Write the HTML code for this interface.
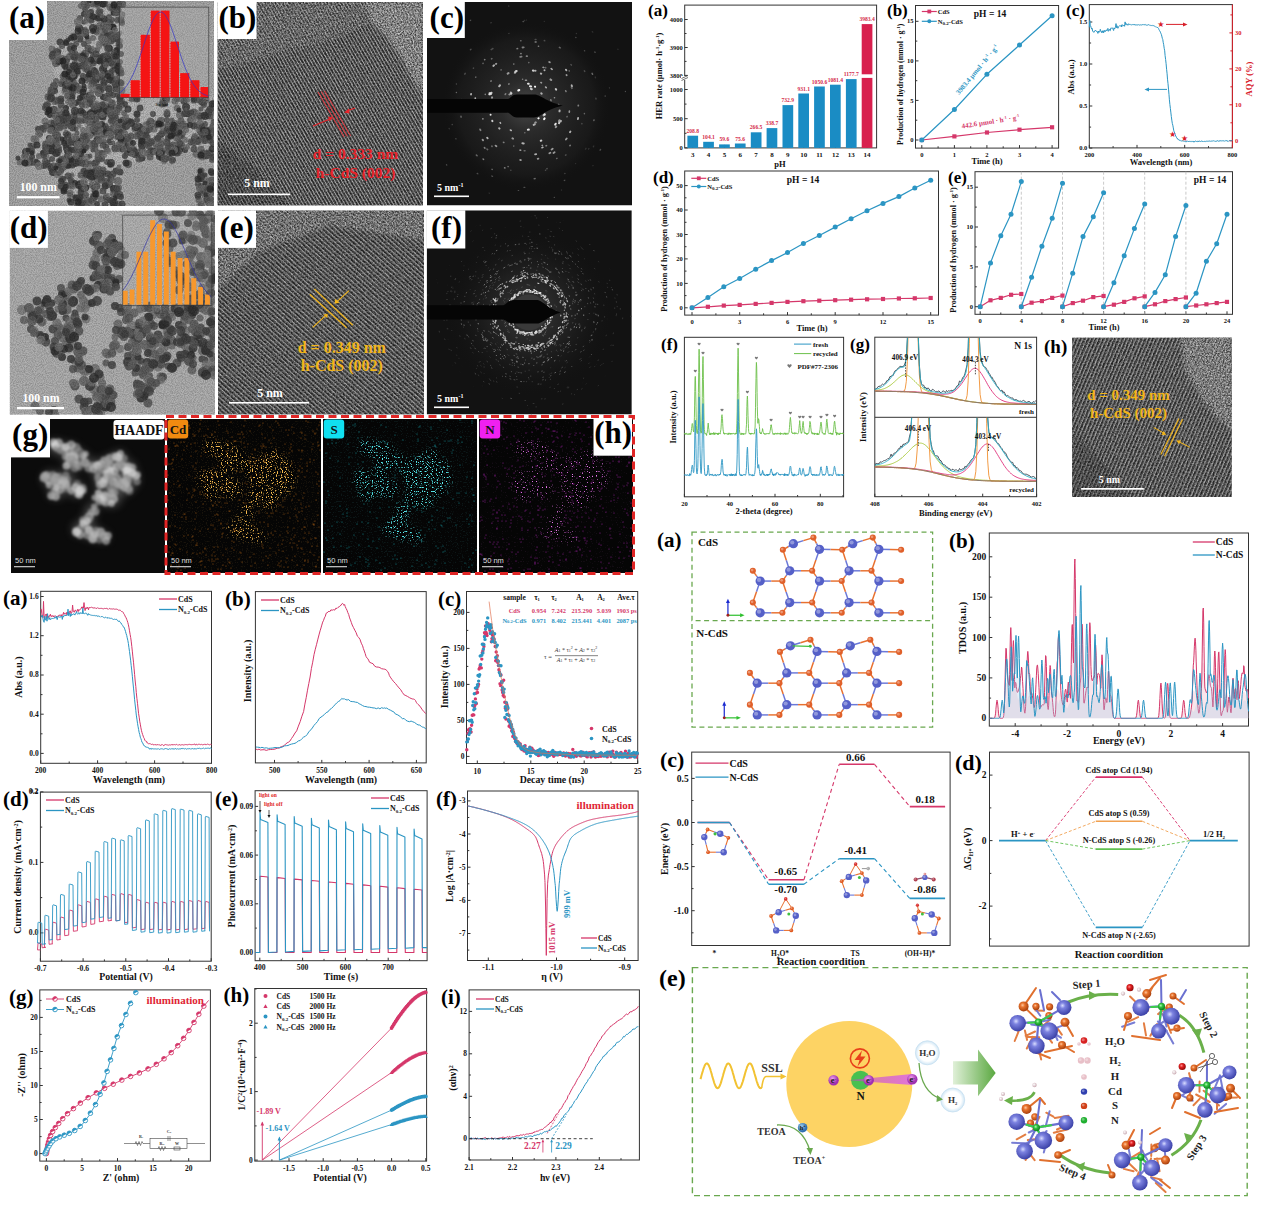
<!DOCTYPE html><html><head><meta charset="utf-8"><title>Figure</title><style>html,body{margin:0;padding:0;background:#fff;}svg{display:block;}</style></head><body>
<svg width="1269" height="1211" viewBox="0 0 1269 1211" font-family="'Liberation Serif', serif">
<rect width="1269" height="1211" fill="#fff"/>
<defs>
<filter id="fnoise" x="0" y="0" width="100%" height="100%"><feTurbulence type="fractalNoise" baseFrequency="0.9" numOctaves="2" seed="3" result="t"/><feColorMatrix type="matrix" values="0 0 0 0 0  0 0 0 0 0  0 0 0 0 0  0 0 0 -2.2 1.5" /></filter>
<filter id="fnoise2" x="0" y="0" width="100%" height="100%"><feTurbulence type="fractalNoise" baseFrequency="0.6" numOctaves="2" seed="7"/><feColorMatrix type="matrix" values="0 0 0 0 1  0 0 0 0 1  0 0 0 0 1  0 0 0 -2.5 1.6" /></filter>
<filter id="fblur04"><feGaussianBlur stdDeviation="0.45"/></filter>
<filter id="fblur1"><feGaussianBlur stdDeviation="1"/></filter>
<filter id="fblur2"><feGaussianBlur stdDeviation="2.2"/></filter>
<filter id="fblur4" x="-50%" y="-50%" width="200%" height="200%"><feGaussianBlur stdDeviation="4"/></filter>
<filter id="fblur6" x="-50%" y="-50%" width="200%" height="200%"><feGaussianBlur stdDeviation="7"/></filter>
<linearGradient id="gS"><stop offset="0" stop-color="#1c1c1c"/><stop offset="0.3" stop-color="#2a2a2a"/><stop offset="0.55" stop-color="#d8d8d8"/><stop offset="0.8" stop-color="#2a2a2a"/><stop offset="1" stop-color="#1c1c1c"/></linearGradient><pattern id="stripeB" width="3.0" height="20" patternUnits="userSpaceOnUse" patternTransform="rotate(-30)"><rect width="3.0" height="20" fill="url(#gS)"/></pattern>
<pattern id="stripeE" width="3.5" height="20" patternUnits="userSpaceOnUse" patternTransform="rotate(-48)"><rect width="3.5" height="20" fill="url(#gS)"/></pattern>
<pattern id="stripeH" width="3.5" height="20" patternUnits="userSpaceOnUse" patternTransform="rotate(23)"><rect width="3.5" height="20" fill="url(#gS)"/></pattern>
<radialGradient id="haloC"><stop offset="0" stop-color="#666" stop-opacity="0.7"/><stop offset="0.3" stop-color="#444" stop-opacity="0.5"/><stop offset="0.8" stop-color="#2a2a2a" stop-opacity="0.3"/><stop offset="1" stop-color="#111" stop-opacity="0"/></radialGradient>
<radialGradient id="haloF"><stop offset="0" stop-color="#555" stop-opacity="0.6"/><stop offset="0.5" stop-color="#333" stop-opacity="0.4"/><stop offset="0.8" stop-color="#1c1c1c" stop-opacity="0.2"/><stop offset="1" stop-color="#111" stop-opacity="0"/></radialGradient>
</defs>
<clipPath id="cpa"><rect x="9" y="1" width="205" height="205"/></clipPath>
<g clip-path="url(#cpa)">
<rect x="9" y="1" width="205" height="205" fill="#a9a9a9" stroke="none" stroke-width="1" />
<g filter="url(#fblur04)">
<path d="M82,1 L122,1 L122,98 L175,98 L214,98 L214,165 L200,158 L185,150 L170,160 L150,160 L125,165 L118,185 L125,206 L68,206 L62,190 L55,175 L40,168 L22,165 L15,158 L25,150 L36,135 L41,120 L48,95 L56,75 L50,60 L53,45 L68,38 L79,20Z" fill="#b8b8b8" filter="url(#fblur2)"/>
<path d="M53 56h0M81 141h0M90 96h0M103 3h0M63 187h0M152 142h0M53 127h0M202 192h0M206 196h0M65 75h0M118 181h0M118 188h0M108 48h0M121 101h0M180 115h0M200 130h0M88 203h0M195 138h0M197 140h0" stroke="rgb(104,104,104)" stroke-width="8.0" stroke-linecap="round" stroke-opacity="0.8"/>
<path d="M69 200h0M60 166h0M92 134h0M84 22h0M118 7h0M104 38h0M81 157h0M65 139h0M100 140h0M177 99h0" stroke="rgb(64,64,64)" stroke-width="5.0" stroke-linecap="round" stroke-opacity="0.8"/>
<path d="M203 102h0M26 152h0M104 26h0M68 151h0M142 145h0M186 107h0M139 127h0M181 135h0M98 60h0M204 131h0M172 134h0M53 172h0M90 103h0M99 59h0M95 131h0M81 57h0" stroke="rgb(48,48,48)" stroke-width="8.0" stroke-linecap="round" stroke-opacity="0.8"/>
<path d="M206 100h0M101 130h0M138 132h0M196 154h0M88 41h0M178 138h0M86 105h0M163 101h0M99 159h0M94 58h0M77 157h0M154 129h0M89 143h0M95 71h0M117 84h0M116 81h0M210 189h0M81 203h0M117 110h0M57 100h0M34 139h0M95 194h0M79 155h0M175 101h0M62 179h0M120 98h0M136 98h0M110 200h0M70 193h0M201 149h0M209 181h0M65 115h0M115 9h0M20 162h0M51 123h0M73 105h0M177 108h0M86 80h0M101 199h0M61 58h0M115 116h0M56 127h0M58 138h0M102 114h0M199 200h0M214 103h0M27 151h0M202 132h0M69 93h0M135 129h0" stroke="rgb(104,104,104)" stroke-width="7.0" stroke-linecap="round" stroke-opacity="0.8"/>
<path d="M102 116h0M102 129h0M105 127h0M201 178h0M54 86h0M82 188h0M69 164h0M109 184h0M114 56h0M109 23h0M79 28h0M118 68h0M75 67h0M192 115h0M85 188h0M83 59h0M146 131h0" stroke="rgb(72,72,72)" stroke-width="8.0" stroke-linecap="round" stroke-opacity="0.8"/>
<path d="M71 182h0M59 124h0M100 13h0M76 138h0M101 57h0M95 163h0M135 152h0M83 76h0M86 35h0M51 127h0M120 62h0M117 50h0M61 114h0M66 147h0M96 169h0M69 160h0M142 146h0M171 146h0M106 181h0M194 139h0M120 194h0M111 133h0M106 42h0M94 108h0M103 97h0M137 120h0M103 35h0M63 179h0M102 159h0M165 104h0M84 44h0M153 114h0M115 85h0M32 151h0M198 184h0M85 9h0M121 126h0M59 151h0M97 162h0M204 115h0M59 161h0M79 199h0M69 57h0M87 6h0M212 183h0M52 159h0M211 129h0M74 71h0M182 124h0M117 52h0" stroke="rgb(72,72,72)" stroke-width="6.0" stroke-linecap="round" stroke-opacity="0.8"/>
<path d="M94 197h0M108 132h0M142 142h0M93 83h0M76 150h0M101 177h0M95 73h0M66 60h0M95 76h0M166 98h0M65 65h0M54 110h0M71 98h0M98 140h0" stroke="rgb(64,64,64)" stroke-width="8.0" stroke-linecap="round" stroke-opacity="0.8"/>
<path d="M79 185h0M186 113h0M115 189h0M114 189h0M75 163h0M136 127h0" stroke="rgb(40,40,40)" stroke-width="8.0" stroke-linecap="round" stroke-opacity="0.8"/>
<path d="M151 121h0M56 140h0M180 150h0M49 138h0M66 108h0M60 61h0M50 115h0M168 131h0M102 124h0M186 126h0M49 110h0M126 146h0M119 4h0M59 126h0M43 153h0M179 148h0M117 50h0M212 173h0" stroke="rgb(40,40,40)" stroke-width="6.0" stroke-linecap="round" stroke-opacity="0.8"/>
<path d="M118 206h0M63 82h0M119 136h0M114 65h0M119 148h0M97 179h0M60 127h0M175 124h0M55 101h0M137 153h0M178 152h0M69 96h0M100 26h0M106 185h0M102 38h0" stroke="rgb(96,96,96)" stroke-width="8.0" stroke-linecap="round" stroke-opacity="0.8"/>
<path d="M177 133h0M175 129h0M120 172h0M57 148h0M115 148h0M213 157h0M80 39h0M102 111h0M167 114h0M69 143h0M104 83h0M177 152h0M201 176h0M100 18h0M60 42h0M66 67h0M105 186h0M100 173h0M47 105h0M173 125h0M167 142h0M105 73h0M108 174h0M94 176h0M123 149h0M169 131h0M81 192h0M99 18h0M204 130h0M116 171h0M97 140h0M84 171h0M124 141h0M103 117h0M92 172h0M151 151h0M120 97h0M80 160h0M76 198h0M160 148h0M169 147h0" stroke="rgb(56,56,56)" stroke-width="7.0" stroke-linecap="round" stroke-opacity="0.8"/>
<path d="M160 145h0M57 153h0M92 124h0M122 105h0M76 113h0M33 146h0M115 113h0M95 31h0M93 90h0M106 36h0M83 158h0M53 142h0M89 128h0M89 175h0M105 4h0M102 77h0M204 191h0M79 163h0M47 143h0M118 204h0M90 114h0M112 30h0M46 156h0M163 127h0M58 51h0M146 125h0M150 121h0M101 31h0M59 111h0M206 181h0M151 153h0M105 24h0M52 49h0M183 124h0M101 113h0M212 188h0M96 104h0M36 140h0M156 144h0M72 160h0M70 56h0M168 134h0M81 56h0M65 91h0M54 146h0M118 188h0M73 36h0M100 89h0M91 86h0M87 157h0M88 132h0M101 131h0M125 122h0M51 138h0M105 29h0M45 121h0M202 157h0M162 141h0M85 59h0M123 128h0" stroke="rgb(112,112,112)" stroke-width="7.0" stroke-linecap="round" stroke-opacity="0.8"/>
<path d="M112 82h0M200 204h0M72 175h0M78 72h0M56 148h0M111 92h0M76 129h0M195 117h0M99 168h0M97 33h0M63 78h0M65 58h0M77 162h0" stroke="rgb(96,96,96)" stroke-width="5.0" stroke-linecap="round" stroke-opacity="0.8"/>
<path d="M117 13h0M207 156h0M71 140h0M78 163h0M194 99h0M214 183h0M102 153h0M139 155h0M162 134h0M121 197h0M158 138h0M76 103h0M58 52h0M38 129h0M202 126h0M85 65h0M29 162h0M185 150h0M113 117h0M61 181h0M91 12h0M113 203h0M112 71h0M115 66h0M172 128h0M211 172h0M106 27h0M91 51h0M70 49h0M122 23h0M41 130h0M87 70h0M121 132h0M73 86h0M61 61h0M211 188h0M127 153h0M71 86h0M105 98h0M97 204h0M70 68h0M74 143h0M103 97h0M120 46h0M131 153h0M106 44h0M55 91h0M125 156h0M81 154h0M107 36h0M94 70h0M89 95h0M111 116h0" stroke="rgb(56,56,56)" stroke-width="6.0" stroke-linecap="round" stroke-opacity="0.8"/>
<path d="M104 135h0M54 109h0M166 158h0M63 120h0M64 111h0M95 166h0M80 183h0M78 153h0M113 194h0M85 30h0M119 126h0M186 111h0M213 109h0M157 150h0M147 153h0M167 112h0M162 120h0M124 113h0M92 117h0M74 82h0M104 142h0M39 156h0M199 140h0M66 125h0M30 160h0M104 142h0M68 77h0M121 70h0M120 41h0M108 106h0M97 141h0M70 195h0M97 50h0M204 141h0M182 145h0M53 57h0M66 125h0M111 165h0M48 104h0M78 73h0M93 61h0M77 90h0M65 61h0M200 156h0M58 153h0M60 120h0M194 140h0M97 135h0M157 147h0M86 67h0M83 100h0M211 113h0M98 6h0M104 104h0M166 143h0M68 78h0M134 149h0M113 201h0" stroke="rgb(96,96,96)" stroke-width="6.0" stroke-linecap="round" stroke-opacity="0.8"/>
<path d="M205 175h0M45 149h0M36 161h0M70 160h0M83 57h0M90 50h0M117 195h0M197 139h0M68 40h0M72 182h0M46 163h0M65 121h0M18 158h0M75 197h0M83 64h0M93 187h0M110 165h0M109 141h0M48 162h0M105 72h0" stroke="rgb(56,56,56)" stroke-width="5.0" stroke-linecap="round" stroke-opacity="0.8"/>
<path d="M111 137h0M106 147h0M56 142h0M86 99h0M100 17h0M111 121h0M61 101h0M93 146h0M125 104h0M84 89h0M211 171h0M101 91h0M76 144h0M108 57h0M208 116h0M102 77h0M106 129h0M86 136h0M197 140h0M68 116h0M106 197h0M110 200h0M50 166h0M114 11h0M78 102h0M81 204h0M187 114h0M32 157h0M113 95h0M135 155h0M83 203h0M66 134h0M66 42h0M103 56h0M201 179h0M161 135h0M107 150h0M44 166h0M120 82h0M66 148h0M81 197h0M115 114h0M173 160h0M103 173h0M71 102h0M75 76h0M67 156h0M146 135h0" stroke="rgb(64,64,64)" stroke-width="6.0" stroke-linecap="round" stroke-opacity="0.8"/>
<path d="M110 143h0M102 43h0M96 129h0M66 133h0M114 79h0M201 109h0M90 163h0M90 156h0M148 123h0M156 138h0M159 135h0M54 172h0M205 130h0M70 179h0M24 156h0" stroke="rgb(80,80,80)" stroke-width="5.0" stroke-linecap="round" stroke-opacity="0.8"/>
<path d="M83 184h0M90 70h0M107 97h0M56 63h0M43 129h0M76 57h0M63 167h0M94 144h0M179 129h0M207 155h0M97 174h0M122 124h0M119 70h0M87 201h0M116 84h0M128 164h0M122 4h0M194 142h0M56 116h0" stroke="rgb(88,88,88)" stroke-width="8.0" stroke-linecap="round" stroke-opacity="0.8"/>
<path d="M184 133h0M112 125h0M66 132h0M202 136h0M111 79h0M89 97h0M100 125h0M85 99h0M120 33h0M106 134h0M198 182h0M79 126h0M91 136h0M51 89h0" stroke="rgb(112,112,112)" stroke-width="5.0" stroke-linecap="round" stroke-opacity="0.8"/>
<path d="M77 85h0M97 81h0M30 145h0M82 206h0M94 123h0M89 171h0M120 141h0M207 129h0M93 150h0M81 67h0M159 152h0M110 179h0M75 68h0M117 95h0" stroke="rgb(72,72,72)" stroke-width="5.0" stroke-linecap="round" stroke-opacity="0.8"/>
<path d="M86 139h0M207 189h0M85 54h0M127 138h0" stroke="rgb(80,80,80)" stroke-width="8.0" stroke-linecap="round" stroke-opacity="0.8"/>
<path d="M48 151h0M105 107h0M105 3h0M203 138h0M106 36h0M202 136h0M57 101h0M92 98h0M79 88h0M56 81h0M39 131h0M73 85h0M83 96h0M80 35h0M86 148h0M99 94h0M85 69h0M114 13h0M93 98h0M56 51h0M117 137h0M72 82h0M62 46h0M209 187h0M61 84h0M117 123h0M73 93h0M132 99h0M52 128h0M75 63h0M118 35h0M210 141h0M91 114h0M106 114h0M199 117h0M40 129h0M119 5h0M106 108h0M82 144h0M89 79h0M108 55h0M45 144h0M110 129h0M172 161h0M163 151h0M99 126h0M71 96h0M201 102h0M85 98h0M93 56h0M198 197h0M118 40h0M65 89h0" stroke="rgb(88,88,88)" stroke-width="6.0" stroke-linecap="round" stroke-opacity="0.8"/>
<path d="M53 54h0M209 111h0M140 108h0M68 135h0M71 150h0M72 97h0M59 119h0M159 123h0M73 128h0M88 18h0M80 184h0M72 165h0M105 205h0M79 66h0M142 129h0M71 126h0M117 39h0M63 121h0M61 99h0M37 163h0M184 101h0M52 145h0M208 112h0M198 195h0M44 153h0M93 76h0M74 159h0M121 83h0M162 158h0M134 151h0M80 197h0M137 99h0M108 35h0M99 87h0M113 39h0M194 126h0M91 20h0M65 185h0M119 45h0M116 89h0M194 100h0M74 57h0M83 144h0M212 133h0M117 132h0M111 76h0M75 120h0M51 168h0M122 204h0M98 18h0M90 117h0M153 151h0M51 93h0M83 150h0M83 113h0M121 92h0M106 133h0" stroke="rgb(64,64,64)" stroke-width="7.0" stroke-linecap="round" stroke-opacity="0.8"/>
<path d="M108 151h0M86 21h0M201 149h0M71 66h0M117 107h0M50 151h0M117 109h0M106 43h0M66 113h0M104 155h0M93 76h0M105 64h0M64 75h0M113 64h0M114 3h0M91 146h0M75 39h0M91 179h0M95 59h0M82 121h0M198 142h0M80 116h0M199 188h0M92 49h0M91 205h0M55 128h0M24 157h0M206 193h0M96 165h0M137 125h0M205 202h0M147 145h0M107 196h0M93 16h0M99 46h0M155 152h0M144 129h0M57 175h0M91 93h0M120 122h0M102 141h0M68 102h0M103 138h0M131 121h0M121 92h0M185 140h0M52 141h0M83 130h0M122 144h0M180 99h0M99 94h0M89 167h0M53 59h0M84 102h0M85 176h0M213 200h0M76 156h0M90 136h0M99 44h0M164 161h0" stroke="rgb(112,112,112)" stroke-width="6.0" stroke-linecap="round" stroke-opacity="0.8"/>
<path d="M213 181h0M95 109h0M96 54h0M104 82h0M167 130h0M61 105h0M97 3h0M115 8h0M213 143h0M68 176h0M111 41h0M64 119h0M61 186h0M117 196h0M96 119h0M93 63h0M204 135h0M151 142h0M149 143h0M210 138h0M210 153h0M102 105h0M96 124h0M95 144h0M142 149h0M147 137h0M194 149h0M201 175h0M177 153h0M69 119h0M95 115h0M128 121h0M103 191h0M54 123h0M81 30h0M117 189h0M86 115h0M74 116h0M140 134h0M111 177h0M111 63h0M190 114h0M191 113h0M202 116h0M119 108h0M45 165h0M180 144h0M97 186h0M120 102h0M98 115h0M210 109h0M165 159h0M141 137h0M95 190h0" stroke="rgb(72,72,72)" stroke-width="7.0" stroke-linecap="round" stroke-opacity="0.8"/>
<path d="M113 121h0M205 141h0M80 18h0M116 118h0M114 52h0M99 78h0M107 200h0M44 156h0M86 147h0M105 30h0M45 108h0M29 163h0M120 82h0M42 128h0M109 17h0M58 135h0M112 34h0M190 120h0M201 186h0M172 152h0M146 144h0M198 100h0M168 138h0M72 91h0M149 147h0M158 139h0M86 195h0M71 185h0M212 160h0M167 120h0M204 105h0M45 147h0M205 124h0M77 205h0M198 142h0M169 158h0M112 20h0M184 114h0M59 148h0M200 127h0M32 148h0M168 152h0M105 88h0M149 130h0M117 79h0M61 159h0M107 162h0M76 44h0M82 105h0M203 191h0M57 166h0M55 134h0M207 134h0M108 61h0M59 173h0M68 117h0M32 163h0M157 125h0M82 97h0M109 73h0M61 171h0M79 121h0M45 161h0M59 124h0M195 125h0M150 128h0" stroke="rgb(80,80,80)" stroke-width="6.0" stroke-linecap="round" stroke-opacity="0.8"/>
<path d="M210 199h0M99 174h0M80 144h0M173 145h0M65 141h0M85 164h0M85 137h0M111 38h0M90 13h0M110 49h0M84 78h0M130 142h0M179 142h0M71 69h0M150 157h0M98 157h0M120 70h0M48 97h0M47 151h0M123 120h0M81 175h0M64 159h0M103 4h0M51 90h0M96 29h0M181 121h0M116 36h0M98 153h0M84 4h0M60 127h0M105 43h0M108 76h0M73 124h0M56 131h0M113 204h0M162 104h0M104 67h0M95 143h0M105 39h0M122 90h0M72 53h0M113 57h0M168 125h0M119 73h0M86 163h0M54 166h0M84 66h0M112 114h0M116 60h0M162 133h0M93 4h0M168 147h0M95 147h0" stroke="rgb(88,88,88)" stroke-width="7.0" stroke-linecap="round" stroke-opacity="0.8"/>
<path d="M212 191h0M87 187h0M114 27h0M115 198h0M205 183h0M120 121h0M62 139h0M88 75h0M60 161h0M28 150h0M78 140h0M129 150h0M105 132h0M84 86h0M113 13h0M180 132h0M70 86h0M32 153h0M206 195h0" stroke="rgb(48,48,48)" stroke-width="5.0" stroke-linecap="round" stroke-opacity="0.8"/>
<path d="M91 173h0M77 71h0M121 73h0M90 74h0M99 109h0M73 88h0M175 151h0M81 111h0M113 27h0M207 133h0M111 107h0M91 60h0M94 111h0M109 48h0M142 141h0M176 149h0M110 80h0M162 157h0M90 176h0M78 31h0M198 179h0M126 163h0M121 20h0M128 109h0M52 151h0M116 56h0M108 59h0M121 138h0M109 89h0M159 154h0M173 128h0M83 56h0M103 4h0M74 37h0M37 145h0M71 202h0M142 158h0M96 79h0M212 149h0M66 113h0M64 191h0M118 10h0M100 61h0M118 66h0M104 19h0M212 104h0M106 111h0M92 177h0" stroke="rgb(48,48,48)" stroke-width="7.0" stroke-linecap="round" stroke-opacity="0.8"/>
<path d="M95 163h0M108 48h0M115 83h0M75 54h0M194 112h0M83 136h0M113 174h0M85 60h0M88 48h0M201 171h0M68 123h0M71 46h0M137 136h0M94 81h0M112 103h0M86 32h0M103 170h0M107 55h0M205 156h0M30 162h0M207 200h0M51 93h0M99 12h0M98 175h0M110 62h0M118 20h0M131 136h0M135 127h0M82 163h0M214 122h0M101 180h0M207 153h0M99 77h0M46 126h0M92 200h0M139 159h0M203 153h0M109 94h0M46 106h0M210 116h0M191 142h0M207 132h0M200 116h0M117 9h0M103 145h0M85 120h0M52 56h0M71 142h0M210 136h0M95 73h0M109 88h0" stroke="rgb(80,80,80)" stroke-width="7.0" stroke-linecap="round" stroke-opacity="0.8"/>
<path d="M47 113h0M70 88h0M87 37h0M179 110h0M89 1h0M84 151h0M56 168h0M200 171h0" stroke="rgb(40,40,40)" stroke-width="5.0" stroke-linecap="round" stroke-opacity="0.8"/>
<path d="M87 174h0M74 66h0M75 111h0M131 123h0M93 28h0M205 116h0M103 69h0M126 126h0M69 76h0M105 63h0M66 85h0M56 153h0M51 98h0M68 150h0M111 163h0M114 203h0M51 145h0" stroke="rgb(56,56,56)" stroke-width="8.0" stroke-linecap="round" stroke-opacity="0.8"/>
<path d="M102 16h0M97 77h0M97 93h0M87 19h0M116 78h0M119 167h0M87 206h0M176 139h0M62 76h0M199 189h0" stroke="rgb(104,104,104)" stroke-width="5.0" stroke-linecap="round" stroke-opacity="0.8"/>
<path d="M128 126h0M26 155h0M176 125h0M77 133h0M92 199h0M72 180h0M200 133h0M89 98h0M66 150h0M61 170h0M65 127h0M113 143h0M101 11h0M128 110h0M111 130h0M52 92h0M172 120h0M97 125h0" stroke="rgb(88,88,88)" stroke-width="5.0" stroke-linecap="round" stroke-opacity="0.8"/>
<path d="M50 141h0M72 103h0M109 135h0M78 145h0M104 40h0M193 119h0M78 22h0M75 137h0M27 163h0M39 134h0M84 182h0M143 153h0M39 166h0M174 150h0" stroke="rgb(112,112,112)" stroke-width="8.0" stroke-linecap="round" stroke-opacity="0.8"/>
<path d="M74 48h0M190 125h0M203 130h0M59 62h0M69 72h0M84 14h0M108 76h0M66 187h0M121 140h0M133 143h0M161 124h0M94 17h0M121 83h0M61 61h0M64 143h0M68 166h0M73 122h0M71 79h0M74 77h0M174 125h0M93 31h0M66 43h0M71 38h0M162 153h0M159 157h0M118 71h0M97 2h0M207 131h0M52 128h0M80 98h0M112 27h0M64 190h0M112 8h0M121 54h0M71 160h0M91 112h0M208 134h0M90 113h0M92 16h0M75 183h0M130 150h0M209 137h0" stroke="rgb(48,48,48)" stroke-width="6.0" stroke-linecap="round" stroke-opacity="0.8"/>
<path d="M214 205h0M115 149h0M92 185h0M214 133h0M110 111h0M205 132h0M97 106h0M93 129h0M111 8h0M51 130h0M184 126h0M117 112h0M56 135h0M89 122h0M58 60h0M69 155h0M153 124h0M94 107h0M81 59h0M153 123h0M57 142h0M110 7h0M130 148h0M119 145h0M164 158h0M201 206h0M213 126h0M116 13h0M88 65h0M68 83h0M212 180h0M114 127h0M72 186h0M182 125h0M161 144h0M108 26h0M112 103h0M122 15h0M91 115h0M87 14h0M121 90h0M94 126h0M211 193h0M120 136h0M85 33h0" stroke="rgb(96,96,96)" stroke-width="7.0" stroke-linecap="round" stroke-opacity="0.8"/>
<path d="M58 145h0M160 120h0M195 136h0M106 27h0M202 188h0M177 99h0M124 149h0M50 131h0M98 92h0M167 100h0M187 100h0M187 147h0M57 120h0M209 204h0M102 115h0M64 164h0M113 180h0M109 100h0M81 6h0M106 65h0M79 91h0M84 143h0M108 28h0M66 161h0M102 74h0M99 141h0M108 42h0M125 133h0M101 135h0M93 38h0M67 96h0M212 180h0M58 55h0M197 113h0M85 188h0M160 153h0M132 154h0M126 117h0M40 134h0M96 187h0M99 124h0M115 30h0M26 156h0M73 75h0M186 130h0M200 122h0" stroke="rgb(104,104,104)" stroke-width="6.0" stroke-linecap="round" stroke-opacity="0.8"/>
<path d="M210 189h0M171 136h0M78 202h0M137 114h0M201 155h0M65 74h0M25 163h0M49 110h0M96 194h0M83 92h0M82 81h0M172 153h0M159 124h0M114 5h0M63 61h0" stroke="rgb(40,40,40)" stroke-width="7.0" stroke-linecap="round" stroke-opacity="0.8"/>
</g>
<rect x="9" y="1" width="205" height="205" fill="#000" stroke="none" stroke-width="1" filter="url(#fnoise)" opacity="0.22"/>
<rect x="119.3" y="7.1" width="89.5" height="90.5" fill="#b4b4b4" stroke="none" stroke-width="1" fill-opacity="0.3"/>
<rect x="120.5" y="93.8" width="9.3" height="3.8" fill="#f41414" stroke="none" stroke-width="1" />
<rect x="130.4" y="80.2" width="9.6" height="17.4" fill="#f41414" stroke="none" stroke-width="1" />
<rect x="140.4" y="34.8" width="9.6" height="62.8" fill="#f41414" stroke="none" stroke-width="1" />
<rect x="150.5" y="10.6" width="9.3" height="87" fill="#f41414" stroke="none" stroke-width="1" />
<rect x="160.4" y="10.6" width="9.1" height="87" fill="#f41414" stroke="none" stroke-width="1" />
<rect x="170.2" y="41.6" width="8.8" height="56" fill="#f41414" stroke="none" stroke-width="1" />
<rect x="180" y="73.1" width="9.3" height="24.5" fill="#f41414" stroke="none" stroke-width="1" />
<rect x="190.1" y="80.2" width="9.3" height="17.4" fill="#f41414" stroke="none" stroke-width="1" />
<rect x="200.2" y="87" width="8.1" height="10.6" fill="#f41414" stroke="none" stroke-width="1" />
<line x1="130.2" y1="80.2" x2="130.2" y2="97.6" stroke="#ddd" stroke-width="0.6" stroke-dasharray="1.5,1"/>
<line x1="140.2" y1="34.8" x2="140.2" y2="97.6" stroke="#ddd" stroke-width="0.6" stroke-dasharray="1.5,1"/>
<line x1="150.3" y1="10.6" x2="150.3" y2="97.6" stroke="#ddd" stroke-width="0.6" stroke-dasharray="1.5,1"/>
<line x1="160.2" y1="10.6" x2="160.2" y2="97.6" stroke="#ddd" stroke-width="0.6" stroke-dasharray="1.5,1"/>
<line x1="170" y1="41.6" x2="170" y2="97.6" stroke="#ddd" stroke-width="0.6" stroke-dasharray="1.5,1"/>
<line x1="179.8" y1="73.1" x2="179.8" y2="97.6" stroke="#ddd" stroke-width="0.6" stroke-dasharray="1.5,1"/>
<line x1="189.9" y1="80.2" x2="189.9" y2="97.6" stroke="#ddd" stroke-width="0.6" stroke-dasharray="1.5,1"/>
<line x1="200" y1="87" x2="200" y2="97.6" stroke="#ddd" stroke-width="0.6" stroke-dasharray="1.5,1"/>
<polyline points="119.3,93.1 120.8,92.0 122.3,90.7 123.9,89.2 125.4,87.5 126.9,85.5 128.4,83.2 129.9,80.6 131.4,77.8 133.0,74.6 134.5,71.1 136.0,67.3 137.5,63.3 139.0,59.1 140.5,54.6 142.1,50.1 143.6,45.5 145.1,40.8 146.6,36.3 148.1,31.9 149.6,27.8 151.2,24.0 152.7,20.6 154.2,17.7 155.7,15.3 157.2,13.6 158.7,12.5 160.3,12.0 161.8,12.2 163.3,13.1 164.8,14.7 166.3,16.9 167.8,19.6 169.4,22.9 170.9,26.5 172.4,30.6 173.9,34.9 175.4,39.4 176.9,44.0 178.5,48.6 180.0,53.2 181.5,57.7 183.0,62.0 184.5,66.1 186.0,69.9 187.6,73.5 189.1,76.8 190.6,79.7 192.1,82.4 193.6,84.8 195.1,86.9 196.7,88.7 198.2,90.3 199.7,91.6 201.2,92.7 202.7,93.7 204.2,94.5 205.8,95.1 207.3,95.7 208.8,96.1" fill="none" stroke="#3434c8" stroke-width="0.7" stroke-linejoin="round" />
<rect x="119.3" y="7.1" width="89.5" height="90.5" fill="none" stroke="#333" stroke-width="0.6" />
<text x="129" y="101" font-size="2.5" text-anchor="middle" font-weight="bold" fill="#111" >0</text>
<text x="164" y="101" font-size="2.5" text-anchor="middle" font-weight="bold" fill="#111" >10</text>
<text x="207" y="101" font-size="2.5" text-anchor="middle" font-weight="bold" fill="#111" >20</text>
<text x="162" y="106" font-size="3" text-anchor="middle" font-weight="bold" fill="#111" >Size (nm)</text>
</g>
<rect x="0" y="0" width="47" height="40" fill="#fff" stroke="none" stroke-width="1" />
<text x="9" y="28" font-size="31" text-anchor="start" font-weight="bold" fill="#000" >(a)</text>
<text x="38.2" y="191.3" font-size="11.8" text-anchor="middle" font-weight="bold" fill="#fff" >100 nm</text>
<rect x="16.8" y="196.1" width="42.8" height="2.3" fill="#fff" stroke="none" stroke-width="1" />
<clipPath id="cpd"><rect x="9.6" y="210.6" width="205.4" height="204.2"/></clipPath>
<g clip-path="url(#cpd)">
<rect x="9.6" y="210.6" width="205.4" height="204.2" fill="#b0b0b0" stroke="none" stroke-width="1" />
<g filter="url(#fblur04)">
<path d="M139 372h0M184 317h0M135 373h0M68 345h0M202 346h0M106 270h0M190 256h0M170 249h0M137 383h0" stroke="rgb(80,80,80)" stroke-width="7.0" stroke-linecap="round" stroke-opacity="0.82"/>
<path d="M193 211h0M119 279h0M112 278h0M124 337h0M46 314h0M195 272h0M90 370h0M86 369h0M59 327h0M150 368h0M178 313h0M195 332h0M65 296h0M96 235h0M109 391h0M143 375h0M149 376h0M189 314h0M145 308h0M126 320h0" stroke="rgb(88,88,88)" stroke-width="8.0" stroke-linecap="round" stroke-opacity="0.82"/>
<path d="M84 371h0M67 310h0M202 308h0M85 402h0M106 268h0M74 289h0M161 377h0M192 265h0M160 314h0M110 389h0M72 325h0M40 310h0M78 368h0M214 337h0M137 331h0M213 248h0M134 313h0M202 278h0M192 370h0M206 350h0M108 277h0M42 322h0M92 289h0M33 315h0" stroke="rgb(96,96,96)" stroke-width="9.0" stroke-linecap="round" stroke-opacity="0.82"/>
<path d="M112 280h0M58 347h0M66 318h0M75 313h0M202 359h0M85 406h0M205 360h0M117 266h0" stroke="rgb(64,64,64)" stroke-width="7.0" stroke-linecap="round" stroke-opacity="0.82"/>
<path d="M58 309h0M150 305h0M96 394h0M74 361h0M198 270h0M65 344h0M133 338h0" stroke="rgb(112,112,112)" stroke-width="7.0" stroke-linecap="round" stroke-opacity="0.82"/>
<path d="M211 312h0M92 409h0M202 373h0M31 329h0M108 278h0M55 341h0M200 335h0M112 238h0M163 377h0M188 340h0M154 326h0M128 356h0M193 364h0M98 235h0M215 219h0M128 347h0" stroke="rgb(72,72,72)" stroke-width="8.0" stroke-linecap="round" stroke-opacity="0.82"/>
<path d="M120 349h0M184 240h0M101 413h0M172 317h0M120 265h0M116 286h0" stroke="rgb(120,120,120)" stroke-width="8.0" stroke-linecap="round" stroke-opacity="0.82"/>
<path d="M61 348h0M176 225h0M190 309h0M159 354h0M201 226h0M208 264h0M127 313h0M146 330h0M200 267h0M117 266h0M81 295h0M177 277h0M191 350h0M87 370h0M160 352h0M100 280h0M50 317h0M179 256h0M73 383h0M128 307h0M214 227h0M202 351h0M102 383h0M184 321h0" stroke="rgb(104,104,104)" stroke-width="8.0" stroke-linecap="round" stroke-opacity="0.82"/>
<path d="M71 334h0M202 287h0M156 344h0M205 233h0M193 358h0M67 302h0M196 224h0M199 343h0M200 318h0" stroke="rgb(96,96,96)" stroke-width="7.0" stroke-linecap="round" stroke-opacity="0.82"/>
<path d="M70 303h0M209 288h0M164 347h0M94 389h0M152 315h0M214 362h0M47 302h0M211 277h0M111 245h0M95 260h0M208 344h0M150 382h0M163 218h0M136 342h0M95 369h0" stroke="rgb(112,112,112)" stroke-width="10.0" stroke-linecap="round" stroke-opacity="0.82"/>
<path d="M188 351h0M132 326h0M22 310h0M32 315h0M86 371h0M208 280h0M101 405h0" stroke="rgb(120,120,120)" stroke-width="10.0" stroke-linecap="round" stroke-opacity="0.82"/>
<path d="M143 329h0M186 254h0M167 256h0M182 285h0M62 311h0M132 354h0M138 326h0M106 363h0" stroke="rgb(88,88,88)" stroke-width="7.0" stroke-linecap="round" stroke-opacity="0.82"/>
<path d="M80 283h0M210 303h0M138 369h0M150 387h0M152 347h0M132 343h0M87 304h0M210 237h0M152 386h0M34 331h0M109 241h0M213 357h0M35 406h0M105 258h0M188 297h0M170 314h0M210 351h0M118 324h0M126 313h0M62 335h0M63 338h0M169 224h0M106 353h0" stroke="rgb(104,104,104)" stroke-width="9.0" stroke-linecap="round" stroke-opacity="0.82"/>
<path d="M203 343h0M128 362h0M87 289h0M190 300h0M90 386h0M105 396h0M141 326h0M73 301h0M94 241h0M133 334h0M207 370h0M104 406h0M33 316h0" stroke="rgb(56,56,56)" stroke-width="10.0" stroke-linecap="round" stroke-opacity="0.82"/>
<path d="M138 362h0M182 237h0M183 255h0M100 377h0M85 308h0M86 319h0M158 367h0M213 277h0M141 387h0M151 351h0M73 346h0M193 311h0M183 311h0M186 331h0M187 281h0M44 338h0M138 333h0M206 365h0M183 239h0" stroke="rgb(120,120,120)" stroke-width="9.0" stroke-linecap="round" stroke-opacity="0.82"/>
<path d="M79 399h0M194 251h0M129 366h0M151 324h0M176 212h0M206 234h0M99 273h0M75 386h0M113 395h0M140 385h0M200 215h0M69 337h0M177 363h0M93 265h0M211 253h0M110 291h0M203 225h0M46 342h0M84 407h0M47 300h0M211 293h0M101 390h0M209 216h0" stroke="rgb(72,72,72)" stroke-width="9.0" stroke-linecap="round" stroke-opacity="0.82"/>
<path d="M167 243h0M142 334h0M209 346h0M69 348h0M167 234h0M198 335h0M70 339h0M122 331h0M99 374h0M37 301h0M106 407h0M179 290h0M169 225h0M120 263h0M39 319h0M193 348h0M78 324h0M163 324h0M181 281h0" stroke="rgb(56,56,56)" stroke-width="9.0" stroke-linecap="round" stroke-opacity="0.82"/>
<path d="M62 294h0M64 349h0M98 285h0M149 317h0M210 322h0M92 303h0M191 355h0M114 243h0M115 284h0M89 369h0M62 357h0M205 304h0M45 337h0M127 332h0" stroke="rgb(48,48,48)" stroke-width="8.0" stroke-linecap="round" stroke-opacity="0.82"/>
<path d="M103 398h0M32 321h0M29 308h0M159 360h0M181 212h0M144 388h0M99 246h0M151 343h0M81 365h0M207 219h0M108 244h0M203 243h0" stroke="rgb(88,88,88)" stroke-width="10.0" stroke-linecap="round" stroke-opacity="0.82"/>
<path d="M161 380h0M67 294h0M202 306h0M185 346h0M77 351h0M97 237h0M75 338h0M135 356h0M85 411h0M96 288h0M147 378h0M212 233h0M69 321h0M121 257h0M191 235h0M121 250h0M212 300h0M167 332h0" stroke="rgb(112,112,112)" stroke-width="8.0" stroke-linecap="round" stroke-opacity="0.82"/>
<path d="M57 353h0M165 316h0M203 372h0M204 220h0M103 274h0M111 253h0M149 307h0M201 257h0M210 332h0M52 315h0M98 414h0M122 334h0" stroke="rgb(80,80,80)" stroke-width="10.0" stroke-linecap="round" stroke-opacity="0.82"/>
<path d="M89 401h0M44 304h0M213 252h0M201 270h0M157 311h0M205 219h0M201 327h0M141 361h0M209 294h0M176 270h0M168 366h0M186 264h0" stroke="rgb(72,72,72)" stroke-width="7.0" stroke-linecap="round" stroke-opacity="0.82"/>
<path d="M172 346h0M210 212h0M41 336h0M108 355h0M103 269h0M134 362h0M62 303h0M115 337h0" stroke="rgb(104,104,104)" stroke-width="7.0" stroke-linecap="round" stroke-opacity="0.82"/>
<path d="M159 211h0M167 321h0M187 309h0M138 338h0M204 274h0M189 361h0" stroke="rgb(72,72,72)" stroke-width="10.0" stroke-linecap="round" stroke-opacity="0.82"/>
<path d="M170 329h0M213 270h0M98 275h0M180 343h0M106 392h0M148 403h0M119 246h0M38 311h0M194 324h0M79 331h0M144 329h0M165 308h0M161 364h0M72 335h0M83 351h0M213 370h0M214 338h0M111 259h0M127 331h0M210 284h0M75 317h0" stroke="rgb(80,80,80)" stroke-width="9.0" stroke-linecap="round" stroke-opacity="0.82"/>
<path d="M96 266h0M158 335h0M183 235h0M54 347h0M167 356h0M117 263h0M191 305h0M53 329h0M77 322h0M114 250h0M188 307h0M79 362h0M67 330h0M121 264h0" stroke="rgb(64,64,64)" stroke-width="9.0" stroke-linecap="round" stroke-opacity="0.82"/>
<path d="M87 412h0M144 394h0M136 357h0M145 345h0M136 347h0M129 333h0M84 381h0M215 332h0M69 330h0M115 247h0M115 345h0M79 353h0M215 245h0M171 340h0M193 341h0" stroke="rgb(96,96,96)" stroke-width="10.0" stroke-linecap="round" stroke-opacity="0.82"/>
<path d="M55 351h0M192 309h0M200 267h0M104 289h0M206 351h0M195 342h0M173 243h0M175 308h0M141 398h0M46 302h0M144 396h0M163 325h0M166 342h0M200 304h0M198 295h0M173 225h0M215 278h0" stroke="rgb(48,48,48)" stroke-width="9.0" stroke-linecap="round" stroke-opacity="0.82"/>
<path d="M183 330h0M152 359h0M145 325h0M194 238h0" stroke="rgb(120,120,120)" stroke-width="7.0" stroke-linecap="round" stroke-opacity="0.82"/>
<path d="M106 257h0M180 311h0M208 249h0M210 354h0M52 303h0M85 317h0M138 357h0" stroke="rgb(56,56,56)" stroke-width="7.0" stroke-linecap="round" stroke-opacity="0.82"/>
<path d="M193 272h0M108 270h0M177 342h0M170 261h0M40 335h0M205 350h0M178 274h0M184 337h0M166 358h0M188 223h0M71 359h0M115 306h0M63 304h0M212 324h0M148 317h0M213 280h0M185 354h0M179 325h0M154 364h0M136 368h0M212 279h0M192 315h0M108 252h0M148 353h0M150 338h0M147 362h0M78 346h0M180 355h0M195 307h0M97 406h0" stroke="rgb(56,56,56)" stroke-width="8.0" stroke-linecap="round" stroke-opacity="0.82"/>
<path d="M116 282h0M166 324h0M162 325h0M93 278h0M182 241h0M64 294h0" stroke="rgb(48,48,48)" stroke-width="7.0" stroke-linecap="round" stroke-opacity="0.82"/>
<path d="M206 310h0M97 397h0M181 343h0M112 252h0M210 262h0M104 390h0M59 300h0M137 351h0M214 237h0" stroke="rgb(104,104,104)" stroke-width="10.0" stroke-linecap="round" stroke-opacity="0.82"/>
<path d="M146 366h0M143 373h0M106 404h0M137 394h0M34 333h0M180 338h0M137 386h0M132 365h0M24 320h0M183 327h0M201 293h0M196 227h0M113 346h0M155 354h0M192 329h0M150 336h0M79 359h0M189 320h0M67 327h0M40 411h0" stroke="rgb(96,96,96)" stroke-width="8.0" stroke-linecap="round" stroke-opacity="0.82"/>
<path d="M178 309h0M139 393h0M212 311h0M198 305h0M54 410h0M202 217h0M190 238h0M167 232h0M137 384h0M213 372h0M193 301h0M73 369h0M116 287h0M61 288h0M121 312h0M139 323h0M156 383h0M49 306h0M191 340h0M125 255h0" stroke="rgb(80,80,80)" stroke-width="8.0" stroke-linecap="round" stroke-opacity="0.82"/>
<path d="M210 215h0M101 270h0M155 340h0M41 340h0M92 411h0M75 384h0M108 283h0M87 415h0M71 302h0M199 272h0M97 253h0M173 367h0M81 308h0M143 321h0M59 347h0M204 332h0M83 300h0M57 323h0M192 216h0M139 336h0M205 258h0M140 309h0M180 307h0M92 382h0M214 375h0M69 291h0M156 308h0M207 254h0M55 415h0" stroke="rgb(112,112,112)" stroke-width="9.0" stroke-linecap="round" stroke-opacity="0.82"/>
<path d="M212 320h0M109 391h0M192 254h0M125 334h0M212 321h0M120 308h0M101 250h0M204 229h0M163 359h0M49 412h0M170 263h0M181 332h0M81 281h0M112 365h0M206 331h0M84 402h0M66 332h0M47 299h0M149 317h0M181 342h0M63 311h0M50 311h0M204 275h0M116 330h0M181 358h0M181 330h0M153 341h0M202 298h0" stroke="rgb(64,64,64)" stroke-width="8.0" stroke-linecap="round" stroke-opacity="0.82"/>
<path d="M106 261h0M105 288h0M105 284h0M197 240h0M185 316h0M96 275h0M194 344h0M151 382h0M112 353h0M198 277h0M62 307h0M72 285h0M211 345h0M106 286h0M190 250h0M129 318h0M111 402h0M190 287h0M168 335h0M145 370h0M190 257h0M147 329h0M205 229h0M160 339h0M58 335h0M212 344h0M198 331h0" stroke="rgb(88,88,88)" stroke-width="9.0" stroke-linecap="round" stroke-opacity="0.82"/>
<path d="M194 311h0M111 407h0M179 312h0M172 368h0M181 277h0M206 375h0M94 378h0M74 337h0" stroke="rgb(48,48,48)" stroke-width="10.0" stroke-linecap="round" stroke-opacity="0.82"/>
<path d="M89 291h0M73 302h0M52 316h0M96 409h0M97 301h0M172 331h0M193 240h0M186 339h0M77 286h0M153 364h0M115 262h0M149 391h0M200 265h0" stroke="rgb(64,64,64)" stroke-width="10.0" stroke-linecap="round" stroke-opacity="0.82"/>
</g>
<rect x="9.6" y="210.6" width="205.4" height="204.2" fill="#000" stroke="none" stroke-width="1" filter="url(#fnoise)" opacity="0.2"/>
<rect x="122.8" y="215.1" width="89" height="90.3" fill="#c4c4c4" stroke="none" stroke-width="1" fill-opacity="0.15"/>
<rect x="122.8" y="290.8" width="4.9" height="13.9" fill="#f7982e" stroke="none" stroke-width="1" />
<rect x="129.6" y="289.5" width="4.9" height="15.1" fill="#f7982e" stroke="none" stroke-width="1" />
<rect x="136.5" y="251.7" width="4.9" height="53" fill="#f7982e" stroke="none" stroke-width="1" />
<rect x="143.3" y="251.7" width="4.9" height="53" fill="#f7982e" stroke="none" stroke-width="1" />
<rect x="150.2" y="220.2" width="4.9" height="84.5" fill="#f7982e" stroke="none" stroke-width="1" />
<rect x="157" y="224" width="4.9" height="80.7" fill="#f7982e" stroke="none" stroke-width="1" />
<rect x="163.9" y="231.5" width="4.9" height="73.1" fill="#f7982e" stroke="none" stroke-width="1" />
<rect x="170.7" y="251.7" width="4.9" height="53" fill="#f7982e" stroke="none" stroke-width="1" />
<rect x="177.6" y="258" width="4.9" height="46.6" fill="#f7982e" stroke="none" stroke-width="1" />
<rect x="184.4" y="258" width="4.9" height="46.6" fill="#f7982e" stroke="none" stroke-width="1" />
<rect x="191.3" y="278.2" width="4.9" height="26.5" fill="#f7982e" stroke="none" stroke-width="1" />
<rect x="198.1" y="287" width="4.9" height="17.7" fill="#f7982e" stroke="none" stroke-width="1" />
<rect x="205" y="294.6" width="4.9" height="10.1" fill="#f7982e" stroke="none" stroke-width="1" />
<polyline points="122.8,290.4 124.3,288.4 125.8,286.2 127.3,283.9 128.8,281.3 130.3,278.6 131.9,275.7 133.4,272.6 134.9,269.4 136.4,266.1 137.9,262.7 139.4,259.2 140.9,255.6 142.4,252.0 143.9,248.4 145.4,244.9 146.9,241.4 148.4,238.1 150.0,234.9 151.5,232.0 153.0,229.2 154.5,226.7 156.0,224.5 157.5,222.7 159.0,221.2 160.5,220.1 162.0,219.3 163.5,219.0 165.0,219.1 166.5,219.6 168.1,220.5 169.6,221.7 171.1,223.3 172.6,225.3 174.1,227.6 175.6,230.2 177.1,233.0 178.6,236.1 180.1,239.3 181.6,242.7 183.1,246.2 184.6,249.8 186.2,253.4 187.7,257.0 189.2,260.5 190.7,264.0 192.2,267.4 193.7,270.7 195.2,273.8 196.7,276.8 198.2,279.6 199.7,282.3 201.2,284.8 202.7,287.1 204.3,289.2 205.8,291.1 207.3,292.9 208.8,294.5 210.3,296.0 211.8,297.2" fill="none" stroke="#3434a8" stroke-width="0.7" stroke-linejoin="round" />
<rect x="122.8" y="215.1" width="89" height="90.3" fill="none" stroke="#333" stroke-width="0.6" />
</g>
<rect x="9.6" y="210.6" width="38.3" height="37.3" fill="#fff" stroke="none" stroke-width="1" />
<text x="9.8" y="238" font-size="31" text-anchor="start" font-weight="bold" fill="#000" >(d)</text>
<text x="41" y="402" font-size="11.8" text-anchor="middle" font-weight="bold" fill="#fff" >100 nm</text>
<rect x="17" y="407" width="47" height="2.3" fill="#fff" stroke="none" stroke-width="1" />
<clipPath id="cpb"><rect x="217.5" y="2" width="205.5" height="203.5"/></clipPath>
<g clip-path="url(#cpb)">
<rect x="217.5" y="2" width="205.5" height="203.5" fill="#6a6a6a" stroke="none" stroke-width="1" />
<rect x="217.5" y="2" width="205.5" height="203.5" fill="url(#stripeB)" stroke="none" stroke-width="1" opacity="0.85"/>
<polygon points="365.0,2.0 423.0,2.0 423.0,95.0 412.0,78.0 400.0,55.0 388.0,38.0 372.0,22.0" fill="#a8a8a8" opacity="0.6" filter="url(#fblur2)"/>
<polygon points="217.0,2.0 365.0,2.0 372.0,22.0 330.0,40.0 290.0,50.0 250.0,62.0 217.0,70.0" fill="#7a7a7a" opacity="0.35" filter="url(#fblur2)"/>
<polygon points="217.0,140.0 250.0,165.0 290.0,205.0 217.0,205.0" fill="#222" opacity="0.35" filter="url(#fblur2)"/>
<rect x="217.5" y="2" width="205.5" height="203.5" fill="#000" stroke="none" stroke-width="1" filter="url(#fnoise)" opacity="0.38"/>
<rect x="217.5" y="2" width="205.5" height="203.5" fill="#fff" stroke="none" stroke-width="1" filter="url(#fnoise2)" opacity="0.28"/>
<clipPath id="cpba1"><polygon points="365.0,2.0 423.0,2.0 423.0,95.0 412.0,78.0 400.0,55.0 388.0,38.0 372.0,22.0"/></clipPath>
<g clip-path="url(#cpba1)"><rect x="217.5" y="2" width="205.5" height="203.5" fill="#000" filter="url(#fnoise)" opacity="0.30"/><rect x="217.5" y="2" width="205.5" height="203.5" fill="#fff" filter="url(#fnoise2)" opacity="0.33"/></g>
<clipPath id="cpba2"><polygon points="217.0,2.0 365.0,2.0 372.0,22.0 330.0,40.0 290.0,50.0 250.0,62.0 217.0,70.0"/></clipPath>
<g clip-path="url(#cpba2)"><rect x="217.5" y="2" width="205.5" height="203.5" fill="#000" filter="url(#fnoise)" opacity="0.17"/><rect x="217.5" y="2" width="205.5" height="203.5" fill="#fff" filter="url(#fnoise2)" opacity="0.19"/></g>
</g>
<rect x="217.5" y="0" width="39" height="39" fill="#fff" stroke="none" stroke-width="1" />
<text x="218.5" y="28" font-size="31" text-anchor="start" font-weight="bold" fill="#000" >(b)</text>
<line x1="318" y1="92" x2="344" y2="137" stroke="#e8232a" stroke-width="0.9" />
<line x1="321.3" y1="91.4" x2="347.3" y2="136.4" stroke="#e8232a" stroke-width="0.9" />
<line x1="324.6" y1="90.8" x2="350.6" y2="135.8" stroke="#e8232a" stroke-width="0.9" />
<line x1="313" y1="126" x2="330" y2="119" stroke="#e8232a" stroke-width="1.2" />
<polygon points="328,116.5 333,117.5 329.5,121.5" fill="#e8232a"/>
<line x1="355" y1="108" x2="347" y2="111" stroke="#e8232a" stroke-width="1.2" />
<polygon points="349,108.5 344,112.5 349.5,113.5" fill="#e8232a"/>
<text x="355.5" y="159.3" font-size="15.5" text-anchor="middle" font-weight="bold" fill="#e8232a" >d = 0.333 nm</text>
<text x="355.5" y="177.9" font-size="15.5" text-anchor="middle" font-weight="bold" fill="#e8232a" >h-CdS (002)</text>
<text x="257" y="187.3" font-size="12" text-anchor="middle" font-weight="bold" fill="#fff" >5 nm</text>
<rect x="228" y="193.5" width="62" height="1.6" fill="#fff" stroke="none" stroke-width="1" />
<clipPath id="cpe"><rect x="218" y="210.5" width="206" height="204"/></clipPath>
<g clip-path="url(#cpe)">
<rect x="218" y="210.5" width="206" height="204" fill="#6a6a6a" stroke="none" stroke-width="1" />
<rect x="218" y="210.5" width="206" height="204" fill="url(#stripeE)" stroke="none" stroke-width="1" opacity="0.85"/>
<polygon points="218.0,210.0 424.0,210.0 424.0,240.0 330.0,225.0 260.0,250.0 218.0,290.0" fill="#8a8a8a" opacity="0.5" filter="url(#fblur2)"/>
<rect x="218" y="210.5" width="206" height="204" fill="#000" stroke="none" stroke-width="1" filter="url(#fnoise)" opacity="0.38"/>
<rect x="218" y="210.5" width="206" height="204" fill="#fff" stroke="none" stroke-width="1" filter="url(#fnoise2)" opacity="0.28"/>
<clipPath id="cpea3"><polygon points="218.0,210.0 424.0,210.0 424.0,240.0 330.0,225.0 260.0,250.0 218.0,290.0"/></clipPath>
<g clip-path="url(#cpea3)"><rect x="218" y="210.5" width="206" height="204.0" fill="#000" filter="url(#fnoise)" opacity="0.25"/><rect x="218" y="210.5" width="206" height="204.0" fill="#fff" filter="url(#fnoise2)" opacity="0.28"/></g>
</g>
<rect x="218" y="210.5" width="38" height="37.4" fill="#fff" stroke="none" stroke-width="1" />
<text x="219.4" y="238" font-size="31" text-anchor="start" font-weight="bold" fill="#000" >(e)</text>
<line x1="314.4" y1="288.9" x2="352.8" y2="325.2" stroke="#f2b51a" stroke-width="1.2" />
<line x1="309.8" y1="294.3" x2="346.6" y2="327.7" stroke="#f2b51a" stroke-width="1.2" />
<line x1="349" y1="290.6" x2="337" y2="301.6" stroke="#f2b51a" stroke-width="1.1" />
<polygon points="334.6,303.8 335.2,298.8 339.5,302.8" fill="#f2b51a"/>
<line x1="312.7" y1="327.3" x2="325.5" y2="315.6" stroke="#f2b51a" stroke-width="1.1" />
<polygon points="327.6,313.7 327.4,318.2 323.2,314.4" fill="#f2b51a"/>
<text x="341.8" y="352.9" font-size="16" text-anchor="middle" font-weight="bold" fill="#f2b51a" >d = 0.349 nm</text>
<text x="341.8" y="370.8" font-size="16" text-anchor="middle" font-weight="bold" fill="#f2b51a" >h-CdS (002)</text>
<text x="270" y="396.5" font-size="12" text-anchor="middle" font-weight="bold" fill="#fff" >5 nm</text>
<rect x="229" y="402" width="80" height="1.6" fill="#fff" stroke="none" stroke-width="1" />
<clipPath id="cpc"><rect x="427" y="2" width="205" height="203.5"/></clipPath>
<g clip-path="url(#cpc)">
<rect x="427" y="2" width="205" height="203.5" fill="#121212" stroke="none" stroke-width="1" />
<circle cx="526.2" cy="106.2" r="85" fill="url(#haloC)"/>
<path d="M575.6 163.6l-0.0 0.0M449.3 128.9l-0.2 -0.6M508.5 33.5l0.7 -0.2M576.4 33.5l0.1 0.1M595.2 77.0l0.3 0.8M544.3 21.3l0.0 0.0M586.0 148.3l-0.5 0.8M524.1 20.3l0.7 -0.0M593.8 146.0l-0.5 0.8" stroke="rgb(51,51,51)" stroke-width="1.3" stroke-linecap="round"/>
<path d="M609.4 87.7l0.1 0.4M561.6 190.0l-0.2 0.1M617.9 49.2l0.1 0.1M489.5 193.2l-0.5 -0.2M426.0 85.0l0.0 -0.0M490.7 22.9l0.7 -0.3M588.9 148.6l-0.4 0.6M526.4 20.0l0.2 0.0M592.3 31.7l0.5 0.4M593.0 165.6l-0.1 0.2M488.2 -2.6l0.5 -0.2" stroke="rgb(51,51,51)" stroke-width="1.2" stroke-linecap="round"/>
<path d="M566.0 154.9l-0.4 0.3M570.9 64.5l0.5 0.6M581.9 123.6l-0.1 0.2M545.6 170.3l-0.1 0.0M473.4 68.2l0.1 -0.1M464.8 74.1l0.4 -0.8M535.2 39.4l0.8 0.1M491.9 49.1l1.0 -0.6M510.9 170.3l-0.1 -0.0M544.3 40.6l0.4 0.1M491.2 49.6l0.5 -0.3M547.2 168.6l-0.4 0.1M584.4 70.9l0.3 0.5" stroke="rgb(76,76,76)" stroke-width="1.5" stroke-linecap="round"/>
<path d="M584.5 50.7l0.2 0.2M625.4 91.4l0.0 0.2M470.4 49.8l0.6 -0.6M522.9 21.6l0.8 -0.0M594.8 52.0l0.3 0.4M461.3 100.5l0.1 -1.0M456.0 138.9l-0.1 -0.1M448.3 101.1l0.0 -0.3M477.8 173.8l-0.6 -0.4M605.2 95.9l0.0 0.3M564.9 173.5l-0.0 0.0M564.8 180.2l-0.5 0.3M575.8 37.4l0.1 0.1M524.8 187.4l-0.8 -0.0M492.5 176.4l-0.8 -0.4M600.6 149.4l-0.5 0.8M452.2 124.7l-0.0 -0.2M595.9 98.1l0.1 0.9M456.4 84.1l0.0 -0.1" stroke="rgb(76,76,76)" stroke-width="1.3" stroke-linecap="round"/>
<path d="M508.7 6.0l0.1 -0.0M460.2 36.0l0.0 -0.0M446.8 165.1l-0.3 -0.4M554.5 197.4l-0.3 0.1M470.3 20.5l0.4 -0.3M527.9 1.1l0.6 0.0M518.7 190.5l-0.5 -0.0" stroke="rgb(76,76,76)" stroke-width="1.2" stroke-linecap="round"/>
<path d="M498.9 109.1l-0.1 -0.8M524.9 132.8l-0.2 -0.0M525.0 150.7l-0.8 -0.0M567.1 116.5l-0.1 0.3M545.1 67.5l0.6 0.3M528.7 62.6l0.2 0.0M513.8 146.1l-0.1 -0.0M484.6 103.1l0.1 -0.8M501.0 70.0l0.2 -0.1" stroke="rgb(102,102,102)" stroke-width="1.6" stroke-linecap="round"/>
<path d="M571.5 87.2l0.4 1.0M492.0 146.3l-0.1 -0.1" stroke="rgb(102,102,102)" stroke-width="1.8" stroke-linecap="round"/>
<path d="M569.2 70.9l0.1 0.1M508.3 166.6l-0.3 -0.1M466.5 107.1l-0.0 -0.8M491.5 58.9l0.4 -0.3M487.6 149.6l-0.6 -0.5M584.4 113.5l-0.0 0.3M475.7 77.2l0.1 -0.1M557.0 158.3l-0.3 0.2M483.0 63.4l0.1 -0.1M592.1 73.3l0.5 1.0M456.4 92.6l0.0 -0.2M477.1 155.8l-0.7 -0.7M461.1 117.1l-0.1 -0.8M594.0 119.9l-0.1 0.5M535.1 178.6l-0.9 0.1M520.6 40.8l0.4 -0.0M559.4 47.4l0.8 0.5M492.2 169.4l-0.2 -0.1" stroke="rgb(102,102,102)" stroke-width="1.5" stroke-linecap="round"/>
<path d="M499.5 107.7l-0.0 -0.4M522.6 79.3l0.0 -0.0M505.2 94.5l0.4 -0.7M508.8 84.1l0.2 -0.2M550.8 99.7l0.2 0.9M490.9 81.2l0.2 -0.3M565.7 90.8l0.3 0.7M546.5 145.6l-0.4 0.2M513.8 64.1l0.0 -0.0M485.3 94.5l0.0 -0.1M503.8 142.5l-0.3 -0.2" stroke="rgb(127,127,127)" stroke-width="1.6" stroke-linecap="round"/>
<path d="M514.7 73.1l0.4 -0.1M491.6 102.4l0.0 -0.3" stroke="rgb(127,127,127)" stroke-width="2.0" stroke-linecap="round"/>
<path d="M522.5 47.5l1.2 -0.1M480.5 130.2l-0.4 -0.8M520.2 56.9l1.4 -0.2M578.3 105.4l0.0 0.3M520.9 53.6l0.1 -0.0M526.6 56.2l0.5 0.0" stroke="rgb(127,127,127)" stroke-width="1.8" stroke-linecap="round"/>
<path d="M538.4 46.2l0.2 0.0M484.6 59.8l0.2 -0.2M517.0 48.7l0.6 -0.1M484.9 148.1l-0.5 -0.5M463.7 100.8l0.0 -0.3M570.2 145.3l-0.3 0.4M505.0 167.9l-0.4 -0.1M483.6 159.4l-0.5 -0.4M535.2 41.9l0.9 0.1" stroke="rgb(127,127,127)" stroke-width="1.5" stroke-linecap="round"/>
<path d="M535.8 122.4l-0.5 0.3M504.5 106.5l-0.0 -0.4M508.5 111.6l-0.2 -0.6M510.4 111.2l-0.1 -0.4M508.2 106.7l-0.0 -0.9M509.4 94.5l0.2 -0.3M556.2 126.6l-0.4 0.5M550.5 79.4l0.7 0.6M492.0 97.7l0.1 -0.3M559.4 120.2l-0.4 0.9M489.1 94.3l0.4 -1.3M558.4 104.8l0.0 0.2M507.7 73.6l0.8 -0.5M513.0 138.6l-0.5 -0.2" stroke="rgb(153,153,153)" stroke-width="2.0" stroke-linecap="round"/>
<path d="M525.5 80.3l1.0 -0.0M540.9 82.5l0.5 0.3M500.2 100.5l0.0 -0.0M554.5 97.8l0.0 0.0M482.9 119.0l-0.0 -0.2M542.4 145.4l-0.2 0.1M569.4 111.0l-0.1 1.1M543.1 67.3l0.5 0.2M520.7 150.2l-0.6 -0.1" stroke="rgb(153,153,153)" stroke-width="1.6" stroke-linecap="round"/>
<path d="M538.4 158.6l-0.7 0.2M550.3 152.8l-0.9 0.5M554.6 152.3l-1.1 0.7M496.4 146.2l-0.8 -0.6M552.7 148.8l-1.1 0.7M566.7 138.5l-0.8 1.0M566.5 75.0l0.2 0.3M495.9 64.0l0.4 -0.3M520.9 160.1l-0.7 -0.1M483.1 140.3l-0.5 -0.6M549.2 62.0l0.6 0.3" stroke="rgb(153,153,153)" stroke-width="1.8" stroke-linecap="round"/>
<path d="M544.0 114.5l-0.4 0.9M510.8 92.5l0.0 -0.0M544.8 110.6l-0.2 1.0M541.3 93.3l0.3 0.4M534.7 124.4l-1.0 0.5M535.5 70.7l0.0 0.0M499.5 128.6l-0.3 -0.3M499.2 86.3l0.8 -1.1M560.9 120.9l-0.2 0.5M559.6 110.4l-0.1 0.9M540.9 73.6l0.3 0.1M544.5 70.2l0.0 0.0M523.7 143.4l-1.3 -0.1" stroke="rgb(178,178,178)" stroke-width="2.0" stroke-linecap="round"/>
<path d="M500.5 123.2l-0.3 -0.5M545.6 87.0l0.6 0.6M511.2 130.5l-0.8 -0.5M542.9 147.3l-0.9 0.4M551.2 68.7l0.9 0.6" stroke="rgb(178,178,178)" stroke-width="1.6" stroke-linecap="round"/>
<path d="M571.6 85.2l0.4 0.9M475.3 98.3l0.0 -0.1M536.2 154.2l-1.1 0.2M471.0 94.5l0.1 -0.5M565.9 69.7l0.5 0.6M570.4 131.5l-0.4 0.7M493.3 66.0l0.8 -0.7M578.1 118.0l-0.2 1.1M487.7 138.3l-0.6 -0.7" stroke="rgb(178,178,178)" stroke-width="1.8" stroke-linecap="round"/>
<path d="M530.9 88.9l0.9 0.3M506.7 105.6l0.0 -0.4M511.0 93.8l0.4 -0.5M541.3 140.6l-0.5 0.2M515.0 72.1l0.7 -0.2M559.3 122.6l-0.3 0.6M492.4 121.1l-0.1 -0.3M532.9 70.6l0.9 0.2M555.8 89.1l0.3 0.5M491.1 94.0l0.4 -1.2M515.8 71.3l0.9 -0.3" stroke="rgb(204,204,204)" stroke-width="2.0" stroke-linecap="round"/>
<path d="M528.8 129.6l-0.9 0.1M530.0 86.3l1.1 0.2M528.0 83.7l0.7 0.1M544.8 114.3l-0.2 0.4M489.8 94.4l0.4 -1.2M492.0 109.1l-0.1 -0.9M555.7 123.7l-0.5 0.9M490.6 114.8l-0.0 -0.1" stroke="rgb(229,229,229)" stroke-width="2.0" stroke-linecap="round"/>
<path d="M535.0 86.6l0.1 0.1M538.6 118.2l-0.2 0.2M544.6 118.4l-0.5 0.7M518.3 90.5l1.0 -0.5" stroke="rgb(255,255,255)" stroke-width="2.0" stroke-linecap="round"/>
<path d="M427,99.1 L507,99.1 C511,99.1 511,94.4 517,94.4 L534,94.4 C541,94.4 544,101 562.8,105.5 C544,110 541,117.4 534,117.4 L517,117.4 C511,117.4 511,112.7 507,112.7 L427,112.7 Z" fill="#050505"/>
</g>
<rect x="427" y="0" width="37.8" height="38" fill="#fff" stroke="none" stroke-width="1" />
<text x="429.6" y="28" font-size="31" text-anchor="start" font-weight="bold" fill="#000" >(c)</text>
<text x="437" y="191" font-size="10" font-weight="bold" fill="#fff">5 nm<tspan font-size="6" dy="-4">-1</tspan></text>
<rect x="434" y="195.5" width="35" height="1.6" fill="#fff" stroke="none" stroke-width="1" />
<clipPath id="cpf"><rect x="426.7" y="210.3" width="205.1" height="204.2"/></clipPath>
<g clip-path="url(#cpf)">
<rect x="426.7" y="210.3" width="205.1" height="204.2" fill="#121212" stroke="none" stroke-width="1" />
<circle cx="529.1" cy="312.4" r="85" fill="url(#haloF)"/>
<circle cx="529.1" cy="312.4" r="18" fill="#3a3a3a"/>
<path d="M473.8 386.4l-0.2 -0.1M437.5 283.2l0.3 -0.8M596.5 364.5l-0.5 0.7M447.3 285.6l0.2 -0.7M453.0 365.7l-0.6 -0.8M556.5 222.2l0.1 0.0M436.2 279.9l0.2 -0.6M455.0 244.2l0.2 -0.2M607.1 318.7l-0.0 0.6M436.8 307.7l0.0 -0.3M449.5 265.7l0.4 -0.6M504.9 227.6l0.9 -0.2M475.8 226.0l0.3 -0.2M531.1 216.4l0.3 0.0M563.1 220.6l0.3 0.1M448.2 339.9l-0.2 -0.7M529.1 408.9l-0.9 0.0M583.1 382.4l-0.4 0.3M482.7 386.1l-0.7 -0.4M446.4 269.3l0.0 -0.0M460.2 372.3l-0.3 -0.4M523.2 227.4l0.8 -0.1M505.4 386.3l-0.3 -0.1M462.2 366.1l-0.1 -0.2M605.6 375.7l-0.3 0.4M609.7 268.7l0.3 0.6" stroke="rgb(25,25,25)" stroke-width="1.0" stroke-linecap="round"/>
<path d="M542.3 267.0l0.9 0.3M497.6 342.9l-0.1 -0.1M557.4 351.5l-0.1 0.1M483.4 299.3l0.2 -0.6M523.8 252.3l0.9 -0.1M562.2 263.0l0.5 0.4M572.2 277.2l0.0 0.0M498.6 259.3l0.7 -0.4M550.8 367.6l-0.2 0.1M529.6 370.2l-0.9 0.0M525.7 371.2l-0.7 -0.0M547.7 258.2l0.3 0.1M581.3 288.0l0.1 0.1M473.8 302.1l0.0 -0.1M532.4 251.5l0.7 0.0M512.7 365.6l-0.8 -0.3M488.2 268.0l0.3 -0.2M478.1 331.5l-0.2 -0.6M480.4 280.5l0.1 -0.2M517.2 372.0l-0.5 -0.1M559.7 360.7l-0.1 0.1M577.5 281.7l0.0 0.0M490.3 357.3l-0.7 -0.6M529.1 253.2l0.4 -0.0M487.0 351.3l-0.0 -0.0M581.8 331.2l-0.1 0.3M565.0 360.8l-0.0 0.0M470.5 314.3l-0.0 -0.9M470.3 289.4l0.1 -0.1M541.1 259.3l0.6 0.1M561.4 355.8l-0.5 0.3M545.5 255.5l0.2 0.0M551.4 247.7l0.6 0.2M531.2 248.7l0.6 0.0M565.2 367.4l-0.4 0.3M460.6 305.9l0.0 -0.2M463.5 327.3l-0.1 -0.4M593.4 331.7l-0.2 0.7M593.9 313.0l-0.0 0.5M551.8 373.0l-0.9 0.3M473.1 353.0l-0.3 -0.4M526.5 381.5l-0.2 -0.0M561.5 253.0l0.1 0.0M534.2 248.6l0.6 0.0M526.4 244.3l0.3 -0.0M549.3 377.5l-0.1 0.0M594.5 293.3l0.2 0.8M549.3 374.2l-0.1 0.0M536.8 244.6l0.0 0.0M529.2 379.1l-0.2 0.0M585.7 280.7l0.4 0.8M529.3 243.1l0.9 0.0M475.5 276.1l0.0 -0.1M549.3 247.2l0.1 0.0M526.7 381.7l-0.3 -0.0M567.6 362.1l-0.8 0.6M552.4 249.5l0.8 0.3M588.3 280.1l0.4 0.6M484.0 364.1l-0.4 -0.3M558.7 391.5l-0.9 0.3M568.0 386.9l-0.9 0.5M567.1 253.5l0.6 0.4M456.7 355.3l-0.1 -0.2M454.7 291.5l0.1 -0.5M476.2 262.7l0.2 -0.2M522.4 236.1l0.4 -0.0M554.7 388.4l-0.5 0.2M497.7 250.3l0.0 -0.0M491.4 237.6l0.6 -0.3M494.3 233.9l0.5 -0.2M464.0 265.8l0.0 -0.0M481.2 365.9l-0.5 -0.4M545.5 237.8l0.7 0.2M520.6 226.4l0.5 -0.0M519.7 393.4l-0.6 -0.1M451.3 350.7l-0.3 -0.7M484.3 373.7l-0.1 -0.1M558.5 384.1l-0.8 0.3M457.9 294.6l0.0 -0.1M606.3 335.1l-0.2 0.7M495.9 238.2l0.6 -0.2M444.1 320.5l-0.0 -0.3M577.7 389.3l-0.6 0.3M496.7 378.0l-0.4 -0.2M447.8 329.0l-0.1 -0.7M598.7 281.5l0.3 0.6M484.0 381.8l-0.7 -0.5M595.8 329.1l-0.2 0.9M560.1 222.4l0.1 0.0M447.9 291.7l0.1 -0.4M477.9 366.1l-0.7 -0.6M529.7 239.6l0.8 0.0M465.0 339.0l-0.3 -0.8M611.2 345.1l-0.2 0.4M446.9 320.3l-0.0 -0.5M517.7 387.1l-0.9 -0.1M541.3 384.1l-0.9 0.1M478.9 375.5l-0.7 -0.5M454.8 292.7l0.2 -0.8M490.1 379.5l-0.9 -0.5M593.7 302.6l0.0 0.0M572.4 252.9l0.5 0.4M446.8 293.7l0.1 -0.5M550.6 231.4l0.9 0.2M602.1 320.6l-0.1 0.5M479.0 362.4l-0.3 -0.3M607.1 283.2l0.1 0.3M603.4 349.1l-0.3 0.6M617.0 294.3l0.2 0.8M583.8 378.0l-0.5 0.4M538.6 225.1l0.5 0.1M502.3 398.4l-0.2 -0.1M545.4 398.8l-0.8 0.2M548.2 241.4l0.8 0.2M528.1 236.5l0.7 -0.0M500.3 246.2l0.6 -0.2M493.9 381.3l-0.5 -0.3M457.0 347.9l-0.2 -0.4M609.6 280.1l0.2 0.6M603.2 363.6l-0.2 0.3M451.9 330.7l-0.1 -0.2M452.1 313.5l-0.0 -0.0M562.5 230.5l0.2 0.1M612.2 361.2l-0.2 0.3M450.7 291.5l0.3 -0.9M604.6 316.5l-0.0 0.7M476.6 368.6l-0.0 -0.0M589.6 356.9l-0.1 0.1M481.4 372.7l-0.7 -0.6M589.3 363.0l-0.5 0.5M461.4 261.6l0.3 -0.4M484.7 250.5l0.1 -0.0M452.9 288.2l0.0 -0.2M468.5 269.2l0.0 -0.0M594.7 366.6l-0.0 0.1M459.2 282.1l0.1 -0.2M451.6 287.6l0.2 -0.7M449.9 305.2l0.1 -0.6M577.9 254.7l0.6 0.5M534.0 403.5l-0.9 0.0M549.8 236.2l0.9 0.2M555.4 259.1l0.3 0.1M550.3 387.2l-0.4 0.1M532.6 381.7l-0.6 0.0M611.4 287.5l0.0 0.1M463.5 270.5l0.1 -0.2M495.1 245.3l0.3 -0.2M477.6 257.1l0.4 -0.3M607.5 287.2l0.1 0.3M460.0 336.4l-0.2 -0.7M584.5 258.8l0.0 0.0M577.9 248.9l0.5 0.4M445.0 339.7l-0.3 -0.8M617.2 306.4l0.0 0.4M594.4 268.2l0.5 0.7M576.0 240.9l0.6 0.4M616.5 313.8l-0.0 0.7M495.7 237.7l0.9 -0.4M580.9 247.1l0.4 0.3M603.8 304.9l0.1 0.8M614.7 307.8l0.0 0.8M553.3 236.4l0.7 0.2M598.5 359.8l-0.5 0.8M490.9 380.7l-0.4 -0.2M447.2 328.9l-0.0 -0.2M616.2 315.5l-0.0 0.3M630.9 316.1l-0.0 0.5M601.2 364.8l-0.5 0.6M482.5 230.3l0.3 -0.2M439.4 332.1l-0.2 -0.9M586.2 383.9l-0.1 0.1M590.4 366.9l-0.7 0.7M459.0 358.3l-0.0 -0.0M539.5 233.7l0.5 0.1M622.7 317.9l-0.1 0.9M563.1 403.9l-0.8 0.3M536.4 406.9l-0.5 0.0M490.9 228.7l0.3 -0.1M455.5 363.2l-0.3 -0.5M574.6 394.6l-0.2 0.1M470.8 231.2l0.4 -0.3M557.3 417.2l-0.6 0.2M559.2 228.2l0.2 0.1M434.5 318.7l-0.0 -0.6M616.3 301.5l0.1 0.9M531.4 414.1l-0.2 0.0M598.5 261.6l0.2 0.3M451.7 291.8l0.1 -0.3M620.3 308.4l0.0 1.0M529.6 232.1l0.4 0.0M534.7 215.7l0.9 0.1M542.1 398.8l-0.8 0.1M547.4 217.5l0.2 0.0M527.5 405.5l-0.0 -0.0M571.8 393.7l-0.5 0.3M582.2 388.6l-0.7 0.5M613.4 332.9l-0.2 0.9M536.3 218.0l0.5 0.0M449.2 349.6l-0.2 -0.5M598.4 385.5l-0.4 0.4M427.8 295.3l0.1 -0.5M472.9 241.3l0.2 -0.2M525.6 400.5l-0.7 -0.0M568.9 387.5l-0.9 0.5M480.2 225.3l0.0 -0.0M614.9 297.9l0.1 0.4M560.7 391.1l-0.3 0.1M520.0 221.1l0.7 -0.1M548.1 229.5l0.0 0.0" stroke="rgb(51,51,51)" stroke-width="1.0" stroke-linecap="round"/>
<path d="M516.4 289.7l0.7 -0.4M503.8 318.9l-0.2 -0.9M556.3 306.4l0.2 0.7M501.5 313.0l-0.0 -0.6M546.4 330.9l-0.6 0.5M554.8 305.0l0.1 0.4M555.9 311.0l0.0 0.6M503.6 300.7l0.0 -0.0M546.0 291.7l0.1 0.1M521.6 287.3l0.8 -0.3M513.4 290.4l0.1 -0.1M527.0 284.4l0.3 -0.0M530.0 340.3l-0.4 0.0M504.7 298.9l0.3 -0.6M527.4 338.9l-0.4 -0.0M509.5 292.4l0.5 -0.5M507.9 292.6l0.1 -0.1M529.4 285.2l0.4 0.0M502.1 320.6l-0.3 -0.8M504.5 302.1l0.1 -0.3M545.1 332.8l-0.7 0.6M508.0 330.2l-0.3 -0.4M508.1 299.5l0.4 -0.6M556.8 312.6l-0.0 0.9M551.1 326.7l-0.2 0.3M545.5 334.2l-0.3 0.2M509.5 332.3l-0.0 -0.0M543.5 336.1l-0.2 0.1M504.8 323.9l-0.3 -0.6M534.9 287.0l0.3 0.1M575.0 318.4l-0.1 0.4M543.1 267.2l0.3 0.1M558.9 277.0l0.3 0.3M526.9 267.5l0.0 -0.0M492.1 288.1l0.0 -0.1M489.8 288.2l0.2 -0.4M489.7 286.3l0.4 -0.6M498.8 277.5l0.4 -0.3M575.7 323.7l-0.2 0.9M551.3 351.7l-0.0 0.0M532.2 358.1l-0.8 0.1M537.1 356.7l-0.7 0.1M578.0 304.2l0.0 0.2M568.5 337.4l-0.2 0.3M538.2 357.3l-0.3 0.1M517.0 357.4l-0.9 -0.2M525.6 360.0l-0.3 -0.0M483.5 304.4l0.0 -0.1M498.4 347.5l-0.3 -0.3M507.6 349.7l-0.8 -0.4M570.9 329.2l-0.4 0.9M573.4 299.1l0.1 0.4M563.7 348.7l-0.4 0.4M516.9 354.1l-0.8 -0.2M493.1 285.3l0.3 -0.4M485.2 296.0l0.3 -0.7M536.7 270.3l0.2 0.0M566.6 283.6l0.3 0.4M538.3 357.6l-0.6 0.1M544.2 356.9l-0.9 0.3M574.7 302.2l0.1 0.6M556.5 345.2l-0.5 0.4M541.9 354.7l-0.1 0.0M556.5 350.2l-0.3 0.2M540.7 356.8l-0.9 0.2M545.4 268.4l0.7 0.3M570.7 328.4l-0.3 0.8M494.7 282.5l0.4 -0.5M482.1 311.2l0.0 -0.5M572.8 322.6l-0.1 0.4M572.5 303.0l0.2 0.9M517.2 358.2l-0.0 -0.0M486.0 298.2l0.3 -0.8M560.0 344.5l-0.5 0.5M492.3 283.2l0.3 -0.4M550.0 271.8l0.6 0.3M504.3 267.7l0.7 -0.4M556.8 269.1l0.6 0.4M533.9 365.5l-0.4 0.0M570.4 345.4l-0.4 0.4M507.9 265.0l0.9 -0.4M520.7 262.1l0.9 -0.1M494.6 277.9l0.2 -0.2M560.7 349.5l-0.2 0.2M511.3 359.9l-0.2 -0.1M479.6 299.5l0.1 -0.3M477.8 309.1l0.1 -0.8M521.1 364.1l-0.3 -0.0M485.6 287.8l0.5 -0.8M510.0 265.7l0.6 -0.3M571.5 284.9l0.4 0.6M516.0 263.9l0.4 -0.1M569.6 281.9l0.1 0.2M541.6 263.7l0.6 0.2M514.5 363.7l-0.1 -0.0M580.0 325.2l-0.1 0.3M477.6 311.2l0.0 -0.7M496.5 274.3l0.5 -0.5M482.9 289.9l0.0 -0.0M486.2 338.8l-0.5 -0.8M556.0 267.9l0.2 0.1M566.2 346.9l-0.6 0.7M568.3 347.6l-0.1 0.2M585.1 327.1l-0.0 0.1M503.8 367.5l-0.6 -0.3M524.4 253.7l0.9 -0.1M578.0 278.8l0.5 0.8M514.7 365.6l-0.2 -0.1M473.2 304.5l0.1 -0.5M482.6 275.1l0.4 -0.5M541.8 254.7l0.3 0.1M563.1 261.6l0.2 0.1M474.3 293.5l0.0 -0.0M473.5 293.9l0.1 -0.2M581.0 283.9l0.5 0.9M568.7 351.8l-0.6 0.6M521.7 372.9l-0.9 -0.1M482.2 352.5l-0.2 -0.2M472.0 303.0l0.1 -0.4M576.4 344.2l-0.3 0.4M475.0 290.9l0.1 -0.2M565.5 271.1l0.4 0.4M495.4 265.0l0.6 -0.4M578.7 282.6l0.1 0.2M584.8 328.0l-0.2 0.6M568.5 272.1l0.4 0.4M577.7 337.7l-0.1 0.2M589.3 313.6l-0.0 0.1M478.2 278.2l0.0 -0.0M576.0 349.3l-0.6 0.8M489.5 270.6l0.7 -0.6M512.0 255.6l0.3 -0.1M562.7 263.2l0.3 0.2M510.0 364.5l-0.3 -0.1M479.0 282.6l0.2 -0.3M519.0 372.5l-0.3 -0.0M590.5 302.8l0.1 0.4M470.4 325.3l-0.1 -0.4M542.5 371.0l-0.9 0.2M485.3 348.6l-0.5 -0.6M572.4 351.4l-0.3 0.3M582.9 289.1l0.3 0.7M581.9 329.8l-0.2 0.7M476.0 335.7l-0.2 -0.5M577.7 274.9l0.4 0.5M587.6 303.3l0.1 0.5M500.1 365.0l-0.2 -0.1M518.7 367.3l-0.9 -0.2M483.9 348.4l-0.1 -0.1M498.5 361.2l-0.4 -0.2M501.5 260.8l0.7 -0.4M475.9 296.3l0.1 -0.3M544.2 372.2l-0.6 0.1M581.5 290.3l0.2 0.5M538.3 371.8l-0.6 0.1M584.8 306.7l0.0 0.1M496.3 359.7l-0.2 -0.1M566.6 360.5l-0.6 0.5M585.8 288.4l0.1 0.3M482.2 277.4l0.4 -0.5M569.9 268.4l0.5 0.5M588.3 297.5l0.2 0.8M562.3 268.4l0.3 0.3M493.2 269.4l0.7 -0.6M587.9 319.5l-0.0 0.2M469.5 277.0l0.3 -0.5M583.6 346.1l-0.5 0.7M490.9 365.7l-0.4 -0.3M589.7 340.5l-0.1 0.3M505.5 243.8l0.2 -0.1M596.5 324.1l-0.0 0.3M514.9 379.9l-0.9 -0.2M516.7 376.5l-0.0 -0.0M594.9 306.4l0.1 0.8M592.3 340.1l-0.0 0.1M593.6 321.5l-0.0 0.1M577.6 266.6l0.5 0.6M588.5 290.5l0.3 0.9M595.7 314.0l-0.0 0.7M494.2 254.0l0.4 -0.3M460.2 317.2l-0.0 -0.6M483.6 261.3l0.4 -0.3M518.7 244.2l0.9 -0.1M475.9 271.8l0.0 -0.0M480.2 361.6l-0.1 -0.1M575.2 263.9l0.6 0.5M470.9 348.4l-0.3 -0.5M581.1 271.2l0.3 0.4M507.2 251.0l0.4 -0.2M543.3 379.7l-0.7 0.2M473.0 276.7l0.4 -0.7M528.5 377.7l-0.1 -0.0M492.0 253.9l0.6 -0.4M505.9 376.7l-0.6 -0.2M462.4 316.3l-0.0 -0.3M458.8 317.3l-0.0 -0.3M550.4 379.3l-0.1 0.0M487.4 361.7l-0.4 -0.3M461.0 303.2l0.0 -0.3M470.0 278.9l0.3 -0.5M515.5 373.3l-0.2 -0.0M532.4 246.5l0.1 0.0M595.7 328.5l-0.2 0.7M471.7 343.8l-0.3 -0.6M510.9 379.1l-1.0 -0.3M590.0 342.0l-0.1 0.1M486.0 265.6l0.2 -0.2M510.0 250.5l0.1 -0.0M552.4 250.9l0.2 0.1M590.9 289.1l0.3 0.8M485.2 262.9l0.5 -0.5M517.0 379.4l-0.2 -0.0M486.6 261.5l0.1 -0.1M471.6 279.9l0.2 -0.3M570.8 256.5l0.4 0.3M593.4 298.0l0.1 0.3M545.7 380.0l-0.3 0.1M484.1 367.0l-0.0 -0.0M464.8 296.4l0.0 -0.1M593.6 301.6l0.1 0.8M567.1 258.6l0.2 0.1M511.6 371.7l-0.3 -0.1M492.0 368.2l-0.6 -0.4M560.0 374.0l-0.5 0.2M529.6 248.2l0.0 0.0M597.7 304.2l0.0 0.4M568.7 265.0l0.2 0.2M584.0 350.0l-0.3 0.5M561.3 254.0l0.6 0.3M507.6 246.0l0.9 -0.3M582.7 273.3l0.4 0.6M543.5 377.1l-0.8 0.2M530.9 376.1l-0.3 0.0M595.8 304.0l0.0 0.3M580.8 358.7l-0.7 0.7M590.3 279.7l0.3 0.6M524.7 243.4l0.8 -0.0M554.6 244.9l0.1 0.0M478.8 351.9l-0.4 -0.5M581.4 268.5l0.4 0.5M475.5 348.9l-0.6 -0.8M524.0 381.5l-0.1 -0.0M510.3 376.5l-0.5 -0.2M551.0 375.7l-0.7 0.2M473.3 345.9l-0.1 -0.1M502.6 376.3l-0.1 -0.0M592.0 335.1l-0.1 0.3M568.0 257.9l0.6 0.4M473.1 341.0l-0.3 -0.7M578.3 261.4l0.4 0.4M572.2 261.3l0.7 0.6M468.3 322.2l-0.0 -0.2M468.7 337.0l-0.1 -0.3M496.3 235.5l0.5 -0.2M589.6 244.3l0.1 0.1M591.6 354.3l-0.2 0.3M581.4 360.7l-0.3 0.3M613.1 345.2l-0.0 0.1M496.9 382.0l-0.2 -0.1M605.1 292.3l0.1 0.4M454.4 299.1l0.0 -0.1M593.7 250.3l0.5 0.6M447.0 299.5l0.0 -0.1M539.7 234.1l0.3 0.0M483.0 247.5l0.2 -0.2M566.4 251.8l0.7 0.5M457.3 296.6l0.1 -0.2M455.1 279.5l0.4 -0.8M582.3 248.7l0.4 0.4M538.9 384.0l-0.9 0.1M612.3 289.4l0.2 0.6M475.8 374.1l-0.7 -0.6M606.6 296.6l0.1 0.6M466.3 293.0l0.2 -0.6M450.8 276.2l0.0 -0.0M489.5 384.1l-0.5 -0.3M511.5 398.5l-0.8 -0.2" stroke="rgb(76,76,76)" stroke-width="1.0" stroke-linecap="round"/>
<path d="M505.7 326.7l-0.4 -0.7M505.5 322.9l-0.4 -0.9M510.6 290.8l0.6 -0.5M546.2 290.7l0.3 0.3M503.3 312.0l0.0 -0.8M510.8 293.6l0.5 -0.5M506.8 326.0l-0.2 -0.4M528.0 284.9l0.2 -0.0M502.3 314.0l-0.0 -0.8M508.4 332.1l-0.4 -0.5M545.4 332.3l-0.0 0.0M542.7 335.2l-0.1 0.0M502.7 312.1l0.0 -0.4M552.7 326.6l-0.3 0.5M517.3 337.6l-0.7 -0.3M544.2 334.8l-0.6 0.4M503.5 306.6l0.0 -0.1M556.0 310.9l0.0 0.3M516.4 337.9l-0.6 -0.3M501.9 307.9l0.0 -0.1M491.9 302.5l0.0 -0.0M494.6 326.9l-0.1 -0.3M562.9 331.6l-0.4 0.7M569.3 306.6l0.0 0.1M531.0 351.2l-0.3 0.0M560.8 290.1l0.2 0.3M564.0 298.9l0.0 0.0M568.6 314.5l-0.0 0.0M560.5 334.5l-0.3 0.5M522.1 349.1l-0.4 -0.1M492.1 315.5l-0.1 -0.9M491.0 301.1l0.1 -0.5M496.8 334.3l-0.4 -0.5M506.3 282.7l0.8 -0.6M534.6 351.5l-0.4 0.1M547.0 347.2l-0.3 0.2M503.7 340.4l-0.2 -0.2M511.8 346.8l-0.7 -0.4M568.1 320.2l-0.1 0.6M515.2 348.5l-0.8 -0.3M570.7 308.6l0.1 0.8M563.1 300.6l0.2 0.7M495.6 333.4l-0.1 -0.2M489.2 311.5l0.0 -0.7M514.1 276.1l0.7 -0.3M522.9 272.1l0.7 -0.1M524.0 275.2l0.4 -0.1M498.1 349.9l-0.1 -0.1M490.7 333.1l-0.2 -0.3M541.6 355.8l-0.7 0.2M491.6 343.1l-0.3 -0.3M495.9 344.3l-0.1 -0.1M571.1 329.4l-0.3 0.6M575.2 315.0l-0.0 0.7M550.9 271.7l0.2 0.1M547.2 354.2l-0.0 0.0M548.0 276.0l0.6 0.3M483.4 309.2l0.0 -0.6M568.3 287.3l0.4 0.6M537.8 266.8l0.0 0.0M524.3 267.5l0.3 -0.0M571.9 315.4l-0.1 0.9M573.0 301.1l0.1 0.4M500.3 350.3l-0.7 -0.5M569.5 337.1l-0.4 0.6M548.7 270.7l0.0 0.0M500.8 347.5l-0.4 -0.3M540.7 356.1l-0.9 0.2M514.4 355.6l-0.4 -0.1M517.9 356.8l-0.3 -0.1M518.5 358.3l-0.4 -0.1M575.1 300.5l0.1 0.6M561.0 345.6l-0.3 0.2M495.6 279.5l0.5 -0.5M568.0 336.9l-0.1 0.2M549.3 272.0l0.9 0.4M569.2 295.6l0.3 0.8M568.6 286.1l0.1 0.2M523.1 267.8l0.3 -0.0M477.8 317.7l-0.0 -0.2M547.0 269.6l0.5 0.2M498.9 277.3l0.5 -0.5M563.7 343.4l-0.2 0.2M488.6 291.7l0.1 -0.1M493.2 338.1l-0.6 -0.8M488.0 291.3l0.4 -0.7M569.3 337.4l-0.1 0.2M523.3 357.4l-0.7 -0.1M548.0 357.8l-0.8 0.3M528.6 265.4l0.3 -0.0M530.3 268.1l0.7 0.0M499.5 278.9l0.1 -0.1M508.4 355.1l-0.1 -0.1M498.8 280.6l0.1 -0.1M488.9 331.4l-0.1 -0.2M534.5 359.1l-0.8 0.1M511.5 271.6l0.9 -0.4M487.2 346.7l-0.1 -0.2M478.2 308.0l0.1 -0.7M496.5 274.0l0.6 -0.5M503.9 358.6l-0.5 -0.3M555.6 268.6l0.8 0.5M485.7 340.2l-0.4 -0.7M487.1 340.8l-0.0 -0.1M483.4 293.1l0.2 -0.5M543.8 262.3l0.3 0.1M494.9 274.2l0.7 -0.6M528.0 258.2l0.8 -0.0M579.1 323.9l-0.1 0.5M568.7 344.1l-0.3 0.4M476.0 320.0l-0.0 -0.3M487.0 282.9l0.6 -0.8M486.6 341.3l-0.4 -0.6M569.0 343.3l-0.2 0.3M573.1 287.1l0.2 0.4M509.7 265.7l0.4 -0.1M501.1 358.8l-0.8 -0.5M524.4 259.9l0.7 -0.1M485.6 339.3l-0.3 -0.6M578.2 302.1l0.1 0.2M568.5 280.9l0.3 0.4M557.9 355.5l-0.1 0.1M497.6 271.4l0.6 -0.5M479.4 307.4l0.0 -0.4M483.5 340.2l-0.2 -0.3M566.1 346.3l-0.1 0.1M548.0 360.6l-0.5 0.2M491.0 277.2l0.4 -0.4M558.5 355.6l-0.1 0.0M542.3 364.8l-0.4 0.1M482.0 335.0l-0.4 -0.8M493.4 349.3l-0.2 -0.2M484.2 331.1l-0.3 -0.7M579.7 300.7l0.1 0.3M544.3 262.7l0.8 0.2M537.3 261.6l0.1 0.0M486.2 340.4l-0.3 -0.4M478.3 309.3l0.0 -0.5M502.4 356.4l-0.1 -0.1M573.0 281.5l0.5 0.7M531.5 262.8l0.1 0.0M528.5 260.3l0.1 -0.0M505.6 357.0l-0.2 -0.1M559.0 273.0l0.2 0.1M475.5 313.9l-0.0 -0.4M490.7 280.8l0.2 -0.2M512.8 362.8l-0.1 -0.0M477.5 303.6l0.0 -0.1M529.3 363.7l-0.7 0.0M478.1 308.1l0.0 -0.5M530.8 258.8l0.1 0.0M537.0 362.9l-0.5 0.1M490.9 345.1l-0.6 -0.7M477.5 311.0l0.0 -0.8M538.3 264.6l0.2 0.0M482.5 332.8l-0.0 -0.0M477.7 329.0l-0.1 -0.4M555.2 253.0l0.7 0.3M467.2 335.5l-0.2 -0.5M531.2 246.6l0.0 0.0M594.0 322.1l-0.1 0.6M558.5 253.9l0.4 0.2M592.1 339.3l-0.3 0.7M484.6 262.3l0.7 -0.7M565.6 257.7l0.6 0.4M569.8 255.7l0.6 0.4M555.6 372.5l-0.7 0.3M464.1 325.5l-0.1 -0.6M531.6 242.3l0.5 0.0M556.8 253.0l0.0 0.0M464.1 301.9l0.1 -0.4M593.3 287.7l0.1 0.3M597.6 322.5l-0.1 0.5M560.4 371.1l-0.3 0.2M571.7 366.6l-0.1 0.1M470.1 276.8l0.1 -0.1M562.3 367.4l-0.4 0.3M598.3 315.2l-0.0 0.8M468.1 315.4l-0.0 -0.6M565.3 371.9l-0.8 0.5M506.2 373.9l-0.4 -0.1M596.8 314.8l-0.0 0.1M591.5 335.1l-0.3 0.7M496.3 250.7l0.4 -0.2M554.5 253.1l0.8 0.4M515.2 244.7l0.6 -0.1M461.5 324.3l-0.1 -0.5M581.0 351.7l-0.2 0.3M461.3 320.1l-0.1 -0.6M521.5 381.6l-0.8 -0.1M559.0 251.2l0.8 0.4M536.9 248.2l0.7 0.1" stroke="rgb(102,102,102)" stroke-width="1.0" stroke-linecap="round"/>
<path d="M547.3 303.6l0.1 0.1M522.1 332.2l-0.1 -0.0M544.6 327.7l-0.3 0.3M509.5 324.3l-0.1 -0.1M514.6 295.0l0.2 -0.2M513.4 326.6l-0.2 -0.2M508.1 311.0l0.0 -0.3M514.4 326.6l-0.4 -0.4M517.5 332.1l-0.2 -0.1M536.8 330.5l-1.0 0.4M547.7 298.5l0.1 0.2M514.1 296.9l0.6 -0.6M549.7 321.9l-0.0 0.1M542.5 295.3l0.7 0.6M524.1 291.3l1.0 -0.2M528.3 332.8l-0.0 -0.0M547.7 298.6l0.4 0.6M551.3 314.4l-0.0 0.1M544.0 297.3l0.0 0.0M511.6 279.7l0.2 -0.1M523.1 276.1l0.2 -0.0M495.7 305.6l0.2 -1.1M498.7 317.0l-0.0 -0.2M554.4 337.3l-0.4 0.4M549.6 338.1l-0.5 0.4M523.3 346.7l-0.7 -0.1M535.4 277.3l1.0 0.2M533.8 274.4l0.4 0.1M505.6 342.8l-0.3 -0.2M504.9 288.7l0.1 -0.1M490.3 313.8l-0.0 -0.6M536.9 347.6l-0.2 0.0M542.9 282.0l0.2 0.1M500.3 292.1l0.3 -0.4M507.1 341.1l-0.4 -0.3M537.9 278.3l0.8 0.2M513.4 344.0l-1.0 -0.5M533.9 347.1l-1.2 0.2M556.5 338.0l-0.3 0.3M511.0 281.7l0.5 -0.3M540.8 279.3l0.3 0.1M510.6 344.2l-0.3 -0.2M549.9 342.7l-0.5 0.3M547.5 342.2l-0.2 0.1M503.5 333.0l-0.0 -0.0M516.6 280.0l1.1 -0.4M493.8 308.4l0.1 -1.0M543.8 343.7l-0.5 0.2M516.1 280.5l1.0 -0.4M532.2 347.2l-1.1 0.1M558.4 332.2l-0.1 0.1M528.0 348.7l-1.1 -0.0M536.1 345.7l-0.4 0.1M558.9 330.7l-0.1 0.2M535.5 348.4l-0.9 0.2M561.0 292.6l0.2 0.4M525.3 350.6l-0.8 -0.1M497.7 299.2l0.2 -0.4M557.3 293.3l0.3 0.4M535.7 275.2l1.0 0.2M554.7 336.2l-0.8 0.9" stroke="rgb(127,127,127)" stroke-width="1.2" stroke-linecap="round"/>
<path d="M563.9 328.1l-0.4 0.9M563.4 294.6l0.3 0.6M491.1 310.0l0.0 -0.0M541.8 347.9l-0.6 0.2M513.4 277.5l0.9 -0.4M561.2 331.4l-0.3 0.5M489.1 316.1l-0.0 -0.2M542.6 275.0l0.8 0.3M500.5 284.6l0.2 -0.2M536.1 349.3l-0.7 0.1M559.5 288.9l0.2 0.3M489.6 307.6l0.0 -0.1M566.3 312.5l-0.0 0.4M541.8 275.1l0.8 0.3M497.0 290.2l0.3 -0.4M520.6 274.8l0.3 -0.1M550.5 344.4l-0.3 0.2M535.6 273.8l0.5 0.1M527.5 274.5l0.7 -0.0M510.7 347.5l-0.4 -0.2M564.8 325.6l-0.1 0.4M505.0 340.7l-0.6 -0.5M531.6 353.1l-0.4 0.0M565.0 320.5l-0.0 0.2M495.1 326.1l-0.2 -0.4M497.6 287.3l0.3 -0.4M532.9 273.6l0.3 0.0M498.7 335.8l-0.2 -0.3M491.9 311.0l0.0 -0.6M566.9 324.5l-0.2 0.8M538.7 348.0l-0.9 0.2M545.8 277.1l0.6 0.3M552.9 341.1l-0.0 0.0M498.8 289.9l0.4 -0.6M558.2 332.3l-0.2 0.3M558.8 287.1l0.4 0.5M506.0 282.0l0.6 -0.4M566.8 299.8l0.2 0.7M567.1 301.0l0.2 0.8M522.0 273.7l1.0 -0.2M555.3 344.0l-0.6 0.5M562.4 292.1l0.5 0.8M557.0 337.5l-0.6 0.7M561.1 350.5l-0.1 0.1M544.0 362.2l-0.9 0.3M576.9 294.7l0.0 0.1M477.0 305.2l0.0 -0.0M496.8 271.5l0.1 -0.1M478.8 302.8l0.0 -0.2M490.4 277.4l0.4 -0.5M483.0 338.0l-0.4 -0.8M569.3 343.8l-0.5 0.7M484.2 285.0l0.3 -0.5M490.5 277.8l0.5 -0.5M490.7 281.0l0.6 -0.8M494.5 351.8l-0.5 -0.5M517.1 361.4l-0.8 -0.2M555.0 360.6l-0.5 0.3M567.6 343.2l-0.6 0.8M576.6 327.1l-0.2 0.6M563.9 350.7l-0.6 0.6M551.7 357.4l-0.5 0.3M569.3 341.6l-0.4 0.5M572.9 288.1l0.2 0.3M478.3 323.9l-0.1 -0.5M474.3 311.7l0.0 -0.5M516.9 264.2l0.5 -0.1M578.5 310.2l0.0 0.5M504.6 355.6l-0.4 -0.2M484.0 340.6l-0.4 -0.7M581.5 308.4l0.0 0.5M478.6 316.6l-0.0 -0.3M579.0 310.3l0.0 0.5M567.9 279.1l0.4 0.5M512.6 360.2l-0.7 -0.2M495.5 350.2l-0.6 -0.5M583.7 314.9l-0.0 0.6M486.4 286.5l0.0 -0.0M496.4 355.5l-0.1 -0.0M562.2 271.6l0.7 0.5M483.0 336.5l-0.3 -0.7M544.4 361.8l-0.4 0.1M576.0 295.0l0.2 0.6M524.7 363.1l-0.1 -0.0M500.4 354.3l-0.1 -0.1M503.7 268.0l0.5 -0.3M547.3 264.4l0.1 0.0M481.3 294.4l0.1 -0.3M485.4 292.8l0.3 -0.6M517.2 362.0l-0.6 -0.1M575.9 292.2l0.0 0.1M577.2 313.7l-0.0 0.4M519.9 261.1l0.4 -0.1M514.8 263.3l0.4 -0.1M579.8 326.9l-0.3 0.9M490.5 275.6l0.2 -0.2M486.7 281.1l0.5 -0.7M580.7 299.4l0.2 0.7M511.8 265.0l0.3 -0.1M574.4 326.5l-0.2 0.8M549.1 359.1l-0.7 0.3M528.9 259.0l0.4 -0.0M487.7 340.1l-0.0 -0.1M558.7 272.2l0.4 0.3M548.6 359.8l-0.5 0.2M523.1 364.7l-0.5 -0.1" stroke="rgb(127,127,127)" stroke-width="1.0" stroke-linecap="round"/>
<path d="M544.8 299.6l0.7 0.8M550.0 309.8l0.0 0.3M546.2 299.4l0.2 0.3M525.6 334.0l-0.2 -0.0M533.9 291.2l0.4 0.1M513.4 299.0l0.0 -0.0M518.2 329.8l-0.2 -0.1M535.4 333.0l-0.1 0.0M536.9 292.6l0.0 0.0M548.0 322.4l-0.4 0.7M536.0 333.5l-0.9 0.3M548.0 301.6l0.3 0.6M536.4 291.8l0.9 0.3M539.7 332.7l-0.7 0.4M524.2 332.1l-0.4 -0.1M530.0 292.4l1.1 0.0M543.5 329.5l-0.8 0.6M534.8 290.9l0.1 0.0M535.4 332.1l-0.2 0.1M528.3 332.6l-0.3 -0.0M547.3 301.3l0.3 0.5M520.7 333.8l-1.1 -0.4M520.3 292.2l0.1 -0.0M511.3 325.7l-0.5 -0.6M514.8 329.8l-0.0 -0.0M518.0 330.6l-0.1 -0.1M519.8 331.2l-1.1 -0.5M540.5 292.6l0.4 0.2M525.5 333.0l-0.5 -0.1M510.8 299.9l0.2 -0.2M514.2 295.1l0.8 -0.7M545.8 299.2l0.6 0.8M540.9 331.0l-1.0 0.6M519.2 291.9l0.9 -0.4M550.6 317.7l-0.0 0.2M550.0 320.2l-0.1 0.3M509.6 325.0l-0.5 -0.8M527.0 333.1l-1.1 -0.1M536.7 332.2l-0.5 0.2M517.2 329.8l-0.7 -0.5M530.9 334.7l-0.3 0.0M541.9 330.5l-0.9 0.6M521.3 291.8l0.3 -0.1M538.7 292.1l0.2 0.1M550.5 309.4l0.0 0.0M525.9 332.9l-0.8 -0.1M549.5 314.3l-0.0 0.3M521.2 292.1l1.0 -0.4M510.2 321.4l-0.4 -0.9M517.3 294.5l0.4 -0.2M507.9 310.5l0.1 -1.1M549.5 307.2l0.2 0.9M507.7 307.3l0.1 -0.3M523.2 334.3l-0.5 -0.1M511.6 343.1l-0.5 -0.3M516.1 279.2l0.8 -0.3M560.5 290.1l0.5 0.7M520.8 347.7l-1.1 -0.3M564.2 322.3l-0.0 0.1M499.1 288.7l0.2 -0.2M566.4 298.2l0.1 0.2M557.6 290.1l0.6 0.8M564.4 310.1l0.0 0.4M521.6 278.9l0.3 -0.1M552.8 343.4l-0.3 0.2M536.6 277.1l0.2 0.0M546.3 280.7l0.9 0.5M536.3 344.9l-0.5 0.1M505.3 337.1l-0.4 -0.4M494.6 326.8l-0.2 -0.4M505.6 338.5l-0.7 -0.6M505.5 287.3l0.2 -0.2M547.5 280.3l0.7 0.4M493.9 309.6l0.1 -0.9M502.9 293.8l0.3 -0.5M557.6 287.1l0.7 0.8M515.9 342.0l-0.0 -0.0M559.9 295.1l0.0 0.0M509.5 281.5l0.4 -0.3M507.2 286.7l0.0 -0.0M519.2 345.5l-0.1 -0.0M500.2 330.4l-0.2 -0.3M526.6 347.7l-0.4 -0.0M549.0 341.4l-0.1 0.1M556.4 285.2l0.6 0.6M510.8 345.6l-0.7 -0.4M564.3 316.4l-0.1 0.8M533.5 277.3l0.8 0.1M544.7 280.6l0.5 0.3M566.7 313.1l-0.0 0.5M499.8 330.0l-0.4 -0.6M563.3 304.1l0.1 0.5M566.3 314.6l-0.0 0.2M560.0 301.7l0.4 1.1M520.8 349.2l-0.3 -0.1M495.8 321.3l-0.1 -0.3M510.2 280.7l0.3 -0.2M501.7 293.2l0.6 -0.8M524.9 348.8l-0.1 -0.0M502.0 284.2l0.5 -0.5M505.4 340.9l-0.9 -0.8M500.2 295.7l0.1 -0.1M544.0 277.1l0.2 0.1M512.5 282.7l1.0 -0.5M541.2 280.9l0.5 0.2M549.3 341.6l-0.6 0.4M547.2 343.7l-0.4 0.2M512.4 280.5l0.2 -0.1M496.8 317.8l-0.0 -0.0M564.0 313.6l-0.0 0.8M563.1 326.8l-0.1 0.3M527.0 277.0l0.6 -0.0M555.2 287.2l0.6 0.6M559.2 297.2l0.0 0.0M497.5 327.5l-0.2 -0.4M509.5 343.7l-0.9 -0.5M520.3 346.8l-0.1 -0.0M555.3 335.2l-0.7 0.8M553.6 335.3l-0.0 0.0M496.8 328.7l-0.5 -1.0" stroke="rgb(153,153,153)" stroke-width="1.2" stroke-linecap="round"/>
<path d="M567.4 301.6l0.1 0.2M544.5 345.7l-0.8 0.4M513.0 277.5l0.4 -0.2M562.3 330.9l-0.2 0.3M531.0 351.0l-0.8 0.0M546.5 278.9l0.7 0.4M522.1 273.6l0.2 -0.0M495.3 289.5l0.3 -0.4M528.4 351.1l-0.0 -0.0M511.5 347.4l-0.9 -0.4M489.8 314.6l-0.0 -0.2M531.0 274.1l0.2 0.0M550.8 281.0l0.7 0.5M514.4 349.1l-0.9 -0.4M539.8 274.4l0.2 0.1M514.6 349.1l-0.9 -0.3M525.5 276.4l0.2 -0.0M564.4 296.6l0.4 0.9M563.0 327.9l-0.1 0.1M568.0 323.1l-0.2 0.7M521.0 272.1l0.8 -0.2M562.8 332.4l-0.4 0.7M486.2 312.4l-0.0 -0.3M555.2 342.3l-0.5 0.4M516.9 348.6l-0.2 -0.1M516.6 347.8l-0.5 -0.2M547.6 278.6l0.3 0.2M490.6 324.3l-0.0 -0.2M561.3 289.8l0.2 0.3M549.1 346.0l-0.3 0.2M542.6 349.0l-0.0 0.0M503.6 344.3l-0.2 -0.1M516.8 276.1l0.5 -0.2M536.6 350.3l-0.3 0.1M524.6 349.3l-0.4 -0.1M540.6 276.2l0.2 0.1M498.6 286.3l0.3 -0.4M566.4 327.7l-0.1 0.2M489.7 305.9l0.1 -0.7" stroke="rgb(153,153,153)" stroke-width="1.0" stroke-linecap="round"/>
<path d="M517.1 295.5l0.9 -0.7M526.1 333.2l-0.0 -0.0M551.6 314.5l-0.1 0.6M520.1 333.1l-0.2 -0.1M511.9 299.7l0.3 -0.4M506.8 314.9l-0.1 -1.0M549.2 302.2l0.3 0.6M519.1 331.5l-0.1 -0.1M509.7 324.0l-0.3 -0.6M547.6 322.4l-0.1 0.3M540.3 293.2l0.0 0.0M541.4 331.7l-1.0 0.6M546.0 327.7l-0.8 0.9M531.1 332.7l-1.0 0.1M540.8 330.5l-0.2 0.1M507.6 315.6l-0.0 -0.2M545.5 295.7l0.5 0.4M531.0 333.8l-1.0 0.1M513.3 297.3l0.5 -0.6M547.7 299.0l0.0 0.1M520.3 332.3l-1.0 -0.4M518.9 293.7l0.1 -0.0M524.3 291.0l0.9 -0.2M522.1 333.2l-0.3 -0.1M543.4 298.3l0.6 0.6M548.3 300.2l0.4 0.7M508.5 306.2l0.2 -0.8M551.6 311.1l0.0 0.8M545.4 323.8l-0.3 0.4M511.7 325.4l-0.1 -0.1M544.5 296.1l0.8 0.7M513.9 327.1l-0.3 -0.3M551.1 305.6l0.3 0.9M533.6 289.5l1.0 0.2M539.3 331.9l-0.4 0.2M543.0 328.6l-0.8 0.7M510.2 319.6l-0.2 -0.4M509.4 317.2l-0.3 -1.1M549.3 307.4l0.2 0.8M547.7 305.2l0.4 1.1M535.5 332.4l-0.9 0.3M516.7 294.6l0.0 -0.0M523.0 292.4l0.9 -0.3M532.0 291.4l0.4 0.1M533.8 334.9l-1.0 0.2M545.4 325.6l-0.1 0.2M507.7 306.2l0.2 -0.8M517.9 329.8l-0.5 -0.3M506.8 315.7l-0.1 -1.0M522.2 331.8l-0.4 -0.1M550.9 320.1l-0.2 0.6M521.0 332.8l-0.3 -0.1M530.1 291.5l0.3 0.0M532.5 333.5l-0.4 0.1M533.3 291.7l0.2 0.0M519.5 291.8l0.7 -0.3M544.6 327.5l-0.4 0.4M508.2 319.2l-0.2 -0.7M523.8 331.7l-0.5 -0.1M511.7 298.5l0.6 -0.8M503.8 335.6l-0.7 -0.8M507.0 287.0l0.8 -0.7M553.4 288.0l0.8 0.8M495.1 322.3l-0.0 -0.1M500.7 288.3l0.4 -0.5M540.4 346.0l-0.6 0.2M537.3 344.9l-0.2 0.0M543.7 343.4l-0.9 0.4M565.1 304.4l0.2 0.7M550.8 340.1l-0.8 0.6M528.6 348.1l-0.4 -0.0M505.2 339.3l-0.5 -0.4M550.1 283.6l0.6 0.5M533.1 275.5l0.5 0.1M503.9 336.2l-0.3 -0.3M565.0 306.8l0.2 1.1M526.7 348.3l-0.9 -0.1M523.4 276.5l0.3 -0.1M562.9 304.5l0.1 0.6M538.9 342.6l-0.7 0.2M493.1 323.9l-0.1 -0.3M565.5 303.6l0.2 0.9M503.2 291.1l0.3 -0.4M545.4 281.3l0.1 0.1M500.1 294.2l0.4 -0.6M558.5 333.6l-0.2 0.3M550.8 342.9l-0.8 0.5M513.6 280.4l0.5 -0.2M506.2 340.6l-0.1 -0.1M518.2 279.7l0.3 -0.1M522.2 275.2l0.4 -0.1M520.1 348.8l-0.9 -0.2M541.2 277.2l1.0 0.4M564.3 320.3l-0.2 0.7M537.9 348.1l-1.1 0.3M518.9 343.5l-0.1 -0.0M564.0 318.1l-0.0 0.3M527.3 277.9l0.4 -0.0M529.0 346.9l-1.0 -0.0M520.4 278.3l0.9 -0.2M538.3 345.5l-0.5 0.1M552.8 284.9l0.3 0.3M551.3 284.0l0.3 0.2M530.3 348.7l-0.9 0.0M531.0 347.1l-0.4 0.0M542.9 279.3l0.1 0.0M514.7 281.8l0.9 -0.4M523.8 276.9l0.2 -0.0M555.2 335.1l-0.5 0.6M493.6 306.1l0.0 -0.1M493.0 312.0l0.0 -0.8M542.0 344.6l-0.0 0.0M535.5 274.8l0.5 0.1M504.1 286.2l0.7 -0.7M500.7 296.8l0.1 -0.2M562.8 326.8l-0.1 0.1M560.8 315.1l-0.1 0.8M492.8 318.8l-0.1 -0.6M524.2 347.9l-0.9 -0.1M494.2 314.6l-0.0 -0.8M561.7 295.1l0.2 0.4M542.4 343.4l-0.7 0.3M516.9 279.2l0.0 -0.0M522.8 346.7l-1.1 -0.2M545.7 282.7l0.7 0.4M503.5 338.2l-0.8 -0.8M495.6 321.4l-0.2 -0.8M564.1 303.5l0.2 0.7M500.8 335.1l-0.4 -0.5M556.8 336.3l-0.1 0.1M493.3 298.6l0.0 -0.1M517.8 349.7l-1.1 -0.3M496.8 301.1l0.3 -0.8M560.7 300.5l0.2 0.5M494.4 300.0l0.1 -0.3M532.6 277.6l0.1 0.0M495.6 298.8l0.3 -0.6M553.7 337.7l-0.3 0.3" stroke="rgb(178,178,178)" stroke-width="1.2" stroke-linecap="round"/>
<path d="M488.9 315.8l-0.0 -0.4M552.6 341.6l-0.3 0.3M520.0 350.8l-0.3 -0.1M547.9 280.0l0.5 0.3M493.1 328.4l-0.2 -0.5M541.1 351.7l-0.5 0.2M515.6 348.3l-0.5 -0.2M502.2 345.2l-0.3 -0.2M562.3 293.0l0.2 0.4M494.1 332.6l-0.4 -0.7M554.8 281.9l0.7 0.6M548.9 345.7l-0.5 0.3M513.5 348.6l-0.4 -0.2M545.2 350.1l-0.3 0.1M499.8 285.1l0.6 -0.6M526.8 273.3l0.9 -0.1M523.5 270.5l0.3 -0.0M524.7 272.5l0.7 -0.1M567.3 300.7l0.3 0.8M538.9 273.7l0.9 0.2M569.8 305.6l0.0 0.1" stroke="rgb(178,178,178)" stroke-width="1.0" stroke-linecap="round"/>
<path d="M510.7 303.7l0.1 -0.3M509.5 319.4l-0.4 -1.1M522.4 332.4l-0.1 -0.0M544.3 296.7l0.6 0.6M517.4 295.5l0.4 -0.2M546.1 325.7l-0.1 0.2M541.1 295.9l0.6 0.4M532.2 334.3l-0.7 0.1M532.1 334.3l-1.0 0.1M543.9 296.0l0.9 0.8M540.2 293.8l0.9 0.5M526.5 291.7l1.1 -0.1M508.4 313.2l-0.0 -0.6M516.3 329.9l-0.3 -0.2M525.0 333.7l-1.0 -0.2M551.1 314.4l-0.1 0.7M511.2 301.3l0.0 -0.1M548.0 303.2l0.1 0.2M524.1 332.5l-0.2 -0.0M535.4 331.9l-0.0 0.0M536.4 331.4l-0.4 0.1M509.2 304.5l0.3 -0.9M513.3 323.9l-0.4 -0.6M512.9 298.8l0.7 -0.9M533.5 291.7l0.7 0.1M536.7 293.4l0.9 0.3M534.9 332.8l-0.2 0.1M539.7 330.2l-0.8 0.5M529.8 291.8l1.0 0.0M532.5 334.6l-1.0 0.2M552.2 316.7l-0.2 0.9M528.3 290.0l1.0 -0.0M506.3 318.4l-0.0 -0.0M542.9 295.4l0.1 0.1M513.5 326.9l-0.0 -0.0M534.1 290.6l0.4 0.1M533.1 291.6l0.5 0.1M548.4 306.7l0.0 0.2M514.6 297.2l0.7 -0.7M521.2 332.0l-0.6 -0.2M549.6 308.1l0.0 0.0M514.7 297.9l0.4 -0.4M507.2 318.7l-0.3 -1.1M517.9 294.0l0.6 -0.4M539.3 330.6l-0.4 0.2M546.6 299.3l0.4 0.5M517.5 331.5l-0.3 -0.2M539.4 293.1l0.1 0.1M548.2 323.5l-0.5 0.9M509.8 302.2l0.5 -1.0M551.7 313.1l-0.0 0.6M515.1 296.2l0.4 -0.3M508.2 311.5l0.0 -0.1M529.1 292.0l0.6 0.0M517.5 329.7l-0.1 -0.1M523.6 291.6l0.8 -0.2M543.0 295.1l0.8 0.6M550.4 316.4l-0.2 1.1M507.2 313.3l-0.0 -0.6M523.1 293.8l0.0 -0.0M551.4 315.7l-0.0 0.2M514.5 294.7l0.7 -0.6M512.0 301.8l0.4 -0.6M537.7 332.0l-0.3 0.1M542.1 279.2l0.6 0.2M495.7 300.5l0.1 -0.2M557.5 338.8l-0.6 0.7M493.7 304.6l0.0 -0.1M495.2 323.1l-0.2 -0.7M556.6 289.2l0.3 0.3M506.0 340.7l-0.7 -0.6M564.3 302.6l0.0 0.1M524.2 276.0l0.7 -0.1M548.4 345.2l-0.5 0.3M531.8 276.7l0.1 0.0M531.8 347.4l-0.3 0.0M494.6 300.5l0.4 -1.1M558.8 327.5l-0.4 0.9M555.5 287.7l0.5 0.5M560.2 326.9l-0.2 0.4M525.5 345.8l-0.4 -0.0M493.3 299.3l0.0 -0.1M521.5 277.8l0.9 -0.2M496.0 320.8l-0.1 -0.6M561.4 296.6l0.1 0.1M552.3 339.3l-0.8 0.7M559.9 331.0l-0.3 0.5M537.5 346.2l-0.6 0.1M532.5 345.2l-0.8 0.1M544.6 346.9l-0.2 0.1M547.0 281.4l0.2 0.1M527.9 347.5l-1.0 -0.0M566.1 320.2l-0.2 1.0M493.3 321.7l-0.2 -0.9M545.1 282.1l1.0 0.5M514.5 343.9l-0.5 -0.2M512.7 278.3l1.0 -0.5M559.3 292.6l0.3 0.5M523.4 344.5l-0.2 -0.0M544.7 280.4l1.0 0.5M492.8 310.2l0.0 -0.0M567.3 316.5l-0.1 0.7M562.1 295.3l0.4 0.7M554.3 286.2l0.2 0.2M498.3 326.1l-0.1 -0.3M534.4 348.1l-0.8 0.1M495.8 310.6l0.0 -0.7M529.1 349.3l-1.1 -0.0M495.1 302.0l0.3 -1.1M554.1 336.5l-0.8 0.8M562.7 321.6l-0.3 1.0M551.5 342.2l-0.8 0.6M541.2 345.5l-0.9 0.3M546.4 277.3l1.0 0.5M530.0 346.1l-0.2 0.0M512.1 282.4l0.8 -0.5M537.9 283.2l0.9 0.3M541.6 344.1l-1.1 0.4M539.0 277.1l0.5 0.1M501.1 334.0l-0.6 -0.7M561.1 329.6l-0.3 0.6M558.1 332.7l-0.1 0.2M549.9 285.5l0.6 0.5M528.6 345.4l-1.0 -0.0M527.6 347.7l-0.5 -0.0M505.4 287.0l0.2 -0.2M517.0 279.7l0.4 -0.1M535.2 348.7l-1.0 0.2M566.2 315.8l-0.1 0.6M520.5 281.1l0.9 -0.2M557.9 293.5l0.5 0.7M551.9 280.5l0.0 0.0M492.5 317.9l-0.0 -0.2M525.0 278.7l0.5 -0.1M519.3 278.7l0.3 -0.1M564.9 316.8l-0.0 0.3M519.8 347.2l-1.1 -0.3M516.9 281.2l0.6 -0.2" stroke="rgb(204,204,204)" stroke-width="1.2" stroke-linecap="round"/>
<path d="M527.1 290.0l0.5 -0.0M508.9 314.8l-0.0 -0.1M527.7 332.9l-1.0 -0.1M513.8 297.7l0.6 -0.7M540.2 292.6l0.5 0.3M536.0 333.2l-0.2 0.1M549.7 322.3l-0.3 0.6M520.2 293.6l0.0 -0.0M549.6 315.1l-0.1 0.9M534.6 293.3l0.4 0.1M513.3 324.0l-0.1 -0.1M530.2 290.5l0.6 0.0M510.8 301.3l0.5 -0.8M524.7 333.4l-0.5 -0.1M539.5 292.7l1.0 0.5M511.1 299.0l0.6 -0.8M524.0 332.6l-0.1 -0.0M517.0 333.3l-0.2 -0.1M509.5 301.0l0.2 -0.3M549.5 307.9l0.1 0.4M535.7 293.1l1.0 0.3M507.8 314.6l-0.1 -1.1M549.5 310.8l0.1 1.0M551.5 313.4l-0.0 0.5M544.8 297.4l0.2 0.2M509.4 320.2l-0.1 -0.4M548.6 314.6l-0.1 0.8M526.1 333.8l-0.7 -0.1M541.9 326.4l-0.1 0.1M529.0 289.7l0.3 -0.0M532.0 292.2l0.6 0.1M510.0 304.6l0.0 -0.0M517.7 330.5l-0.4 -0.2M525.0 335.2l-0.4 -0.1M535.3 290.5l0.7 0.2M551.0 311.3l0.0 0.9M507.5 317.2l-0.0 -0.2M510.9 301.8l0.1 -0.1M536.6 291.5l0.5 0.2M509.7 316.7l-0.1 -0.3M538.8 293.1l0.6 0.3M532.3 332.2l-1.1 0.2M536.5 331.6l-0.2 0.1M526.2 289.8l1.1 -0.1M510.2 303.1l0.5 -1.0M508.4 307.6l0.1 -0.6M509.1 307.1l0.0 -0.1M529.8 332.5l-0.8 0.0M528.2 335.0l-0.0 -0.0M507.5 317.4l-0.2 -0.8M547.6 320.5l-0.4 0.9M514.2 295.8l0.2 -0.1M518.6 293.1l0.6 -0.3M518.1 295.2l0.3 -0.2M515.1 329.2l-0.2 -0.2M525.6 290.9l0.4 -0.1M508.1 312.4l0.0 -0.5M550.5 317.2l-0.2 0.7M536.3 332.9l-0.6 0.2M516.1 329.9l-0.4 -0.3M517.6 332.0l-0.1 -0.1M536.4 331.4l-0.7 0.3M550.1 308.6l0.1 0.8" stroke="rgb(229,229,229)" stroke-width="1.2" stroke-linecap="round"/>
<path d="M426.7,305.3 L502,305.3 C507,305.3 507,300 514,300 L536,300 C543,300 546,308 560.5,312.4 C546,317 543,323.6 536,323.6 L514,323.6 C507,323.6 507,319.5 502,319.5 L426.7,319.5 Z" fill="#050505"/>
</g>
<rect x="426.7" y="210.3" width="38.6" height="38.2" fill="#fff" stroke="none" stroke-width="1" />
<text x="431" y="238" font-size="31" text-anchor="start" font-weight="bold" fill="#000" >(f)</text>
<text x="437" y="402" font-size="10" font-weight="bold" fill="#fff">5 nm<tspan font-size="6" dy="-4">-1</tspan></text>
<rect x="434" y="406.5" width="35" height="1.6" fill="#fff" stroke="none" stroke-width="1" />
<rect x="11" y="419" width="154" height="154" fill="#0b0b0b" stroke="none" stroke-width="1" />
<clipPath id="cph"><rect x="11" y="419" width="154" height="154"/></clipPath>
<g clip-path="url(#cph)">
<g filter="url(#fblur4)" opacity="0.5"><ellipse cx="56" cy="447" rx="8.0" ry="7.0" fill="#8a8a8a" fill-opacity="1.0"/><ellipse cx="69" cy="451" rx="10.0" ry="8.0" fill="#8a8a8a" fill-opacity="1.0"/><ellipse cx="81" cy="459" rx="8.0" ry="8.0" fill="#8a8a8a" fill-opacity="1.0"/><ellipse cx="73" cy="464" rx="9.0" ry="7.0" fill="#8a8a8a" fill-opacity="1.0"/><ellipse cx="51" cy="479" rx="9.0" ry="8.0" fill="#8a8a8a" fill-opacity="1.0"/><ellipse cx="63" cy="481" rx="11.0" ry="9.0" fill="#8a8a8a" fill-opacity="1.0"/><ellipse cx="76" cy="489" rx="9.0" ry="8.0" fill="#8a8a8a" fill-opacity="1.0"/><ellipse cx="56" cy="493" rx="8.0" ry="6.0" fill="#8a8a8a" fill-opacity="1.0"/><ellipse cx="96" cy="467" rx="8.0" ry="8.0" fill="#8a8a8a" fill-opacity="1.0"/><ellipse cx="111" cy="464" rx="10.0" ry="9.0" fill="#8a8a8a" fill-opacity="1.0"/><ellipse cx="126" cy="469" rx="10.0" ry="9.0" fill="#8a8a8a" fill-opacity="1.0"/><ellipse cx="106" cy="481" rx="12.0" ry="10.0" fill="#8a8a8a" fill-opacity="1.0"/><ellipse cx="123" cy="485" rx="11.0" ry="10.0" fill="#8a8a8a" fill-opacity="1.0"/><ellipse cx="133" cy="479" rx="6.0" ry="8.0" fill="#8a8a8a" fill-opacity="1.0"/><ellipse cx="111" cy="499" rx="10.0" ry="8.0" fill="#8a8a8a" fill-opacity="1.0"/><ellipse cx="99" cy="497" rx="6.0" ry="6.0" fill="#8a8a8a" fill-opacity="1.0"/><ellipse cx="91" cy="511" rx="6.0" ry="7.0" fill="#8a8a8a" fill-opacity="1.0"/><ellipse cx="87" cy="521" rx="6.0" ry="6.0" fill="#8a8a8a" fill-opacity="1.0"/><ellipse cx="81" cy="529" rx="9.0" ry="7.0" fill="#8a8a8a" fill-opacity="1.0"/><ellipse cx="93" cy="533" rx="9.0" ry="7.0" fill="#8a8a8a" fill-opacity="1.0"/><ellipse cx="103" cy="537" rx="6.0" ry="5.0" fill="#8a8a8a" fill-opacity="1.0"/><ellipse cx="119" cy="457" rx="7.0" ry="6.0" fill="#8a8a8a" fill-opacity="1.0"/></g>
<g filter="url(#fblur1)">
<circle cx="60.8" cy="450.0" r="4.2" fill="rgb(152,152,152)" fill-opacity="0.6"/>
<circle cx="57.5" cy="448.3" r="4.0" fill="rgb(136,136,136)" fill-opacity="0.6"/>
<circle cx="55.0" cy="445.7" r="4.3" fill="rgb(224,224,224)" fill-opacity="0.6"/>
<circle cx="62.5" cy="447.6" r="3.8" fill="rgb(148,148,148)" fill-opacity="0.6"/>
<circle cx="55.5" cy="444.7" r="3.7" fill="rgb(213,213,213)" fill-opacity="0.6"/>
<circle cx="56.4" cy="447.8" r="3.4" fill="rgb(122,122,122)" fill-opacity="0.6"/>
<circle cx="53.5" cy="442.4" r="3.9" fill="rgb(224,224,224)" fill-opacity="0.6"/>
<circle cx="58.5" cy="443.0" r="4.6" fill="rgb(203,203,203)" fill-opacity="0.6"/>
<circle cx="73.2" cy="456.9" r="4.4" fill="rgb(202,202,202)" fill-opacity="0.6"/>
<circle cx="73.6" cy="454.1" r="3.8" fill="rgb(175,175,175)" fill-opacity="0.6"/>
<circle cx="68.8" cy="457.1" r="3.9" fill="rgb(207,207,207)" fill-opacity="0.6"/>
<circle cx="66.4" cy="456.5" r="4.6" fill="rgb(168,168,168)" fill-opacity="0.6"/>
<circle cx="70.2" cy="457.1" r="4.3" fill="rgb(171,171,171)" fill-opacity="0.6"/>
<circle cx="64.0" cy="448.5" r="4.3" fill="rgb(137,137,137)" fill-opacity="0.6"/>
<circle cx="76.3" cy="447.7" r="4.6" fill="rgb(152,152,152)" fill-opacity="0.6"/>
<circle cx="69.1" cy="451.3" r="4.2" fill="rgb(181,181,181)" fill-opacity="0.6"/>
<circle cx="65.6" cy="446.8" r="3.9" fill="rgb(218,218,218)" fill-opacity="0.6"/>
<circle cx="71.2" cy="444.9" r="4.5" fill="rgb(196,196,196)" fill-opacity="0.6"/>
<circle cx="83.2" cy="455.7" r="3.4" fill="rgb(211,211,211)" fill-opacity="0.6"/>
<circle cx="75.3" cy="459.3" r="4.5" fill="rgb(145,145,145)" fill-opacity="0.6"/>
<circle cx="76.8" cy="464.5" r="3.8" fill="rgb(195,195,195)" fill-opacity="0.6"/>
<circle cx="74.3" cy="457.0" r="3.3" fill="rgb(190,190,190)" fill-opacity="0.6"/>
<circle cx="85.5" cy="454.1" r="3.3" fill="rgb(192,192,192)" fill-opacity="0.6"/>
<circle cx="79.4" cy="452.4" r="4.8" fill="rgb(135,135,135)" fill-opacity="0.6"/>
<circle cx="74.3" cy="456.8" r="4.1" fill="rgb(197,197,197)" fill-opacity="0.6"/>
<circle cx="75.4" cy="456.7" r="3.1" fill="rgb(167,167,167)" fill-opacity="0.6"/>
<circle cx="84.8" cy="462.5" r="4.6" fill="rgb(199,199,199)" fill-opacity="0.6"/>
<circle cx="78.9" cy="466.6" r="3.9" fill="rgb(143,143,143)" fill-opacity="0.6"/>
<circle cx="75.6" cy="461.7" r="3.2" fill="rgb(167,167,167)" fill-opacity="0.6"/>
<circle cx="74.4" cy="462.7" r="3.9" fill="rgb(135,135,135)" fill-opacity="0.6"/>
<circle cx="74.7" cy="463.0" r="3.0" fill="rgb(178,178,178)" fill-opacity="0.6"/>
<circle cx="66.5" cy="465.7" r="3.9" fill="rgb(223,223,223)" fill-opacity="0.6"/>
<circle cx="68.7" cy="463.3" r="3.5" fill="rgb(182,182,182)" fill-opacity="0.6"/>
<circle cx="75.0" cy="467.8" r="4.3" fill="rgb(146,146,146)" fill-opacity="0.6"/>
<circle cx="71.8" cy="464.3" r="3.0" fill="rgb(123,123,123)" fill-opacity="0.6"/>
<circle cx="71.5" cy="459.1" r="4.3" fill="rgb(145,145,145)" fill-opacity="0.6"/>
<circle cx="46.7" cy="474.9" r="3.9" fill="rgb(168,168,168)" fill-opacity="0.6"/>
<circle cx="47.9" cy="481.0" r="3.4" fill="rgb(215,215,215)" fill-opacity="0.6"/>
<circle cx="49.9" cy="479.2" r="4.0" fill="rgb(125,125,125)" fill-opacity="0.6"/>
<circle cx="49.7" cy="479.4" r="3.3" fill="rgb(129,129,129)" fill-opacity="0.6"/>
<circle cx="55.9" cy="477.1" r="3.9" fill="rgb(216,216,216)" fill-opacity="0.6"/>
<circle cx="52.8" cy="476.0" r="4.8" fill="rgb(159,159,159)" fill-opacity="0.6"/>
<circle cx="44.5" cy="476.2" r="4.5" fill="rgb(190,190,190)" fill-opacity="0.6"/>
<circle cx="43.2" cy="478.3" r="3.7" fill="rgb(171,171,171)" fill-opacity="0.6"/>
<circle cx="46.3" cy="480.3" r="3.1" fill="rgb(149,149,149)" fill-opacity="0.6"/>
<circle cx="48.9" cy="485.3" r="3.1" fill="rgb(199,199,199)" fill-opacity="0.6"/>
<circle cx="56.9" cy="482.2" r="3.7" fill="rgb(168,168,168)" fill-opacity="0.6"/>
<circle cx="68.0" cy="479.3" r="3.2" fill="rgb(132,132,132)" fill-opacity="0.6"/>
<circle cx="65.8" cy="488.4" r="4.2" fill="rgb(122,122,122)" fill-opacity="0.6"/>
<circle cx="66.2" cy="485.5" r="4.3" fill="rgb(172,172,172)" fill-opacity="0.6"/>
<circle cx="60.2" cy="480.3" r="4.4" fill="rgb(148,148,148)" fill-opacity="0.6"/>
<circle cx="63.5" cy="480.6" r="4.7" fill="rgb(204,204,204)" fill-opacity="0.6"/>
<circle cx="59.0" cy="476.7" r="3.9" fill="rgb(147,147,147)" fill-opacity="0.6"/>
<circle cx="61.6" cy="483.9" r="4.7" fill="rgb(181,181,181)" fill-opacity="0.6"/>
<circle cx="56.0" cy="479.7" r="3.1" fill="rgb(129,129,129)" fill-opacity="0.6"/>
<circle cx="65.9" cy="475.0" r="3.5" fill="rgb(144,144,144)" fill-opacity="0.6"/>
<circle cx="66.4" cy="483.9" r="3.8" fill="rgb(175,175,175)" fill-opacity="0.6"/>
<circle cx="55.3" cy="481.7" r="4.7" fill="rgb(199,199,199)" fill-opacity="0.6"/>
<circle cx="55.0" cy="481.3" r="4.3" fill="rgb(147,147,147)" fill-opacity="0.6"/>
<circle cx="82.4" cy="488.4" r="4.3" fill="rgb(162,162,162)" fill-opacity="0.6"/>
<circle cx="77.2" cy="483.9" r="3.8" fill="rgb(123,123,123)" fill-opacity="0.6"/>
<circle cx="77.5" cy="494.5" r="3.3" fill="rgb(173,173,173)" fill-opacity="0.6"/>
<circle cx="75.7" cy="487.6" r="4.3" fill="rgb(218,218,218)" fill-opacity="0.6"/>
<circle cx="79.3" cy="488.6" r="4.7" fill="rgb(154,154,154)" fill-opacity="0.6"/>
<circle cx="80.0" cy="491.3" r="4.4" fill="rgb(209,209,209)" fill-opacity="0.6"/>
<circle cx="71.5" cy="490.7" r="3.7" fill="rgb(190,190,190)" fill-opacity="0.6"/>
<circle cx="83.7" cy="490.9" r="3.0" fill="rgb(168,168,168)" fill-opacity="0.6"/>
<circle cx="79.4" cy="494.5" r="4.2" fill="rgb(205,205,205)" fill-opacity="0.6"/>
<circle cx="79.7" cy="490.5" r="4.6" fill="rgb(212,212,212)" fill-opacity="0.6"/>
<circle cx="59.8" cy="489.8" r="4.3" fill="rgb(181,181,181)" fill-opacity="0.6"/>
<circle cx="51.6" cy="496.3" r="3.2" fill="rgb(184,184,184)" fill-opacity="0.6"/>
<circle cx="55.1" cy="490.3" r="4.0" fill="rgb(169,169,169)" fill-opacity="0.6"/>
<circle cx="55.8" cy="496.6" r="4.2" fill="rgb(199,199,199)" fill-opacity="0.6"/>
<circle cx="55.8" cy="494.9" r="3.6" fill="rgb(148,148,148)" fill-opacity="0.6"/>
<circle cx="56.0" cy="487.9" r="3.1" fill="rgb(199,199,199)" fill-opacity="0.6"/>
<circle cx="51.3" cy="495.7" r="4.4" fill="rgb(162,162,162)" fill-opacity="0.6"/>
<circle cx="98.5" cy="471.1" r="4.6" fill="rgb(134,134,134)" fill-opacity="0.6"/>
<circle cx="91.1" cy="465.3" r="3.8" fill="rgb(150,150,150)" fill-opacity="0.6"/>
<circle cx="88.9" cy="467.8" r="4.7" fill="rgb(158,158,158)" fill-opacity="0.6"/>
<circle cx="96.5" cy="465.3" r="3.8" fill="rgb(211,211,211)" fill-opacity="0.6"/>
<circle cx="93.2" cy="469.1" r="3.9" fill="rgb(176,176,176)" fill-opacity="0.6"/>
<circle cx="100.7" cy="464.2" r="4.2" fill="rgb(203,203,203)" fill-opacity="0.6"/>
<circle cx="98.2" cy="465.5" r="4.5" fill="rgb(129,129,129)" fill-opacity="0.6"/>
<circle cx="97.9" cy="465.4" r="4.0" fill="rgb(209,209,209)" fill-opacity="0.6"/>
<circle cx="100.3" cy="468.9" r="3.6" fill="rgb(144,144,144)" fill-opacity="0.6"/>
<circle cx="110.2" cy="459.7" r="3.5" fill="rgb(220,220,220)" fill-opacity="0.6"/>
<circle cx="108.8" cy="461.8" r="3.6" fill="rgb(128,128,128)" fill-opacity="0.6"/>
<circle cx="110.2" cy="458.6" r="3.8" fill="rgb(150,150,150)" fill-opacity="0.6"/>
<circle cx="110.0" cy="466.3" r="4.7" fill="rgb(154,154,154)" fill-opacity="0.6"/>
<circle cx="103.8" cy="459.8" r="3.3" fill="rgb(191,191,191)" fill-opacity="0.6"/>
<circle cx="108.7" cy="461.7" r="4.4" fill="rgb(144,144,144)" fill-opacity="0.6"/>
<circle cx="116.6" cy="466.2" r="3.7" fill="rgb(206,206,206)" fill-opacity="0.6"/>
<circle cx="108.2" cy="470.1" r="4.7" fill="rgb(172,172,172)" fill-opacity="0.6"/>
<circle cx="114.4" cy="471.3" r="4.3" fill="rgb(198,198,198)" fill-opacity="0.6"/>
<circle cx="107.2" cy="466.0" r="4.2" fill="rgb(158,158,158)" fill-opacity="0.6"/>
<circle cx="109.1" cy="458.7" r="4.7" fill="rgb(157,157,157)" fill-opacity="0.6"/>
<circle cx="110.6" cy="470.4" r="3.3" fill="rgb(220,220,220)" fill-opacity="0.6"/>
<circle cx="123.3" cy="466.7" r="4.7" fill="rgb(212,212,212)" fill-opacity="0.6"/>
<circle cx="130.7" cy="468.0" r="4.0" fill="rgb(144,144,144)" fill-opacity="0.6"/>
<circle cx="132.0" cy="467.2" r="3.5" fill="rgb(186,186,186)" fill-opacity="0.6"/>
<circle cx="119.7" cy="466.0" r="4.7" fill="rgb(129,129,129)" fill-opacity="0.6"/>
<circle cx="119.6" cy="464.2" r="3.5" fill="rgb(164,164,164)" fill-opacity="0.6"/>
<circle cx="121.5" cy="466.5" r="3.4" fill="rgb(145,145,145)" fill-opacity="0.6"/>
<circle cx="128.0" cy="466.4" r="3.7" fill="rgb(200,200,200)" fill-opacity="0.6"/>
<circle cx="132.3" cy="467.9" r="4.4" fill="rgb(133,133,133)" fill-opacity="0.6"/>
<circle cx="126.4" cy="474.6" r="3.6" fill="rgb(200,200,200)" fill-opacity="0.6"/>
<circle cx="128.0" cy="467.3" r="4.8" fill="rgb(161,161,161)" fill-opacity="0.6"/>
<circle cx="125.5" cy="470.9" r="3.6" fill="rgb(207,207,207)" fill-opacity="0.6"/>
<circle cx="127.8" cy="470.4" r="4.0" fill="rgb(223,223,223)" fill-opacity="0.6"/>
<circle cx="105.0" cy="479.4" r="3.9" fill="rgb(124,124,124)" fill-opacity="0.6"/>
<circle cx="109.9" cy="488.5" r="3.1" fill="rgb(152,152,152)" fill-opacity="0.6"/>
<circle cx="97.5" cy="478.3" r="3.3" fill="rgb(135,135,135)" fill-opacity="0.6"/>
<circle cx="109.7" cy="473.7" r="4.7" fill="rgb(188,188,188)" fill-opacity="0.6"/>
<circle cx="100.4" cy="480.7" r="4.0" fill="rgb(134,134,134)" fill-opacity="0.6"/>
<circle cx="106.0" cy="473.1" r="3.4" fill="rgb(216,216,216)" fill-opacity="0.6"/>
<circle cx="113.0" cy="481.4" r="4.2" fill="rgb(211,211,211)" fill-opacity="0.6"/>
<circle cx="98.2" cy="480.9" r="3.2" fill="rgb(132,132,132)" fill-opacity="0.6"/>
<circle cx="97.5" cy="475.8" r="3.1" fill="rgb(142,142,142)" fill-opacity="0.6"/>
<circle cx="103.4" cy="483.2" r="4.5" fill="rgb(214,214,214)" fill-opacity="0.6"/>
<circle cx="110.7" cy="481.1" r="4.7" fill="rgb(137,137,137)" fill-opacity="0.6"/>
<circle cx="108.7" cy="475.8" r="3.7" fill="rgb(151,151,151)" fill-opacity="0.6"/>
<circle cx="104.5" cy="479.7" r="3.7" fill="rgb(203,203,203)" fill-opacity="0.6"/>
<circle cx="112.7" cy="482.1" r="3.9" fill="rgb(149,149,149)" fill-opacity="0.6"/>
<circle cx="100.1" cy="484.7" r="4.3" fill="rgb(189,189,189)" fill-opacity="0.6"/>
<circle cx="113.7" cy="485.9" r="3.4" fill="rgb(140,140,140)" fill-opacity="0.6"/>
<circle cx="124.6" cy="487.6" r="4.1" fill="rgb(197,197,197)" fill-opacity="0.6"/>
<circle cx="127.0" cy="484.6" r="3.1" fill="rgb(201,201,201)" fill-opacity="0.6"/>
<circle cx="129.4" cy="491.0" r="4.1" fill="rgb(124,124,124)" fill-opacity="0.6"/>
<circle cx="117.0" cy="478.0" r="4.1" fill="rgb(177,177,177)" fill-opacity="0.6"/>
<circle cx="122.3" cy="481.3" r="3.4" fill="rgb(206,206,206)" fill-opacity="0.6"/>
<circle cx="127.0" cy="481.0" r="4.6" fill="rgb(179,179,179)" fill-opacity="0.6"/>
<circle cx="121.3" cy="483.5" r="4.3" fill="rgb(167,167,167)" fill-opacity="0.6"/>
<circle cx="126.2" cy="478.2" r="4.3" fill="rgb(148,148,148)" fill-opacity="0.6"/>
<circle cx="119.7" cy="485.7" r="3.7" fill="rgb(175,175,175)" fill-opacity="0.6"/>
<circle cx="128.4" cy="488.5" r="4.4" fill="rgb(167,167,167)" fill-opacity="0.6"/>
<circle cx="122.1" cy="482.2" r="3.9" fill="rgb(146,146,146)" fill-opacity="0.6"/>
<circle cx="116.9" cy="484.6" r="3.3" fill="rgb(169,169,169)" fill-opacity="0.6"/>
<circle cx="124.5" cy="481.6" r="3.3" fill="rgb(183,183,183)" fill-opacity="0.6"/>
<circle cx="136.9" cy="475.0" r="4.1" fill="rgb(189,189,189)" fill-opacity="0.6"/>
<circle cx="137.2" cy="481.6" r="3.6" fill="rgb(141,141,141)" fill-opacity="0.6"/>
<circle cx="136.6" cy="476.1" r="3.0" fill="rgb(211,211,211)" fill-opacity="0.6"/>
<circle cx="129.7" cy="476.3" r="3.6" fill="rgb(146,146,146)" fill-opacity="0.6"/>
<circle cx="135.4" cy="476.7" r="3.8" fill="rgb(164,164,164)" fill-opacity="0.6"/>
<circle cx="133.9" cy="473.7" r="3.3" fill="rgb(183,183,183)" fill-opacity="0.6"/>
<circle cx="131.7" cy="472.7" r="4.1" fill="rgb(216,216,216)" fill-opacity="0.6"/>
<circle cx="113.6" cy="498.9" r="4.4" fill="rgb(216,216,216)" fill-opacity="0.6"/>
<circle cx="104.7" cy="496.1" r="4.7" fill="rgb(217,217,217)" fill-opacity="0.6"/>
<circle cx="105.7" cy="501.9" r="4.6" fill="rgb(182,182,182)" fill-opacity="0.6"/>
<circle cx="114.6" cy="499.3" r="3.4" fill="rgb(142,142,142)" fill-opacity="0.6"/>
<circle cx="103.1" cy="501.4" r="3.2" fill="rgb(185,185,185)" fill-opacity="0.6"/>
<circle cx="109.0" cy="498.1" r="4.7" fill="rgb(161,161,161)" fill-opacity="0.6"/>
<circle cx="110.5" cy="497.3" r="3.4" fill="rgb(143,143,143)" fill-opacity="0.6"/>
<circle cx="111.6" cy="503.6" r="3.2" fill="rgb(219,219,219)" fill-opacity="0.6"/>
<circle cx="114.1" cy="492.6" r="4.3" fill="rgb(162,162,162)" fill-opacity="0.6"/>
<circle cx="111.3" cy="493.3" r="3.9" fill="rgb(174,174,174)" fill-opacity="0.6"/>
<circle cx="102.1" cy="497.9" r="4.3" fill="rgb(197,197,197)" fill-opacity="0.6"/>
<circle cx="98.8" cy="493.0" r="3.3" fill="rgb(153,153,153)" fill-opacity="0.6"/>
<circle cx="99.4" cy="498.3" r="4.2" fill="rgb(218,218,218)" fill-opacity="0.6"/>
<circle cx="94.7" cy="497.6" r="3.2" fill="rgb(190,190,190)" fill-opacity="0.6"/>
<circle cx="98.3" cy="493.1" r="3.6" fill="rgb(189,189,189)" fill-opacity="0.6"/>
<circle cx="98.7" cy="501.8" r="3.6" fill="rgb(155,155,155)" fill-opacity="0.6"/>
<circle cx="95.6" cy="512.3" r="3.2" fill="rgb(202,202,202)" fill-opacity="0.6"/>
<circle cx="89.5" cy="516.6" r="4.1" fill="rgb(204,204,204)" fill-opacity="0.6"/>
<circle cx="95.3" cy="511.1" r="4.7" fill="rgb(122,122,122)" fill-opacity="0.6"/>
<circle cx="89.3" cy="515.3" r="3.0" fill="rgb(190,190,190)" fill-opacity="0.6"/>
<circle cx="91.4" cy="512.4" r="3.8" fill="rgb(164,164,164)" fill-opacity="0.6"/>
<circle cx="94.1" cy="506.7" r="3.1" fill="rgb(182,182,182)" fill-opacity="0.6"/>
<circle cx="88.9" cy="518.8" r="4.6" fill="rgb(124,124,124)" fill-opacity="0.6"/>
<circle cx="84.3" cy="524.1" r="4.6" fill="rgb(162,162,162)" fill-opacity="0.6"/>
<circle cx="88.0" cy="516.3" r="3.4" fill="rgb(139,139,139)" fill-opacity="0.6"/>
<circle cx="87.0" cy="518.6" r="4.2" fill="rgb(125,125,125)" fill-opacity="0.6"/>
<circle cx="87.2" cy="521.3" r="3.7" fill="rgb(216,216,216)" fill-opacity="0.6"/>
<circle cx="83.0" cy="520.2" r="3.8" fill="rgb(159,159,159)" fill-opacity="0.6"/>
<circle cx="88.7" cy="529.9" r="3.9" fill="rgb(166,166,166)" fill-opacity="0.6"/>
<circle cx="80.0" cy="534.7" r="4.4" fill="rgb(187,187,187)" fill-opacity="0.6"/>
<circle cx="75.5" cy="530.2" r="3.2" fill="rgb(156,156,156)" fill-opacity="0.6"/>
<circle cx="88.7" cy="530.7" r="4.0" fill="rgb(146,146,146)" fill-opacity="0.6"/>
<circle cx="80.1" cy="528.6" r="3.8" fill="rgb(148,148,148)" fill-opacity="0.6"/>
<circle cx="76.5" cy="532.2" r="4.7" fill="rgb(206,206,206)" fill-opacity="0.6"/>
<circle cx="83.0" cy="523.1" r="3.5" fill="rgb(208,208,208)" fill-opacity="0.6"/>
<circle cx="88.7" cy="529.6" r="4.0" fill="rgb(192,192,192)" fill-opacity="0.6"/>
<circle cx="76.9" cy="531.7" r="3.7" fill="rgb(208,208,208)" fill-opacity="0.6"/>
<circle cx="92.4" cy="535.1" r="4.0" fill="rgb(176,176,176)" fill-opacity="0.6"/>
<circle cx="92.4" cy="538.7" r="4.4" fill="rgb(164,164,164)" fill-opacity="0.6"/>
<circle cx="93.1" cy="538.0" r="4.3" fill="rgb(188,188,188)" fill-opacity="0.6"/>
<circle cx="94.6" cy="534.6" r="3.8" fill="rgb(221,221,221)" fill-opacity="0.6"/>
<circle cx="100.6" cy="531.6" r="4.1" fill="rgb(200,200,200)" fill-opacity="0.6"/>
<circle cx="96.2" cy="531.3" r="4.4" fill="rgb(156,156,156)" fill-opacity="0.6"/>
<circle cx="87.3" cy="535.1" r="4.2" fill="rgb(162,162,162)" fill-opacity="0.6"/>
<circle cx="93.0" cy="539.1" r="4.5" fill="rgb(162,162,162)" fill-opacity="0.6"/>
<circle cx="99.7" cy="533.9" r="3.7" fill="rgb(187,187,187)" fill-opacity="0.6"/>
<circle cx="106.1" cy="540.6" r="4.2" fill="rgb(190,190,190)" fill-opacity="0.6"/>
<circle cx="101.9" cy="532.9" r="3.8" fill="rgb(132,132,132)" fill-opacity="0.6"/>
<circle cx="107.8" cy="535.8" r="4.1" fill="rgb(196,196,196)" fill-opacity="0.6"/>
<circle cx="99.5" cy="540.0" r="3.6" fill="rgb(128,128,128)" fill-opacity="0.6"/>
<circle cx="104.1" cy="536.1" r="4.7" fill="rgb(166,166,166)" fill-opacity="0.6"/>
<circle cx="113.1" cy="456.9" r="4.3" fill="rgb(125,125,125)" fill-opacity="0.6"/>
<circle cx="116.9" cy="456.8" r="4.6" fill="rgb(221,221,221)" fill-opacity="0.6"/>
<circle cx="123.7" cy="458.5" r="4.0" fill="rgb(143,143,143)" fill-opacity="0.6"/>
<circle cx="120.4" cy="453.4" r="3.5" fill="rgb(207,207,207)" fill-opacity="0.6"/>
<circle cx="119.9" cy="459.4" r="3.8" fill="rgb(149,149,149)" fill-opacity="0.6"/>
<circle cx="119.0" cy="457.8" r="3.4" fill="rgb(208,208,208)" fill-opacity="0.6"/>
</g></g>
<rect x="11" y="419" width="39" height="38.4" fill="#fff" stroke="none" stroke-width="1" />
<text x="12.1" y="445.4" font-size="31" text-anchor="start" font-weight="bold" fill="#000" >(g)</text>
<rect x="113.5" y="420" width="51" height="19.5" rx="3" fill="#fff"/>
<text x="139" y="435" font-size="13.8" text-anchor="middle" font-weight="bold" fill="#111" >HAADF</text>
<text x="15" y="563" font-family="Liberation Sans, sans-serif" font-size="7.5" fill="#ddd">50 nm</text>
<rect x="14" y="566" width="21" height="1.3" fill="#bbb" stroke="none" stroke-width="1" />
<rect x="165" y="416.5" width="469" height="157.5" fill="#fff"/>
<rect x="167" y="419" width="154" height="154" fill="#050505" stroke="none" stroke-width="1" />
<filter id="spCd" filterUnits="userSpaceOnUse" x="167" y="419" width="154" height="154"><feGaussianBlur in="SourceGraphic" stdDeviation="2.5" result="m"/><feTurbulence type="fractalNoise" baseFrequency="0.8" numOctaves="1" seed="4" result="n"/><feColorMatrix in="n" type="matrix" values="0 0 0 0 0.93  0 0 0 0 0.5  0 0 0 0 0.08  9 0 0 0 -5.1" result="d"/><feComposite in="d" in2="m" operator="in" result="c"/><feGaussianBlur in="c" stdDeviation="0.35"/></filter>
<g filter="url(#spCd)" opacity="1.0"><ellipse cx="212" cy="447" rx="9.2" ry="8.0" fill="#fff" fill-opacity="1.0"/><ellipse cx="225" cy="451" rx="11.5" ry="9.2" fill="#fff" fill-opacity="1.0"/><ellipse cx="237" cy="459" rx="9.2" ry="9.2" fill="#fff" fill-opacity="1.0"/><ellipse cx="229" cy="464" rx="10.3" ry="8.0" fill="#fff" fill-opacity="1.0"/><ellipse cx="207" cy="479" rx="10.3" ry="9.2" fill="#fff" fill-opacity="1.0"/><ellipse cx="219" cy="481" rx="12.6" ry="10.3" fill="#fff" fill-opacity="1.0"/><ellipse cx="232" cy="489" rx="10.3" ry="9.2" fill="#fff" fill-opacity="1.0"/><ellipse cx="212" cy="493" rx="9.2" ry="6.9" fill="#fff" fill-opacity="1.0"/><ellipse cx="252" cy="467" rx="9.2" ry="9.2" fill="#fff" fill-opacity="1.0"/><ellipse cx="267" cy="464" rx="11.5" ry="10.3" fill="#fff" fill-opacity="1.0"/><ellipse cx="282" cy="469" rx="11.5" ry="10.3" fill="#fff" fill-opacity="1.0"/><ellipse cx="262" cy="481" rx="13.8" ry="11.5" fill="#fff" fill-opacity="1.0"/><ellipse cx="279" cy="485" rx="12.6" ry="11.5" fill="#fff" fill-opacity="1.0"/><ellipse cx="289" cy="479" rx="6.9" ry="9.2" fill="#fff" fill-opacity="1.0"/><ellipse cx="267" cy="499" rx="11.5" ry="9.2" fill="#fff" fill-opacity="1.0"/><ellipse cx="255" cy="497" rx="6.9" ry="6.9" fill="#fff" fill-opacity="1.0"/><ellipse cx="247" cy="511" rx="6.9" ry="8.0" fill="#fff" fill-opacity="1.0"/><ellipse cx="243" cy="521" rx="6.9" ry="6.9" fill="#fff" fill-opacity="1.0"/><ellipse cx="237" cy="529" rx="10.3" ry="8.0" fill="#fff" fill-opacity="1.0"/><ellipse cx="249" cy="533" rx="10.3" ry="8.0" fill="#fff" fill-opacity="1.0"/><ellipse cx="259" cy="537" rx="6.9" ry="5.8" fill="#fff" fill-opacity="1.0"/><ellipse cx="275" cy="457" rx="8.0" ry="6.9" fill="#fff" fill-opacity="1.0"/><rect x="167" y="419" width="154" height="154" fill="#fff" fill-opacity="0.08"/></g>
<path d="M204 436h0M228 444h0M178 481h0M308 542h0M284 454h0M250 462h0M194 436h0M201 561h0M294 543h0M290 449h0M215 515h0M279 550h0M302 433h0M260 522h0M245 447h0M240 434h0M310 552h0M251 466h0M306 507h0M302 549h0M245 483h0M259 486h0M193 466h0M292 427h0M175 515h0M211 501h0M240 472h0M320 450h0M231 451h0M264 462h0M222 534h0M217 505h0M305 435h0M177 455h0M284 514h0M204 470h0M195 490h0M175 526h0M304 565h0M280 566h0M171 464h0M315 538h0M230 563h0M262 544h0M213 449h0M236 441h0M226 566h0M218 421h0M175 446h0M287 475h0M212 435h0M317 484h0M200 429h0M176 446h0M271 443h0M174 495h0M206 572h0M187 500h0M286 482h0M318 493h0M205 482h0M174 484h0M206 555h0M294 496h0M173 459h0M205 452h0M203 552h0M190 428h0M309 506h0M319 481h0M305 519h0M288 533h0M243 434h0M200 553h0M305 561h0M219 520h0M290 518h0M292 500h0M268 524h0M209 560h0M313 431h0M316 566h0M270 427h0M305 439h0M315 521h0M177 445h0M265 507h0M281 561h0M201 420h0M308 422h0M301 438h0M291 539h0M301 504h0M302 451h0M270 470h0M304 538h0M240 500h0M172 425h0M258 494h0M299 512h0M189 475h0M285 499h0M170 547h0M294 433h0M251 478h0M288 467h0M204 494h0M315 434h0M185 514h0M303 498h0M234 550h0M286 430h0M302 450h0M214 547h0M232 541h0M193 553h0M195 443h0M243 471h0M250 557h0M276 421h0M215 503h0M242 529h0M242 432h0M205 549h0M222 537h0M318 515h0M271 513h0M216 559h0M239 559h0M214 552h0M288 513h0M235 441h0M285 475h0M269 440h0M181 442h0M291 447h0M305 477h0M256 473h0M262 434h0M229 562h0M195 519h0M218 466h0M172 423h0M312 546h0M290 543h0M313 444h0M257 495h0M255 563h0M284 567h0M186 519h0M271 533h0M262 546h0M214 561h0M230 511h0M304 527h0M215 455h0M218 515h0M319 557h0M229 481h0M292 463h0M231 422h0M196 502h0M273 513h0M223 565h0M263 444h0M178 568h0M318 560h0M260 467h0M182 459h0M202 561h0M304 538h0M191 456h0M213 564h0M193 540h0M271 503h0M314 460h0M248 444h0M183 425h0M216 439h0M177 571h0M212 555h0M275 531h0M268 565h0M302 529h0M253 525h0M278 504h0M244 443h0M296 494h0M178 446h0M301 459h0M227 524h0M299 470h0M227 484h0M172 553h0M171 566h0M191 444h0M297 545h0M203 504h0M240 529h0M196 545h0M319 527h0M308 562h0M226 549h0M295 509h0M184 514h0M307 466h0M266 556h0M259 426h0M264 459h0M298 521h0M215 556h0M263 472h0M295 556h0M304 554h0M268 526h0M260 500h0M318 474h0M180 528h0M244 503h0M259 458h0M199 431h0M287 558h0M274 438h0M317 546h0M245 420h0M296 515h0M263 423h0M279 425h0M241 442h0M223 555h0M282 544h0M213 479h0M260 425h0M231 568h0M283 551h0M213 525h0M288 527h0M234 447h0M171 555h0M310 462h0M283 482h0M263 548h0M217 514h0M207 498h0M173 460h0M212 559h0M188 535h0M181 570h0M193 434h0M200 562h0M270 555h0M244 437h0M220 489h0M319 445h0M205 548h0M185 568h0M213 506h0M268 558h0M180 549h0M195 529h0M172 537h0M196 451h0M173 469h0M218 569h0M260 475h0M318 446h0M201 565h0M313 524h0M317 429h0M305 527h0M270 548h0M184 450h0M189 493h0M251 502h0M223 533h0M295 535h0M174 443h0M201 456h0M255 450h0M263 472h0M223 528h0M312 449h0M221 569h0M200 424h0M197 545h0M279 563h0M244 426h0M215 529h0M228 441h0M225 490h0M222 488h0M189 425h0M287 531h0M232 437h0M213 505h0M304 493h0M316 500h0M196 513h0M259 511h0M278 423h0M234 542h0M189 426h0M196 463h0M234 468h0M264 446h0M221 523h0M251 566h0M310 459h0M219 502h0M251 476h0M299 450h0M240 438h0M302 511h0M318 442h0M276 511h0M176 545h0M301 432h0M311 539h0M260 503h0M208 429h0M240 552h0M200 492h0M211 525h0M314 555h0M212 483h0M168 500h0M298 548h0M179 486h0M180 485h0M307 463h0M297 565h0M292 451h0M308 560h0M320 422h0M169 464h0M247 484h0M182 517h0M269 516h0M246 503h0M273 430h0M234 441h0M184 536h0M217 472h0M210 509h0M186 517h0M179 565h0M192 537h0M251 485h0M214 475h0M283 500h0M250 458h0M263 446h0M241 519h0M251 508h0M255 449h0M314 524h0M278 565h0M237 471h0M214 468h0M214 468h0M200 494h0M212 476h0M269 468h0M299 541h0M218 547h0M195 435h0M319 425h0M169 552h0M168 520h0M252 454h0M205 567h0M228 457h0M235 531h0M212 434h0M288 435h0M176 421h0M319 486h0M280 505h0M316 472h0M221 524h0M168 475h0M283 507h0M242 562h0M234 531h0M228 433h0M227 452h0M172 463h0M187 489h0M280 535h0M302 468h0M270 555h0M228 559h0M184 560h0M302 569h0M294 528h0M234 529h0M302 508h0M263 560h0M211 471h0M173 553h0M264 522h0M204 448h0M241 553h0M222 484h0M232 548h0M187 552h0M170 526h0M284 491h0M281 463h0M189 475h0M208 529h0M254 520h0M316 538h0M288 567h0M309 533h0M221 497h0M283 540h0M305 533h0M270 459h0M262 448h0M266 447h0M171 565h0M300 466h0M175 544h0M285 444h0M292 547h0M255 462h0M177 430h0M235 530h0M265 454h0M289 430h0M261 446h0M169 449h0M289 453h0M170 493h0M221 507h0M256 528h0M307 471h0M265 438h0M206 435h0M299 471h0M276 553h0M226 451h0M206 494h0M227 431h0M297 517h0M301 548h0M278 545h0M275 485h0M292 560h0M184 442h0M194 489h0M299 500h0M298 476h0M254 458h0M265 461h0M169 481h0M254 554h0M212 561h0M291 444h0M286 562h0M314 525h0M227 503h0M267 513h0M197 554h0M250 431h0M215 432h0M238 434h0M249 462h0M294 537h0M197 543h0M256 461h0M306 421h0M229 511h0M193 495h0M302 472h0M276 449h0M316 567h0M193 536h0M219 425h0M200 531h0M239 500h0M187 446h0M224 498h0M293 488h0M218 559h0M273 535h0M290 494h0M208 437h0M268 534h0M305 560h0M245 494h0M315 433h0M225 503h0M259 513h0M192 497h0M195 478h0M195 469h0M263 481h0M194 491h0" stroke="#d87818" stroke-width="1.2" stroke-linecap="round" stroke-opacity="0.7"/>
<rect x="167.7" y="419.5" width="20.5" height="19" rx="3" fill="#f08a10"/>
<text x="178" y="434" font-size="13" text-anchor="middle" font-weight="bold" fill="#111" >Cd</text>
<text x="171" y="563" font-family="Liberation Sans, sans-serif" font-size="7.5" fill="#ddd">50 nm</text>
<rect x="170" y="566" width="21" height="1.3" fill="#bbb" stroke="none" stroke-width="1" />
<rect x="323" y="419" width="154" height="154" fill="#050505" stroke="none" stroke-width="1" />
<filter id="spS" filterUnits="userSpaceOnUse" x="323" y="419" width="154" height="154"><feGaussianBlur in="SourceGraphic" stdDeviation="2.5" result="m"/><feTurbulence type="fractalNoise" baseFrequency="0.8" numOctaves="1" seed="5" result="n"/><feColorMatrix in="n" type="matrix" values="0 0 0 0 0.1  0 0 0 0 0.85  0 0 0 0 0.88  9 0 0 0 -5.2" result="d"/><feComposite in="d" in2="m" operator="in" result="c"/><feGaussianBlur in="c" stdDeviation="0.35"/></filter>
<g filter="url(#spS)" opacity="1.0"><ellipse cx="368" cy="447" rx="9.2" ry="8.0" fill="#fff" fill-opacity="1.0"/><ellipse cx="381" cy="451" rx="11.5" ry="9.2" fill="#fff" fill-opacity="1.0"/><ellipse cx="393" cy="459" rx="9.2" ry="9.2" fill="#fff" fill-opacity="1.0"/><ellipse cx="385" cy="464" rx="10.3" ry="8.0" fill="#fff" fill-opacity="1.0"/><ellipse cx="363" cy="479" rx="10.3" ry="9.2" fill="#fff" fill-opacity="1.0"/><ellipse cx="375" cy="481" rx="12.6" ry="10.3" fill="#fff" fill-opacity="1.0"/><ellipse cx="388" cy="489" rx="10.3" ry="9.2" fill="#fff" fill-opacity="1.0"/><ellipse cx="368" cy="493" rx="9.2" ry="6.9" fill="#fff" fill-opacity="1.0"/><ellipse cx="408" cy="467" rx="9.2" ry="9.2" fill="#fff" fill-opacity="1.0"/><ellipse cx="423" cy="464" rx="11.5" ry="10.3" fill="#fff" fill-opacity="1.0"/><ellipse cx="438" cy="469" rx="11.5" ry="10.3" fill="#fff" fill-opacity="1.0"/><ellipse cx="418" cy="481" rx="13.8" ry="11.5" fill="#fff" fill-opacity="1.0"/><ellipse cx="435" cy="485" rx="12.6" ry="11.5" fill="#fff" fill-opacity="1.0"/><ellipse cx="445" cy="479" rx="6.9" ry="9.2" fill="#fff" fill-opacity="1.0"/><ellipse cx="423" cy="499" rx="11.5" ry="9.2" fill="#fff" fill-opacity="1.0"/><ellipse cx="411" cy="497" rx="6.9" ry="6.9" fill="#fff" fill-opacity="1.0"/><ellipse cx="403" cy="511" rx="6.9" ry="8.0" fill="#fff" fill-opacity="1.0"/><ellipse cx="399" cy="521" rx="6.9" ry="6.9" fill="#fff" fill-opacity="1.0"/><ellipse cx="393" cy="529" rx="10.3" ry="8.0" fill="#fff" fill-opacity="1.0"/><ellipse cx="405" cy="533" rx="10.3" ry="8.0" fill="#fff" fill-opacity="1.0"/><ellipse cx="415" cy="537" rx="6.9" ry="5.8" fill="#fff" fill-opacity="1.0"/><ellipse cx="431" cy="457" rx="8.0" ry="6.9" fill="#fff" fill-opacity="1.0"/><rect x="323" y="419" width="154" height="154" fill="#fff" fill-opacity="0.08"/></g>
<path d="M419 533h0M445 563h0M436 560h0M328 491h0M467 519h0M461 437h0M395 457h0M407 507h0M326 453h0M366 559h0M440 444h0M445 441h0M418 439h0M324 552h0M356 453h0M473 553h0M368 566h0M406 523h0M355 563h0M429 567h0M460 465h0M379 445h0M346 430h0M370 512h0M325 523h0M375 467h0M448 493h0M372 493h0M431 429h0M472 423h0M438 548h0M327 540h0M380 508h0M325 427h0M351 565h0M354 535h0M465 563h0M376 474h0M404 538h0M340 534h0M445 551h0M330 564h0M338 472h0M417 560h0M376 560h0M407 467h0M372 447h0M336 443h0M429 572h0M349 427h0M474 501h0M386 456h0M414 546h0M393 484h0M332 559h0M329 495h0M451 440h0M435 564h0M420 540h0M340 486h0M347 548h0M369 489h0M476 550h0M472 489h0M398 531h0M397 464h0M385 442h0M381 570h0M470 515h0M400 471h0M338 461h0M443 552h0M379 539h0M442 526h0M425 535h0M379 527h0M367 494h0M441 525h0M369 564h0M423 508h0M326 503h0M362 522h0M394 544h0M422 541h0M377 518h0M436 546h0M377 548h0M456 525h0M472 565h0M403 500h0M349 547h0M466 493h0M429 529h0M435 446h0M443 508h0M425 484h0M419 538h0M421 530h0M328 444h0M391 519h0M357 524h0M420 426h0M396 454h0M332 440h0M372 448h0M353 425h0M395 478h0M417 510h0M360 557h0M324 482h0M366 482h0M341 546h0M381 425h0M417 434h0M407 472h0M412 566h0M448 484h0M448 518h0M380 442h0M415 506h0M469 567h0M417 473h0M460 420h0M340 506h0M418 441h0M420 555h0M381 486h0M358 464h0M472 478h0M470 559h0M415 459h0M473 495h0M387 469h0M474 495h0M368 492h0M343 514h0M391 465h0M443 546h0M326 501h0M366 562h0M443 457h0M365 444h0M474 465h0M416 492h0M422 512h0M437 438h0M440 466h0M405 471h0M369 501h0M395 475h0M437 510h0M330 458h0M393 559h0M459 503h0M326 538h0M389 507h0M432 516h0M397 559h0M383 480h0M453 450h0M369 546h0M334 547h0M430 486h0M368 539h0M462 442h0M397 503h0M400 470h0M347 509h0M447 430h0M359 545h0M444 521h0M328 530h0M473 572h0M431 427h0M452 453h0M422 565h0M432 440h0M368 560h0M347 513h0M387 444h0M419 427h0M340 478h0M335 429h0M411 533h0M458 440h0M390 468h0M415 494h0M467 477h0M332 526h0M347 516h0M401 558h0M408 514h0M364 504h0M363 534h0M403 440h0M360 476h0M436 447h0M432 520h0M337 522h0M338 439h0M414 456h0M457 493h0M373 541h0M328 530h0M332 443h0M469 524h0M358 438h0M472 521h0M449 441h0M419 474h0M360 471h0M417 473h0M383 441h0M450 518h0M446 486h0M453 499h0M414 507h0M437 480h0M339 425h0M355 426h0M459 493h0M440 420h0M395 555h0M418 485h0M395 435h0M348 444h0M381 479h0M458 443h0M363 462h0M349 464h0M360 493h0M329 561h0M380 563h0M429 522h0M396 564h0M342 522h0M368 523h0M435 445h0M355 424h0M359 432h0M385 568h0M379 467h0M395 463h0M435 529h0M349 457h0M426 563h0M422 485h0M472 421h0M333 538h0M386 427h0" stroke="#19c8d2" stroke-width="1.2" stroke-linecap="round" stroke-opacity="0.7"/>
<rect x="323.7" y="419.5" width="20.5" height="19" rx="3" fill="#10e0f0"/>
<text x="334" y="434" font-size="13" text-anchor="middle" font-weight="bold" fill="#111" >S</text>
<text x="327" y="563" font-family="Liberation Sans, sans-serif" font-size="7.5" fill="#ddd">50 nm</text>
<rect x="326" y="566" width="21" height="1.3" fill="#bbb" stroke="none" stroke-width="1" />
<rect x="479" y="419" width="154" height="154" fill="#050505" stroke="none" stroke-width="1" />
<filter id="spN" filterUnits="userSpaceOnUse" x="479" y="419" width="154" height="154"><feGaussianBlur in="SourceGraphic" stdDeviation="2.5" result="m"/><feTurbulence type="fractalNoise" baseFrequency="0.8" numOctaves="1" seed="6" result="n"/><feColorMatrix in="n" type="matrix" values="0 0 0 0 0.82  0 0 0 0 0.18  0 0 0 0 0.86  9 0 0 0 -5.6" result="d"/><feComposite in="d" in2="m" operator="in" result="c"/><feGaussianBlur in="c" stdDeviation="0.35"/></filter>
<g filter="url(#spN)" opacity="1.0"><ellipse cx="524" cy="447" rx="9.2" ry="8.0" fill="#fff" fill-opacity="1.0"/><ellipse cx="537" cy="451" rx="11.5" ry="9.2" fill="#fff" fill-opacity="1.0"/><ellipse cx="549" cy="459" rx="9.2" ry="9.2" fill="#fff" fill-opacity="1.0"/><ellipse cx="541" cy="464" rx="10.3" ry="8.0" fill="#fff" fill-opacity="1.0"/><ellipse cx="519" cy="479" rx="10.3" ry="9.2" fill="#fff" fill-opacity="1.0"/><ellipse cx="531" cy="481" rx="12.6" ry="10.3" fill="#fff" fill-opacity="1.0"/><ellipse cx="544" cy="489" rx="10.3" ry="9.2" fill="#fff" fill-opacity="1.0"/><ellipse cx="524" cy="493" rx="9.2" ry="6.9" fill="#fff" fill-opacity="1.0"/><ellipse cx="564" cy="467" rx="9.2" ry="9.2" fill="#fff" fill-opacity="1.0"/><ellipse cx="579" cy="464" rx="11.5" ry="10.3" fill="#fff" fill-opacity="1.0"/><ellipse cx="594" cy="469" rx="11.5" ry="10.3" fill="#fff" fill-opacity="1.0"/><ellipse cx="574" cy="481" rx="13.8" ry="11.5" fill="#fff" fill-opacity="1.0"/><ellipse cx="591" cy="485" rx="12.6" ry="11.5" fill="#fff" fill-opacity="1.0"/><ellipse cx="601" cy="479" rx="6.9" ry="9.2" fill="#fff" fill-opacity="1.0"/><ellipse cx="579" cy="499" rx="11.5" ry="9.2" fill="#fff" fill-opacity="1.0"/><ellipse cx="567" cy="497" rx="6.9" ry="6.9" fill="#fff" fill-opacity="1.0"/><ellipse cx="559" cy="511" rx="6.9" ry="8.0" fill="#fff" fill-opacity="1.0"/><ellipse cx="555" cy="521" rx="6.9" ry="6.9" fill="#fff" fill-opacity="1.0"/><ellipse cx="549" cy="529" rx="10.3" ry="8.0" fill="#fff" fill-opacity="1.0"/><ellipse cx="561" cy="533" rx="10.3" ry="8.0" fill="#fff" fill-opacity="1.0"/><ellipse cx="571" cy="537" rx="6.9" ry="5.8" fill="#fff" fill-opacity="1.0"/><ellipse cx="587" cy="457" rx="8.0" ry="6.9" fill="#fff" fill-opacity="1.0"/><rect x="479" y="419" width="154" height="154" fill="#fff" fill-opacity="0.08"/></g>
<path d="M601 545h0M554 460h0M480 521h0M551 535h0M537 537h0M521 542h0M591 483h0M562 524h0M509 504h0M602 460h0M602 524h0M608 471h0M494 542h0M602 488h0M494 450h0M577 464h0M625 509h0M511 520h0M535 562h0M618 498h0M578 526h0M602 568h0M484 475h0M571 466h0M570 434h0M614 500h0M498 521h0M527 450h0M554 441h0M512 552h0M586 422h0M598 423h0M531 557h0M574 467h0M537 479h0M499 572h0M488 484h0M593 480h0M629 457h0M629 556h0M582 555h0M548 546h0M601 499h0M552 527h0M542 433h0M593 460h0M554 539h0M506 423h0M499 510h0M535 459h0M549 561h0M519 482h0M614 513h0M521 492h0M553 442h0M537 466h0M602 469h0M580 568h0M620 477h0M572 469h0M541 494h0M601 562h0M524 421h0M548 429h0M485 538h0M497 529h0M535 563h0M610 429h0M509 564h0M573 484h0M599 544h0M555 491h0M495 475h0M502 515h0M572 442h0M575 435h0M496 518h0M550 557h0M576 527h0M499 547h0M493 514h0M619 558h0M616 489h0M585 540h0M501 563h0M618 487h0M598 488h0M522 528h0M490 542h0M629 463h0M623 433h0M610 463h0M627 485h0M620 425h0M493 544h0M577 501h0M485 446h0M536 428h0M631 536h0M624 527h0M532 432h0M591 437h0M563 491h0M555 431h0M491 499h0M485 500h0M503 463h0M503 506h0M539 454h0M514 506h0M618 484h0M505 468h0M517 507h0M600 506h0M509 469h0M538 487h0M540 572h0M564 521h0M589 518h0M602 477h0M581 568h0M505 515h0M538 429h0M486 535h0M497 528h0M495 476h0M485 502h0M600 454h0M566 560h0M525 492h0M590 551h0M506 521h0M498 437h0M629 428h0M620 534h0M583 531h0M579 464h0M547 451h0M611 538h0M600 453h0M570 459h0M600 533h0M631 528h0M584 538h0M494 510h0M485 476h0M498 564h0M484 560h0M624 486h0M607 428h0M501 421h0M490 420h0M606 433h0M570 462h0M500 484h0M508 569h0M538 510h0M566 515h0M553 461h0M501 555h0M509 488h0M603 508h0M624 543h0M558 438h0M570 492h0M611 501h0M586 543h0M552 548h0M617 443h0M620 552h0M610 471h0M518 440h0M536 550h0M535 421h0M526 433h0M575 537h0M621 434h0M538 439h0M618 547h0M559 565h0M559 538h0M554 475h0M631 548h0M570 552h0M579 541h0M490 440h0M497 512h0M589 444h0M557 437h0M585 538h0M493 569h0M581 439h0M533 444h0M591 559h0M507 448h0M576 551h0M592 490h0M497 513h0M549 542h0M567 532h0M628 515h0M619 462h0M480 554h0M485 571h0M549 429h0M522 530h0M538 515h0M495 547h0M537 547h0M502 521h0M551 481h0M483 501h0M607 436h0M548 422h0M631 567h0M583 493h0M491 438h0M587 541h0M630 551h0M547 459h0M562 473h0M563 554h0M549 569h0M589 427h0M594 521h0M575 420h0M614 495h0M562 446h0M485 422h0M512 466h0M503 429h0M591 527h0M614 453h0M591 510h0M494 553h0M534 448h0M508 561h0M514 478h0M563 475h0M580 433h0M545 509h0M574 513h0M521 517h0M628 493h0M578 547h0M518 460h0M627 466h0M545 476h0M631 503h0M616 445h0M522 519h0M528 521h0M557 432h0M497 487h0M561 447h0M520 420h0M520 467h0M539 510h0M610 529h0M593 463h0M555 530h0M616 457h0M482 428h0M558 553h0M503 539h0M577 551h0M617 436h0M601 441h0M498 481h0M554 431h0M522 447h0M501 435h0M484 453h0M530 484h0M586 513h0M554 469h0M573 449h0M507 437h0M582 441h0M514 473h0M566 518h0M570 511h0M509 559h0M592 482h0M540 508h0M498 518h0M617 475h0M556 458h0M618 477h0M535 528h0M537 558h0M543 510h0M526 510h0M552 436h0M615 444h0M568 523h0M551 470h0M549 572h0M482 555h0M572 493h0M577 517h0M606 568h0M558 473h0M535 558h0M553 431h0M569 437h0M533 519h0M573 502h0M606 512h0M627 543h0M520 539h0M535 564h0M574 484h0M507 549h0M534 422h0M602 421h0M487 425h0M578 505h0M553 562h0M552 451h0M631 437h0M488 454h0M628 483h0M534 476h0M536 535h0M577 462h0M509 544h0M565 496h0M511 568h0M560 560h0M582 517h0M484 559h0M610 432h0M492 523h0M581 449h0M631 435h0M566 493h0M530 522h0M547 537h0M597 421h0M530 502h0M525 511h0M484 436h0M558 453h0M512 483h0M570 519h0M571 496h0M546 552h0M611 557h0M623 522h0M510 527h0M523 466h0M541 425h0M547 450h0M515 486h0M595 519h0M528 530h0M542 474h0M542 463h0M503 567h0M571 520h0M573 496h0M576 421h0M490 501h0M551 422h0M512 466h0M627 547h0M486 479h0M533 441h0M524 570h0M619 461h0M599 440h0M576 433h0M578 511h0M631 508h0M619 457h0M575 452h0M490 569h0M484 474h0M528 451h0M610 535h0M538 506h0M606 429h0M580 550h0M572 500h0M518 446h0M507 474h0M523 539h0M504 439h0M601 489h0M497 544h0M486 477h0M542 499h0M516 561h0M568 470h0M577 478h0M565 511h0M518 552h0M494 562h0M544 497h0M496 498h0M530 513h0M584 435h0M491 556h0M511 523h0M591 539h0M481 517h0M608 425h0M481 554h0M585 527h0M597 513h0M511 444h0M482 520h0M581 571h0M517 442h0M538 563h0M516 554h0M577 537h0M498 542h0M541 533h0M487 465h0M566 461h0M562 436h0M519 516h0M530 569h0M536 466h0M541 517h0M528 569h0M510 509h0M613 461h0M515 498h0M609 549h0M610 528h0M492 560h0M504 422h0M557 423h0M487 449h0M629 462h0M609 563h0M514 436h0M513 517h0M585 469h0M599 431h0M484 475h0M580 549h0M624 558h0M627 513h0M546 428h0M566 559h0M600 491h0" stroke="#c828d0" stroke-width="1.2" stroke-linecap="round" stroke-opacity="0.7"/>
<rect x="479.7" y="419.5" width="20.5" height="19" rx="3" fill="#f020f0"/>
<text x="490" y="434" font-size="13" text-anchor="middle" font-weight="bold" fill="#111" >N</text>
<text x="483" y="563" font-family="Liberation Sans, sans-serif" font-size="7.5" fill="#ddd">50 nm</text>
<rect x="482" y="566" width="21" height="1.3" fill="#bbb" stroke="none" stroke-width="1" />
<rect x="593.5" y="418" width="38.5" height="37.7" fill="#fff" stroke="none" stroke-width="1" />
<text x="594.3" y="443.4" font-size="31" text-anchor="start" font-weight="bold" fill="#000" >(h)</text>
<rect x="166" y="416.5" width="467.5" height="157" fill="none" stroke="#e02525" stroke-width="3" stroke-dasharray="8,4.5"/>
<rect x="40.7" y="591.3" width="170.8" height="172" fill="none" stroke="#333" stroke-width="1" />
<line x1="40.7" y1="763.3" x2="40.7" y2="760.3" stroke="#333" stroke-width="1" />
<text x="40.7" y="773.3" font-size="7.5" text-anchor="middle" font-weight="bold" fill="#111" >200</text>
<line x1="97.6" y1="763.3" x2="97.6" y2="760.3" stroke="#333" stroke-width="1" />
<text x="97.6" y="773.3" font-size="7.5" text-anchor="middle" font-weight="bold" fill="#111" >400</text>
<line x1="154.6" y1="763.3" x2="154.6" y2="760.3" stroke="#333" stroke-width="1" />
<text x="154.6" y="773.3" font-size="7.5" text-anchor="middle" font-weight="bold" fill="#111" >600</text>
<line x1="211.5" y1="763.3" x2="211.5" y2="760.3" stroke="#333" stroke-width="1" />
<text x="211.5" y="773.3" font-size="7.5" text-anchor="middle" font-weight="bold" fill="#111" >800</text>
<line x1="69.2" y1="763.3" x2="69.2" y2="761.5" stroke="#333" stroke-width="1" />
<line x1="126.1" y1="763.3" x2="126.1" y2="761.5" stroke="#333" stroke-width="1" />
<line x1="183" y1="763.3" x2="183" y2="761.5" stroke="#333" stroke-width="1" />
<line x1="40.7" y1="753.4" x2="43.7" y2="753.4" stroke="#333" stroke-width="1" />
<text x="38.7" y="755.9" font-size="7.5" text-anchor="end" font-weight="bold" fill="#111" >0.0</text>
<line x1="40.7" y1="714.2" x2="43.7" y2="714.2" stroke="#333" stroke-width="1" />
<text x="38.7" y="716.6" font-size="7.5" text-anchor="end" font-weight="bold" fill="#111" >0.4</text>
<line x1="40.7" y1="675" x2="43.7" y2="675" stroke="#333" stroke-width="1" />
<text x="38.7" y="677.4" font-size="7.5" text-anchor="end" font-weight="bold" fill="#111" >0.8</text>
<line x1="40.7" y1="635.7" x2="43.7" y2="635.7" stroke="#333" stroke-width="1" />
<text x="38.7" y="638.2" font-size="7.5" text-anchor="end" font-weight="bold" fill="#111" >1.2</text>
<line x1="40.7" y1="596.5" x2="43.7" y2="596.5" stroke="#333" stroke-width="1" />
<text x="38.7" y="599" font-size="7.5" text-anchor="end" font-weight="bold" fill="#111" >1.6</text>
<line x1="40.7" y1="733.8" x2="42.5" y2="733.8" stroke="#333" stroke-width="1" />
<line x1="40.7" y1="694.6" x2="42.5" y2="694.6" stroke="#333" stroke-width="1" />
<line x1="40.7" y1="655.3" x2="42.5" y2="655.3" stroke="#333" stroke-width="1" />
<line x1="40.7" y1="616.1" x2="42.5" y2="616.1" stroke="#333" stroke-width="1" />
<text x="129" y="783" font-size="9.8" text-anchor="middle" font-weight="bold" fill="#111" >Wavelength (nm)</text>
<text transform="translate(22,677) rotate(-90)" font-size="10" text-anchor="middle" font-weight="bold" fill="#111">Abs (a.u.)</text>
<polyline points="40.7,609.4 41.3,609.2 41.8,613.5 42.4,616.2 43.0,617.4 43.5,601.4 44.1,617.7 44.7,619.2 45.3,614.6 45.8,615.0 46.4,613.9 47.0,618.3 47.5,615.8 48.1,616.0 48.7,617.6 49.2,615.7 49.8,616.1 50.4,614.2 50.9,616.4 51.5,616.7 52.1,615.4 52.7,616.4 53.2,615.7 53.8,617.0 54.4,616.4 54.9,615.6 55.5,615.9 56.1,616.5 56.6,617.7 57.2,616.2 57.8,616.5 58.3,615.7 58.9,615.9 59.5,614.8 60.1,615.7 60.6,615.3 61.2,614.6 61.8,616.1 62.3,615.2 62.9,615.0 63.5,612.4 64.0,614.2 64.6,613.2 65.2,613.0 65.8,613.7 66.3,614.7 66.9,612.1 67.5,613.3 68.0,612.1 68.6,613.9 69.2,612.9 69.7,611.2 70.3,610.9 70.9,613.4 71.4,613.3 72.0,611.9 72.6,605.1 73.2,611.4 73.7,611.2 74.3,612.3 74.9,610.6 75.4,609.9 76.0,611.2 76.6,611.9 77.1,611.0 77.7,609.3 78.3,611.5 78.8,609.7 79.4,610.3 80.0,609.2 80.6,609.1 81.1,608.6 81.7,606.9 82.3,607.8 82.8,606.8 83.4,608.2 84.0,602.6 84.5,607.5 85.1,610.6 85.7,607.8 86.2,607.5 86.8,608.8 87.4,607.1 88.0,608.0 88.5,609.8 89.1,607.3 89.7,607.6 90.2,607.6 90.8,607.5 91.4,607.2 91.9,607.6 92.5,607.7 93.1,607.6 93.6,608.3 94.2,607.5 94.8,608.3 95.4,607.9 95.9,608.4 96.5,608.4 97.1,608.3 97.6,607.7 98.2,608.1 98.8,608.5 99.3,608.4 99.9,608.7 100.5,608.4 101.0,608.6 101.6,608.2 102.2,608.9 102.8,608.6 103.3,608.8 103.9,608.8 104.5,608.4 105.0,608.6 105.6,608.5 106.2,608.3 106.7,608.3 107.3,609.1 107.9,608.6 108.5,609.3 109.0,608.8 109.6,608.3 110.2,608.9 110.7,609.0 111.3,608.9 111.9,609.0 112.4,609.0 113.0,609.3 113.6,608.8 114.1,608.9 114.7,609.3 115.3,609.2 115.9,609.2 116.4,609.1 117.0,609.4 117.6,609.5 118.1,609.9 118.7,610.3 119.3,610.3 119.8,610.0 120.4,610.3 121.0,610.9 121.5,611.5 122.1,611.7 122.7,611.8 123.3,612.5 123.8,613.8 124.4,614.5 125.0,615.9 125.5,616.9 126.1,617.8 126.7,619.3 127.2,620.6 127.8,622.5 128.4,624.8 128.9,627.3 129.5,630.8 130.1,634.3 130.7,637.6 131.2,641.1 131.8,646.5 132.4,651.9 132.9,656.9 133.5,662.2 134.1,668.9 134.6,674.4 135.2,681.0 135.8,686.5 136.3,692.6 136.9,698.4 137.5,703.3 138.1,709.0 138.6,713.7 139.2,717.2 139.8,721.8 140.3,724.2 140.9,727.8 141.5,730.7 142.0,732.6 142.6,734.5 143.2,736.1 143.7,737.6 144.3,738.5 144.9,740.5 145.5,740.8 146.0,741.4 146.6,741.4 147.2,743.1 147.7,743.0 148.3,743.6 148.9,743.8 149.4,743.6 150.0,743.9 150.6,743.8 151.2,744.5 151.7,744.4 152.3,744.2 152.9,744.4 153.4,744.8 154.0,744.4 154.6,745.1 155.1,744.3 155.7,744.8 156.3,744.9 156.8,744.8 157.4,744.7 158.0,744.4 158.6,745.0 159.1,745.1 159.7,744.8 160.3,745.2 160.8,745.5 161.4,744.7 162.0,745.1 162.5,744.6 163.1,745.3 163.7,745.8 164.2,744.9 164.8,744.9 165.4,744.5 166.0,744.8 166.5,744.8 167.1,744.8 167.7,745.0 168.2,744.9 168.8,745.3 169.4,744.8 169.9,745.1 170.5,745.0 171.1,744.7 171.6,744.6 172.2,745.2 172.8,744.3 173.4,745.0 173.9,744.6 174.5,744.6 175.1,744.8 175.6,744.8 176.2,744.3 176.8,744.6 177.3,744.7 177.9,745.4 178.5,745.0 179.0,744.5 179.6,744.7 180.2,745.1 180.8,745.0 181.3,744.9 181.9,744.6 182.5,744.7 183.0,744.5 183.6,745.0 184.2,744.5 184.7,744.9 185.3,744.8 185.9,744.2 186.4,744.7 187.0,744.8 187.6,744.8 188.2,744.8 188.7,744.3 189.3,744.3 189.9,744.5 190.4,744.6 191.0,744.4 191.6,744.7 192.1,744.5 192.7,744.6 193.3,744.6 193.9,744.2 194.4,744.1 195.0,744.3 195.6,745.2 196.1,744.1 196.7,744.4 197.3,744.8 197.8,744.6 198.4,744.3 199.0,744.3 199.5,744.3 200.1,744.6 200.7,744.6 201.3,744.3 201.8,744.6 202.4,744.8 203.0,744.7 203.5,744.6 204.1,744.5 204.7,743.9 205.2,744.9 205.8,744.4 206.4,744.6 206.9,744.4 207.5,744.1 208.1,744.1 208.7,744.6 209.2,744.7 209.8,744.9 210.4,744.5 210.9,744.1 211.5,744.6" fill="none" stroke="#d5376a" stroke-width="1.0" stroke-linejoin="round" />
<polyline points="40.7,616.0 41.3,616.1 41.8,617.2 42.4,615.3 43.0,618.9 43.5,621.2 44.1,622.3 44.7,616.3 45.3,620.1 45.8,619.9 46.4,616.5 47.0,621.2 47.5,613.7 48.1,618.2 48.7,619.3 49.2,619.4 49.8,617.7 50.4,619.8 50.9,619.3 51.5,618.6 52.1,618.4 52.7,618.5 53.2,618.0 53.8,618.6 54.4,618.3 54.9,616.8 55.5,617.3 56.1,618.3 56.6,616.1 57.2,619.6 57.8,617.5 58.3,616.8 58.9,616.4 59.5,617.2 60.1,617.6 60.6,616.5 61.2,617.1 61.8,616.3 62.3,619.4 62.9,616.1 63.5,617.1 64.0,615.2 64.6,615.2 65.2,615.1 65.8,616.0 66.3,615.0 66.9,615.6 67.5,614.9 68.0,609.2 68.6,615.7 69.2,612.7 69.7,613.8 70.3,616.5 70.9,613.5 71.4,615.6 72.0,614.4 72.6,614.6 73.2,614.5 73.7,613.6 74.3,614.1 74.9,615.1 75.4,613.6 76.0,613.1 76.6,611.6 77.1,613.7 77.7,614.3 78.3,613.5 78.8,612.5 79.4,614.0 80.0,613.9 80.6,612.6 81.1,613.2 81.7,613.0 82.3,613.8 82.8,608.1 83.4,613.5 84.0,613.5 84.5,613.8 85.1,613.1 85.7,613.2 86.2,613.3 86.8,613.5 87.4,615.0 88.0,615.3 88.5,613.6 89.1,614.5 89.7,614.6 90.2,615.1 90.8,614.9 91.4,615.2 91.9,615.4 92.5,615.4 93.1,615.8 93.6,615.4 94.2,615.2 94.8,615.8 95.4,615.7 95.9,616.1 96.5,615.7 97.1,615.5 97.6,616.5 98.2,616.3 98.8,615.9 99.3,616.3 99.9,616.5 100.5,617.2 101.0,616.7 101.6,616.5 102.2,616.5 102.8,616.8 103.3,617.3 103.9,617.4 104.5,617.8 105.0,617.7 105.6,617.2 106.2,617.6 106.7,618.1 107.3,617.4 107.9,618.4 108.5,617.7 109.0,618.2 109.6,618.1 110.2,618.2 110.7,618.4 111.3,618.2 111.9,618.7 112.4,618.9 113.0,619.2 113.6,619.5 114.1,619.5 114.7,619.1 115.3,619.4 115.9,619.4 116.4,619.2 117.0,620.1 117.6,620.4 118.1,621.3 118.7,621.3 119.3,620.9 119.8,621.9 120.4,622.5 121.0,622.9 121.5,624.2 122.1,624.6 122.7,625.6 123.3,626.8 123.8,627.0 124.4,628.1 125.0,629.9 125.5,631.4 126.1,633.7 126.7,635.4 127.2,637.8 127.8,640.3 128.4,643.5 128.9,647.4 129.5,651.5 130.1,656.1 130.7,660.8 131.2,665.5 131.8,670.9 132.4,676.7 132.9,682.0 133.5,688.1 134.1,694.0 134.6,699.7 135.2,705.0 135.8,710.4 136.3,715.1 136.9,719.1 137.5,723.3 138.1,726.8 138.6,729.5 139.2,732.7 139.8,734.7 140.3,737.2 140.9,738.6 141.5,740.5 142.0,742.4 142.6,742.7 143.2,744.1 143.7,745.4 144.3,745.5 144.9,746.0 145.5,747.0 146.0,747.2 146.6,747.2 147.2,747.2 147.7,747.5 148.3,747.7 148.9,747.9 149.4,749.1 150.0,748.7 150.6,748.5 151.2,749.4 151.7,748.4 152.3,748.5 152.9,749.0 153.4,748.9 154.0,749.1 154.6,748.9 155.1,748.9 155.7,748.9 156.3,749.2 156.8,748.8 157.4,749.0 158.0,748.6 158.6,748.8 159.1,749.3 159.7,749.3 160.3,748.9 160.8,749.0 161.4,748.8 162.0,748.7 162.5,748.9 163.1,749.4 163.7,749.2 164.2,748.7 164.8,749.2 165.4,748.5 166.0,748.9 166.5,748.7 167.1,749.1 167.7,748.9 168.2,749.7 168.8,748.9 169.4,748.7 169.9,749.1 170.5,749.1 171.1,748.8 171.6,748.8 172.2,749.0 172.8,748.6 173.4,749.3 173.9,748.5 174.5,749.2 175.1,749.0 175.6,748.4 176.2,749.1 176.8,749.2 177.3,748.7 177.9,749.0 178.5,749.1 179.0,748.9 179.6,748.9 180.2,749.0 180.8,749.0 181.3,748.2 181.9,748.9 182.5,748.4 183.0,749.1 183.6,748.5 184.2,749.0 184.7,748.8 185.3,748.5 185.9,748.8 186.4,749.2 187.0,748.8 187.6,748.7 188.2,748.5 188.7,748.9 189.3,748.7 189.9,748.6 190.4,749.1 191.0,748.6 191.6,748.8 192.1,748.5 192.7,748.6 193.3,748.6 193.9,749.3 194.4,748.6 195.0,748.7 195.6,748.8 196.1,748.7 196.7,748.9 197.3,748.5 197.8,748.3 198.4,748.4 199.0,748.7 199.5,748.0 200.1,748.3 200.7,748.8 201.3,748.5 201.8,749.0 202.4,748.5 203.0,748.3 203.5,748.1 204.1,748.6 204.7,749.0 205.2,748.5 205.8,748.1 206.4,748.4 206.9,748.1 207.5,748.2 208.1,748.0 208.7,748.3 209.2,748.6 209.8,748.3 210.4,747.7 210.9,748.6 211.5,748.9" fill="none" stroke="#2b95c3" stroke-width="1.0" stroke-linejoin="round" />
<line x1="159" y1="599" x2="177" y2="599" stroke="#d5376a" stroke-width="1.3" />
<text x="178" y="601.8" font-size="8" text-anchor="start" font-weight="bold" fill="#111" >CdS</text>
<line x1="159" y1="609.5" x2="177" y2="609.5" stroke="#2b95c3" stroke-width="1.3" />
<text x="178" y="612.3" font-size="8" text-anchor="start" font-weight="bold" fill="#111" >N<tspan font-size="5" dy="1.5">0.2</tspan><tspan dy="-1.5">-CdS</tspan></text>
<text x="3" y="605" font-size="21" text-anchor="start" font-weight="bold" fill="#000" >(a)</text>
<rect x="255.4" y="591.6" width="170.8" height="171.3" fill="none" stroke="#333" stroke-width="1" />
<line x1="274.5" y1="762.9" x2="274.5" y2="759.9" stroke="#333" stroke-width="1" />
<text x="274.5" y="772.9" font-size="7.5" text-anchor="middle" font-weight="bold" fill="#111" >500</text>
<line x1="321.8" y1="762.9" x2="321.8" y2="759.9" stroke="#333" stroke-width="1" />
<text x="321.8" y="772.9" font-size="7.5" text-anchor="middle" font-weight="bold" fill="#111" >550</text>
<line x1="369.1" y1="762.9" x2="369.1" y2="759.9" stroke="#333" stroke-width="1" />
<text x="369.1" y="772.9" font-size="7.5" text-anchor="middle" font-weight="bold" fill="#111" >600</text>
<line x1="416.4" y1="762.9" x2="416.4" y2="759.9" stroke="#333" stroke-width="1" />
<text x="416.4" y="772.9" font-size="7.5" text-anchor="middle" font-weight="bold" fill="#111" >650</text>
<line x1="298.1" y1="762.9" x2="298.1" y2="761.1" stroke="#333" stroke-width="1" />
<line x1="345.5" y1="762.9" x2="345.5" y2="761.1" stroke="#333" stroke-width="1" />
<line x1="392.8" y1="762.9" x2="392.8" y2="761.1" stroke="#333" stroke-width="1" />
<text x="341" y="783" font-size="9.8" text-anchor="middle" font-weight="bold" fill="#111" >Wavelength (nm)</text>
<text transform="translate(251,671) rotate(-90)" font-size="10" text-anchor="middle" font-weight="bold" fill="#111">Intensity (a.u.)</text>
<polyline points="255.9,749.1 257.5,749.7 259.0,749.1 260.5,750.0 262.0,749.8 264.2,749.7 266.3,750.4 268.5,749.7 270.7,749.5 272.8,749.4 275.0,749.1 277.2,748.2 279.3,748.0 280.6,746.9 281.9,746.6 283.2,746.0 284.5,745.1 285.8,744.0 287.1,742.8 288.5,742.2 289.8,741.2 291.5,738.5 293.2,736.1 295.0,733.0 296.7,730.8 298.4,726.1 300.2,721.6 301.9,716.2 303.6,711.6 304.9,704.1 306.2,697.7 307.5,690.2 308.8,683.5 310.1,677.0 311.4,668.5 312.7,662.2 314.0,654.7 315.3,649.2 316.6,644.3 317.9,639.1 319.2,634.1 320.1,630.8 321.0,627.9 321.8,625.1 322.7,622.1 323.6,620.3 324.4,617.9 325.3,616.3 326.2,613.2 327.0,612.8 327.9,612.2 328.8,611.1 329.6,611.9 330.9,609.9 332.2,610.2 333.5,609.7 334.8,610.1 335.9,608.1 337.0,608.5 338.1,607.3 339.2,606.8 340.0,605.8 340.9,605.4 341.8,603.9 342.6,603.4 343.3,604.2 343.9,605.3 344.6,604.5 345.2,606.5 346.1,608.5 347.0,610.2 347.8,612.6 348.7,614.5 349.6,617.9 350.4,619.9 351.3,622.4 352.2,625.0 353.5,627.6 354.8,630.2 356.1,632.6 357.4,636.2 358.7,637.4 360.0,639.4 361.3,643.2 362.6,645.8 363.4,648.6 364.3,651.0 365.2,653.6 366.0,656.4 366.9,657.9 367.8,658.7 368.6,660.1 369.5,662.2 371.2,663.0 373.0,663.7 374.7,666.2 376.4,667.0 378.2,667.1 379.9,667.6 381.6,668.7 383.4,669.0 384.2,669.1 385.1,669.3 386.0,669.8 386.8,670.5 387.7,671.7 388.6,673.1 389.4,675.6 390.3,677.1 392.0,679.5 393.8,681.8 395.5,683.5 397.2,685.7 399.0,687.9 400.7,689.7 402.4,692.5 404.2,694.9 405.9,695.6 407.6,696.5 409.4,697.6 411.1,698.5 412.0,698.7 412.8,699.1 413.7,699.1 414.6,699.5 415.4,700.4 416.3,702.3 417.2,703.5 418.0,704.4 420.0,706.2 421.9,709.2 423.9,711.7 425.8,713.5" fill="none" stroke="#d5376a" stroke-width="1.0" stroke-linejoin="round" />
<polyline points="255.9,747.0 257.5,747.2 259.0,747.3 260.5,747.8 262.0,747.3 264.2,748.1 266.3,747.8 268.5,748.4 270.7,748.2 272.8,748.0 275.0,747.5 277.2,747.7 279.3,747.7 281.1,747.5 282.8,746.8 284.5,745.9 286.3,745.7 288.0,745.5 289.8,744.6 291.5,744.1 293.2,743.7 295.0,743.3 296.7,742.3 298.4,740.9 300.2,740.5 301.9,738.7 303.6,737.1 305.4,736.3 307.1,734.6 308.8,731.9 310.6,730.0 312.3,728.0 314.0,725.4 315.8,723.4 317.5,721.5 319.2,718.5 321.0,717.1 322.7,715.9 324.4,714.5 326.2,712.6 327.9,711.9 329.6,709.7 331.4,708.5 333.1,706.8 334.8,704.9 336.6,703.0 338.3,701.6 340.0,700.6 341.8,698.4 342.6,698.9 343.5,698.9 344.4,698.7 345.2,699.6 346.1,699.2 347.0,700.4 347.8,699.4 348.7,699.7 350.4,701.3 352.2,701.6 353.9,701.7 355.6,702.2 357.4,702.4 359.1,703.7 360.8,704.5 362.6,705.6 364.3,706.4 366.0,706.6 367.8,707.1 369.5,707.2 371.2,707.5 373.0,707.9 374.7,708.0 376.4,708.7 378.2,707.9 379.9,708.8 381.6,707.7 383.4,708.3 384.2,707.7 385.1,708.5 386.0,708.0 386.8,708.1 388.6,709.4 390.3,710.1 392.0,711.1 393.8,711.9 395.5,714.1 397.2,714.6 399.0,715.7 400.7,717.0 402.4,718.7 404.2,718.5 405.9,720.3 407.6,721.2 409.4,721.7 411.1,721.1 412.8,721.8 414.6,722.5 416.3,723.8 418.0,724.9 419.8,725.1 421.5,726.5 422.6,727.1 423.7,727.3 424.8,727.9 425.8,729.1" fill="none" stroke="#2b95c3" stroke-width="1.0" stroke-linejoin="round" />
<line x1="261" y1="600" x2="279" y2="600" stroke="#d5376a" stroke-width="1.3" />
<text x="280" y="602.8" font-size="8" text-anchor="start" font-weight="bold" fill="#111" >CdS</text>
<line x1="261" y1="610.5" x2="279" y2="610.5" stroke="#2b95c3" stroke-width="1.3" />
<text x="280" y="613.3" font-size="8" text-anchor="start" font-weight="bold" fill="#111" >N<tspan font-size="5" dy="1.5">0.2</tspan><tspan dy="-1.5">-CdS</tspan></text>
<text x="225" y="605.5" font-size="21" text-anchor="start" font-weight="bold" fill="#000" >(b)</text>
<rect x="466.5" y="591.5" width="171.2" height="172" fill="none" stroke="#333" stroke-width="1" />
<line x1="477.3" y1="763.5" x2="477.3" y2="760.5" stroke="#333" stroke-width="1" />
<text x="477.3" y="773.5" font-size="7.5" text-anchor="middle" font-weight="bold" fill="#111" >10</text>
<line x1="530.8" y1="763.5" x2="530.8" y2="760.5" stroke="#333" stroke-width="1" />
<text x="530.8" y="773.5" font-size="7.5" text-anchor="middle" font-weight="bold" fill="#111" >15</text>
<line x1="584.2" y1="763.5" x2="584.2" y2="760.5" stroke="#333" stroke-width="1" />
<text x="584.2" y="773.5" font-size="7.5" text-anchor="middle" font-weight="bold" fill="#111" >20</text>
<line x1="637.7" y1="763.5" x2="637.7" y2="760.5" stroke="#333" stroke-width="1" />
<text x="637.7" y="773.5" font-size="7.5" text-anchor="middle" font-weight="bold" fill="#111" >25</text>
<line x1="504" y1="763.5" x2="504" y2="761.7" stroke="#333" stroke-width="1" />
<line x1="557.5" y1="763.5" x2="557.5" y2="761.7" stroke="#333" stroke-width="1" />
<line x1="611" y1="763.5" x2="611" y2="761.7" stroke="#333" stroke-width="1" />
<line x1="466.5" y1="756.4" x2="469.5" y2="756.4" stroke="#333" stroke-width="1" />
<text x="464.5" y="758.9" font-size="7.5" text-anchor="end" font-weight="bold" fill="#111" >0</text>
<line x1="466.5" y1="720.4" x2="469.5" y2="720.4" stroke="#333" stroke-width="1" />
<text x="464.5" y="722.9" font-size="7.5" text-anchor="end" font-weight="bold" fill="#111" >50</text>
<line x1="466.5" y1="684.4" x2="469.5" y2="684.4" stroke="#333" stroke-width="1" />
<text x="464.5" y="686.9" font-size="7.5" text-anchor="end" font-weight="bold" fill="#111" >100</text>
<line x1="466.5" y1="648.4" x2="469.5" y2="648.4" stroke="#333" stroke-width="1" />
<text x="464.5" y="650.9" font-size="7.5" text-anchor="end" font-weight="bold" fill="#111" >150</text>
<line x1="466.5" y1="612.4" x2="469.5" y2="612.4" stroke="#333" stroke-width="1" />
<text x="464.5" y="614.9" font-size="7.5" text-anchor="end" font-weight="bold" fill="#111" >200</text>
<line x1="466.5" y1="738.4" x2="468.3" y2="738.4" stroke="#333" stroke-width="1" />
<line x1="466.5" y1="702.4" x2="468.3" y2="702.4" stroke="#333" stroke-width="1" />
<line x1="466.5" y1="666.4" x2="468.3" y2="666.4" stroke="#333" stroke-width="1" />
<line x1="466.5" y1="630.4" x2="468.3" y2="630.4" stroke="#333" stroke-width="1" />
<text x="552" y="783" font-size="9.8" text-anchor="middle" font-weight="bold" fill="#111" >Decay time (ns)</text>
<text transform="translate(448,677) rotate(-90)" font-size="10" text-anchor="middle" font-weight="bold" fill="#111">Intensity (a.u.)</text>
<path d="M466.8 749.7h0M467.4 741.4h0M467.9 733.5h0M468.4 729.9h0M469.0 729.2h0M469.5 732.5h0M470.0 728.6h0M470.6 729.1h0M471.1 732.0h0M471.6 725.3h0M472.2 715.3h0M472.7 715.3h0M473.2 714.7h0M473.8 714.9h0M474.3 706.6h0M474.8 705.5h0M475.4 698.9h0M475.9 693.2h0M476.4 703.6h0M477.0 689.1h0M477.5 692.5h0M478.0 686.3h0M478.6 684.4h0M479.1 669.1h0M479.7 667.8h0M480.2 665.2h0M480.7 667.9h0M481.3 667.9h0M481.8 659.1h0M482.3 652.7h0M482.9 650.8h0M483.4 644.1h0M483.9 646.4h0M484.5 632.7h0M485.0 635.6h0M485.5 625.9h0M486.1 632.5h0M486.6 633.7h0M487.1 635.6h0M487.7 626.2h0M488.2 623.8h0M488.7 627.1h0M489.3 625.6h0M489.8 630.2h0M490.3 632.1h0M490.9 632.6h0M491.4 641.7h0M491.9 638.6h0M492.5 634.9h0M493.0 636.8h0M493.6 634.3h0M494.1 638.9h0M494.6 642.3h0M495.2 646.5h0M495.7 660.7h0M496.2 652.0h0M496.8 659.6h0M497.3 655.6h0M497.8 662.4h0M498.4 665.6h0M498.9 669.7h0M499.4 672.0h0M500.0 683.8h0M500.5 685.5h0M501.0 674.9h0M501.6 682.3h0M502.1 690.0h0M502.6 692.4h0M503.2 695.4h0M503.7 680.2h0M504.2 696.8h0M504.8 702.3h0M505.3 708.3h0M505.9 719.0h0M506.4 708.7h0M506.9 704.5h0M507.5 709.0h0M508.0 714.5h0M508.5 721.1h0M509.1 726.2h0M509.6 722.1h0M510.1 724.6h0M510.7 727.5h0M511.2 724.8h0M511.7 730.7h0M512.3 731.8h0M512.8 736.4h0M513.3 731.7h0M513.9 736.4h0M514.4 738.0h0M514.9 738.8h0M515.5 741.4h0M516.0 741.8h0M516.5 741.1h0M517.1 743.6h0M517.6 742.6h0M518.1 742.0h0M518.7 743.4h0M519.2 743.2h0M519.8 744.5h0M520.3 744.0h0M520.8 746.7h0M521.4 746.8h0M521.9 749.5h0M522.4 748.5h0M523.0 749.7h0M523.5 749.0h0M524.0 750.9h0M524.6 749.1h0M525.1 745.8h0M525.6 751.4h0M526.2 749.4h0M526.7 749.5h0M527.2 751.8h0M527.8 751.2h0M528.3 751.7h0M528.8 750.3h0M529.4 752.2h0M529.9 747.2h0M530.4 750.1h0M531.0 749.8h0M531.9 748.3h0M532.8 749.6h0M533.7 752.1h0M534.6 751.5h0M535.5 752.1h0M536.4 751.8h0M537.3 750.9h0M538.3 755.6h0M539.2 755.3h0M540.1 753.3h0M541.0 752.2h0M541.9 753.7h0M542.8 753.3h0M543.7 751.3h0M544.6 752.0h0M545.5 753.3h0M546.4 753.7h0M547.3 755.6h0M548.3 752.5h0M549.2 753.1h0M550.1 754.9h0M551.0 752.6h0M551.9 754.0h0M552.8 754.0h0M553.7 756.2h0M554.6 752.2h0M555.5 754.9h0M556.4 753.2h0M557.3 753.4h0M558.2 754.7h0M559.2 754.0h0M560.1 754.3h0M561.0 754.3h0M561.9 753.7h0M562.8 755.1h0M563.7 753.0h0M564.6 753.9h0M565.5 756.0h0M566.4 753.5h0M567.3 754.8h0M568.2 753.5h0M569.2 757.1h0M570.1 753.8h0M571.0 757.1h0M571.9 755.1h0M572.8 749.4h0M573.7 753.4h0M574.6 752.8h0M575.5 755.6h0M576.4 756.3h0M577.3 754.7h0M578.2 754.0h0M579.2 754.8h0M580.1 755.8h0M581.0 756.1h0M581.9 755.4h0M582.8 752.2h0M583.7 754.8h0M584.6 755.4h0M585.5 755.2h0M586.4 756.3h0M587.3 756.9h0M588.2 754.6h0M589.2 752.7h0M590.1 754.0h0M591.0 757.0h0M591.9 752.4h0M592.8 754.4h0M593.7 751.9h0M594.6 755.1h0M595.5 757.0h0M596.4 754.5h0M597.3 755.1h0M598.2 756.6h0M599.2 756.1h0M600.1 755.6h0M601.0 756.3h0M601.9 754.0h0M602.8 754.5h0M603.7 755.7h0M604.6 755.5h0M605.5 753.6h0M606.4 754.4h0M607.3 756.9h0M608.2 754.6h0M609.1 752.3h0M610.1 754.5h0M611.0 756.4h0M611.9 752.6h0M612.8 751.1h0M613.7 754.8h0M614.6 757.1h0M615.5 757.1h0M616.4 752.1h0M617.3 755.3h0M618.2 753.9h0M619.1 754.2h0M620.1 754.8h0M621.0 752.4h0M621.9 754.7h0M622.8 754.1h0M623.7 754.6h0M624.6 754.7h0M625.5 751.2h0M626.4 756.8h0M627.3 757.0h0M628.2 753.4h0M629.1 757.1h0M630.1 754.9h0M631.0 756.8h0M631.9 753.6h0M632.8 755.2h0M633.7 754.1h0M634.6 756.4h0M635.5 755.4h0M636.4 757.1h0M637.3 753.9h0" stroke="#d5376a" stroke-width="3.4" stroke-linecap="round"/>
<path d="M466.8 741.9h0M467.4 741.7h0M467.9 738.9h0M468.4 738.9h0M469.0 734.6h0M469.5 720.7h0M470.0 732.7h0M470.6 729.5h0M471.1 720.1h0M471.6 720.2h0M472.2 722.2h0M472.7 705.5h0M473.2 701.8h0M473.8 709.7h0M474.3 693.7h0M474.8 708.7h0M475.4 688.1h0M475.9 702.8h0M476.4 687.6h0M477.0 687.1h0M477.5 684.8h0M478.0 675.4h0M478.6 681.1h0M479.1 676.2h0M479.7 674.8h0M480.2 656.0h0M480.7 664.5h0M481.3 655.4h0M481.8 655.2h0M482.3 644.2h0M482.9 652.9h0M483.4 649.0h0M483.9 644.6h0M484.5 636.8h0M485.0 639.4h0M485.5 629.3h0M486.1 626.5h0M486.6 622.4h0M487.1 624.1h0M487.7 617.9h0M488.2 626.8h0M488.7 626.6h0M489.3 627.4h0M489.8 628.6h0M490.3 633.5h0M490.9 624.7h0M491.4 627.6h0M491.9 641.6h0M492.5 631.8h0M493.0 637.7h0M493.6 641.2h0M494.1 639.9h0M494.6 633.7h0M495.2 642.5h0M495.7 657.4h0M496.2 646.9h0M496.8 656.9h0M497.3 645.2h0M497.8 660.6h0M498.4 661.2h0M498.9 665.2h0M499.4 672.5h0M500.0 673.6h0M500.5 675.5h0M501.0 665.7h0M501.6 681.4h0M502.1 682.4h0M502.6 687.7h0M503.2 690.3h0M503.7 692.4h0M504.2 689.1h0M504.8 717.4h0M505.3 706.7h0M505.9 710.2h0M506.4 702.6h0M506.9 714.5h0M507.5 706.5h0M508.0 707.9h0M508.5 719.7h0M509.1 715.5h0M509.6 721.8h0M510.1 721.5h0M510.7 723.8h0M511.2 724.5h0M511.7 726.9h0M512.3 731.6h0M512.8 729.5h0M513.3 733.6h0M513.9 733.7h0M514.4 737.1h0M514.9 737.1h0M515.5 741.3h0M516.0 738.1h0M516.5 742.5h0M517.1 742.0h0M517.6 741.8h0M518.1 745.7h0M518.7 743.5h0M519.2 744.9h0M519.8 744.4h0M520.3 746.5h0M520.8 748.3h0M521.4 748.8h0M521.9 748.7h0M522.4 747.6h0M523.0 748.4h0M523.5 747.6h0M524.0 746.5h0M524.6 749.7h0M525.1 750.3h0M525.6 749.3h0M526.2 749.3h0M526.7 753.6h0M527.2 751.3h0M527.8 750.3h0M528.3 749.7h0M528.8 751.5h0M529.4 752.5h0M529.9 747.8h0M530.4 756.1h0M531.0 749.1h0M531.9 752.5h0M532.8 752.2h0M533.7 751.7h0M534.6 751.3h0M535.5 753.5h0M536.4 754.3h0M537.3 751.7h0M538.3 750.4h0M539.2 752.9h0M540.1 749.1h0M541.0 754.8h0M541.9 751.5h0M542.8 752.1h0M543.7 750.8h0M544.6 754.7h0M545.5 752.0h0M546.4 753.2h0M547.3 756.7h0M548.3 753.9h0M549.2 755.5h0M550.1 753.8h0M551.0 752.3h0M551.9 753.5h0M552.8 750.5h0M553.7 752.3h0M554.6 754.4h0M555.5 754.0h0M556.4 752.9h0M557.3 754.7h0M558.2 752.7h0M559.2 752.7h0M560.1 752.2h0M561.0 753.4h0M561.9 753.5h0M562.8 755.6h0M563.7 753.5h0M564.6 754.0h0M565.5 753.6h0M566.4 753.2h0M567.3 755.0h0M568.2 754.5h0M569.2 755.1h0M570.1 755.8h0M571.0 756.8h0M571.9 755.7h0M572.8 753.3h0M573.7 757.1h0M574.6 753.4h0M575.5 753.0h0M576.4 752.8h0M577.3 754.8h0M578.2 754.8h0M579.2 752.7h0M580.1 753.2h0M581.0 751.7h0M581.9 755.0h0M582.8 755.1h0M583.7 752.7h0M584.6 755.0h0M585.5 754.7h0M586.4 752.4h0M587.3 753.3h0M588.2 755.1h0M589.2 753.6h0M590.1 754.6h0M591.0 752.9h0M591.9 754.0h0M592.8 755.9h0M593.7 751.9h0M594.6 754.7h0M595.5 754.5h0M596.4 755.6h0M597.3 754.6h0M598.2 755.2h0M599.2 753.7h0M600.1 753.8h0M601.0 752.8h0M601.9 753.4h0M602.8 755.4h0M603.7 755.8h0M604.6 755.9h0M605.5 753.2h0M606.4 755.9h0M607.3 752.3h0M608.2 754.4h0M609.1 754.8h0M610.1 754.5h0M611.0 751.9h0M611.9 754.6h0M612.8 755.4h0M613.7 756.4h0M614.6 757.1h0M615.5 755.9h0M616.4 752.8h0M617.3 753.9h0M618.2 756.0h0M619.1 757.1h0M620.1 753.2h0M621.0 754.3h0M621.9 757.1h0M622.8 755.3h0M623.7 756.7h0M624.6 753.4h0M625.5 754.0h0M626.4 756.1h0M627.3 757.1h0M628.2 755.5h0M629.1 751.0h0M630.1 754.3h0M631.0 755.9h0M631.9 753.6h0M632.8 755.9h0M633.7 752.5h0M634.6 757.1h0M635.5 755.8h0M636.4 752.7h0M637.3 753.3h0" stroke="#2b95c3" stroke-width="3.4" stroke-linecap="round"/>
<polyline points="489.1,601.6 490.3,611.1 491.6,620.5 492.8,630.0 494.1,638.1 495.3,645.1 496.6,652.2 497.8,659.3 499.1,666.2 500.3,673.0 501.6,679.7 502.8,686.4 504.1,693.1 505.3,698.7 506.5,704.2 507.8,709.8 509.0,715.3 510.3,719.9 511.5,724.1 512.8,728.3 514.0,732.5 515.3,735.9 516.5,738.2 517.8,740.6 519.0,742.9 520.3,745.1 521.5,746.1 522.8,747.1 524.0,748.1 525.3,749.1 526.5,749.7 527.8,750.2 529.0,750.7 530.3,751.2 531.5,751.5 532.8,751.7 534.0,751.9 535.3,752.1 536.5,752.3 537.8,752.5 539.0,752.8 540.3,753.0 541.5,753.2 542.8,753.2 544.0,753.3 545.3,753.4 546.5,753.4 547.8,753.5 549.0,753.5 550.3,753.6 551.5,753.7 552.8,753.7 554.0,753.8 555.3,753.9 556.5,753.9 557.8,754.0 559.0,754.0 560.3,754.1 561.5,754.2 562.8,754.2 564.0,754.3 565.3,754.3 566.5,754.4 567.8,754.4 569.0,754.4 570.3,754.5 571.5,754.5 572.7,754.6 574.0,754.6 575.2,754.7 576.5,754.7 577.7,754.7 579.0,754.8 580.2,754.8 581.5,754.9 582.7,754.9 584.0,755.0 585.2,755.0 586.5,755.0 587.7,755.0 589.0,755.0 590.2,755.0 591.5,755.0 592.7,755.0 594.0,755.0 595.2,755.0 596.5,755.0 597.7,755.1 599.0,755.1 600.2,755.1 601.5,755.1 602.7,755.1 604.0,755.1 605.2,755.1 606.5,755.1 607.7,755.1 609.0,755.1 610.2,755.1 611.5,755.1 612.7,755.2 614.0,755.2 615.2,755.2 616.5,755.2 617.7,755.2 619.0,755.2 620.2,755.2 621.5,755.2 622.7,755.2 624.0,755.2 625.2,755.2 626.5,755.2 627.7,755.3 629.0,755.3 630.2,755.3 631.5,755.3 632.7,755.3 634.0,755.3 635.2,755.3 636.5,755.3 637.7,755.3" fill="none" stroke="#e07050" stroke-width="0.8" stroke-linejoin="round" opacity="0.85"/>
<text x="514.5" y="599.5" font-size="7.5" text-anchor="middle" font-weight="bold" fill="#111" >sample</text>
<text x="537" y="599.5" font-size="7.5" text-anchor="middle" font-weight="bold" fill="#111" >τ<tspan font-size="4.5" dy="1.5">1</tspan></text>
<text x="554" y="599.5" font-size="7.5" text-anchor="middle" font-weight="bold" fill="#111" >τ<tspan font-size="4.5" dy="1.5">2</tspan></text>
<text x="580" y="599.5" font-size="7.5" text-anchor="middle" font-weight="bold" fill="#111" >A<tspan font-size="4.5" dy="1.5">1</tspan></text>
<text x="601" y="599.5" font-size="7.5" text-anchor="middle" font-weight="bold" fill="#111" >A<tspan font-size="4.5" dy="1.5">2</tspan></text>
<text x="626" y="599.5" font-size="7.5" text-anchor="middle" font-weight="bold" fill="#111" >Ave.τ</text>
<text x="514.5" y="613.3" font-size="6.4" text-anchor="middle" font-weight="bold" fill="#d5376a" >CdS</text>
<text x="539" y="613.3" font-size="6.4" text-anchor="middle" font-weight="bold" fill="#d5376a" >0.954</text>
<text x="558.8" y="613.3" font-size="6.4" text-anchor="middle" font-weight="bold" fill="#d5376a" >7.242</text>
<text x="581.8" y="613.3" font-size="6.4" text-anchor="middle" font-weight="bold" fill="#d5376a" >215.290</text>
<text x="604" y="613.3" font-size="6.4" text-anchor="middle" font-weight="bold" fill="#d5376a" >5.039</text>
<text x="626.6" y="613.3" font-size="6.4" text-anchor="middle" font-weight="bold" fill="#d5376a" >1903 ps</text>
<text x="514.5" y="623.4" font-size="6.4" text-anchor="middle" font-weight="bold" fill="#2b95c3" >N<tspan font-size="4.5">0.2</tspan>-CdS</text>
<text x="539" y="623.4" font-size="6.4" text-anchor="middle" font-weight="bold" fill="#2b95c3" >0.971</text>
<text x="558.8" y="623.4" font-size="6.4" text-anchor="middle" font-weight="bold" fill="#2b95c3" >8.402</text>
<text x="581.8" y="623.4" font-size="6.4" text-anchor="middle" font-weight="bold" fill="#2b95c3" >215.441</text>
<text x="604" y="623.4" font-size="6.4" text-anchor="middle" font-weight="bold" fill="#2b95c3" >4.401</text>
<text x="626.6" y="623.4" font-size="6.4" text-anchor="middle" font-weight="bold" fill="#2b95c3" >2087 ps</text>
<text x="544" y="658.5" font-size="6.5" text-anchor="start" font-weight="normal" fill="#333" >τ =</text>
<text x="576" y="651.8" font-size="6" text-anchor="middle" font-weight="normal" fill="#333" ><tspan font-style="italic">A</tspan><tspan font-size="4">1</tspan> * τ<tspan font-size="4">1</tspan><tspan font-size="4" dy="-2.5">2</tspan><tspan dy="2.5"> + </tspan><tspan font-style="italic">A</tspan><tspan font-size="4">2</tspan> * τ<tspan font-size="4">2</tspan><tspan font-size="4" dy="-2.5">2</tspan></text>
<rect x="555" y="655.5" width="43" height="0.6" fill="#333" stroke="none" stroke-width="1" />
<text x="576" y="661.6" font-size="6" text-anchor="middle" font-weight="normal" fill="#333" ><tspan font-style="italic">A</tspan><tspan font-size="4">1</tspan> * τ<tspan font-size="4">1</tspan> + <tspan font-style="italic">A</tspan><tspan font-size="4">2</tspan> * τ<tspan font-size="4">2</tspan></text>
<circle cx="591.5" cy="728.5" r="1.8" fill="#d5376a" stroke="none" stroke-width="1" />
<text x="602" y="731.5" font-size="8" text-anchor="start" font-weight="bold" fill="#111" >CdS</text>
<circle cx="591.5" cy="738.5" r="1.8" fill="#2b95c3" stroke="none" stroke-width="1" />
<text x="602" y="741.5" font-size="8" text-anchor="start" font-weight="bold" fill="#111" >N<tspan font-size="5" dy="1.5">0.2</tspan><tspan dy="-1.5">-CdS</tspan></text>
<text x="438" y="606" font-size="21" text-anchor="start" font-weight="bold" fill="#000" >(c)</text>
<rect x="40.4" y="792.1" width="170.8" height="169.1" fill="none" stroke="#333" stroke-width="1" />
<line x1="40.4" y1="961.2" x2="40.4" y2="958.2" stroke="#333" stroke-width="1" />
<text x="40.4" y="970.9" font-size="7.7" text-anchor="middle" font-weight="bold" fill="#111" >-0.7</text>
<line x1="83.1" y1="961.2" x2="83.1" y2="958.2" stroke="#333" stroke-width="1" />
<text x="83.1" y="970.9" font-size="7.7" text-anchor="middle" font-weight="bold" fill="#111" >-0.6</text>
<line x1="125.8" y1="961.2" x2="125.8" y2="958.2" stroke="#333" stroke-width="1" />
<text x="125.8" y="970.9" font-size="7.7" text-anchor="middle" font-weight="bold" fill="#111" >-0.5</text>
<line x1="168.5" y1="961.2" x2="168.5" y2="958.2" stroke="#333" stroke-width="1" />
<text x="168.5" y="970.9" font-size="7.7" text-anchor="middle" font-weight="bold" fill="#111" >-0.4</text>
<line x1="211.2" y1="961.2" x2="211.2" y2="958.2" stroke="#333" stroke-width="1" />
<text x="211.2" y="970.9" font-size="7.7" text-anchor="middle" font-weight="bold" fill="#111" >-0.3</text>
<line x1="61.7" y1="961.2" x2="61.7" y2="959.4" stroke="#333" stroke-width="1" />
<line x1="104.4" y1="961.2" x2="104.4" y2="959.4" stroke="#333" stroke-width="1" />
<line x1="147.1" y1="961.2" x2="147.1" y2="959.4" stroke="#333" stroke-width="1" />
<line x1="189.8" y1="961.2" x2="189.8" y2="959.4" stroke="#333" stroke-width="1" />
<line x1="40.4" y1="932.9" x2="43.4" y2="932.9" stroke="#333" stroke-width="1" />
<text x="38.4" y="935.4" font-size="7.7" text-anchor="end" font-weight="bold" fill="#111" >0.0</text>
<line x1="40.4" y1="862.4" x2="43.4" y2="862.4" stroke="#333" stroke-width="1" />
<text x="38.4" y="864.9" font-size="7.7" text-anchor="end" font-weight="bold" fill="#111" >0.1</text>
<line x1="40.4" y1="791.9" x2="43.4" y2="791.9" stroke="#333" stroke-width="1" />
<text x="38.4" y="794.4" font-size="7.7" text-anchor="end" font-weight="bold" fill="#111" >0.2</text>
<line x1="40.4" y1="897.6" x2="42.2" y2="897.6" stroke="#333" stroke-width="1" />
<line x1="40.4" y1="827.1" x2="42.2" y2="827.1" stroke="#333" stroke-width="1" />
<text x="126" y="980" font-size="9.8" text-anchor="middle" font-weight="bold" fill="#111" >Potential (V)</text>
<text transform="translate(21,877) rotate(-90)" font-size="10" text-anchor="middle" font-weight="bold" fill="#111">Current density (mA·cm<tspan font-size="6" dy="-3">-2</tspan><tspan dy="3">)</tspan></text>
<polyline points="40.6,949.9 37.5,949.9 38.0,943.6 38.4,943.0 41.8,944.0 42.2,947.8 45.7,947.3 44.4,947.3 44.9,929.7 45.3,929.1 48.7,930.1 49.1,944.3 52.6,943.8 52.2,943.8 52.7,922.8 53.1,922.2 56.5,923.2 56.9,940.0 60.4,939.5 60.0,939.5 60.5,917.6 60.9,917.0 64.3,918.0 64.7,935.7 68.2,935.2 68.7,935.2 69.2,910.6 69.6,910.0 73.0,911.0 73.4,931.3 76.9,930.8 77.4,930.8 77.9,905.4 78.3,904.8 81.7,905.8 82.1,927.0 85.6,926.5 86.1,926.5 86.6,902.0 87.0,901.4 90.4,902.4 90.8,924.4 94.3,923.9 94.7,923.9 95.2,899.4 95.6,898.8 99.0,899.8 99.4,921.8 102.9,921.3 103.4,921.3 103.9,896.8 104.3,896.2 107.7,897.2 108.1,920.9 111.6,920.4 111.2,920.4 111.7,895.0 112.1,894.4 115.5,895.4 115.9,920.9 119.4,920.4 119.9,920.4 120.4,894.2 120.8,893.6 124.2,894.6 124.6,922.7 128.1,922.2 127.7,922.2 128.2,895.0 128.6,894.4 132.0,895.4 132.4,927.9 135.9,927.4 136.3,927.4 136.8,900.2 137.2,899.6 140.6,900.6 141.0,929.6 144.5,929.1 145.0,929.1 145.5,902.8 145.9,902.2 149.3,903.2 149.7,929.6 153.2,929.1 153.7,929.1 154.2,902.8 154.6,902.2 158.0,903.2 158.4,929.9 161.9,929.4 162.3,929.4 162.8,902.8 163.2,902.2 166.6,903.2 167.0,929.9 170.5,929.4 171.0,929.4 171.5,902.0 171.9,901.4 175.3,902.4 175.7,929.9 179.2,929.4 179.7,929.4 180.2,902.0 180.6,901.4 184.0,902.4 184.4,929.6 187.9,929.1 188.3,929.1 188.8,901.1 189.2,900.5 192.6,901.5 193.0,929.3 196.5,928.8 197.0,928.8 197.5,901.1 197.9,900.5 201.3,901.5 201.7,928.7 205.2,928.2 204.8,928.2 205.3,902.0 205.7,901.4 209.1,902.4 209.5,928.7" fill="none" stroke="#d5376a" stroke-width="0.9" stroke-linejoin="round" />
<polyline points="40.6,943.0 37.5,943.0 38.0,922.8 38.4,922.2 41.8,923.2 42.2,944.3 45.7,943.8 44.4,943.8 44.9,915.8 45.3,915.2 48.7,916.2 49.1,940.0 52.6,939.5 52.2,939.5 52.7,905.4 53.1,904.8 56.5,905.8 56.9,934.8 60.4,934.3 60.0,934.3 60.5,895.0 60.9,894.4 64.3,895.4 64.7,929.6 68.2,929.1 68.7,929.1 69.2,884.6 69.6,884.0 73.0,885.0 73.4,926.1 76.9,925.6 77.4,925.6 77.9,872.5 78.3,871.9 81.7,872.9 82.1,922.7 85.6,922.2 86.1,922.2 86.6,862.1 87.0,861.5 90.4,862.5 90.8,919.2 94.3,918.7 94.7,918.7 95.2,851.7 95.6,851.1 99.0,852.1 99.4,917.5 102.9,917.0 103.4,917.0 103.9,842.1 104.3,841.5 107.7,842.5 108.1,918.3 111.6,917.8 111.2,917.8 111.7,838.7 112.1,838.1 115.5,839.1 115.9,920.9 119.4,920.4 119.9,920.4 120.4,840.4 120.8,839.8 124.2,840.8 124.6,924.4 128.1,923.9 127.7,923.9 128.2,836.1 128.6,835.5 132.0,836.5 132.4,930.5 135.9,930.0 136.3,930.0 136.8,828.3 137.2,827.7 140.6,828.7 141.0,932.2 144.5,931.7 145.0,931.7 145.5,820.5 145.9,819.9 149.3,820.9 149.7,932.7 153.2,932.2 153.7,932.2 154.2,814.4 154.6,813.8 158.0,814.8 158.4,933.1 161.9,932.6 162.3,932.6 162.8,810.9 163.2,810.3 166.6,811.3 167.0,933.1 170.5,932.6 171.0,932.6 171.5,809.2 171.9,808.6 175.3,809.6 175.7,932.7 179.2,932.2 179.7,932.2 180.2,809.7 180.6,809.1 184.0,810.1 184.4,932.2 187.9,931.7 188.3,931.7 188.8,810.9 189.2,810.3 192.6,811.3 193.0,932.2 196.5,931.7 197.0,931.7 197.5,814.4 197.9,813.8 201.3,814.8 201.7,931.3 205.2,930.8 204.8,930.8 205.3,817.0 205.7,816.4 209.1,817.4 209.5,931.3" fill="none" stroke="#2b95c3" stroke-width="0.9" stroke-linejoin="round" />
<line x1="46" y1="800" x2="64" y2="800" stroke="#d5376a" stroke-width="1.3" />
<text x="65" y="802.8" font-size="8" text-anchor="start" font-weight="bold" fill="#111" >CdS</text>
<line x1="46" y1="810.5" x2="64" y2="810.5" stroke="#2b95c3" stroke-width="1.3" />
<text x="65" y="813.3" font-size="8" text-anchor="start" font-weight="bold" fill="#111" >N<tspan font-size="5" dy="1.5">0.2</tspan><tspan dy="-1.5">-CdS</tspan></text>
<text x="3" y="806" font-size="21" text-anchor="start" font-weight="bold" fill="#000" >(d)</text>
<text x="30" y="793" font-size="6.5" text-anchor="start" font-weight="bold" fill="#111" >0.2</text>
<rect x="255.1" y="790.7" width="172" height="170" fill="none" stroke="#333" stroke-width="1" />
<line x1="259.8" y1="960.7" x2="259.8" y2="957.7" stroke="#333" stroke-width="1" />
<text x="259.8" y="970.4" font-size="7.7" text-anchor="middle" font-weight="bold" fill="#111" >400</text>
<line x1="302.6" y1="960.7" x2="302.6" y2="957.7" stroke="#333" stroke-width="1" />
<text x="302.6" y="970.4" font-size="7.7" text-anchor="middle" font-weight="bold" fill="#111" >500</text>
<line x1="345.4" y1="960.7" x2="345.4" y2="957.7" stroke="#333" stroke-width="1" />
<text x="345.4" y="970.4" font-size="7.7" text-anchor="middle" font-weight="bold" fill="#111" >600</text>
<line x1="388.2" y1="960.7" x2="388.2" y2="957.7" stroke="#333" stroke-width="1" />
<text x="388.2" y="970.4" font-size="7.7" text-anchor="middle" font-weight="bold" fill="#111" >700</text>
<line x1="281.2" y1="960.7" x2="281.2" y2="958.9" stroke="#333" stroke-width="1" />
<line x1="324" y1="960.7" x2="324" y2="958.9" stroke="#333" stroke-width="1" />
<line x1="366.8" y1="960.7" x2="366.8" y2="958.9" stroke="#333" stroke-width="1" />
<line x1="409.6" y1="960.7" x2="409.6" y2="958.9" stroke="#333" stroke-width="1" />
<line x1="255.1" y1="952.5" x2="258.1" y2="952.5" stroke="#333" stroke-width="1" />
<text x="253.1" y="955" font-size="7.7" text-anchor="end" font-weight="bold" fill="#111" >0.00</text>
<line x1="255.1" y1="903.8" x2="258.1" y2="903.8" stroke="#333" stroke-width="1" />
<text x="253.1" y="906.3" font-size="7.7" text-anchor="end" font-weight="bold" fill="#111" >0.03</text>
<line x1="255.1" y1="855.1" x2="258.1" y2="855.1" stroke="#333" stroke-width="1" />
<text x="253.1" y="857.6" font-size="7.7" text-anchor="end" font-weight="bold" fill="#111" >0.06</text>
<line x1="255.1" y1="806.4" x2="258.1" y2="806.4" stroke="#333" stroke-width="1" />
<text x="253.1" y="808.9" font-size="7.7" text-anchor="end" font-weight="bold" fill="#111" >0.09</text>
<line x1="255.1" y1="928.1" x2="256.9" y2="928.1" stroke="#333" stroke-width="1" />
<line x1="255.1" y1="879.5" x2="256.9" y2="879.5" stroke="#333" stroke-width="1" />
<line x1="255.1" y1="830.8" x2="256.9" y2="830.8" stroke="#333" stroke-width="1" />
<text x="341" y="980" font-size="9.8" text-anchor="middle" font-weight="bold" fill="#111" >Time (s)</text>
<text transform="translate(235,876) rotate(-90)" font-size="10" text-anchor="middle" font-weight="bold" fill="#111">Photocurrent (mA·cm<tspan font-size="6" dy="-3">-2</tspan><tspan dy="3">)</tspan></text>
<polyline points="255.3,952.5 259.8,952.5 260.0,876.2 260.6,876.2 267.9,877.0 268.4,952.5 276.9,952.5 277.1,877.6 277.7,877.6 285.1,878.5 285.5,952.5 294.0,952.5 294.2,879.1 294.8,879.1 302.2,879.9 302.6,952.5 311.2,952.5 311.4,880.5 312.0,880.5 319.3,881.3 319.7,952.5 328.3,952.5 328.5,882.0 329.1,882.0 336.4,882.8 336.8,952.5 345.4,952.5 345.6,883.4 346.2,883.4 353.5,884.2 354.0,952.5 362.5,952.5 362.7,884.9 363.3,884.9 370.7,885.7 371.1,952.5 379.6,952.5 379.8,886.3 380.4,886.3 387.8,887.1 388.2,952.5 396.8,952.5 397.0,887.7 397.6,887.7 404.9,888.6 405.3,952.5 413.9,952.5 414.1,889.2 414.7,889.2 422.0,890.0 422.4,952.5 427.0,952.5" fill="none" stroke="#d5376a" stroke-width="1.1" stroke-linejoin="round" />
<polyline points="255.3,952.5 259.8,952.5 260.0,812.9 260.6,819.4 267.9,822.6 268.4,952.5 276.9,952.0 277.1,814.7 277.7,821.2 285.1,824.4 285.5,952.0 294.0,951.4 294.2,816.5 294.8,823.0 302.2,826.2 302.6,951.4 311.2,950.9 311.4,818.3 312.0,824.8 319.3,828.0 319.7,950.9 328.3,950.3 328.5,820.1 329.1,826.6 336.4,829.8 336.8,950.3 345.4,949.8 345.6,821.9 346.2,828.4 353.5,831.7 354.0,949.8 362.5,949.3 362.7,823.7 363.3,830.2 370.7,833.5 371.1,949.3 379.6,948.7 379.8,825.5 380.4,832.0 387.8,835.3 388.2,948.7 396.8,948.2 397.0,827.3 397.6,833.8 404.9,837.1 405.3,948.2 413.9,947.6 414.1,829.1 414.7,835.6 422.0,838.9 422.4,947.6 427.0,947.6" fill="none" stroke="#2b95c3" stroke-width="1.1" stroke-linejoin="round" />
<line x1="371" y1="798" x2="389" y2="798" stroke="#d5376a" stroke-width="1.3" />
<text x="390" y="800.8" font-size="8" text-anchor="start" font-weight="bold" fill="#111" >CdS</text>
<line x1="371" y1="808.5" x2="389" y2="808.5" stroke="#2b95c3" stroke-width="1.3" />
<text x="390" y="811.3" font-size="8" text-anchor="start" font-weight="bold" fill="#111" >N<tspan font-size="5" dy="1.5">0.2</tspan><tspan dy="-1.5">-CdS</tspan></text>
<text x="259" y="797" font-size="5.5" text-anchor="start" font-weight="bold" fill="#e02525" >light on</text>
<text x="264" y="806" font-size="5.5" text-anchor="start" font-weight="bold" fill="#e02525" >light off</text>
<line x1="260" y1="801" x2="260" y2="811" stroke="#111" stroke-width="0.7" />
<polygon points="258.5,810 261.5,810 260,813" fill="#111"/>
<line x1="269" y1="810" x2="269" y2="816" stroke="#111" stroke-width="0.7" />
<polygon points="267.5,815 270.5,815 269,818" fill="#111"/>
<text x="215" y="806" font-size="21" text-anchor="start" font-weight="bold" fill="#000" >(e)</text>
<rect x="467.5" y="791" width="170.6" height="169.5" fill="none" stroke="#333" stroke-width="1" />
<line x1="488.3" y1="960.5" x2="488.3" y2="957.5" stroke="#333" stroke-width="1" />
<text x="488.3" y="970.2" font-size="7.7" text-anchor="middle" font-weight="bold" fill="#111" >-1.1</text>
<line x1="556.5" y1="960.5" x2="556.5" y2="957.5" stroke="#333" stroke-width="1" />
<text x="556.5" y="970.2" font-size="7.7" text-anchor="middle" font-weight="bold" fill="#111" >-1.0</text>
<line x1="624.7" y1="960.5" x2="624.7" y2="957.5" stroke="#333" stroke-width="1" />
<text x="624.7" y="970.2" font-size="7.7" text-anchor="middle" font-weight="bold" fill="#111" >-0.9</text>
<line x1="522.4" y1="960.5" x2="522.4" y2="958.7" stroke="#333" stroke-width="1" />
<line x1="590.6" y1="960.5" x2="590.6" y2="958.7" stroke="#333" stroke-width="1" />
<line x1="467.5" y1="800.9" x2="470.5" y2="800.9" stroke="#333" stroke-width="1" />
<text x="465.5" y="803.4" font-size="7.7" text-anchor="end" font-weight="bold" fill="#111" >-3</text>
<line x1="467.5" y1="834" x2="470.5" y2="834" stroke="#333" stroke-width="1" />
<text x="465.5" y="836.6" font-size="7.7" text-anchor="end" font-weight="bold" fill="#111" >-4</text>
<line x1="467.5" y1="867.2" x2="470.5" y2="867.2" stroke="#333" stroke-width="1" />
<text x="465.5" y="869.7" font-size="7.7" text-anchor="end" font-weight="bold" fill="#111" >-5</text>
<line x1="467.5" y1="900.4" x2="470.5" y2="900.4" stroke="#333" stroke-width="1" />
<text x="465.5" y="902.9" font-size="7.7" text-anchor="end" font-weight="bold" fill="#111" >-6</text>
<line x1="467.5" y1="933.5" x2="470.5" y2="933.5" stroke="#333" stroke-width="1" />
<text x="465.5" y="936" font-size="7.7" text-anchor="end" font-weight="bold" fill="#111" >-7</text>
<line x1="467.5" y1="817.5" x2="469.3" y2="817.5" stroke="#333" stroke-width="1" />
<line x1="467.5" y1="850.6" x2="469.3" y2="850.6" stroke="#333" stroke-width="1" />
<line x1="467.5" y1="883.8" x2="469.3" y2="883.8" stroke="#333" stroke-width="1" />
<line x1="467.5" y1="916.9" x2="469.3" y2="916.9" stroke="#333" stroke-width="1" />
<line x1="467.5" y1="950.1" x2="469.3" y2="950.1" stroke="#333" stroke-width="1" />
<text x="552" y="980" font-size="9.8" text-anchor="middle" font-weight="bold" fill="#111" >η (V)</text>
<text transform="translate(453,876) rotate(-90)" font-size="10" text-anchor="middle" font-weight="bold" fill="#111">Log |A·cm<tspan font-size="6" dy="-3">-2</tspan><tspan dy="3">|</tspan></text>
<polyline points="467.5,805.9 467.5,805.9 467.9,806.0 468.4,806.0 468.8,806.1 469.2,806.2 469.6,806.3 470.1,806.4 470.5,806.5 470.9,806.6 471.4,806.7 471.8,806.8 472.2,806.9 472.6,807.0 473.1,807.1 473.5,807.1 473.9,807.2 474.3,807.3 474.8,807.4 475.2,807.5 475.6,807.7 476.1,807.8 476.5,807.9 476.9,808.0 477.3,808.1 477.8,808.2 478.2,808.3 478.6,808.4 479.1,808.5 479.5,808.6 479.9,808.7 480.3,808.8 480.8,808.9 481.2,809.1 481.6,809.2 482.1,809.3 482.5,809.4 482.9,809.5 483.3,809.6 483.8,809.8 484.2,809.9 484.6,810.0 485.1,810.1 485.5,810.2 485.9,810.4 486.3,810.5 486.8,810.6 487.2,810.7 487.6,810.8 488.1,811.0 488.5,811.1 488.9,811.2 489.3,811.3 489.8,811.5 490.2,811.6 490.6,811.7 491.0,811.8 491.0,811.8 491.5,812.0 491.9,812.1 492.3,812.2 492.8,812.4 493.2,812.5 493.6,812.6 494.0,812.8 494.5,812.9 494.9,813.0 495.3,813.2 495.8,813.3 496.2,813.4 496.6,813.6 497.0,813.7 497.5,813.8 497.9,814.0 498.3,814.1 498.8,814.3 499.2,814.4 499.6,814.6 500.0,814.7 500.5,814.9 500.9,815.0 501.3,815.2 501.8,815.3 502.2,815.5 502.6,815.6 503.0,815.8 503.5,816.0 503.9,816.1 504.3,816.3 504.8,816.5 505.2,816.6 505.6,816.8 506.0,817.0 506.5,817.1 506.9,817.3 507.3,817.5 507.7,817.7 508.2,817.9 508.6,818.1 508.8,818.1 509.0,818.3 509.5,818.5 509.9,818.7 510.3,818.9 510.7,819.1 511.2,819.3 511.6,819.5 512.0,819.7 512.5,819.9 512.9,820.1 513.3,820.4 513.7,820.6 514.2,820.8 514.6,821.1 515.0,821.3 515.5,821.5 515.9,821.8 516.3,822.0 516.7,822.3 517.2,822.5 517.6,822.8 518.0,823.0 518.5,823.3 518.9,823.6 519.3,823.8 519.7,824.1 520.2,824.4 520.6,824.7 521.0,824.9 521.4,825.2 521.9,825.5 522.3,825.8 522.7,826.1 523.2,826.4 523.6,826.7 524.0,827.0 524.4,827.3 524.9,827.6 525.3,827.9 525.7,828.2 526.2,828.5 526.5,828.7 526.6,828.8 527.0,829.1 527.4,829.4 527.9,829.7 528.3,830.0 528.7,830.3 529.2,830.6 529.6,830.9 530.0,831.3 530.4,831.6 530.9,831.9 531.3,832.3 531.7,832.6 532.2,833.0 532.6,833.4 533.0,833.9 533.4,834.3 533.9,834.8 534.3,835.3 534.7,835.8 535.2,836.4 535.4,836.7 535.6,837.0 536.0,837.8 536.4,838.7 536.9,839.8 537.3,840.9 537.7,842.1 538.1,843.4 538.6,844.7 539.0,846.0 539.4,847.3 539.5,847.3 539.9,848.5 540.3,849.6 540.7,850.8 541.1,852.0 541.6,853.4 542.0,855.0 542.4,856.8 542.9,858.9 542.9,858.9 543.3,861.5 543.7,864.8 544.1,869.2 544.6,874.9 544.9,880.5 545.0,882.5 545.4,899.0 545.6,907.0 545.9,928.4 546.3,955.4 546.3,955.3 546.7,925.5 547.0,907.0 547.1,898.7 547.6,884.9 547.6,883.8 548.0,879.2 548.4,875.1 548.9,872.1 549.3,869.5 549.7,867.2 549.7,867.0 550.1,864.4 550.6,861.9 551.0,859.5 551.4,857.2 551.8,855.2 552.3,853.3 552.7,851.8 553.1,850.6 553.1,850.5 553.6,849.4 554.0,848.4 554.4,847.5 554.8,846.6 555.3,845.7 555.7,845.0 556.1,844.2 556.6,843.6 557.0,842.9 557.4,842.3 557.8,841.7 558.3,841.1 558.7,840.6 559.1,840.0 559.6,839.5 559.9,839.0 560.0,838.9 560.4,838.4 560.8,837.8 561.3,837.3 561.7,836.8 562.1,836.3 562.6,835.8 563.0,835.3 563.4,834.8 563.8,834.4 564.3,833.9 564.7,833.5 565.1,833.0 565.6,832.6 566.0,832.2 566.4,831.8 566.8,831.4 567.3,831.0 567.7,830.6 568.1,830.3 568.5,829.9 569.0,829.6 569.4,829.3 569.8,829.0 570.1,828.7 570.3,828.7 570.7,828.4 571.1,828.1 571.5,827.8 572.0,827.6 572.4,827.3 572.8,827.1 573.3,826.8 573.7,826.6 574.1,826.3 574.5,826.1 575.0,825.9 575.4,825.7 575.8,825.5 576.3,825.3 576.7,825.1 577.1,824.9 577.5,824.7 578.0,824.5 578.4,824.3 578.8,824.1 579.3,823.9 579.7,823.7 580.1,823.6 580.4,823.4 580.5,823.4 581.0,823.2 581.4,823.0 581.8,822.8 582.2,822.7 582.7,822.5 583.1,822.3 583.5,822.1 584.0,822.0 584.4,821.8 584.8,821.7 585.2,821.5 585.7,821.3 586.1,821.2 586.5,821.0 587.0,820.9 587.4,820.7 587.8,820.6 588.2,820.5 588.7,820.3 589.1,820.2 589.5,820.1 590.0,820.0 590.4,819.9 590.6,819.8 590.8,819.7 591.2,819.6 591.7,819.5 592.1,819.4 592.5,819.3 593.0,819.2 593.4,819.1 593.8,819.0 594.2,818.9 594.7,818.9 595.1,818.8 595.5,818.7 596.0,818.6 596.4,818.5 596.8,818.4 597.2,818.3 597.7,818.3 598.1,818.2 598.5,818.1 598.9,818.0 599.4,817.9 599.8,817.9 600.2,817.8 600.7,817.7 601.1,817.7 601.5,817.6 601.9,817.5 602.4,817.4 602.8,817.4 603.2,817.3 603.7,817.2 604.1,817.2 604.2,817.1 604.5,817.1 604.9,817.0 605.4,817.0 605.8,816.9 606.2,816.8 606.7,816.8 607.1,816.7 607.5,816.7 607.9,816.6 608.4,816.6 608.8,816.5 609.2,816.5 609.7,816.4 610.1,816.3 610.5,816.3 610.9,816.2 611.4,816.2 611.8,816.1 612.2,816.1 612.6,816.0 613.1,816.0 613.5,815.9 613.9,815.9 614.4,815.9 614.8,815.8 615.2,815.8 615.6,815.7 616.1,815.7 616.5,815.6 616.9,815.6 617.4,815.5 617.8,815.5 618.2,815.4 618.6,815.3 619.1,815.3 619.5,815.2 619.9,815.2 620.4,815.1 620.8,815.1 621.2,815.0 621.6,815.0 622.1,814.9 622.5,814.8 622.9,814.8 623.4,814.7 623.8,814.6 624.2,814.6 624.6,814.5 624.7,814.5 625.1,814.4 625.5,814.4 625.9,814.3 626.4,814.2 626.8,814.1 627.2,814.0 627.6,814.0 628.1,813.9 628.5,813.8 628.9,813.7 629.3,813.6 629.8,813.5 630.2,813.4 630.6,813.3 631.1,813.3 631.5,813.2 631.9,813.1 632.3,813.0 632.8,812.9 633.2,812.8 633.6,812.7 634.1,812.6 634.5,812.5 634.9,812.4 635.3,812.3 635.8,812.2 636.2,812.0 636.6,811.9 637.1,811.8 637.5,811.7 637.9,811.6 638.3,811.5 638.3,811.5" fill="none" stroke="#d5376a" stroke-width="1.0" stroke-linejoin="round" />
<polyline points="467.5,805.9 467.5,805.9 467.9,806.0 468.4,806.1 468.8,806.2 469.2,806.2 469.6,806.3 470.1,806.4 470.5,806.5 470.9,806.6 471.4,806.7 471.8,806.8 472.2,806.9 472.6,807.0 473.1,807.1 473.5,807.2 473.9,807.3 474.3,807.4 474.8,807.5 475.2,807.6 475.6,807.8 476.1,807.9 476.5,808.0 476.9,808.1 477.3,808.2 477.8,808.3 478.2,808.4 478.6,808.5 479.1,808.6 479.5,808.7 479.9,808.8 480.3,808.9 480.8,809.0 481.2,809.2 481.6,809.3 482.1,809.4 482.5,809.5 482.9,809.6 483.3,809.7 483.8,809.8 484.2,810.0 484.6,810.1 485.1,810.2 485.5,810.3 485.9,810.4 486.3,810.5 486.8,810.7 487.2,810.8 487.6,810.9 488.1,811.0 488.5,811.1 488.9,811.2 489.3,811.4 489.8,811.5 490.2,811.6 490.6,811.7 491.0,811.8 491.0,811.8 491.5,812.0 491.9,812.1 492.3,812.2 492.8,812.3 493.2,812.5 493.6,812.6 494.0,812.7 494.5,812.8 494.9,813.0 495.3,813.1 495.8,813.2 496.2,813.3 496.6,813.5 497.0,813.6 497.5,813.7 497.9,813.9 498.3,814.0 498.8,814.1 499.2,814.3 499.6,814.4 500.0,814.5 500.5,814.7 500.9,814.8 501.3,814.9 501.8,815.1 502.2,815.2 502.6,815.3 503.0,815.5 503.5,815.6 503.9,815.8 504.3,815.9 504.8,816.1 505.2,816.2 505.6,816.4 506.0,816.5 506.5,816.7 506.9,816.8 507.3,817.0 507.7,817.1 508.2,817.3 508.6,817.4 508.8,817.5 509.0,817.6 509.5,817.7 509.9,817.9 510.3,818.0 510.7,818.2 511.2,818.4 511.6,818.5 512.0,818.7 512.5,818.8 512.9,819.0 513.3,819.2 513.7,819.3 514.2,819.5 514.6,819.6 515.0,819.8 515.5,820.0 515.9,820.1 516.3,820.3 516.7,820.5 517.2,820.7 517.6,820.8 518.0,821.0 518.5,821.2 518.9,821.4 519.3,821.6 519.7,821.7 520.2,821.9 520.6,822.1 521.0,822.3 521.4,822.5 521.9,822.7 522.3,822.9 522.7,823.1 523.2,823.3 523.6,823.6 524.0,823.8 524.4,824.0 524.9,824.2 525.3,824.4 525.7,824.7 526.2,824.9 526.5,825.1 526.6,825.2 527.0,825.4 527.4,825.7 527.9,825.9 528.3,826.2 528.7,826.5 529.2,826.8 529.6,827.0 530.0,827.3 530.4,827.7 530.9,828.0 531.3,828.3 531.7,828.6 532.2,829.0 532.6,829.3 533.0,829.7 533.4,830.0 533.9,830.4 534.3,830.8 534.7,831.1 535.2,831.5 535.4,831.7 535.6,831.9 536.0,832.3 536.4,832.8 536.9,833.2 537.3,833.6 537.7,834.1 538.1,834.6 538.6,835.1 539.0,835.6 539.4,836.1 539.9,836.6 540.3,837.1 540.7,837.7 541.1,838.3 541.6,838.8 542.0,839.4 542.4,840.0 542.9,840.7 542.9,840.7 543.3,841.3 543.7,842.0 544.1,842.6 544.6,843.3 545.0,844.0 545.4,844.8 545.9,845.5 546.3,846.3 546.7,847.1 547.1,848.0 547.6,848.9 548.0,849.8 548.4,850.8 548.9,851.8 549.3,852.9 549.7,853.9 549.7,854.0 550.1,855.2 550.6,856.5 551.0,858.0 551.4,859.5 551.8,861.3 552.3,863.1 552.7,865.2 553.1,867.2 553.1,867.4 553.6,870.1 554.0,873.3 554.4,876.9 554.8,880.9 555.1,883.8 555.3,885.4 555.7,891.9 556.1,899.6 556.6,906.5 557.0,910.8 557.2,911.3 557.4,910.6 557.8,906.1 558.3,899.1 558.7,891.4 559.1,884.9 559.2,883.8 559.6,880.3 560.0,875.8 560.4,871.7 560.8,868.2 561.3,865.6 561.3,865.5 561.7,863.6 562.1,861.8 562.6,860.2 563.0,858.8 563.4,857.5 563.8,856.3 564.3,855.1 564.7,854.1 565.1,853.0 565.6,852.0 566.0,850.9 566.4,849.8 566.7,849.0 566.8,848.7 567.3,847.4 567.7,846.1 568.1,844.8 568.5,843.6 569.0,842.3 569.4,841.2 569.8,840.1 570.3,839.3 570.7,838.5 570.8,838.4 571.1,838.0 571.5,837.5 572.0,837.0 572.4,836.5 572.8,836.1 573.3,835.7 573.7,835.3 574.1,835.0 574.5,834.6 575.0,834.3 575.4,834.0 575.8,833.7 576.3,833.4 576.7,833.2 577.1,832.9 577.5,832.6 578.0,832.4 578.4,832.1 578.8,831.9 579.3,831.7 579.7,831.4 579.7,831.4 580.1,831.2 580.5,830.9 581.0,830.7 581.4,830.4 581.8,830.2 582.2,829.9 582.7,829.7 583.1,829.5 583.5,829.2 584.0,829.0 584.4,828.8 584.8,828.6 585.2,828.3 585.7,828.1 586.1,827.9 586.5,827.7 587.0,827.5 587.4,827.3 587.8,827.1 588.2,826.9 588.7,826.7 589.1,826.5 589.5,826.3 590.0,826.1 590.4,825.9 590.8,825.8 591.2,825.6 591.7,825.4 592.1,825.2 592.5,825.1 593.0,824.9 593.4,824.8 593.8,824.6 594.2,824.4 594.7,824.3 595.1,824.2 595.5,824.0 596.0,823.9 596.4,823.7 596.8,823.6 597.2,823.5 597.4,823.4 597.7,823.4 598.1,823.3 598.5,823.1 598.9,823.0 599.4,822.9 599.8,822.8 600.2,822.7 600.7,822.6 601.1,822.5 601.5,822.4 601.9,822.3 602.4,822.2 602.8,822.1 603.2,822.0 603.7,821.9 604.1,821.8 604.5,821.7 604.9,821.7 605.4,821.6 605.8,821.5 606.2,821.4 606.7,821.3 607.1,821.2 607.5,821.2 607.9,821.1 608.4,821.0 608.8,820.9 609.2,820.8 609.7,820.8 610.1,820.7 610.5,820.6 610.9,820.5 611.4,820.5 611.8,820.4 612.2,820.3 612.6,820.2 613.1,820.2 613.5,820.1 613.9,820.0 614.4,819.9 614.8,819.9 615.2,819.8 615.2,819.8 615.6,819.7 616.1,819.6 616.5,819.6 616.9,819.5 617.4,819.4 617.8,819.3 618.2,819.3 618.6,819.2 619.1,819.1 619.5,819.0 619.9,819.0 620.4,818.9 620.8,818.8 621.2,818.7 621.6,818.7 622.1,818.6 622.5,818.5 622.9,818.4 623.4,818.4 623.8,818.3 624.2,818.2 624.6,818.2 625.1,818.1 625.5,818.0 625.9,818.0 626.4,817.9 626.8,817.8 627.2,817.8 627.6,817.7 628.1,817.6 628.5,817.6 628.9,817.5 629.3,817.4 629.8,817.4 630.2,817.3 630.6,817.2 631.1,817.2 631.5,817.1 631.9,817.0 632.3,817.0 632.8,816.9 633.2,816.9 633.6,816.8 634.1,816.7 634.5,816.7 634.9,816.6 635.3,816.6 635.8,816.5 636.2,816.4 636.6,816.4 637.1,816.3 637.5,816.3 637.9,816.2 638.3,816.1 638.3,816.1" fill="none" stroke="#2b95c3" stroke-width="1.0" stroke-linejoin="round" />
<text x="634" y="809" font-size="11" text-anchor="end" font-weight="bold" fill="#e02535" >illumination</text>
<text transform="translate(554.5,954) rotate(-90)" font-size="8.5" font-weight="bold" fill="#d5376a">1015 mV</text>
<text transform="translate(570,918) rotate(-90)" font-size="8.5" font-weight="bold" fill="#2b95c3">999 mV</text>
<line x1="581" y1="938" x2="597" y2="938" stroke="#d5376a" stroke-width="1.3" />
<text x="598" y="940.6" font-size="7.5" text-anchor="start" font-weight="bold" fill="#111" >CdS</text>
<line x1="581" y1="948" x2="597" y2="948" stroke="#2b95c3" stroke-width="1.3" />
<text x="598" y="950.6" font-size="7.5" text-anchor="start" font-weight="bold" fill="#111" >N<tspan font-size="5" dy="1.5">0.2</tspan><tspan dy="-1.5">-CdS</tspan></text>
<text x="436" y="806" font-size="21" text-anchor="start" font-weight="bold" fill="#000" >(f)</text>
<rect x="39.8" y="989.9" width="170.6" height="171.2" fill="none" stroke="#333" stroke-width="1" />
<line x1="46.4" y1="1161.1" x2="46.4" y2="1158.1" stroke="#333" stroke-width="1" />
<text x="46.4" y="1171.1" font-size="7.5" text-anchor="middle" font-weight="bold" fill="#111" >0</text>
<line x1="82" y1="1161.1" x2="82" y2="1158.1" stroke="#333" stroke-width="1" />
<text x="82" y="1171.1" font-size="7.5" text-anchor="middle" font-weight="bold" fill="#111" >5</text>
<line x1="117.5" y1="1161.1" x2="117.5" y2="1158.1" stroke="#333" stroke-width="1" />
<text x="117.5" y="1171.1" font-size="7.5" text-anchor="middle" font-weight="bold" fill="#111" >10</text>
<line x1="153.1" y1="1161.1" x2="153.1" y2="1158.1" stroke="#333" stroke-width="1" />
<text x="153.1" y="1171.1" font-size="7.5" text-anchor="middle" font-weight="bold" fill="#111" >15</text>
<line x1="188.7" y1="1161.1" x2="188.7" y2="1158.1" stroke="#333" stroke-width="1" />
<text x="188.7" y="1171.1" font-size="7.5" text-anchor="middle" font-weight="bold" fill="#111" >20</text>
<line x1="64.2" y1="1161.1" x2="64.2" y2="1159.3" stroke="#333" stroke-width="1" />
<line x1="99.8" y1="1161.1" x2="99.8" y2="1159.3" stroke="#333" stroke-width="1" />
<line x1="135.3" y1="1161.1" x2="135.3" y2="1159.3" stroke="#333" stroke-width="1" />
<line x1="170.9" y1="1161.1" x2="170.9" y2="1159.3" stroke="#333" stroke-width="1" />
<line x1="39.8" y1="1153.6" x2="42.8" y2="1153.6" stroke="#333" stroke-width="1" />
<text x="37.8" y="1156.1" font-size="7.5" text-anchor="end" font-weight="bold" fill="#111" >0</text>
<line x1="39.8" y1="1119.5" x2="42.8" y2="1119.5" stroke="#333" stroke-width="1" />
<text x="37.8" y="1122" font-size="7.5" text-anchor="end" font-weight="bold" fill="#111" >5</text>
<line x1="39.8" y1="1085.5" x2="42.8" y2="1085.5" stroke="#333" stroke-width="1" />
<text x="37.8" y="1088" font-size="7.5" text-anchor="end" font-weight="bold" fill="#111" >10</text>
<line x1="39.8" y1="1051.5" x2="42.8" y2="1051.5" stroke="#333" stroke-width="1" />
<text x="37.8" y="1053.9" font-size="7.5" text-anchor="end" font-weight="bold" fill="#111" >15</text>
<line x1="39.8" y1="1017.4" x2="42.8" y2="1017.4" stroke="#333" stroke-width="1" />
<text x="37.8" y="1019.9" font-size="7.5" text-anchor="end" font-weight="bold" fill="#111" >20</text>
<line x1="39.8" y1="1136.6" x2="41.6" y2="1136.6" stroke="#333" stroke-width="1" />
<line x1="39.8" y1="1102.5" x2="41.6" y2="1102.5" stroke="#333" stroke-width="1" />
<line x1="39.8" y1="1068.5" x2="41.6" y2="1068.5" stroke="#333" stroke-width="1" />
<line x1="39.8" y1="1034.4" x2="41.6" y2="1034.4" stroke="#333" stroke-width="1" />
<line x1="39.8" y1="1000.4" x2="41.6" y2="1000.4" stroke="#333" stroke-width="1" />
<text x="121" y="1181" font-size="9.8" text-anchor="middle" font-weight="bold" fill="#111" >Z' (ohm)</text>
<text transform="translate(25,1075) rotate(-90)" font-size="10" text-anchor="middle" font-weight="bold" fill="#111">-Z'' (ohm)</text>
<polyline points="46.4,1153.6 47.8,1144.7 50.0,1136.6 53.5,1129.8 60.6,1120.9 67.7,1113.4 74.9,1107.3 82.0,1101.8 89.1,1097.1 96.2,1093.0 103.3,1088.9 110.4,1085.5 117.5,1082.1 124.7,1078.7 131.8,1076.0 138.9,1073.2 146.0,1069.8 153.1,1066.4 160.2,1061.7 167.4,1056.2 174.5,1049.4 181.6,1041.2 188.7,1031.0 195.8,1019.4 202.9,1007.2 208.6,1000.4" fill="none" stroke="#d5376a" stroke-width="0.9" stroke-linejoin="round" />
<polyline points="45.0,1153.6 46.4,1150.2 48.5,1146.8 52.1,1141.3 57.1,1137.9 64.2,1135.2 71.3,1132.5 78.4,1128.4 83.4,1123.0 89.1,1115.5 94.8,1105.9 98.3,1099.1 101.9,1089.6 104.7,1080.1 108.3,1067.1 112.6,1052.8 117.5,1035.8 124.7,1017.4 131.8,1000.4" fill="none" stroke="#2b95c3" stroke-width="0.9" stroke-linejoin="round" />
<circle cx="46.4" cy="1153.6" r="2.3" fill="#fff" stroke="#d5376a" stroke-width="0.9"/>
<path d="M44.1 1153.6A2.3 2.3 0 0 1 48.7 1153.6Z" fill="#d5376a" transform="rotate(-30 46.4 1153.6)"/>
<circle cx="46.7" cy="1151.8" r="2.3" fill="#fff" stroke="#d5376a" stroke-width="0.9"/>
<path d="M44.4 1151.8A2.3 2.3 0 0 1 49.0 1151.8Z" fill="#d5376a" transform="rotate(-30 46.7 1151.8)"/>
<circle cx="47.0" cy="1149.8" r="2.3" fill="#fff" stroke="#d5376a" stroke-width="0.9"/>
<path d="M44.7 1149.8A2.3 2.3 0 0 1 49.3 1149.8Z" fill="#d5376a" transform="rotate(-30 47.0 1149.8)"/>
<circle cx="47.4" cy="1147.5" r="2.3" fill="#fff" stroke="#d5376a" stroke-width="0.9"/>
<path d="M45.1 1147.5A2.3 2.3 0 0 1 49.7 1147.5Z" fill="#d5376a" transform="rotate(-30 47.4 1147.5)"/>
<circle cx="47.8" cy="1144.9" r="2.3" fill="#fff" stroke="#d5376a" stroke-width="0.9"/>
<path d="M45.5 1144.9A2.3 2.3 0 0 1 50.1 1144.9Z" fill="#d5376a" transform="rotate(-30 47.8 1144.9)"/>
<circle cx="48.5" cy="1142.1" r="2.3" fill="#fff" stroke="#d5376a" stroke-width="0.9"/>
<path d="M46.2 1142.1A2.3 2.3 0 0 1 50.8 1142.1Z" fill="#d5376a" transform="rotate(-30 48.5 1142.1)"/>
<circle cx="49.4" cy="1138.9" r="2.3" fill="#fff" stroke="#d5376a" stroke-width="0.9"/>
<path d="M47.1 1138.9A2.3 2.3 0 0 1 51.7 1138.9Z" fill="#d5376a" transform="rotate(-30 49.4 1138.9)"/>
<circle cx="50.6" cy="1135.3" r="2.3" fill="#fff" stroke="#d5376a" stroke-width="0.9"/>
<path d="M48.3 1135.3A2.3 2.3 0 0 1 52.9 1135.3Z" fill="#d5376a" transform="rotate(-30 50.6 1135.3)"/>
<circle cx="52.6" cy="1131.6" r="2.3" fill="#fff" stroke="#d5376a" stroke-width="0.9"/>
<path d="M50.3 1131.6A2.3 2.3 0 0 1 54.9 1131.6Z" fill="#d5376a" transform="rotate(-30 52.6 1131.6)"/>
<circle cx="55.3" cy="1127.6" r="2.3" fill="#fff" stroke="#d5376a" stroke-width="0.9"/>
<path d="M53.0 1127.6A2.3 2.3 0 0 1 57.6 1127.6Z" fill="#d5376a" transform="rotate(-30 55.3 1127.6)"/>
<circle cx="58.7" cy="1123.4" r="2.3" fill="#fff" stroke="#d5376a" stroke-width="0.9"/>
<path d="M56.4 1123.4A2.3 2.3 0 0 1 61.0 1123.4Z" fill="#d5376a" transform="rotate(-30 58.7 1123.4)"/>
<circle cx="62.7" cy="1118.7" r="2.3" fill="#fff" stroke="#d5376a" stroke-width="0.9"/>
<path d="M60.4 1118.7A2.3 2.3 0 0 1 65.0 1118.7Z" fill="#d5376a" transform="rotate(-30 62.7 1118.7)"/>
<circle cx="67.5" cy="1113.7" r="2.3" fill="#fff" stroke="#d5376a" stroke-width="0.9"/>
<path d="M65.2 1113.7A2.3 2.3 0 0 1 69.8 1113.7Z" fill="#d5376a" transform="rotate(-30 67.5 1113.7)"/>
<circle cx="73.4" cy="1108.6" r="2.3" fill="#fff" stroke="#d5376a" stroke-width="0.9"/>
<path d="M71.1 1108.6A2.3 2.3 0 0 1 75.7 1108.6Z" fill="#d5376a" transform="rotate(-30 73.4 1108.6)"/>
<circle cx="80.3" cy="1103.1" r="2.3" fill="#fff" stroke="#d5376a" stroke-width="0.9"/>
<path d="M78.0 1103.1A2.3 2.3 0 0 1 82.6 1103.1Z" fill="#d5376a" transform="rotate(-30 80.3 1103.1)"/>
<circle cx="88.1" cy="1097.7" r="2.3" fill="#fff" stroke="#d5376a" stroke-width="0.9"/>
<path d="M85.8 1097.7A2.3 2.3 0 0 1 90.4 1097.7Z" fill="#d5376a" transform="rotate(-30 88.1 1097.7)"/>
<circle cx="96.3" cy="1092.9" r="2.3" fill="#fff" stroke="#d5376a" stroke-width="0.9"/>
<path d="M94.0 1092.9A2.3 2.3 0 0 1 98.6 1092.9Z" fill="#d5376a" transform="rotate(-30 96.3 1092.9)"/>
<circle cx="104.6" cy="1088.3" r="2.3" fill="#fff" stroke="#d5376a" stroke-width="0.9"/>
<path d="M102.3 1088.3A2.3 2.3 0 0 1 106.9 1088.3Z" fill="#d5376a" transform="rotate(-30 104.6 1088.3)"/>
<circle cx="113.2" cy="1084.2" r="2.3" fill="#fff" stroke="#d5376a" stroke-width="0.9"/>
<path d="M110.9 1084.2A2.3 2.3 0 0 1 115.5 1084.2Z" fill="#d5376a" transform="rotate(-30 113.2 1084.2)"/>
<circle cx="121.8" cy="1080.1" r="2.3" fill="#fff" stroke="#d5376a" stroke-width="0.9"/>
<path d="M119.5 1080.1A2.3 2.3 0 0 1 124.1 1080.1Z" fill="#d5376a" transform="rotate(-30 121.8 1080.1)"/>
<circle cx="130.5" cy="1076.4" r="2.3" fill="#fff" stroke="#d5376a" stroke-width="0.9"/>
<path d="M128.2 1076.4A2.3 2.3 0 0 1 132.8 1076.4Z" fill="#d5376a" transform="rotate(-30 130.5 1076.4)"/>
<circle cx="139.4" cy="1073.0" r="2.3" fill="#fff" stroke="#d5376a" stroke-width="0.9"/>
<path d="M137.1 1073.0A2.3 2.3 0 0 1 141.7 1073.0Z" fill="#d5376a" transform="rotate(-30 139.4 1073.0)"/>
<circle cx="148.0" cy="1068.9" r="2.3" fill="#fff" stroke="#d5376a" stroke-width="0.9"/>
<path d="M145.7 1068.9A2.3 2.3 0 0 1 150.3 1068.9Z" fill="#d5376a" transform="rotate(-30 148.0 1068.9)"/>
<circle cx="156.3" cy="1064.3" r="2.3" fill="#fff" stroke="#d5376a" stroke-width="0.9"/>
<path d="M154.0 1064.3A2.3 2.3 0 0 1 158.6 1064.3Z" fill="#d5376a" transform="rotate(-30 156.3 1064.3)"/>
<circle cx="164.0" cy="1058.8" r="2.3" fill="#fff" stroke="#d5376a" stroke-width="0.9"/>
<path d="M161.7 1058.8A2.3 2.3 0 0 1 166.3 1058.8Z" fill="#d5376a" transform="rotate(-30 164.0 1058.8)"/>
<circle cx="171.2" cy="1052.6" r="2.3" fill="#fff" stroke="#d5376a" stroke-width="0.9"/>
<path d="M168.9 1052.6A2.3 2.3 0 0 1 173.5 1052.6Z" fill="#d5376a" transform="rotate(-30 171.2 1052.6)"/>
<circle cx="177.7" cy="1045.7" r="2.3" fill="#fff" stroke="#d5376a" stroke-width="0.9"/>
<path d="M175.4 1045.7A2.3 2.3 0 0 1 180.0 1045.7Z" fill="#d5376a" transform="rotate(-30 177.7 1045.7)"/>
<circle cx="183.6" cy="1038.3" r="2.3" fill="#fff" stroke="#d5376a" stroke-width="0.9"/>
<path d="M181.3 1038.3A2.3 2.3 0 0 1 185.9 1038.3Z" fill="#d5376a" transform="rotate(-30 183.6 1038.3)"/>
<circle cx="189.0" cy="1030.5" r="2.3" fill="#fff" stroke="#d5376a" stroke-width="0.9"/>
<path d="M186.7 1030.5A2.3 2.3 0 0 1 191.3 1030.5Z" fill="#d5376a" transform="rotate(-30 189.0 1030.5)"/>
<circle cx="194.0" cy="1022.4" r="2.3" fill="#fff" stroke="#d5376a" stroke-width="0.9"/>
<path d="M191.7 1022.4A2.3 2.3 0 0 1 196.3 1022.4Z" fill="#d5376a" transform="rotate(-30 194.0 1022.4)"/>
<circle cx="198.8" cy="1014.2" r="2.3" fill="#fff" stroke="#d5376a" stroke-width="0.9"/>
<path d="M196.5 1014.2A2.3 2.3 0 0 1 201.1 1014.2Z" fill="#d5376a" transform="rotate(-30 198.8 1014.2)"/>
<circle cx="203.8" cy="1006.1" r="2.3" fill="#fff" stroke="#d5376a" stroke-width="0.9"/>
<path d="M201.5 1006.1A2.3 2.3 0 0 1 206.1 1006.1Z" fill="#d5376a" transform="rotate(-30 203.8 1006.1)"/>
<circle cx="45.0" cy="1153.6" r="2.3" fill="#fff" stroke="#2b95c3" stroke-width="0.9"/>
<path d="M42.7 1153.6A2.3 2.3 0 0 1 47.3 1153.6Z" fill="#2b95c3" transform="rotate(-30 45.0 1153.6)"/>
<circle cx="45.7" cy="1151.9" r="2.3" fill="#fff" stroke="#2b95c3" stroke-width="0.9"/>
<path d="M43.4 1151.9A2.3 2.3 0 0 1 48.0 1151.9Z" fill="#2b95c3" transform="rotate(-30 45.7 1151.9)"/>
<circle cx="46.5" cy="1150.1" r="2.3" fill="#fff" stroke="#2b95c3" stroke-width="0.9"/>
<path d="M44.2 1150.1A2.3 2.3 0 0 1 48.8 1150.1Z" fill="#2b95c3" transform="rotate(-30 46.5 1150.1)"/>
<circle cx="47.7" cy="1148.1" r="2.3" fill="#fff" stroke="#2b95c3" stroke-width="0.9"/>
<path d="M45.4 1148.1A2.3 2.3 0 0 1 50.0 1148.1Z" fill="#2b95c3" transform="rotate(-30 47.7 1148.1)"/>
<circle cx="49.1" cy="1145.9" r="2.3" fill="#fff" stroke="#2b95c3" stroke-width="0.9"/>
<path d="M46.8 1145.9A2.3 2.3 0 0 1 51.4 1145.9Z" fill="#2b95c3" transform="rotate(-30 49.1 1145.9)"/>
<circle cx="50.7" cy="1143.4" r="2.3" fill="#fff" stroke="#2b95c3" stroke-width="0.9"/>
<path d="M48.4 1143.4A2.3 2.3 0 0 1 53.0 1143.4Z" fill="#2b95c3" transform="rotate(-30 50.7 1143.4)"/>
<circle cx="52.8" cy="1140.9" r="2.3" fill="#fff" stroke="#2b95c3" stroke-width="0.9"/>
<path d="M50.5 1140.9A2.3 2.3 0 0 1 55.1 1140.9Z" fill="#2b95c3" transform="rotate(-30 52.8 1140.9)"/>
<circle cx="55.9" cy="1138.7" r="2.3" fill="#fff" stroke="#2b95c3" stroke-width="0.9"/>
<path d="M53.6 1138.7A2.3 2.3 0 0 1 58.2 1138.7Z" fill="#2b95c3" transform="rotate(-30 55.9 1138.7)"/>
<circle cx="59.7" cy="1136.9" r="2.3" fill="#fff" stroke="#2b95c3" stroke-width="0.9"/>
<path d="M57.4 1136.9A2.3 2.3 0 0 1 62.0 1136.9Z" fill="#2b95c3" transform="rotate(-30 59.7 1136.9)"/>
<circle cx="64.2" cy="1135.2" r="2.3" fill="#fff" stroke="#2b95c3" stroke-width="0.9"/>
<path d="M61.9 1135.2A2.3 2.3 0 0 1 66.5 1135.2Z" fill="#2b95c3" transform="rotate(-30 64.2 1135.2)"/>
<circle cx="69.3" cy="1133.3" r="2.3" fill="#fff" stroke="#2b95c3" stroke-width="0.9"/>
<path d="M67.0 1133.3A2.3 2.3 0 0 1 71.6 1133.3Z" fill="#2b95c3" transform="rotate(-30 69.3 1133.3)"/>
<circle cx="74.7" cy="1130.5" r="2.3" fill="#fff" stroke="#2b95c3" stroke-width="0.9"/>
<path d="M72.4 1130.5A2.3 2.3 0 0 1 77.0 1130.5Z" fill="#2b95c3" transform="rotate(-30 74.7 1130.5)"/>
<circle cx="80.2" cy="1126.4" r="2.3" fill="#fff" stroke="#2b95c3" stroke-width="0.9"/>
<path d="M77.9 1126.4A2.3 2.3 0 0 1 82.5 1126.4Z" fill="#2b95c3" transform="rotate(-30 80.2 1126.4)"/>
<circle cx="85.3" cy="1120.5" r="2.3" fill="#fff" stroke="#2b95c3" stroke-width="0.9"/>
<path d="M83.0 1120.5A2.3 2.3 0 0 1 87.6 1120.5Z" fill="#2b95c3" transform="rotate(-30 85.3 1120.5)"/>
<circle cx="90.4" cy="1113.2" r="2.3" fill="#fff" stroke="#2b95c3" stroke-width="0.9"/>
<path d="M88.1 1113.2A2.3 2.3 0 0 1 92.7 1113.2Z" fill="#2b95c3" transform="rotate(-30 90.4 1113.2)"/>
<circle cx="95.5" cy="1104.6" r="2.3" fill="#fff" stroke="#2b95c3" stroke-width="0.9"/>
<path d="M93.2 1104.6A2.3 2.3 0 0 1 97.8 1104.6Z" fill="#2b95c3" transform="rotate(-30 95.5 1104.6)"/>
<circle cx="100.1" cy="1094.3" r="2.3" fill="#fff" stroke="#2b95c3" stroke-width="0.9"/>
<path d="M97.8 1094.3A2.3 2.3 0 0 1 102.4 1094.3Z" fill="#2b95c3" transform="rotate(-30 100.1 1094.3)"/>
<circle cx="103.9" cy="1082.9" r="2.3" fill="#fff" stroke="#2b95c3" stroke-width="0.9"/>
<path d="M101.6 1082.9A2.3 2.3 0 0 1 106.2 1082.9Z" fill="#2b95c3" transform="rotate(-30 103.9 1082.9)"/>
<circle cx="107.1" cy="1071.4" r="2.3" fill="#fff" stroke="#2b95c3" stroke-width="0.9"/>
<path d="M104.8 1071.4A2.3 2.3 0 0 1 109.4 1071.4Z" fill="#2b95c3" transform="rotate(-30 107.1 1071.4)"/>
<circle cx="110.5" cy="1059.9" r="2.3" fill="#fff" stroke="#2b95c3" stroke-width="0.9"/>
<path d="M108.2 1059.9A2.3 2.3 0 0 1 112.8 1059.9Z" fill="#2b95c3" transform="rotate(-30 110.5 1059.9)"/>
<circle cx="113.9" cy="1048.4" r="2.3" fill="#fff" stroke="#2b95c3" stroke-width="0.9"/>
<path d="M111.6 1048.4A2.3 2.3 0 0 1 116.2 1048.4Z" fill="#2b95c3" transform="rotate(-30 113.9 1048.4)"/>
<circle cx="117.2" cy="1036.8" r="2.3" fill="#fff" stroke="#2b95c3" stroke-width="0.9"/>
<path d="M114.9 1036.8A2.3 2.3 0 0 1 119.5 1036.8Z" fill="#2b95c3" transform="rotate(-30 117.2 1036.8)"/>
<circle cx="121.5" cy="1025.6" r="2.3" fill="#fff" stroke="#2b95c3" stroke-width="0.9"/>
<path d="M119.2 1025.6A2.3 2.3 0 0 1 123.8 1025.6Z" fill="#2b95c3" transform="rotate(-30 121.5 1025.6)"/>
<circle cx="125.9" cy="1014.5" r="2.3" fill="#fff" stroke="#2b95c3" stroke-width="0.9"/>
<path d="M123.6 1014.5A2.3 2.3 0 0 1 128.2 1014.5Z" fill="#2b95c3" transform="rotate(-30 125.9 1014.5)"/>
<circle cx="130.5" cy="1003.4" r="2.3" fill="#fff" stroke="#2b95c3" stroke-width="0.9"/>
<path d="M128.2 1003.4A2.3 2.3 0 0 1 132.8 1003.4Z" fill="#2b95c3" transform="rotate(-30 130.5 1003.4)"/>
<circle cx="135.8" cy="992.6" r="2.3" fill="#fff" stroke="#2b95c3" stroke-width="0.9"/>
<path d="M133.5 992.6A2.3 2.3 0 0 1 138.1 992.6Z" fill="#2b95c3" transform="rotate(-30 135.8 992.6)"/>
<line x1="46" y1="999" x2="64" y2="999" stroke="#d5376a" stroke-width="0.9" />
<circle cx="55.0" cy="999.0" r="2.3" fill="#fff" stroke="#d5376a" stroke-width="0.9"/>
<path d="M52.7 999.0A2.3 2.3 0 0 1 57.3 999.0Z" fill="#d5376a" transform="rotate(-30 55.0 999.0)"/>
<text x="66" y="1001.8" font-size="8" text-anchor="start" font-weight="bold" fill="#111" >CdS</text>
<line x1="46" y1="1009.5" x2="64" y2="1009.5" stroke="#2b95c3" stroke-width="0.9" />
<circle cx="55.0" cy="1009.5" r="2.3" fill="#fff" stroke="#2b95c3" stroke-width="0.9"/>
<path d="M52.7 1009.5A2.3 2.3 0 0 1 57.3 1009.5Z" fill="#2b95c3" transform="rotate(-30 55.0 1009.5)"/>
<text x="66" y="1012.3" font-size="8" text-anchor="start" font-weight="bold" fill="#111" >N<tspan font-size="5" dy="1.5">0.2</tspan><tspan dy="-1.5">-CdS</tspan></text>
<text x="204" y="1004" font-size="11" text-anchor="end" font-weight="bold" fill="#e02535" >illumination</text>
<g stroke="#444" stroke-width="0.6" fill="none">
<line x1="124" y1="1143.5" x2="140" y2="1143.5" stroke="#444" stroke-width="0.6" />
<polyline points="135,1143.5 136,1141.5 137.5,1145.5 139,1141.5 140.5,1145.5 142,1141.5 143,1143.5" />
<line x1="143" y1="1143.5" x2="150" y2="1143.5" stroke="#444" stroke-width="0.6" />
<rect x="150" y="1138.5" width="37" height="10" fill="none" stroke="#444" stroke-width="0.6" />
<line x1="187" y1="1143.5" x2="205" y2="1143.5" stroke="#444" stroke-width="0.6" />
<line x1="168" y1="1136" x2="168" y2="1141" stroke="#444" stroke-width="0.6" />
<line x1="170" y1="1136" x2="170" y2="1141" stroke="#444" stroke-width="0.6" />
<polyline points="158,1148.5 159,1146.5 160.5,1150.5 162,1146.5 163.5,1150.5 165,1146.5 166,1148.5" />
<rect x="174" y="1147" width="6" height="3"/>
</g>
<text x="141" y="1138" font-size="4" text-anchor="middle" font-weight="bold" fill="#333" >R<tspan font-size="2.5">s</tspan></text>
<text x="169" y="1133" font-size="4" text-anchor="middle" font-weight="bold" fill="#333" >C<tspan font-size="2.5">d</tspan></text>
<text x="162" y="1145" font-size="4" text-anchor="middle" font-weight="bold" fill="#333" >R<tspan font-size="2.5">ct</tspan></text>
<text x="177" y="1145" font-size="4" text-anchor="middle" font-weight="bold" fill="#333" >W</text>
<text x="9" y="1003.5" font-size="21" text-anchor="start" font-weight="bold" fill="#000" >(g)</text>
<rect x="254.8" y="988.5" width="171.8" height="172.6" fill="none" stroke="#333" stroke-width="1" />
<line x1="289" y1="1161.1" x2="289" y2="1158.1" stroke="#333" stroke-width="1" />
<text x="289" y="1171.1" font-size="7.5" text-anchor="middle" font-weight="bold" fill="#111" >-1.5</text>
<line x1="323.2" y1="1161.1" x2="323.2" y2="1158.1" stroke="#333" stroke-width="1" />
<text x="323.2" y="1171.1" font-size="7.5" text-anchor="middle" font-weight="bold" fill="#111" >-1.0</text>
<line x1="357.4" y1="1161.1" x2="357.4" y2="1158.1" stroke="#333" stroke-width="1" />
<text x="357.4" y="1171.1" font-size="7.5" text-anchor="middle" font-weight="bold" fill="#111" >-0.5</text>
<line x1="391.6" y1="1161.1" x2="391.6" y2="1158.1" stroke="#333" stroke-width="1" />
<text x="391.6" y="1171.1" font-size="7.5" text-anchor="middle" font-weight="bold" fill="#111" >0.0</text>
<line x1="425.8" y1="1161.1" x2="425.8" y2="1158.1" stroke="#333" stroke-width="1" />
<text x="425.8" y="1171.1" font-size="7.5" text-anchor="middle" font-weight="bold" fill="#111" >0.5</text>
<line x1="271.9" y1="1161.1" x2="271.9" y2="1159.3" stroke="#333" stroke-width="1" />
<line x1="306.1" y1="1161.1" x2="306.1" y2="1159.3" stroke="#333" stroke-width="1" />
<line x1="340.3" y1="1161.1" x2="340.3" y2="1159.3" stroke="#333" stroke-width="1" />
<line x1="374.5" y1="1161.1" x2="374.5" y2="1159.3" stroke="#333" stroke-width="1" />
<line x1="408.7" y1="1161.1" x2="408.7" y2="1159.3" stroke="#333" stroke-width="1" />
<line x1="254.8" y1="1160.1" x2="257.8" y2="1160.1" stroke="#333" stroke-width="1" />
<text x="252.8" y="1162.6" font-size="7.5" text-anchor="end" font-weight="bold" fill="#111" >0</text>
<line x1="254.8" y1="1091.6" x2="257.8" y2="1091.6" stroke="#333" stroke-width="1" />
<text x="252.8" y="1094.1" font-size="7.5" text-anchor="end" font-weight="bold" fill="#111" >1</text>
<line x1="254.8" y1="1023.2" x2="257.8" y2="1023.2" stroke="#333" stroke-width="1" />
<text x="252.8" y="1025.7" font-size="7.5" text-anchor="end" font-weight="bold" fill="#111" >2</text>
<line x1="254.8" y1="1125.9" x2="256.6" y2="1125.9" stroke="#333" stroke-width="1" />
<line x1="254.8" y1="1057.4" x2="256.6" y2="1057.4" stroke="#333" stroke-width="1" />
<line x1="254.8" y1="989" x2="256.6" y2="989" stroke="#333" stroke-width="1" />
<text x="340" y="1181" font-size="9.8" text-anchor="middle" font-weight="bold" fill="#111" >Potential (V)</text>
<text transform="translate(245,1075) rotate(-90)" font-size="10" text-anchor="middle" font-weight="bold" fill="#111">1/C<tspan font-size="6" dy="-3">2</tspan><tspan dy="3">(10</tspan><tspan font-size="6" dy="-3">5</tspan><tspan dy="3">·cm</tspan><tspan font-size="6" dy="-3">2</tspan><tspan dy="3">·F</tspan><tspan font-size="6" dy="-3">-4</tspan><tspan dy="3">)</tspan></text>
<line x1="262.3" y1="1160.1" x2="391.6" y2="1028" stroke="#d5376a" stroke-width="0.8" />
<path d="M391.6 1028.0h0M392.6 1026.3h0M393.6 1024.7h0M394.6 1023.1h0M395.6 1021.5h0M396.6 1020.0h0M397.6 1018.5h0M398.6 1017.0h0M399.6 1015.6h0M400.7 1014.2h0M401.7 1012.8h0M402.7 1011.4h0M403.7 1010.1h0M404.7 1008.9h0M405.7 1007.6h0M406.7 1006.4h0M407.7 1005.3h0M408.7 1004.1h0M409.7 1003.1h0M410.7 1002.0h0M411.7 1001.0h0M412.7 1000.0h0M413.7 999.1h0M414.7 998.2h0M415.7 997.4h0M416.7 996.6h0M417.8 995.9h0M418.8 995.2h0M419.8 994.6h0M420.8 994.1h0M421.8 993.6h0M422.8 993.1h0M423.8 992.8h0M424.8 992.5h0M425.8 992.4h0" stroke="#d5376a" stroke-width="3.8" stroke-linecap="round"/>
<line x1="262.3" y1="1160.1" x2="391.6" y2="1072.5" stroke="#d5376a" stroke-width="0.8" />
<path d="M389.5 1074.0l2.1 -3.6l2.1 3.6zM390.5 1073.1l2.1 -3.6l2.1 3.6zM391.5 1072.1l2.1 -3.6l2.1 3.6zM392.5 1071.3l2.1 -3.6l2.1 3.6zM393.5 1070.4l2.1 -3.6l2.1 3.6zM394.5 1069.5l2.1 -3.6l2.1 3.6zM395.5 1068.7l2.1 -3.6l2.1 3.6zM396.5 1067.9l2.1 -3.6l2.1 3.6zM397.5 1067.1l2.1 -3.6l2.1 3.6zM398.6 1066.3l2.1 -3.6l2.1 3.6zM399.6 1065.5l2.1 -3.6l2.1 3.6zM400.6 1064.8l2.1 -3.6l2.1 3.6zM401.6 1064.0l2.1 -3.6l2.1 3.6zM402.6 1063.3l2.1 -3.6l2.1 3.6zM403.6 1062.6l2.1 -3.6l2.1 3.6zM404.6 1062.0l2.1 -3.6l2.1 3.6zM405.6 1061.3l2.1 -3.6l2.1 3.6zM406.6 1060.7l2.1 -3.6l2.1 3.6zM407.6 1060.1l2.1 -3.6l2.1 3.6zM408.6 1059.5l2.1 -3.6l2.1 3.6zM409.6 1058.9l2.1 -3.6l2.1 3.6zM410.6 1058.4l2.1 -3.6l2.1 3.6zM411.6 1057.9l2.1 -3.6l2.1 3.6zM412.6 1057.4l2.1 -3.6l2.1 3.6zM413.6 1056.9l2.1 -3.6l2.1 3.6zM414.6 1056.5l2.1 -3.6l2.1 3.6zM415.7 1056.1l2.1 -3.6l2.1 3.6zM416.7 1055.7l2.1 -3.6l2.1 3.6zM417.7 1055.4l2.1 -3.6l2.1 3.6zM418.7 1055.1l2.1 -3.6l2.1 3.6zM419.7 1054.8l2.1 -3.6l2.1 3.6zM420.7 1054.5l2.1 -3.6l2.1 3.6zM421.7 1054.3l2.1 -3.6l2.1 3.6zM422.7 1054.2l2.1 -3.6l2.1 3.6zM423.7 1054.1l2.1 -3.6l2.1 3.6z" fill="#d5376a"/>
<line x1="279.4" y1="1160.1" x2="391.6" y2="1110.1" stroke="#2b95c3" stroke-width="0.8" />
<path d="M391.6 1110.1h0M392.6 1109.5h0M393.6 1108.9h0M394.6 1108.3h0M395.6 1107.6h0M396.6 1107.1h0M397.6 1106.5h0M398.6 1105.9h0M399.6 1105.4h0M400.7 1104.8h0M401.7 1104.3h0M402.7 1103.8h0M403.7 1103.3h0M404.7 1102.8h0M405.7 1102.3h0M406.7 1101.8h0M407.7 1101.4h0M408.7 1101.0h0M409.7 1100.5h0M410.7 1100.1h0M411.7 1099.8h0M412.7 1099.4h0M413.7 1099.0h0M414.7 1098.7h0M415.7 1098.4h0M416.7 1098.1h0M417.8 1097.8h0M418.8 1097.5h0M419.8 1097.3h0M420.8 1097.1h0M421.8 1096.9h0M422.8 1096.7h0M423.8 1096.6h0M424.8 1096.5h0M425.8 1096.4h0" stroke="#2b95c3" stroke-width="3.8" stroke-linecap="round"/>
<line x1="279.4" y1="1160.1" x2="391.6" y2="1124.5" stroke="#2b95c3" stroke-width="0.8" />
<path d="M389.5 1126.0l2.1 -3.6l2.1 3.6zM390.5 1125.6l2.1 -3.6l2.1 3.6zM391.5 1125.2l2.1 -3.6l2.1 3.6zM392.5 1124.9l2.1 -3.6l2.1 3.6zM393.5 1124.5l2.1 -3.6l2.1 3.6zM394.5 1124.2l2.1 -3.6l2.1 3.6zM395.5 1123.8l2.1 -3.6l2.1 3.6zM396.5 1123.5l2.1 -3.6l2.1 3.6zM397.5 1123.1l2.1 -3.6l2.1 3.6zM398.6 1122.8l2.1 -3.6l2.1 3.6zM399.6 1122.5l2.1 -3.6l2.1 3.6zM400.6 1122.2l2.1 -3.6l2.1 3.6zM401.6 1121.9l2.1 -3.6l2.1 3.6zM402.6 1121.6l2.1 -3.6l2.1 3.6zM403.6 1121.3l2.1 -3.6l2.1 3.6zM404.6 1121.0l2.1 -3.6l2.1 3.6zM405.6 1120.8l2.1 -3.6l2.1 3.6zM406.6 1120.5l2.1 -3.6l2.1 3.6zM407.6 1120.3l2.1 -3.6l2.1 3.6zM408.6 1120.0l2.1 -3.6l2.1 3.6zM409.6 1119.8l2.1 -3.6l2.1 3.6zM410.6 1119.6l2.1 -3.6l2.1 3.6zM411.6 1119.3l2.1 -3.6l2.1 3.6zM412.6 1119.1l2.1 -3.6l2.1 3.6zM413.6 1119.0l2.1 -3.6l2.1 3.6zM414.6 1118.8l2.1 -3.6l2.1 3.6zM415.7 1118.6l2.1 -3.6l2.1 3.6zM416.7 1118.4l2.1 -3.6l2.1 3.6zM417.7 1118.3l2.1 -3.6l2.1 3.6zM418.7 1118.2l2.1 -3.6l2.1 3.6zM419.7 1118.1l2.1 -3.6l2.1 3.6zM420.7 1118.0l2.1 -3.6l2.1 3.6zM421.7 1117.9l2.1 -3.6l2.1 3.6zM422.7 1117.8l2.1 -3.6l2.1 3.6zM423.7 1117.8l2.1 -3.6l2.1 3.6z" fill="#2b95c3"/>
<line x1="262.3" y1="1160.1" x2="262.3" y2="1122.5" stroke="#d5376a" stroke-width="0.9" />
<polygon points="260.5,1125.5 264.1,1125.5 262.3,1121.5" fill="#d5376a"/>
<line x1="279.4" y1="1160.1" x2="279.4" y2="1137.5" stroke="#2b95c3" stroke-width="0.9" />
<polygon points="277.6,1140.5 281.2,1140.5 279.4,1136.5" fill="#2b95c3"/>
<text x="256.5" y="1114" font-size="8" text-anchor="start" font-weight="bold" fill="#d5376a" >-1.89 V</text>
<text x="265.5" y="1131" font-size="8" text-anchor="start" font-weight="bold" fill="#2b95c3" >-1.64 V</text>
<circle cx="265.5" cy="996.0" r="2.0" fill="#d5376a" stroke="none" stroke-width="1" />
<text x="276.5" y="998.7" font-size="7.5" text-anchor="start" font-weight="bold" fill="#111" >CdS</text>
<text x="309.5" y="998.7" font-size="7.5" text-anchor="start" font-weight="bold" fill="#111" >1500 Hz</text>
<polygon points="263.4,1007.9 267.6,1007.9 265.5,1004.2" fill="#d5376a"/>
<text x="276.5" y="1009" font-size="7.5" text-anchor="start" font-weight="bold" fill="#111" >CdS</text>
<text x="309.5" y="1009" font-size="7.5" text-anchor="start" font-weight="bold" fill="#111" >2000 Hz</text>
<circle cx="265.5" cy="1016.6" r="2.0" fill="#2b95c3" stroke="none" stroke-width="1" />
<text x="276.5" y="1019.3" font-size="7.5" text-anchor="start" font-weight="bold" fill="#111" >N<tspan font-size="5" dy="1.5">0.2</tspan><tspan dy="-1.5">-CdS</tspan></text>
<text x="309.5" y="1019.3" font-size="7.5" text-anchor="start" font-weight="bold" fill="#111" >1500 Hz</text>
<polygon points="263.4,1028.5 267.6,1028.5 265.5,1024.8" fill="#2b95c3"/>
<text x="276.5" y="1029.6" font-size="7.5" text-anchor="start" font-weight="bold" fill="#111" >N<tspan font-size="5" dy="1.5">0.2</tspan><tspan dy="-1.5">-CdS</tspan></text>
<text x="309.5" y="1029.6" font-size="7.5" text-anchor="start" font-weight="bold" fill="#111" >2000 Hz</text>
<text x="223.5" y="1001.5" font-size="21" text-anchor="start" font-weight="bold" fill="#000" >(h)</text>
<rect x="469.1" y="989.9" width="170.3" height="170.1" fill="none" stroke="#333" stroke-width="1" />
<line x1="469.1" y1="1160" x2="469.1" y2="1157" stroke="#333" stroke-width="1" />
<text x="469.1" y="1170" font-size="7.5" text-anchor="middle" font-weight="bold" fill="#111" >2.1</text>
<line x1="512.5" y1="1160" x2="512.5" y2="1157" stroke="#333" stroke-width="1" />
<text x="512.5" y="1170" font-size="7.5" text-anchor="middle" font-weight="bold" fill="#111" >2.2</text>
<line x1="555.9" y1="1160" x2="555.9" y2="1157" stroke="#333" stroke-width="1" />
<text x="555.9" y="1170" font-size="7.5" text-anchor="middle" font-weight="bold" fill="#111" >2.3</text>
<line x1="599.3" y1="1160" x2="599.3" y2="1157" stroke="#333" stroke-width="1" />
<text x="599.3" y="1170" font-size="7.5" text-anchor="middle" font-weight="bold" fill="#111" >2.4</text>
<line x1="490.8" y1="1160" x2="490.8" y2="1158.2" stroke="#333" stroke-width="1" />
<line x1="534.2" y1="1160" x2="534.2" y2="1158.2" stroke="#333" stroke-width="1" />
<line x1="577.6" y1="1160" x2="577.6" y2="1158.2" stroke="#333" stroke-width="1" />
<line x1="621" y1="1160" x2="621" y2="1158.2" stroke="#333" stroke-width="1" />
<line x1="469.1" y1="1138.7" x2="472.1" y2="1138.7" stroke="#333" stroke-width="1" />
<text x="467.1" y="1141.2" font-size="7.5" text-anchor="end" font-weight="bold" fill="#111" >0</text>
<line x1="469.1" y1="1096.3" x2="472.1" y2="1096.3" stroke="#333" stroke-width="1" />
<text x="467.1" y="1098.7" font-size="7.5" text-anchor="end" font-weight="bold" fill="#111" >4</text>
<line x1="469.1" y1="1053.8" x2="472.1" y2="1053.8" stroke="#333" stroke-width="1" />
<text x="467.1" y="1056.3" font-size="7.5" text-anchor="end" font-weight="bold" fill="#111" >8</text>
<line x1="469.1" y1="1011.4" x2="472.1" y2="1011.4" stroke="#333" stroke-width="1" />
<text x="467.1" y="1013.9" font-size="7.5" text-anchor="end" font-weight="bold" fill="#111" >12</text>
<line x1="469.1" y1="1159.9" x2="470.9" y2="1159.9" stroke="#333" stroke-width="1" />
<line x1="469.1" y1="1117.5" x2="470.9" y2="1117.5" stroke="#333" stroke-width="1" />
<line x1="469.1" y1="1075" x2="470.9" y2="1075" stroke="#333" stroke-width="1" />
<line x1="469.1" y1="1032.6" x2="470.9" y2="1032.6" stroke="#333" stroke-width="1" />
<text x="555" y="1181" font-size="9.8" text-anchor="middle" font-weight="bold" fill="#111" >hν (eV)</text>
<text transform="translate(456,1078) rotate(-90)" font-size="10" text-anchor="middle" font-weight="bold" fill="#111">(αhν)<tspan font-size="6" dy="-3">2</tspan></text>
<polyline points="469.1,1138.7 470.2,1138.5 471.2,1138.9 472.3,1138.5 473.4,1138.3 474.4,1138.5 475.5,1138.0 476.6,1139.0 477.6,1138.6 478.7,1138.9 479.7,1138.9 480.8,1138.7 481.9,1138.5 482.9,1138.4 484.0,1138.3 485.1,1137.6 486.1,1138.1 487.2,1139.1 488.3,1138.4 489.3,1138.7 490.4,1138.6 491.5,1137.8 492.5,1138.4 493.6,1139.1 494.6,1138.1 495.7,1138.3 496.8,1138.6 497.8,1138.4 498.9,1138.2 500.0,1137.9 501.0,1138.0 502.1,1137.7 503.2,1136.8 504.2,1137.8 505.3,1137.7 506.4,1137.4 507.4,1136.7 508.5,1137.3 509.6,1136.3 510.6,1137.4 511.7,1137.1 512.7,1136.6 513.8,1136.8 514.9,1136.5 515.9,1135.9 517.0,1135.7 518.1,1135.8 519.1,1135.8 520.2,1134.9 521.3,1135.1 522.3,1135.2 523.4,1134.4 524.5,1135.1 525.5,1134.4 526.6,1134.0 527.6,1134.0 528.7,1134.0 529.8,1133.4 530.8,1133.5 531.9,1133.2 533.0,1133.1 534.0,1131.8 535.1,1132.3 536.2,1131.2 537.2,1131.2 538.3,1131.0 539.4,1130.2 540.4,1129.9 541.5,1129.4 542.6,1129.5 543.6,1128.3 544.7,1127.3 545.7,1126.8 546.8,1125.8 547.9,1124.8 548.9,1124.3 550.0,1122.4 551.1,1122.6 552.1,1120.7 553.2,1120.2 554.3,1117.3 555.3,1116.1 556.4,1114.0 557.5,1113.4 558.5,1112.6 559.6,1109.7 560.6,1109.3 561.7,1107.7 562.8,1105.6 563.8,1103.6 564.9,1102.3 566.0,1100.2 567.0,1099.2 568.1,1095.6 569.2,1094.4 570.2,1092.3 571.3,1090.1 572.4,1088.3 573.4,1086.3 574.5,1085.0 575.6,1082.8 576.6,1080.8 577.7,1078.7 578.7,1077.4 579.8,1075.5 580.9,1073.6 581.9,1071.6 583.0,1069.9 584.1,1068.1 585.1,1066.3 586.2,1063.6 587.3,1062.0 588.3,1060.1 589.4,1056.7 590.5,1055.9 591.5,1054.0 592.6,1052.4 593.6,1051.0 594.7,1048.2 595.8,1046.9 596.8,1045.0 597.9,1042.8 599.0,1041.2 600.0,1039.9 601.1,1038.4 602.2,1036.0 603.2,1035.1 604.3,1034.3 605.4,1032.2 606.4,1031.1 607.5,1029.9 608.6,1028.6 609.6,1027.7 610.7,1026.0 611.7,1025.8 612.8,1024.9 613.9,1023.7 614.9,1023.6 616.0,1022.1 617.1,1021.7 618.1,1020.4 619.2,1020.4 620.3,1019.1 621.3,1019.2 622.4,1017.9 623.5,1017.0 624.5,1016.0 625.6,1014.6 626.7,1014.0 627.7,1014.6 628.8,1013.6 629.8,1012.0 630.9,1011.7 632.0,1011.8 633.0,1010.3 634.1,1010.3 635.2,1009.5 636.2,1009.0 637.3,1007.9 638.4,1006.2" fill="none" stroke="#d5376a" stroke-width="1.0" stroke-linejoin="round" />
<polyline points="469.1,1138.5 470.2,1138.7 471.2,1137.6 472.3,1138.9 473.4,1138.8 474.4,1138.8 475.5,1138.5 476.6,1138.8 477.6,1138.1 478.7,1138.8 479.7,1138.5 480.8,1138.6 481.9,1139.1 482.9,1139.1 484.0,1138.7 485.1,1139.7 486.1,1138.7 487.2,1138.7 488.3,1138.6 489.3,1138.7 490.4,1138.5 491.5,1138.8 492.5,1138.4 493.6,1139.4 494.6,1138.3 495.7,1139.1 496.8,1138.5 497.8,1138.9 498.9,1138.9 500.0,1139.0 501.0,1138.1 502.1,1139.2 503.2,1139.2 504.2,1138.6 505.3,1138.6 506.4,1138.6 507.4,1139.0 508.5,1138.9 509.6,1138.2 510.6,1138.9 511.7,1138.2 512.7,1138.0 513.8,1138.2 514.9,1138.7 515.9,1137.3 517.0,1138.0 518.1,1137.8 519.1,1138.0 520.2,1138.1 521.3,1137.7 522.3,1137.4 523.4,1137.8 524.5,1137.2 525.5,1136.6 526.6,1136.8 527.6,1136.9 528.7,1136.2 529.8,1136.1 530.8,1135.9 531.9,1136.4 533.0,1136.6 534.0,1135.2 535.1,1135.3 536.2,1135.2 537.2,1134.6 538.3,1134.7 539.4,1134.5 540.4,1133.1 541.5,1134.2 542.6,1132.8 543.6,1132.4 544.7,1131.6 545.7,1131.8 546.8,1131.2 547.9,1131.3 548.9,1130.3 550.0,1130.7 551.1,1129.4 552.1,1128.5 553.2,1127.9 554.3,1127.3 555.3,1125.9 556.4,1126.3 557.5,1124.5 558.5,1123.6 559.6,1122.1 560.6,1120.7 561.7,1118.4 562.8,1118.2 563.8,1115.8 564.9,1114.3 566.0,1113.6 567.0,1112.5 568.1,1111.3 569.2,1109.8 570.2,1107.1 571.3,1107.4 572.4,1104.8 573.4,1103.7 574.5,1101.1 575.6,1100.1 576.6,1099.1 577.7,1097.0 578.7,1095.0 579.8,1093.3 580.9,1092.0 581.9,1090.0 583.0,1088.4 584.1,1086.3 585.1,1084.7 586.2,1083.0 587.3,1081.7 588.3,1079.4 589.4,1078.3 590.5,1076.7 591.5,1074.8 592.6,1073.1 593.6,1071.3 594.7,1070.2 595.8,1067.1 596.8,1065.7 597.9,1063.8 599.0,1062.9 600.0,1061.0 601.1,1059.8 602.2,1058.5 603.2,1056.4 604.3,1056.2 605.4,1054.4 606.4,1054.2 607.5,1052.0 608.6,1051.2 609.6,1050.4 610.7,1049.1 611.7,1048.7 612.8,1047.3 613.9,1045.7 614.9,1045.9 616.0,1043.4 617.1,1042.4 618.1,1042.2 619.2,1041.6 620.3,1040.6 621.3,1039.6 622.4,1038.5 623.5,1036.4 624.5,1036.9 625.6,1035.3 626.7,1034.2 627.7,1034.3 628.8,1033.2 629.8,1032.0 630.9,1031.8 632.0,1030.2 633.0,1029.0 634.1,1029.2 635.2,1028.8 636.2,1027.4 637.3,1026.8 638.4,1026.6" fill="none" stroke="#2b95c3" stroke-width="1.0" stroke-linejoin="round" />
<line x1="469.1" y1="1138.7" x2="592.8" y2="1138.7" stroke="#111" stroke-width="0.8" stroke-dasharray="3,2.5"/>
<line x1="547.2" y1="1133.4" x2="558.1" y2="1114.3" stroke="#d5376a" stroke-width="0.8" stroke-dasharray="2,1.5"/>
<line x1="551.6" y1="1138.7" x2="566.7" y2="1114.3" stroke="#2b95c3" stroke-width="0.8" stroke-dasharray="2,1.5"/>
<line x1="542.9" y1="1152.5" x2="542.9" y2="1140.8" stroke="#d5376a" stroke-width="0.8" />
<polygon points="541.6,1142.3 544.2,1142.3 542.9,1139.3" fill="#d5376a"/>
<line x1="551.6" y1="1152.5" x2="551.6" y2="1140.8" stroke="#2b95c3" stroke-width="0.8" />
<polygon points="550.3,1142.3 552.9,1142.3 551.6,1139.3" fill="#2b95c3"/>
<text x="540.7" y="1148.5" font-size="9.5" text-anchor="end" font-weight="bold" fill="#d5376a" >2.27</text>
<text x="555.2" y="1148.5" font-size="9.5" text-anchor="start" font-weight="bold" fill="#2b95c3" >2.29</text>
<line x1="476" y1="999" x2="494" y2="999" stroke="#d5376a" stroke-width="1.3" />
<text x="495" y="1001.6" font-size="7.5" text-anchor="start" font-weight="bold" fill="#111" >CdS</text>
<line x1="476" y1="1009" x2="494" y2="1009" stroke="#2b95c3" stroke-width="1.3" />
<text x="495" y="1011.6" font-size="7.5" text-anchor="start" font-weight="bold" fill="#111" >N<tspan font-size="5" dy="1.5">0.2</tspan><tspan dy="-1.5">-CdS</tspan></text>
<text x="441" y="1003.5" font-size="21" text-anchor="start" font-weight="bold" fill="#000" >(i)</text>
<rect x="684.7" y="5.1" width="191.9" height="142.8" fill="none" stroke="#333" stroke-width="1" />
<line x1="692.7" y1="147.9" x2="692.7" y2="144.9" stroke="#333" stroke-width="1" />
<line x1="708.6" y1="147.9" x2="708.6" y2="144.9" stroke="#333" stroke-width="1" />
<line x1="724.4" y1="147.9" x2="724.4" y2="144.9" stroke="#333" stroke-width="1" />
<line x1="740.2" y1="147.9" x2="740.2" y2="144.9" stroke="#333" stroke-width="1" />
<line x1="756.1" y1="147.9" x2="756.1" y2="144.9" stroke="#333" stroke-width="1" />
<line x1="772" y1="147.9" x2="772" y2="144.9" stroke="#333" stroke-width="1" />
<line x1="787.8" y1="147.9" x2="787.8" y2="144.9" stroke="#333" stroke-width="1" />
<line x1="803.7" y1="147.9" x2="803.7" y2="144.9" stroke="#333" stroke-width="1" />
<line x1="819.5" y1="147.9" x2="819.5" y2="144.9" stroke="#333" stroke-width="1" />
<line x1="835.4" y1="147.9" x2="835.4" y2="144.9" stroke="#333" stroke-width="1" />
<line x1="851.2" y1="147.9" x2="851.2" y2="144.9" stroke="#333" stroke-width="1" />
<line x1="867.1" y1="147.9" x2="867.1" y2="144.9" stroke="#333" stroke-width="1" />
<line x1="684.7" y1="147.9" x2="687.7" y2="147.9" stroke="#333" stroke-width="1" />
<text x="682.7" y="150" font-size="6.5" text-anchor="end" font-weight="bold" fill="#111" >0</text>
<line x1="684.7" y1="118.7" x2="687.7" y2="118.7" stroke="#333" stroke-width="1" />
<text x="682.7" y="120.8" font-size="6.5" text-anchor="end" font-weight="bold" fill="#111" >500</text>
<line x1="684.7" y1="89.5" x2="687.7" y2="89.5" stroke="#333" stroke-width="1" />
<text x="682.7" y="91.6" font-size="6.5" text-anchor="end" font-weight="bold" fill="#111" >1000</text>
<line x1="684.7" y1="75.4" x2="687.7" y2="75.4" stroke="#333" stroke-width="1" />
<text x="682.7" y="77.5" font-size="6.5" text-anchor="end" font-weight="bold" fill="#111" >3800</text>
<line x1="684.7" y1="47.5" x2="687.7" y2="47.5" stroke="#333" stroke-width="1" />
<text x="682.7" y="49.6" font-size="6.5" text-anchor="end" font-weight="bold" fill="#111" >3900</text>
<line x1="684.7" y1="19.5" x2="687.7" y2="19.5" stroke="#333" stroke-width="1" />
<text x="682.7" y="21.6" font-size="6.5" text-anchor="end" font-weight="bold" fill="#111" >4000</text>
<line x1="684.7" y1="133.3" x2="686.5" y2="133.3" stroke="#333" stroke-width="1" />
<line x1="684.7" y1="104.1" x2="686.5" y2="104.1" stroke="#333" stroke-width="1" />
<line x1="684.7" y1="61.4" x2="686.5" y2="61.4" stroke="#333" stroke-width="1" />
<line x1="684.7" y1="33.5" x2="686.5" y2="33.5" stroke="#333" stroke-width="1" />
<text x="692.7" y="157" font-size="7" text-anchor="middle" font-weight="bold" fill="#111" >3</text>
<rect x="687.4" y="135.7" width="10.7" height="12.2" fill="#1a8cc4" stroke="none" stroke-width="1" />
<text x="692.7" y="132.7" font-size="5.6" text-anchor="middle" font-weight="bold" fill="#d42a4a" >208.8</text>
<text x="708.6" y="157" font-size="7" text-anchor="middle" font-weight="bold" fill="#111" >4</text>
<rect x="703.2" y="141.8" width="10.7" height="6.1" fill="#1a8cc4" stroke="none" stroke-width="1" />
<text x="708.6" y="138.8" font-size="5.6" text-anchor="middle" font-weight="bold" fill="#d42a4a" >104.1</text>
<text x="724.4" y="157" font-size="7" text-anchor="middle" font-weight="bold" fill="#111" >5</text>
<rect x="719.1" y="144.4" width="10.7" height="3.5" fill="#1a8cc4" stroke="none" stroke-width="1" />
<text x="724.4" y="141.4" font-size="5.6" text-anchor="middle" font-weight="bold" fill="#d42a4a" >59.6</text>
<text x="740.2" y="157" font-size="7" text-anchor="middle" font-weight="bold" fill="#111" >6</text>
<rect x="734.9" y="143.5" width="10.7" height="4.4" fill="#1a8cc4" stroke="none" stroke-width="1" />
<text x="740.2" y="140.5" font-size="5.6" text-anchor="middle" font-weight="bold" fill="#d42a4a" >75.6</text>
<text x="756.1" y="157" font-size="7" text-anchor="middle" font-weight="bold" fill="#111" >7</text>
<rect x="750.8" y="132.3" width="10.7" height="15.6" fill="#1a8cc4" stroke="none" stroke-width="1" />
<text x="756.1" y="129.3" font-size="5.6" text-anchor="middle" font-weight="bold" fill="#d42a4a" >266.5</text>
<text x="772" y="157" font-size="7" text-anchor="middle" font-weight="bold" fill="#111" >8</text>
<rect x="766.6" y="128.1" width="10.7" height="19.8" fill="#1a8cc4" stroke="none" stroke-width="1" />
<text x="772" y="125.1" font-size="5.6" text-anchor="middle" font-weight="bold" fill="#d42a4a" >338.7</text>
<text x="787.8" y="157" font-size="7" text-anchor="middle" font-weight="bold" fill="#111" >9</text>
<rect x="782.5" y="105.1" width="10.7" height="42.8" fill="#1a8cc4" stroke="none" stroke-width="1" />
<text x="787.8" y="102.1" font-size="5.6" text-anchor="middle" font-weight="bold" fill="#d42a4a" >732.9</text>
<text x="803.7" y="157" font-size="7" text-anchor="middle" font-weight="bold" fill="#111" >10</text>
<rect x="798.3" y="93.5" width="10.7" height="54.4" fill="#1a8cc4" stroke="none" stroke-width="1" />
<text x="803.7" y="90.5" font-size="5.6" text-anchor="middle" font-weight="bold" fill="#d42a4a" >931.1</text>
<text x="819.5" y="157" font-size="7" text-anchor="middle" font-weight="bold" fill="#111" >11</text>
<rect x="814.1" y="86.5" width="10.7" height="61.4" fill="#1a8cc4" stroke="none" stroke-width="1" />
<text x="819.5" y="83.5" font-size="5.6" text-anchor="middle" font-weight="bold" fill="#d42a4a" >1050.6</text>
<text x="835.4" y="157" font-size="7" text-anchor="middle" font-weight="bold" fill="#111" >12</text>
<rect x="830" y="84.7" width="10.7" height="63.2" fill="#1a8cc4" stroke="none" stroke-width="1" />
<text x="835.4" y="81.7" font-size="5.6" text-anchor="middle" font-weight="bold" fill="#d42a4a" >1081.4</text>
<text x="851.2" y="157" font-size="7" text-anchor="middle" font-weight="bold" fill="#111" >13</text>
<rect x="845.9" y="79.1" width="10.7" height="68.8" fill="#1a8cc4" stroke="none" stroke-width="1" />
<text x="851.2" y="76.1" font-size="5.6" text-anchor="middle" font-weight="bold" fill="#d42a4a" >1177.7</text>
<text x="867.1" y="157" font-size="7" text-anchor="middle" font-weight="bold" fill="#111" >14</text>
<rect x="861.7" y="24.1" width="10.7" height="123.8" fill="#d8204e" stroke="none" stroke-width="1" />
<text x="867.1" y="21.1" font-size="5.6" text-anchor="middle" font-weight="bold" fill="#d42a4a" >3983.4</text>
<rect x="860" y="74.3" width="13" height="3.6" fill="#fff" stroke="none" stroke-width="1" />
<rect x="681" y="76" width="8" height="4" fill="#fff" stroke="none" stroke-width="1" />
<line x1="681.5" y1="78.5" x2="688" y2="75.5" stroke="#333" stroke-width="0.7" />
<line x1="681.5" y1="80.5" x2="688" y2="77.5" stroke="#333" stroke-width="0.7" />
<text x="780" y="167" font-size="8.5" text-anchor="middle" font-weight="bold" fill="#111" >pH</text>
<text transform="translate(662,76) rotate(-90)" font-size="8.5" text-anchor="middle" font-weight="bold" fill="#111">HER rate (μmol· h<tspan font-size="5" dy="-3">-1</tspan><tspan dy="3">·g</tspan><tspan font-size="5" dy="-3">-1</tspan><tspan dy="3">)</tspan></text>
<text x="648" y="16" font-size="17" text-anchor="start" font-weight="bold" fill="#000" >(a)</text>
<rect x="915.5" y="5.5" width="143.1" height="142.6" fill="none" stroke="#333" stroke-width="1" />
<line x1="921.8" y1="148.1" x2="921.8" y2="145.1" stroke="#333" stroke-width="1" />
<text x="921.8" y="157.1" font-size="6.5" text-anchor="middle" font-weight="bold" fill="#111" >0</text>
<line x1="954.4" y1="148.1" x2="954.4" y2="145.1" stroke="#333" stroke-width="1" />
<text x="954.4" y="157.1" font-size="6.5" text-anchor="middle" font-weight="bold" fill="#111" >1</text>
<line x1="986.9" y1="148.1" x2="986.9" y2="145.1" stroke="#333" stroke-width="1" />
<text x="986.9" y="157.1" font-size="6.5" text-anchor="middle" font-weight="bold" fill="#111" >2</text>
<line x1="1019.5" y1="148.1" x2="1019.5" y2="145.1" stroke="#333" stroke-width="1" />
<text x="1019.5" y="157.1" font-size="6.5" text-anchor="middle" font-weight="bold" fill="#111" >3</text>
<line x1="1052.1" y1="148.1" x2="1052.1" y2="145.1" stroke="#333" stroke-width="1" />
<text x="1052.1" y="157.1" font-size="6.5" text-anchor="middle" font-weight="bold" fill="#111" >4</text>
<line x1="938.1" y1="148.1" x2="938.1" y2="146.3" stroke="#333" stroke-width="1" />
<line x1="970.7" y1="148.1" x2="970.7" y2="146.3" stroke="#333" stroke-width="1" />
<line x1="1003.2" y1="148.1" x2="1003.2" y2="146.3" stroke="#333" stroke-width="1" />
<line x1="1035.8" y1="148.1" x2="1035.8" y2="146.3" stroke="#333" stroke-width="1" />
<line x1="915.5" y1="140" x2="918.5" y2="140" stroke="#333" stroke-width="1" />
<text x="913.5" y="142.1" font-size="6.5" text-anchor="end" font-weight="bold" fill="#111" >0</text>
<line x1="915.5" y1="100.4" x2="918.5" y2="100.4" stroke="#333" stroke-width="1" />
<text x="913.5" y="102.6" font-size="6.5" text-anchor="end" font-weight="bold" fill="#111" >5</text>
<line x1="915.5" y1="60.9" x2="918.5" y2="60.9" stroke="#333" stroke-width="1" />
<text x="913.5" y="63" font-size="6.5" text-anchor="end" font-weight="bold" fill="#111" >10</text>
<line x1="915.5" y1="21.3" x2="918.5" y2="21.3" stroke="#333" stroke-width="1" />
<text x="913.5" y="23.4" font-size="6.5" text-anchor="end" font-weight="bold" fill="#111" >15</text>
<line x1="915.5" y1="120.2" x2="917.3" y2="120.2" stroke="#333" stroke-width="1" />
<line x1="915.5" y1="80.7" x2="917.3" y2="80.7" stroke="#333" stroke-width="1" />
<line x1="915.5" y1="41.1" x2="917.3" y2="41.1" stroke="#333" stroke-width="1" />
<polyline points="921.8,140.0 954.4,136.4 986.9,132.5 1019.5,129.7 1052.1,127.3" fill="none" stroke="#d5376a" stroke-width="1.2" stroke-linejoin="round" />
<rect x="919.7" y="137.9" width="4.18" height="4.18" fill="#d5376a"/>
<rect x="952.3" y="134.3" width="4.18" height="4.18" fill="#d5376a"/>
<rect x="984.9" y="130.4" width="4.18" height="4.18" fill="#d5376a"/>
<rect x="1017.4" y="127.6" width="4.18" height="4.18" fill="#d5376a"/>
<rect x="1050.0" y="125.2" width="4.18" height="4.18" fill="#d5376a"/>
<polyline points="921.8,140.0 954.4,109.5 986.9,74.3 1019.5,45.0 1052.1,15.8" fill="none" stroke="#2b95c3" stroke-width="1.2" stroke-linejoin="round" />
<circle cx="921.8" cy="140.0" r="2.5" fill="#2b95c3" stroke="none" stroke-width="1" />
<circle cx="954.4" cy="109.5" r="2.5" fill="#2b95c3" stroke="none" stroke-width="1" />
<circle cx="986.9" cy="74.3" r="2.5" fill="#2b95c3" stroke="none" stroke-width="1" />
<circle cx="1019.5" cy="45.0" r="2.5" fill="#2b95c3" stroke="none" stroke-width="1" />
<circle cx="1052.1" cy="15.8" r="2.5" fill="#2b95c3" stroke="none" stroke-width="1" />
<line x1="921.8" y1="11.5" x2="936.8" y2="11.5" stroke="#d5376a" stroke-width="1.2" />
<rect x="927.4" y="9.6" width="3.8" height="3.8" fill="#d5376a"/>
<text x="937.8" y="13.8" font-size="6.5" text-anchor="start" font-weight="bold" fill="#111" >CdS</text>
<line x1="921.8" y1="21.3" x2="936.8" y2="21.3" stroke="#2b95c3" stroke-width="1.2" />
<circle cx="929.3" cy="21.3" r="2.0" fill="#2b95c3" stroke="none" stroke-width="1" />
<text x="937.8" y="23.6" font-size="6.5" text-anchor="start" font-weight="bold" fill="#111" >N<tspan font-size="5" dy="1.5">0.2</tspan><tspan dy="-1.5">-CdS</tspan></text>
<text x="990" y="16.5" font-size="9.5" text-anchor="middle" font-weight="bold" fill="#111" >pH = 14</text>
<text transform="translate(959,95) rotate(-50)" font-size="7" font-weight="bold" fill="#2b95c3">3983.4 μmol · h<tspan font-size="4" dy="-3">-1</tspan><tspan dy="3"> · g</tspan><tspan font-size="4" dy="-3">-1</tspan></text>
<text transform="translate(962,128.5) rotate(-9)" font-size="7" font-weight="bold" fill="#d5376a">442.6 μmol · h<tspan font-size="4" dy="-3">-1</tspan><tspan dy="3"> · g</tspan><tspan font-size="4" dy="-3">-1</tspan></text>
<text x="987" y="164" font-size="8.5" text-anchor="middle" font-weight="bold" fill="#111" >Time (h)</text>
<text transform="translate(903,84.3) rotate(-90)" font-size="7.9" text-anchor="middle" font-weight="bold" fill="#111">Production of hydrogen (mmol · g<tspan font-size="5" dy="-3">-1</tspan><tspan dy="3">)</tspan></text>
<text x="887" y="16" font-size="17" text-anchor="start" font-weight="bold" fill="#000" >(b)</text>
<rect x="1089.3" y="4.6" width="143.1" height="143.3" fill="none" stroke="#333" stroke-width="1" />
<line x1="1089.3" y1="147.9" x2="1089.3" y2="144.9" stroke="#333" stroke-width="1" />
<text x="1089.3" y="156.9" font-size="6.5" text-anchor="middle" font-weight="bold" fill="#111" >200</text>
<line x1="1137" y1="147.9" x2="1137" y2="144.9" stroke="#333" stroke-width="1" />
<text x="1137" y="156.9" font-size="6.5" text-anchor="middle" font-weight="bold" fill="#111" >400</text>
<line x1="1184.7" y1="147.9" x2="1184.7" y2="144.9" stroke="#333" stroke-width="1" />
<text x="1184.7" y="156.9" font-size="6.5" text-anchor="middle" font-weight="bold" fill="#111" >600</text>
<line x1="1232.4" y1="147.9" x2="1232.4" y2="144.9" stroke="#333" stroke-width="1" />
<text x="1232.4" y="156.9" font-size="6.5" text-anchor="middle" font-weight="bold" fill="#111" >800</text>
<line x1="1113.1" y1="147.9" x2="1113.1" y2="146.1" stroke="#333" stroke-width="1" />
<line x1="1160.8" y1="147.9" x2="1160.8" y2="146.1" stroke="#333" stroke-width="1" />
<line x1="1208.5" y1="147.9" x2="1208.5" y2="146.1" stroke="#333" stroke-width="1" />
<line x1="1089.3" y1="148.1" x2="1092.3" y2="148.1" stroke="#333" stroke-width="1" />
<text x="1087.3" y="150.2" font-size="6.5" text-anchor="end" font-weight="bold" fill="#111" >0.0</text>
<line x1="1089.3" y1="106" x2="1092.3" y2="106" stroke="#333" stroke-width="1" />
<text x="1087.3" y="108.2" font-size="6.5" text-anchor="end" font-weight="bold" fill="#111" >0.5</text>
<line x1="1089.3" y1="64" x2="1092.3" y2="64" stroke="#333" stroke-width="1" />
<text x="1087.3" y="66.1" font-size="6.5" text-anchor="end" font-weight="bold" fill="#111" >1.0</text>
<line x1="1089.3" y1="22" x2="1092.3" y2="22" stroke="#333" stroke-width="1" />
<text x="1087.3" y="24.1" font-size="6.5" text-anchor="end" font-weight="bold" fill="#111" >1.5</text>
<line x1="1089.3" y1="127.1" x2="1091.1" y2="127.1" stroke="#333" stroke-width="1" />
<line x1="1089.3" y1="85" x2="1091.1" y2="85" stroke="#333" stroke-width="1" />
<line x1="1089.3" y1="43" x2="1091.1" y2="43" stroke="#333" stroke-width="1" />
<line x1="1232.4" y1="4.6" x2="1232.4" y2="147.9" stroke="#d8202a" stroke-width="1" />
<line x1="1232.4" y1="140.8" x2="1229.4" y2="140.8" stroke="#d8202a" stroke-width="1" />
<text x="1235" y="143" font-size="6.5" text-anchor="start" font-weight="bold" fill="#d8202a" >0</text>
<line x1="1232.4" y1="104.8" x2="1229.4" y2="104.8" stroke="#d8202a" stroke-width="1" />
<text x="1235" y="107" font-size="6.5" text-anchor="start" font-weight="bold" fill="#d8202a" >10</text>
<line x1="1232.4" y1="68.9" x2="1229.4" y2="68.9" stroke="#d8202a" stroke-width="1" />
<text x="1235" y="71.1" font-size="6.5" text-anchor="start" font-weight="bold" fill="#d8202a" >20</text>
<line x1="1232.4" y1="32.9" x2="1229.4" y2="32.9" stroke="#d8202a" stroke-width="1" />
<text x="1235" y="35.1" font-size="6.5" text-anchor="start" font-weight="bold" fill="#d8202a" >30</text>
<line x1="1232.4" y1="122.8" x2="1230.4" y2="122.8" stroke="#d8202a" stroke-width="1" />
<line x1="1232.4" y1="86.8" x2="1230.4" y2="86.8" stroke="#d8202a" stroke-width="1" />
<line x1="1232.4" y1="50.9" x2="1230.4" y2="50.9" stroke="#d8202a" stroke-width="1" />
<line x1="1232.4" y1="14.9" x2="1230.4" y2="14.9" stroke="#d8202a" stroke-width="1" />
<polyline points="1089.3,27.4 1089.8,20.5 1090.3,25.7 1090.7,25.9 1091.2,27.8 1091.7,29.1 1092.2,28.4 1092.6,31.0 1093.1,31.8 1093.6,32.0 1094.1,32.3 1094.5,31.2 1095.0,30.9 1095.5,30.1 1096.0,31.1 1096.5,31.4 1096.9,31.1 1097.4,31.8 1097.9,33.4 1098.4,31.0 1098.8,32.3 1099.3,31.7 1099.8,32.1 1100.3,29.3 1100.7,30.8 1101.2,31.4 1101.7,32.7 1102.2,30.9 1102.7,32.4 1103.1,30.6 1103.6,32.8 1104.1,31.5 1104.6,30.4 1105.0,31.8 1105.5,30.8 1106.0,30.6 1106.5,29.8 1106.9,30.9 1107.4,29.7 1107.9,28.4 1108.4,31.3 1108.9,30.6 1109.3,29.3 1109.8,30.2 1110.3,30.6 1110.8,28.1 1111.2,28.3 1111.7,28.0 1112.2,27.9 1112.7,28.1 1113.1,29.3 1113.6,30.5 1114.1,27.8 1114.6,29.0 1115.1,27.9 1115.5,27.4 1116.0,23.6 1116.5,27.7 1117.0,25.7 1117.4,26.4 1117.9,28.3 1118.4,26.9 1118.9,26.5 1119.4,25.9 1119.8,25.6 1120.3,26.1 1120.8,26.1 1121.3,25.1 1121.7,27.0 1122.2,24.6 1122.7,25.2 1123.2,25.8 1123.6,25.8 1124.1,25.0 1124.6,26.3 1125.1,21.9 1125.6,24.5 1126.0,23.4 1126.5,24.7 1127.0,24.5 1127.5,24.4 1127.9,25.3 1128.4,24.1 1128.9,23.7 1129.4,24.5 1129.8,24.3 1130.3,24.8 1130.8,24.5 1131.3,24.8 1131.8,24.8 1132.2,24.6 1132.7,24.6 1133.2,24.5 1133.7,24.6 1134.1,25.1 1134.6,24.4 1135.1,25.2 1135.6,24.8 1136.0,24.8 1136.5,24.9 1137.0,24.8 1137.5,24.9 1138.0,25.1 1138.4,24.7 1138.9,24.9 1139.4,25.1 1139.9,24.9 1140.3,24.9 1140.8,24.8 1141.3,25.0 1141.8,24.9 1142.2,24.9 1142.7,24.5 1143.2,25.0 1143.7,24.6 1144.2,24.9 1144.6,24.6 1145.1,24.3 1145.6,25.0 1146.1,24.9 1146.5,25.2 1147.0,25.1 1147.5,25.1 1148.0,24.9 1148.4,24.7 1148.9,24.7 1149.4,25.2 1149.9,25.1 1150.4,25.5 1150.8,25.1 1151.3,25.4 1151.8,25.7 1152.3,25.7 1152.7,25.4 1153.2,25.7 1153.7,25.6 1154.2,26.1 1154.6,26.1 1155.1,26.4 1155.6,26.9 1156.1,26.8 1156.6,27.1 1157.0,27.5 1157.5,27.5 1158.0,27.6 1158.5,28.4 1158.9,29.4 1159.4,30.4 1159.9,31.1 1160.4,32.2 1160.8,33.2 1161.3,34.3 1161.8,36.1 1162.3,38.3 1162.8,39.6 1163.2,42.3 1163.7,44.7 1164.2,48.3 1164.7,50.8 1165.1,55.6 1165.6,59.4 1166.1,63.7 1166.6,69.3 1167.1,73.8 1167.5,79.2 1168.0,83.6 1168.5,89.1 1169.0,94.7 1169.4,99.8 1169.9,104.6 1170.4,108.6 1170.9,112.9 1171.3,116.4 1171.8,120.1 1172.3,123.4 1172.8,125.2 1173.3,127.9 1173.7,130.2 1174.2,131.9 1174.7,133.0 1175.2,134.4 1175.6,136.1 1176.1,136.3 1176.6,137.7 1177.1,138.0 1177.5,139.1 1178.0,139.4 1178.5,139.4 1179.0,140.3 1179.5,140.2 1179.9,140.3 1180.4,140.8 1180.9,140.4 1181.4,140.8 1181.8,141.1 1182.3,140.9 1182.8,140.9 1183.3,140.9 1183.7,141.3 1184.2,141.1 1184.7,141.3 1185.2,141.7 1185.7,141.5 1186.1,140.9 1186.6,141.7 1187.1,141.3 1187.6,141.0 1188.0,141.6 1188.5,141.5 1189.0,141.7 1189.5,141.3 1189.9,141.8 1190.4,141.3 1190.9,141.7 1191.4,141.4 1191.9,141.9 1192.3,141.7 1192.8,141.2 1193.3,141.3 1193.8,142.2 1194.2,141.0 1194.7,141.6 1195.2,141.2 1195.7,141.1 1196.1,141.4 1196.6,141.5 1197.1,141.9 1197.6,141.2 1198.1,140.9 1198.5,141.7 1199.0,141.0 1199.5,141.1 1200.0,141.1 1200.4,141.6 1200.9,141.3 1201.4,141.2 1201.9,140.8 1202.3,141.5 1202.8,141.4 1203.3,141.5 1203.8,141.0 1204.3,141.6 1204.7,141.3 1205.2,141.6 1205.7,141.3 1206.2,141.0 1206.6,141.3 1207.1,141.0 1207.6,141.3 1208.1,141.2 1208.5,141.2 1209.0,141.4 1209.5,141.0 1210.0,141.0 1210.5,141.3 1210.9,140.9 1211.4,141.1 1211.9,141.2 1212.4,141.1 1212.8,140.9 1213.3,140.9 1213.8,140.7 1214.3,141.0 1214.8,141.0 1215.2,141.4 1215.7,141.2 1216.2,140.9 1216.7,141.3 1217.1,141.3 1217.6,140.5 1218.1,141.0 1218.6,141.3 1219.0,141.5 1219.5,141.2 1220.0,140.4 1220.5,141.0 1221.0,140.8 1221.4,140.8 1221.9,141.1 1222.4,140.8 1222.9,140.9 1223.3,141.0 1223.8,140.6 1224.3,141.1 1224.8,141.1 1225.2,141.0 1225.7,140.6 1226.2,141.0 1226.7,140.4 1227.2,141.2 1227.6,141.1 1228.1,141.5 1228.6,141.0 1229.1,140.8 1229.5,140.6 1230.0,141.0 1230.5,140.9 1231.0,140.4 1231.4,140.9 1231.9,140.7 1232.4,140.6" fill="none" stroke="#2b95c3" stroke-width="1.0" stroke-linejoin="round" />
<text x="1160.8" y="27.2" font-size="8" text-anchor="middle" fill="#d8202a" font-family="DejaVu Sans">★</text>
<text x="1172.5" y="136.7" font-size="8" text-anchor="middle" fill="#d8202a" font-family="DejaVu Sans">★</text>
<text x="1184.7" y="141.2" font-size="8" text-anchor="middle" fill="#d8202a" font-family="DejaVu Sans">★</text>
<line x1="1166" y1="24.4" x2="1184" y2="24.4" stroke="#d8202a" stroke-width="1" />
<polygon points="1183,22.4 1187.5,24.4 1183,26.4" fill="#d8202a"/>
<line x1="1167" y1="89.4" x2="1148" y2="89.4" stroke="#2b95c3" stroke-width="1" />
<polygon points="1149,87.4 1144.5,89.4 1149,91.4" fill="#2b95c3"/>
<text x="1161" y="164.5" font-size="8.5" text-anchor="middle" font-weight="bold" fill="#111" >Wavelength (nm)</text>
<text transform="translate(1073.5,77) rotate(-90)" font-size="8.5" text-anchor="middle" font-weight="bold" fill="#111">Abs (a.u.)</text>
<text transform="translate(1251.5,79) rotate(-90)" font-size="8.5" text-anchor="middle" font-weight="bold" fill="#d8202a">AQY (%)</text>
<text x="1066" y="16" font-size="17" text-anchor="start" font-weight="bold" fill="#000" >(c)</text>
<rect x="684.7" y="171" width="253.8" height="144.1" fill="none" stroke="#333" stroke-width="1" />
<line x1="692" y1="315.1" x2="692" y2="312.1" stroke="#333" stroke-width="1" />
<text x="692" y="324.1" font-size="6.5" text-anchor="middle" font-weight="bold" fill="#111" >0</text>
<line x1="739.7" y1="315.1" x2="739.7" y2="312.1" stroke="#333" stroke-width="1" />
<text x="739.7" y="324.1" font-size="6.5" text-anchor="middle" font-weight="bold" fill="#111" >3</text>
<line x1="787.5" y1="315.1" x2="787.5" y2="312.1" stroke="#333" stroke-width="1" />
<text x="787.5" y="324.1" font-size="6.5" text-anchor="middle" font-weight="bold" fill="#111" >6</text>
<line x1="835.2" y1="315.1" x2="835.2" y2="312.1" stroke="#333" stroke-width="1" />
<text x="835.2" y="324.1" font-size="6.5" text-anchor="middle" font-weight="bold" fill="#111" >9</text>
<line x1="883" y1="315.1" x2="883" y2="312.1" stroke="#333" stroke-width="1" />
<text x="883" y="324.1" font-size="6.5" text-anchor="middle" font-weight="bold" fill="#111" >12</text>
<line x1="930.7" y1="315.1" x2="930.7" y2="312.1" stroke="#333" stroke-width="1" />
<text x="930.7" y="324.1" font-size="6.5" text-anchor="middle" font-weight="bold" fill="#111" >15</text>
<line x1="715.9" y1="315.1" x2="715.9" y2="313.3" stroke="#333" stroke-width="1" />
<line x1="763.6" y1="315.1" x2="763.6" y2="313.3" stroke="#333" stroke-width="1" />
<line x1="811.3" y1="315.1" x2="811.3" y2="313.3" stroke="#333" stroke-width="1" />
<line x1="859.1" y1="315.1" x2="859.1" y2="313.3" stroke="#333" stroke-width="1" />
<line x1="906.8" y1="315.1" x2="906.8" y2="313.3" stroke="#333" stroke-width="1" />
<line x1="684.7" y1="307.8" x2="687.7" y2="307.8" stroke="#333" stroke-width="1" />
<text x="682.7" y="309.9" font-size="6.5" text-anchor="end" font-weight="bold" fill="#111" >0</text>
<line x1="684.7" y1="283.4" x2="687.7" y2="283.4" stroke="#333" stroke-width="1" />
<text x="682.7" y="285.5" font-size="6.5" text-anchor="end" font-weight="bold" fill="#111" >10</text>
<line x1="684.7" y1="258.9" x2="687.7" y2="258.9" stroke="#333" stroke-width="1" />
<text x="682.7" y="261.1" font-size="6.5" text-anchor="end" font-weight="bold" fill="#111" >20</text>
<line x1="684.7" y1="234.5" x2="687.7" y2="234.5" stroke="#333" stroke-width="1" />
<text x="682.7" y="236.6" font-size="6.5" text-anchor="end" font-weight="bold" fill="#111" >30</text>
<line x1="684.7" y1="210" x2="687.7" y2="210" stroke="#333" stroke-width="1" />
<text x="682.7" y="212.2" font-size="6.5" text-anchor="end" font-weight="bold" fill="#111" >40</text>
<line x1="684.7" y1="185.6" x2="687.7" y2="185.6" stroke="#333" stroke-width="1" />
<text x="682.7" y="187.7" font-size="6.5" text-anchor="end" font-weight="bold" fill="#111" >50</text>
<line x1="684.7" y1="295.6" x2="686.5" y2="295.6" stroke="#333" stroke-width="1" />
<line x1="684.7" y1="271.1" x2="686.5" y2="271.1" stroke="#333" stroke-width="1" />
<line x1="684.7" y1="246.7" x2="686.5" y2="246.7" stroke="#333" stroke-width="1" />
<line x1="684.7" y1="222.3" x2="686.5" y2="222.3" stroke="#333" stroke-width="1" />
<line x1="684.7" y1="197.8" x2="686.5" y2="197.8" stroke="#333" stroke-width="1" />
<polyline points="692.0,307.8 707.9,306.8 723.8,305.6 739.7,304.9 755.7,303.9 771.6,302.9 787.5,301.9 803.4,301.2 819.3,300.7 835.2,300.2 851.1,299.7 867.0,299.2 883.0,299.0 898.9,298.5 914.8,298.3 930.7,298.0" fill="none" stroke="#d5376a" stroke-width="1.2" stroke-linejoin="round" />
<rect x="689.9" y="305.7" width="4.18" height="4.18" fill="#d5376a"/>
<rect x="705.8" y="304.7" width="4.18" height="4.18" fill="#d5376a"/>
<rect x="721.7" y="303.5" width="4.18" height="4.18" fill="#d5376a"/>
<rect x="737.6" y="302.8" width="4.18" height="4.18" fill="#d5376a"/>
<rect x="753.6" y="301.8" width="4.18" height="4.18" fill="#d5376a"/>
<rect x="769.5" y="300.8" width="4.18" height="4.18" fill="#d5376a"/>
<rect x="785.4" y="299.8" width="4.18" height="4.18" fill="#d5376a"/>
<rect x="801.3" y="299.1" width="4.18" height="4.18" fill="#d5376a"/>
<rect x="817.2" y="298.6" width="4.18" height="4.18" fill="#d5376a"/>
<rect x="833.1" y="298.1" width="4.18" height="4.18" fill="#d5376a"/>
<rect x="849.0" y="297.6" width="4.18" height="4.18" fill="#d5376a"/>
<rect x="865.0" y="297.2" width="4.18" height="4.18" fill="#d5376a"/>
<rect x="880.9" y="296.9" width="4.18" height="4.18" fill="#d5376a"/>
<rect x="896.8" y="296.4" width="4.18" height="4.18" fill="#d5376a"/>
<rect x="912.7" y="296.2" width="4.18" height="4.18" fill="#d5376a"/>
<rect x="928.6" y="295.9" width="4.18" height="4.18" fill="#d5376a"/>
<polyline points="692.0,307.8 707.9,297.5 723.8,286.8 739.7,278.5 755.7,269.2 771.6,260.6 787.5,252.6 803.4,243.5 819.3,235.5 835.2,227.1 851.1,218.8 867.0,210.8 883.0,203.4 898.9,196.6 914.8,188.0 930.7,180.2" fill="none" stroke="#2b95c3" stroke-width="1.2" stroke-linejoin="round" />
<circle cx="692.0" cy="307.8" r="2.5" fill="#2b95c3" stroke="none" stroke-width="1" />
<circle cx="707.9" cy="297.5" r="2.5" fill="#2b95c3" stroke="none" stroke-width="1" />
<circle cx="723.8" cy="286.8" r="2.5" fill="#2b95c3" stroke="none" stroke-width="1" />
<circle cx="739.7" cy="278.5" r="2.5" fill="#2b95c3" stroke="none" stroke-width="1" />
<circle cx="755.7" cy="269.2" r="2.5" fill="#2b95c3" stroke="none" stroke-width="1" />
<circle cx="771.6" cy="260.6" r="2.5" fill="#2b95c3" stroke="none" stroke-width="1" />
<circle cx="787.5" cy="252.6" r="2.5" fill="#2b95c3" stroke="none" stroke-width="1" />
<circle cx="803.4" cy="243.5" r="2.5" fill="#2b95c3" stroke="none" stroke-width="1" />
<circle cx="819.3" cy="235.5" r="2.5" fill="#2b95c3" stroke="none" stroke-width="1" />
<circle cx="835.2" cy="227.1" r="2.5" fill="#2b95c3" stroke="none" stroke-width="1" />
<circle cx="851.1" cy="218.8" r="2.5" fill="#2b95c3" stroke="none" stroke-width="1" />
<circle cx="867.0" cy="210.8" r="2.5" fill="#2b95c3" stroke="none" stroke-width="1" />
<circle cx="883.0" cy="203.4" r="2.5" fill="#2b95c3" stroke="none" stroke-width="1" />
<circle cx="898.9" cy="196.6" r="2.5" fill="#2b95c3" stroke="none" stroke-width="1" />
<circle cx="914.8" cy="188.0" r="2.5" fill="#2b95c3" stroke="none" stroke-width="1" />
<circle cx="930.7" cy="180.2" r="2.5" fill="#2b95c3" stroke="none" stroke-width="1" />
<line x1="691.3" y1="178.3" x2="706.3" y2="178.3" stroke="#d5376a" stroke-width="1.2" />
<rect x="696.9" y="176.4" width="3.8" height="3.8" fill="#d5376a"/>
<text x="707.3" y="180.6" font-size="6.5" text-anchor="start" font-weight="bold" fill="#111" >CdS</text>
<line x1="691.3" y1="186.5" x2="706.3" y2="186.5" stroke="#2b95c3" stroke-width="1.2" />
<circle cx="698.8" cy="186.5" r="2.0" fill="#2b95c3" stroke="none" stroke-width="1" />
<text x="707.3" y="188.8" font-size="6.5" text-anchor="start" font-weight="bold" fill="#111" >N<tspan font-size="5" dy="1.5">0.2</tspan><tspan dy="-1.5">-CdS</tspan></text>
<text x="803" y="183.2" font-size="9.5" text-anchor="middle" font-weight="bold" fill="#111" >pH = 14</text>
<text x="812" y="331" font-size="8.5" text-anchor="middle" font-weight="bold" fill="#111" >Time (h)</text>
<text transform="translate(667,249) rotate(-90)" font-size="8.2" text-anchor="middle" font-weight="bold" fill="#111">Production of hydrogen (mmol · g<tspan font-size="5" dy="-3">-1</tspan><tspan dy="3">)</tspan></text>
<text x="653" y="183" font-size="17" text-anchor="start" font-weight="bold" fill="#000" >(d)</text>
<rect x="975" y="171.7" width="257.5" height="142.6" fill="none" stroke="#333" stroke-width="1" />
<line x1="980.2" y1="314.3" x2="980.2" y2="311.3" stroke="#333" stroke-width="1" />
<text x="980.2" y="323.3" font-size="6.5" text-anchor="middle" font-weight="bold" fill="#111" >0</text>
<line x1="1021.3" y1="314.3" x2="1021.3" y2="311.3" stroke="#333" stroke-width="1" />
<text x="1021.3" y="323.3" font-size="6.5" text-anchor="middle" font-weight="bold" fill="#111" >4</text>
<line x1="1062.5" y1="314.3" x2="1062.5" y2="311.3" stroke="#333" stroke-width="1" />
<text x="1062.5" y="323.3" font-size="6.5" text-anchor="middle" font-weight="bold" fill="#111" >8</text>
<line x1="1103.6" y1="314.3" x2="1103.6" y2="311.3" stroke="#333" stroke-width="1" />
<text x="1103.6" y="323.3" font-size="6.5" text-anchor="middle" font-weight="bold" fill="#111" >12</text>
<line x1="1144.7" y1="314.3" x2="1144.7" y2="311.3" stroke="#333" stroke-width="1" />
<text x="1144.7" y="323.3" font-size="6.5" text-anchor="middle" font-weight="bold" fill="#111" >16</text>
<line x1="1185.9" y1="314.3" x2="1185.9" y2="311.3" stroke="#333" stroke-width="1" />
<text x="1185.9" y="323.3" font-size="6.5" text-anchor="middle" font-weight="bold" fill="#111" >20</text>
<line x1="1227" y1="314.3" x2="1227" y2="311.3" stroke="#333" stroke-width="1" />
<text x="1227" y="323.3" font-size="6.5" text-anchor="middle" font-weight="bold" fill="#111" >24</text>
<line x1="1000.8" y1="314.3" x2="1000.8" y2="312.5" stroke="#333" stroke-width="1" />
<line x1="1041.9" y1="314.3" x2="1041.9" y2="312.5" stroke="#333" stroke-width="1" />
<line x1="1083" y1="314.3" x2="1083" y2="312.5" stroke="#333" stroke-width="1" />
<line x1="1124.2" y1="314.3" x2="1124.2" y2="312.5" stroke="#333" stroke-width="1" />
<line x1="1165.3" y1="314.3" x2="1165.3" y2="312.5" stroke="#333" stroke-width="1" />
<line x1="1206.4" y1="314.3" x2="1206.4" y2="312.5" stroke="#333" stroke-width="1" />
<line x1="975" y1="306.7" x2="978" y2="306.7" stroke="#333" stroke-width="1" />
<text x="973" y="308.8" font-size="6.5" text-anchor="end" font-weight="bold" fill="#111" >0</text>
<line x1="975" y1="266.9" x2="978" y2="266.9" stroke="#333" stroke-width="1" />
<text x="973" y="269" font-size="6.5" text-anchor="end" font-weight="bold" fill="#111" >5</text>
<line x1="975" y1="227" x2="978" y2="227" stroke="#333" stroke-width="1" />
<text x="973" y="229.2" font-size="6.5" text-anchor="end" font-weight="bold" fill="#111" >10</text>
<line x1="975" y1="187.2" x2="978" y2="187.2" stroke="#333" stroke-width="1" />
<text x="973" y="189.3" font-size="6.5" text-anchor="end" font-weight="bold" fill="#111" >15</text>
<line x1="975" y1="286.8" x2="976.8" y2="286.8" stroke="#333" stroke-width="1" />
<line x1="975" y1="246.9" x2="976.8" y2="246.9" stroke="#333" stroke-width="1" />
<line x1="975" y1="207.1" x2="976.8" y2="207.1" stroke="#333" stroke-width="1" />
<line x1="1021.3" y1="171.7" x2="1021.3" y2="314.3" stroke="#bbb" stroke-width="0.8" stroke-dasharray="3,2"/>
<line x1="1062.5" y1="171.7" x2="1062.5" y2="314.3" stroke="#bbb" stroke-width="0.8" stroke-dasharray="3,2"/>
<line x1="1103.6" y1="171.7" x2="1103.6" y2="314.3" stroke="#bbb" stroke-width="0.8" stroke-dasharray="3,2"/>
<line x1="1144.7" y1="171.7" x2="1144.7" y2="314.3" stroke="#bbb" stroke-width="0.8" stroke-dasharray="3,2"/>
<line x1="1185.9" y1="171.7" x2="1185.9" y2="314.3" stroke="#bbb" stroke-width="0.8" stroke-dasharray="3,2"/>
<polyline points="980.2,306.7 990.5,300.3 1000.8,297.9 1011.0,294.7 1021.3,294.0" fill="none" stroke="#d5376a" stroke-width="1.2" stroke-linejoin="round" />
<rect x="978.1" y="304.6" width="4.18" height="4.18" fill="#d5376a"/>
<rect x="988.4" y="298.2" width="4.18" height="4.18" fill="#d5376a"/>
<rect x="998.7" y="295.8" width="4.18" height="4.18" fill="#d5376a"/>
<rect x="1009.0" y="292.7" width="4.18" height="4.18" fill="#d5376a"/>
<rect x="1019.2" y="291.9" width="4.18" height="4.18" fill="#d5376a"/>
<polyline points="980.2,306.7 990.5,262.9 1000.8,235.8 1011.0,214.3 1021.3,181.6" fill="none" stroke="#2b95c3" stroke-width="1.2" stroke-linejoin="round" />
<circle cx="980.2" cy="306.7" r="2.5" fill="#2b95c3" stroke="none" stroke-width="1" />
<circle cx="990.5" cy="262.9" r="2.5" fill="#2b95c3" stroke="none" stroke-width="1" />
<circle cx="1000.8" cy="235.8" r="2.5" fill="#2b95c3" stroke="none" stroke-width="1" />
<circle cx="1011.0" cy="214.3" r="2.5" fill="#2b95c3" stroke="none" stroke-width="1" />
<circle cx="1021.3" cy="181.6" r="2.5" fill="#2b95c3" stroke="none" stroke-width="1" />
<polyline points="1021.3,306.7 1031.6,302.7 1041.9,301.1 1052.2,297.9 1062.5,295.5" fill="none" stroke="#d5376a" stroke-width="1.2" stroke-linejoin="round" />
<rect x="1019.2" y="304.6" width="4.18" height="4.18" fill="#d5376a"/>
<rect x="1029.5" y="300.6" width="4.18" height="4.18" fill="#d5376a"/>
<rect x="1039.8" y="299.0" width="4.18" height="4.18" fill="#d5376a"/>
<rect x="1050.1" y="295.8" width="4.18" height="4.18" fill="#d5376a"/>
<rect x="1060.4" y="293.5" width="4.18" height="4.18" fill="#d5376a"/>
<polyline points="1021.3,306.7 1031.6,277.2 1041.9,246.2 1052.2,218.3 1062.5,183.2" fill="none" stroke="#2b95c3" stroke-width="1.2" stroke-linejoin="round" />
<circle cx="1021.3" cy="306.7" r="2.5" fill="#2b95c3" stroke="none" stroke-width="1" />
<circle cx="1031.6" cy="277.2" r="2.5" fill="#2b95c3" stroke="none" stroke-width="1" />
<circle cx="1041.9" cy="246.2" r="2.5" fill="#2b95c3" stroke="none" stroke-width="1" />
<circle cx="1052.2" cy="218.3" r="2.5" fill="#2b95c3" stroke="none" stroke-width="1" />
<circle cx="1062.5" cy="183.2" r="2.5" fill="#2b95c3" stroke="none" stroke-width="1" />
<polyline points="1062.5,306.7 1072.7,303.1 1083.0,300.7 1093.3,297.1 1103.6,295.9" fill="none" stroke="#d5376a" stroke-width="1.2" stroke-linejoin="round" />
<rect x="1060.4" y="304.6" width="4.18" height="4.18" fill="#d5376a"/>
<rect x="1070.7" y="301.0" width="4.18" height="4.18" fill="#d5376a"/>
<rect x="1080.9" y="298.6" width="4.18" height="4.18" fill="#d5376a"/>
<rect x="1091.2" y="295.0" width="4.18" height="4.18" fill="#d5376a"/>
<rect x="1101.5" y="293.9" width="4.18" height="4.18" fill="#d5376a"/>
<polyline points="1062.5,306.7 1072.7,273.2 1083.0,236.6 1093.3,216.7 1103.6,192.8" fill="none" stroke="#2b95c3" stroke-width="1.2" stroke-linejoin="round" />
<circle cx="1062.5" cy="306.7" r="2.5" fill="#2b95c3" stroke="none" stroke-width="1" />
<circle cx="1072.7" cy="273.2" r="2.5" fill="#2b95c3" stroke="none" stroke-width="1" />
<circle cx="1083.0" cy="236.6" r="2.5" fill="#2b95c3" stroke="none" stroke-width="1" />
<circle cx="1093.3" cy="216.7" r="2.5" fill="#2b95c3" stroke="none" stroke-width="1" />
<circle cx="1103.6" cy="192.8" r="2.5" fill="#2b95c3" stroke="none" stroke-width="1" />
<polyline points="1103.6,306.7 1113.9,304.7 1124.2,301.9 1134.4,298.3 1144.7,296.3" fill="none" stroke="#d5376a" stroke-width="1.2" stroke-linejoin="round" />
<rect x="1101.5" y="304.6" width="4.18" height="4.18" fill="#d5376a"/>
<rect x="1111.8" y="302.6" width="4.18" height="4.18" fill="#d5376a"/>
<rect x="1122.1" y="299.8" width="4.18" height="4.18" fill="#d5376a"/>
<rect x="1132.4" y="296.2" width="4.18" height="4.18" fill="#d5376a"/>
<rect x="1142.6" y="294.3" width="4.18" height="4.18" fill="#d5376a"/>
<polyline points="1103.6,306.7 1113.9,282.8 1124.2,255.7 1134.4,228.6 1144.7,203.9" fill="none" stroke="#2b95c3" stroke-width="1.2" stroke-linejoin="round" />
<circle cx="1103.6" cy="306.7" r="2.5" fill="#2b95c3" stroke="none" stroke-width="1" />
<circle cx="1113.9" cy="282.8" r="2.5" fill="#2b95c3" stroke="none" stroke-width="1" />
<circle cx="1124.2" cy="255.7" r="2.5" fill="#2b95c3" stroke="none" stroke-width="1" />
<circle cx="1134.4" cy="228.6" r="2.5" fill="#2b95c3" stroke="none" stroke-width="1" />
<circle cx="1144.7" cy="203.9" r="2.5" fill="#2b95c3" stroke="none" stroke-width="1" />
<polyline points="1144.7,306.7 1155.0,304.3 1165.3,301.1 1175.6,299.1 1185.9,297.5" fill="none" stroke="#d5376a" stroke-width="1.2" stroke-linejoin="round" />
<rect x="1142.6" y="304.6" width="4.18" height="4.18" fill="#d5376a"/>
<rect x="1152.9" y="302.2" width="4.18" height="4.18" fill="#d5376a"/>
<rect x="1163.2" y="299.0" width="4.18" height="4.18" fill="#d5376a"/>
<rect x="1173.5" y="297.0" width="4.18" height="4.18" fill="#d5376a"/>
<rect x="1183.8" y="295.4" width="4.18" height="4.18" fill="#d5376a"/>
<polyline points="1144.7,306.7 1155.0,292.4 1165.3,274.8 1175.6,236.6 1185.9,205.5" fill="none" stroke="#2b95c3" stroke-width="1.2" stroke-linejoin="round" />
<circle cx="1144.7" cy="306.7" r="2.5" fill="#2b95c3" stroke="none" stroke-width="1" />
<circle cx="1155.0" cy="292.4" r="2.5" fill="#2b95c3" stroke="none" stroke-width="1" />
<circle cx="1165.3" cy="274.8" r="2.5" fill="#2b95c3" stroke="none" stroke-width="1" />
<circle cx="1175.6" cy="236.6" r="2.5" fill="#2b95c3" stroke="none" stroke-width="1" />
<circle cx="1185.9" cy="205.5" r="2.5" fill="#2b95c3" stroke="none" stroke-width="1" />
<polyline points="1185.9,306.7 1196.1,305.5 1206.4,304.3 1216.7,303.1 1227.0,301.9" fill="none" stroke="#d5376a" stroke-width="1.2" stroke-linejoin="round" />
<rect x="1183.8" y="304.6" width="4.18" height="4.18" fill="#d5376a"/>
<rect x="1194.1" y="303.4" width="4.18" height="4.18" fill="#d5376a"/>
<rect x="1204.3" y="302.2" width="4.18" height="4.18" fill="#d5376a"/>
<rect x="1214.6" y="301.0" width="4.18" height="4.18" fill="#d5376a"/>
<rect x="1224.9" y="299.8" width="4.18" height="4.18" fill="#d5376a"/>
<polyline points="1185.9,306.7 1196.1,293.2 1206.4,261.3 1216.7,243.8 1227.0,214.3" fill="none" stroke="#2b95c3" stroke-width="1.2" stroke-linejoin="round" />
<circle cx="1185.9" cy="306.7" r="2.5" fill="#2b95c3" stroke="none" stroke-width="1" />
<circle cx="1196.1" cy="293.2" r="2.5" fill="#2b95c3" stroke="none" stroke-width="1" />
<circle cx="1206.4" cy="261.3" r="2.5" fill="#2b95c3" stroke="none" stroke-width="1" />
<circle cx="1216.7" cy="243.8" r="2.5" fill="#2b95c3" stroke="none" stroke-width="1" />
<circle cx="1227.0" cy="214.3" r="2.5" fill="#2b95c3" stroke="none" stroke-width="1" />
<text x="1210" y="183.3" font-size="9.5" text-anchor="middle" font-weight="bold" fill="#111" >pH = 14</text>
<text x="1104" y="330" font-size="8.5" text-anchor="middle" font-weight="bold" fill="#111" >Time (h)</text>
<text transform="translate(956,250) rotate(-90)" font-size="8.2" text-anchor="middle" font-weight="bold" fill="#111">Production of hydrogen (mmol · g<tspan font-size="5" dy="-3">-1</tspan><tspan dy="3">)</tspan></text>
<text x="948" y="183" font-size="17" text-anchor="start" font-weight="bold" fill="#000" >(e)</text>
<rect x="684.4" y="337.3" width="159.2" height="159.5" fill="none" stroke="#333" stroke-width="1" />
<line x1="684.4" y1="496.8" x2="684.4" y2="493.8" stroke="#333" stroke-width="1" />
<text x="684.4" y="505.8" font-size="6.5" text-anchor="middle" font-weight="bold" fill="#111" >20</text>
<line x1="729.7" y1="496.8" x2="729.7" y2="493.8" stroke="#333" stroke-width="1" />
<text x="729.7" y="505.8" font-size="6.5" text-anchor="middle" font-weight="bold" fill="#111" >40</text>
<line x1="775" y1="496.8" x2="775" y2="493.8" stroke="#333" stroke-width="1" />
<text x="775" y="505.8" font-size="6.5" text-anchor="middle" font-weight="bold" fill="#111" >60</text>
<line x1="820.3" y1="496.8" x2="820.3" y2="493.8" stroke="#333" stroke-width="1" />
<text x="820.3" y="505.8" font-size="6.5" text-anchor="middle" font-weight="bold" fill="#111" >80</text>
<line x1="707" y1="496.8" x2="707" y2="495" stroke="#333" stroke-width="1" />
<line x1="752.4" y1="496.8" x2="752.4" y2="495" stroke="#333" stroke-width="1" />
<line x1="797.6" y1="496.8" x2="797.6" y2="495" stroke="#333" stroke-width="1" />
<line x1="843" y1="496.8" x2="843" y2="495" stroke="#333" stroke-width="1" />
<polyline points="684.4,433.0 684.6,433.8 684.9,433.6 685.1,433.5 685.3,434.2 685.5,433.7 685.8,433.6 686.0,434.6 686.2,433.5 686.4,433.1 686.7,433.0 686.9,433.4 687.1,434.0 687.3,434.1 687.6,434.3 687.8,434.6 688.0,434.6 688.3,434.0 688.5,434.4 688.7,434.0 688.9,433.4 689.2,434.1 689.4,433.8 689.6,433.6 689.8,434.7 690.1,434.1 690.3,433.4 690.5,433.5 690.7,434.4 691.0,432.5 691.2,432.0 691.4,430.4 691.6,428.3 691.9,426.2 692.1,424.1 692.3,423.5 692.6,424.3 692.8,425.8 693.0,428.4 693.2,430.8 693.5,430.9 693.7,431.9 693.9,429.7 694.1,425.7 694.4,417.8 694.6,405.9 694.8,391.7 695.0,379.0 695.3,376.4 695.5,380.1 695.7,391.6 696.0,406.3 696.2,417.7 696.4,425.5 696.6,430.9 696.9,432.9 697.1,432.9 697.3,433.6 697.5,432.3 697.8,428.7 698.0,423.6 698.2,410.8 698.4,392.4 698.7,372.6 698.9,355.5 699.1,349.2 699.3,354.7 699.6,372.9 699.8,393.4 700.0,411.1 700.3,423.0 700.5,429.9 700.7,432.5 700.9,433.2 701.2,432.8 701.4,432.9 701.6,430.2 701.8,424.0 702.1,413.2 702.3,397.6 702.5,377.6 702.7,363.8 703.0,356.5 703.2,363.8 703.4,379.4 703.7,398.2 703.9,412.9 704.1,424.1 704.3,429.7 704.6,431.2 704.8,433.7 705.0,433.6 705.2,433.7 705.5,433.2 705.7,433.7 705.9,433.8 706.1,434.4 706.4,433.9 706.6,435.5 706.8,433.3 707.1,433.0 707.3,432.0 707.5,429.6 707.7,428.1 708.0,425.1 708.2,423.1 708.4,424.8 708.6,427.9 708.9,429.3 709.1,432.1 709.3,433.0 709.5,434.7 709.8,433.9 710.0,433.5 710.2,433.4 710.4,434.7 710.7,433.5 710.9,434.9 711.1,432.9 711.4,433.6 711.6,433.6 711.8,433.4 712.0,433.6 712.3,434.1 712.5,433.4 712.7,433.0 712.9,434.4 713.2,434.5 713.4,433.4 713.6,433.9 713.8,432.4 714.1,434.3 714.3,433.0 714.5,433.4 714.8,434.8 715.0,433.1 715.2,433.7 715.4,433.2 715.7,432.8 715.9,433.1 716.1,433.9 716.3,433.1 716.6,433.4 716.8,434.1 717.0,433.6 717.2,433.1 717.5,434.5 717.7,433.8 717.9,434.4 718.1,433.2 718.4,434.6 718.6,433.0 718.8,432.8 719.1,433.5 719.3,433.5 719.5,433.8 719.7,433.4 720.0,433.9 720.2,434.1 720.4,432.5 720.6,431.0 720.9,429.5 721.1,427.1 721.3,423.3 721.5,418.7 721.8,415.4 722.0,414.7 722.2,416.4 722.5,418.6 722.7,423.6 722.9,426.8 723.1,429.9 723.4,431.4 723.6,433.5 723.8,433.4 724.0,432.8 724.3,434.1 724.5,433.5 724.7,434.3 724.9,433.8 725.2,433.4 725.4,433.8 725.6,433.5 725.8,433.3 726.1,433.7 726.3,434.1 726.5,433.8 726.8,433.7 727.0,433.4 727.2,434.0 727.4,433.9 727.7,434.2 727.9,433.9 728.1,434.8 728.3,432.9 728.6,433.7 728.8,434.0 729.0,434.2 729.2,432.9 729.5,433.1 729.7,433.7 729.9,434.3 730.2,434.3 730.4,433.0 730.6,433.8 730.8,434.3 731.1,433.7 731.3,433.2 731.5,433.4 731.7,433.0 732.0,434.3 732.2,433.6 732.4,433.5 732.6,433.3 732.9,433.7 733.1,433.3 733.3,433.2 733.6,433.7 733.8,433.6 734.0,434.0 734.2,433.8 734.5,434.3 734.7,433.7 734.9,433.9 735.1,433.8 735.4,433.3 735.6,434.3 735.8,433.4 736.0,432.8 736.3,433.9 736.5,432.5 736.7,428.9 736.9,423.2 737.2,411.2 737.4,393.3 737.6,371.8 737.9,355.5 738.1,348.2 738.3,355.1 738.5,372.1 738.8,392.5 739.0,410.9 739.2,422.3 739.4,429.5 739.7,432.3 739.9,433.0 740.1,433.7 740.3,434.0 740.6,434.3 740.8,433.6 741.0,434.6 741.3,434.0 741.5,434.3 741.7,433.0 741.9,433.2 742.2,434.3 742.4,433.6 742.6,434.0 742.8,434.3 743.1,433.0 743.3,433.9 743.5,434.7 743.7,434.1 744.0,433.8 744.2,434.0 744.4,433.7 744.6,434.1 744.9,434.4 745.1,433.6 745.3,434.0 745.6,433.7 745.8,433.4 746.0,432.2 746.2,428.4 746.5,424.3 746.7,416.4 746.9,406.5 747.1,399.5 747.4,396.0 747.6,399.5 747.8,407.2 748.0,415.4 748.3,423.3 748.5,428.5 748.7,431.4 749.0,432.7 749.2,433.0 749.4,434.0 749.6,433.6 749.9,433.3 750.1,434.2 750.3,433.4 750.5,434.2 750.8,433.1 751.0,434.4 751.2,433.5 751.4,433.2 751.7,433.9 751.9,433.0 752.1,433.2 752.4,433.8 752.6,433.5 752.8,433.9 753.0,433.8 753.3,433.8 753.5,433.8 753.7,434.1 753.9,433.7 754.2,434.1 754.4,433.7 754.6,431.4 754.8,429.5 755.1,427.0 755.3,418.6 755.5,407.7 755.7,393.2 756.0,378.6 756.2,368.1 756.4,362.4 756.7,367.0 756.9,378.3 757.1,392.4 757.3,406.4 757.6,416.8 757.8,422.2 758.0,423.4 758.2,420.6 758.5,418.7 758.7,419.4 758.9,419.8 759.1,423.3 759.4,426.3 759.6,429.3 759.8,432.8 760.1,432.3 760.3,433.0 760.5,434.0 760.7,433.7 761.0,432.9 761.2,433.7 761.4,433.8 761.6,432.3 761.9,432.0 762.1,431.5 762.3,431.1 762.5,428.6 762.8,429.8 763.0,431.2 763.2,431.8 763.4,432.6 763.7,433.2 763.9,433.9 764.1,433.2 764.4,434.2 764.6,434.1 764.8,434.1 765.0,434.5 765.3,433.5 765.5,433.7 765.7,434.2 765.9,434.4 766.2,434.2 766.4,433.5 766.6,433.5 766.8,433.1 767.1,433.5 767.3,433.3 767.5,433.5 767.8,433.5 768.0,434.1 768.2,434.1 768.4,433.7 768.7,433.1 768.9,433.7 769.1,433.9 769.3,434.0 769.6,433.4 769.8,433.2 770.0,431.5 770.2,430.7 770.5,429.0 770.7,426.5 770.9,424.9 771.1,425.3 771.4,424.8 771.6,427.1 771.8,428.5 772.1,430.2 772.3,431.7 772.5,432.5 772.7,433.3 773.0,434.4 773.2,434.4 773.4,433.6 773.6,433.9 773.9,434.2 774.1,433.5 774.3,434.6 774.5,433.7 774.8,434.0 775.0,433.2 775.2,433.2 775.5,433.2 775.7,433.4 775.9,434.2 776.1,433.6 776.4,434.2 776.6,433.5 776.8,433.2 777.0,433.8 777.3,433.5 777.5,432.9 777.7,433.7 777.9,434.3 778.2,433.6 778.4,433.1 778.6,433.3 778.9,433.1 779.1,433.6 779.3,433.2 779.5,433.7 779.8,433.8 780.0,434.4 780.2,433.1 780.4,432.7 780.7,434.5 780.9,433.9 781.1,433.5 781.3,434.0 781.6,433.3 781.8,433.5 782.0,434.1 782.2,433.6 782.5,433.8 782.7,433.9 782.9,433.8 783.2,433.6 783.4,434.0 783.6,434.4 783.8,434.4 784.1,433.3 784.3,434.1 784.5,432.8 784.7,433.0 785.0,433.9 785.2,434.0 785.4,434.4 785.6,432.9 785.9,434.3 786.1,433.4 786.3,433.5 786.6,433.9 786.8,434.4 787.0,433.2 787.2,432.9 787.5,433.4 787.7,433.7 787.9,434.3 788.1,433.9 788.4,433.5 788.6,433.2 788.8,432.7 789.0,432.5 789.3,429.5 789.5,427.5 789.7,424.2 789.9,421.8 790.2,418.7 790.4,417.4 790.6,419.1 790.9,422.2 791.1,425.1 791.3,427.2 791.5,430.3 791.8,432.6 792.0,432.1 792.2,432.8 792.4,433.4 792.7,433.9 792.9,433.3 793.1,433.8 793.3,433.6 793.6,433.9 793.8,433.1 794.0,432.6 794.3,432.6 794.5,433.8 794.7,434.2 794.9,434.0 795.2,432.9 795.4,432.8 795.6,433.6 795.8,433.3 796.1,432.8 796.3,433.4 796.5,433.3 796.7,433.7 797.0,433.9 797.2,433.8 797.4,433.8 797.7,434.0 797.9,433.6 798.1,433.3 798.3,432.9 798.6,432.7 798.8,430.3 799.0,428.4 799.2,425.9 799.5,423.5 799.7,420.6 799.9,422.7 800.1,425.5 800.4,427.7 800.6,430.1 800.8,431.4 801.0,432.7 801.3,433.4 801.5,432.5 801.7,433.1 802.0,431.7 802.2,430.5 802.4,427.4 802.6,425.1 802.9,422.7 803.1,421.4 803.3,422.3 803.5,425.5 803.8,428.3 804.0,430.1 804.2,432.4 804.4,432.5 804.7,433.2 804.9,432.2 805.1,433.4 805.4,434.0 805.6,433.5 805.8,434.0 806.0,433.4 806.3,433.9 806.5,433.6 806.7,433.2 806.9,434.8 807.2,433.3 807.4,433.0 807.6,433.8 807.8,433.9 808.1,433.8 808.3,433.4 808.5,433.4 808.7,432.9 809.0,431.5 809.2,428.6 809.4,427.7 809.7,424.3 809.9,421.4 810.1,422.1 810.3,422.4 810.6,424.5 810.8,427.9 811.0,429.0 811.2,430.9 811.5,432.0 811.7,433.2 811.9,433.8 812.1,433.8 812.4,433.8 812.6,432.6 812.8,433.8 813.1,434.2 813.3,433.5 813.5,433.4 813.7,433.2 814.0,433.8 814.2,432.9 814.4,434.7 814.6,433.6 814.9,433.4 815.1,433.1 815.3,434.0 815.5,434.2 815.8,433.4 816.0,433.8 816.2,433.9 816.4,434.2 816.7,434.0 816.9,434.3 817.1,433.0 817.4,435.0 817.6,433.5 817.8,433.1 818.0,433.2 818.3,433.9 818.5,434.1 818.7,434.9 818.9,434.2 819.2,433.1 819.4,433.0 819.6,432.2 819.8,430.9 820.1,429.2 820.3,426.6 820.5,424.9 820.8,422.6 821.0,422.0 821.2,422.4 821.4,423.8 821.7,427.1 821.9,429.1 822.1,432.2 822.3,433.1 822.6,432.5 822.8,433.0 823.0,433.4 823.2,433.6 823.5,434.3 823.7,433.6 823.9,433.9 824.2,433.5 824.4,433.6 824.6,434.3 824.8,433.6 825.1,434.4 825.3,433.0 825.5,432.4 825.7,431.0 826.0,428.9 826.2,426.7 826.4,422.5 826.6,420.3 826.9,419.2 827.1,421.5 827.3,423.0 827.5,426.0 827.8,428.8 828.0,429.9 828.2,432.6 828.5,433.1 828.7,433.6 828.9,433.7 829.1,433.6 829.4,433.7 829.6,433.4 829.8,433.6 830.0,434.0 830.3,432.7 830.5,434.1 830.7,434.0 830.9,433.2 831.2,434.0 831.4,433.9 831.6,433.4 831.9,434.6 832.1,433.8 832.3,433.6 832.5,433.0 832.8,434.6 833.0,433.2 833.2,432.5 833.4,430.9 833.7,430.0 833.9,426.2 834.1,424.4 834.3,422.0 834.6,421.2 834.8,421.8 835.0,424.2 835.2,426.2 835.5,427.9 835.7,429.6 835.9,432.9 836.2,432.1 836.4,434.1 836.6,435.2 836.8,432.7 837.1,434.0 837.3,433.9 837.5,433.4 837.7,432.7 838.0,433.7 838.2,434.6 838.4,433.7 838.6,433.7 838.9,433.8 839.1,433.7 839.3,433.9 839.6,434.9 839.8,433.3 840.0,432.8 840.2,434.1 840.5,433.4 840.7,433.5 840.9,433.0 841.1,433.6 841.4,433.5 841.6,433.9 841.8,433.5 842.0,433.0 842.3,434.0 842.5,433.7 842.7,432.8 842.9,433.5 843.2,434.1 843.4,433.7 843.6,433.5" fill="none" stroke="#6cc04a" stroke-width="0.9" stroke-linejoin="round" />
<polyline points="684.4,475.3 684.6,474.7 684.9,474.7 685.1,475.3 685.3,474.9 685.5,474.7 685.8,475.1 686.0,475.1 686.2,475.5 686.4,475.5 686.7,475.1 686.9,475.0 687.1,474.5 687.3,475.1 687.6,474.8 687.8,475.4 688.0,475.4 688.3,475.3 688.5,475.0 688.7,475.2 688.9,475.8 689.2,475.9 689.4,474.7 689.6,473.6 689.8,475.3 690.1,474.2 690.3,475.0 690.5,475.1 690.7,475.3 691.0,473.9 691.2,472.9 691.4,471.0 691.6,469.5 691.9,466.6 692.1,465.9 692.3,465.2 692.6,466.3 692.8,467.1 693.0,469.5 693.2,471.4 693.5,472.6 693.7,472.5 693.9,471.4 694.1,467.7 694.4,460.3 694.6,449.1 694.8,435.0 695.0,424.5 695.3,420.3 695.5,424.8 695.7,435.5 696.0,448.7 696.2,459.9 696.4,467.9 696.6,472.0 696.9,473.0 697.1,473.9 697.3,472.3 697.5,471.6 697.8,467.2 698.0,458.5 698.2,446.4 698.4,430.6 698.7,414.1 698.9,402.5 699.1,396.9 699.3,401.9 699.6,414.2 699.8,431.6 700.0,445.5 700.3,458.8 700.5,466.1 700.7,470.9 700.9,472.7 701.2,473.6 701.4,471.0 701.6,467.0 701.8,460.0 702.1,448.4 702.3,434.1 702.5,420.5 702.7,408.0 703.0,403.6 703.2,409.0 703.4,419.8 703.7,435.1 703.9,448.1 704.1,460.0 704.3,467.8 704.6,471.8 704.8,474.0 705.0,475.2 705.2,475.2 705.5,475.5 705.7,475.4 705.9,474.6 706.1,475.1 706.4,475.7 706.6,474.5 706.8,475.1 707.1,474.7 707.3,474.0 707.5,470.5 707.7,469.8 708.0,465.3 708.2,465.0 708.4,467.3 708.6,467.9 708.9,472.5 709.1,473.5 709.3,475.3 709.5,475.6 709.8,475.0 710.0,474.6 710.2,474.9 710.4,474.4 710.7,474.3 710.9,475.2 711.1,474.3 711.4,475.2 711.6,475.0 711.8,475.0 712.0,474.5 712.3,474.4 712.5,475.4 712.7,474.5 712.9,474.7 713.2,474.9 713.4,475.4 713.6,476.0 713.8,476.0 714.1,475.4 714.3,475.4 714.5,475.3 714.8,474.9 715.0,474.9 715.2,474.2 715.4,475.3 715.7,474.8 715.9,475.2 716.1,476.1 716.3,475.4 716.6,475.6 716.8,475.5 717.0,474.7 717.2,474.7 717.5,474.3 717.7,474.7 717.9,475.1 718.1,475.4 718.4,475.3 718.6,474.8 718.8,474.5 719.1,475.0 719.3,475.2 719.5,474.0 719.7,475.0 720.0,474.2 720.2,474.5 720.4,474.2 720.6,472.8 720.9,471.4 721.1,469.1 721.3,465.4 721.5,462.9 721.8,460.3 722.0,459.3 722.2,459.5 722.5,462.5 722.7,465.7 722.9,469.2 723.1,472.0 723.4,473.1 723.6,474.3 723.8,475.1 724.0,474.7 724.3,475.3 724.5,475.0 724.7,474.3 724.9,475.0 725.2,475.1 725.4,474.8 725.6,476.0 725.8,474.8 726.1,474.3 726.3,474.9 726.5,474.9 726.8,475.3 727.0,476.3 727.2,475.1 727.4,475.4 727.7,474.7 727.9,474.5 728.1,474.7 728.3,474.9 728.6,474.8 728.8,475.0 729.0,474.7 729.2,474.4 729.5,474.6 729.7,475.4 729.9,474.4 730.2,475.4 730.4,475.8 730.6,474.5 730.8,475.5 731.1,475.4 731.3,473.7 731.5,475.4 731.7,475.3 732.0,474.6 732.2,475.9 732.4,474.1 732.6,475.7 732.9,475.1 733.1,474.5 733.3,475.1 733.6,474.2 733.8,475.3 734.0,475.3 734.2,475.6 734.5,475.7 734.7,474.7 734.9,475.3 735.1,474.7 735.4,473.6 735.6,475.5 735.8,475.6 736.0,475.0 736.3,475.5 736.5,473.6 736.7,470.2 736.9,465.0 737.2,454.6 737.4,439.2 737.6,420.7 737.9,404.8 738.1,399.4 738.3,405.8 738.5,421.5 738.8,438.7 739.0,454.0 739.2,465.0 739.4,471.5 739.7,474.3 739.9,474.1 740.1,475.2 740.3,475.6 740.6,475.4 740.8,474.5 741.0,475.3 741.3,474.8 741.5,474.8 741.7,476.0 741.9,475.0 742.2,475.3 742.4,475.6 742.6,475.8 742.8,475.1 743.1,474.7 743.3,475.0 743.5,474.7 743.7,474.9 744.0,474.9 744.2,474.3 744.4,474.6 744.6,474.3 744.9,475.0 745.1,475.4 745.3,475.3 745.6,475.0 745.8,474.0 746.0,473.5 746.2,470.7 746.5,467.7 746.7,460.8 746.9,454.5 747.1,450.1 747.4,447.2 747.6,448.7 747.8,454.7 748.0,461.1 748.3,467.0 748.5,471.2 748.7,473.1 749.0,474.6 749.2,475.4 749.4,474.5 749.6,474.5 749.9,474.6 750.1,474.7 750.3,475.1 750.5,474.7 750.8,474.6 751.0,474.7 751.2,475.5 751.4,475.5 751.7,475.5 751.9,475.1 752.1,474.5 752.4,475.7 752.6,476.1 752.8,474.7 753.0,474.7 753.3,475.6 753.5,475.3 753.7,475.2 753.9,476.0 754.2,474.8 754.4,474.3 754.6,474.0 754.8,472.9 755.1,470.1 755.3,465.8 755.5,458.1 755.7,447.9 756.0,438.8 756.2,430.8 756.4,428.8 756.7,431.4 756.9,438.1 757.1,448.3 757.3,456.5 757.6,464.1 757.8,467.4 758.0,468.2 758.2,466.3 758.5,465.1 758.7,464.6 758.9,465.7 759.1,468.1 759.4,469.8 759.6,471.3 759.8,473.4 760.1,474.9 760.3,475.3 760.5,474.3 760.7,475.3 761.0,475.0 761.2,475.3 761.4,474.8 761.6,475.0 761.9,473.2 762.1,473.5 762.3,472.0 762.5,470.4 762.8,470.6 763.0,473.0 763.2,472.7 763.4,473.9 763.7,475.0 763.9,474.9 764.1,475.1 764.4,473.9 764.6,474.6 764.8,475.3 765.0,476.0 765.3,475.2 765.5,475.0 765.7,475.1 765.9,475.5 766.2,475.3 766.4,474.6 766.6,474.0 766.8,474.9 767.1,474.8 767.3,475.9 767.5,474.6 767.8,475.4 768.0,474.0 768.2,475.4 768.4,474.3 768.7,475.0 768.9,474.9 769.1,475.0 769.3,474.9 769.6,474.1 769.8,474.7 770.0,473.3 770.2,472.8 770.5,471.1 770.7,470.3 770.9,469.3 771.1,468.9 771.4,469.0 771.6,470.9 771.8,471.5 772.1,472.8 772.3,472.6 772.5,474.7 772.7,473.9 773.0,474.8 773.2,473.9 773.4,475.9 773.6,474.1 773.9,474.8 774.1,474.3 774.3,474.2 774.5,473.9 774.8,475.4 775.0,475.6 775.2,474.4 775.5,474.7 775.7,473.8 775.9,473.3 776.1,474.5 776.4,473.7 776.6,472.7 776.8,473.0 777.0,473.0 777.3,472.8 777.5,473.0 777.7,472.8 777.9,473.2 778.2,473.2 778.4,473.5 778.6,473.5 778.9,474.8 779.1,474.0 779.3,474.3 779.5,474.7 779.8,474.7 780.0,474.1 780.2,475.3 780.4,474.3 780.7,474.6 780.9,475.1 781.1,474.8 781.3,474.6 781.6,475.0 781.8,474.5 782.0,474.7 782.2,474.4 782.5,474.3 782.7,474.5 782.9,475.0 783.2,474.7 783.4,474.9 783.6,475.4 783.8,474.7 784.1,474.0 784.3,475.0 784.5,475.9 784.7,473.5 785.0,474.8 785.2,474.4 785.4,474.2 785.6,475.4 785.9,474.9 786.1,475.0 786.3,474.3 786.6,474.7 786.8,474.4 787.0,475.7 787.2,474.9 787.5,474.0 787.7,474.8 787.9,475.7 788.1,474.6 788.4,474.8 788.6,474.8 788.8,474.8 789.0,474.3 789.3,472.8 789.5,471.5 789.7,470.2 789.9,467.4 790.2,466.3 790.4,466.1 790.6,466.4 790.9,467.5 791.1,470.7 791.3,471.7 791.5,472.9 791.8,472.6 792.0,475.1 792.2,475.3 792.4,474.9 792.7,475.0 792.9,474.5 793.1,476.0 793.3,475.4 793.6,476.1 793.8,476.1 794.0,474.1 794.3,475.3 794.5,473.9 794.7,475.2 794.9,475.0 795.2,474.7 795.4,475.3 795.6,475.0 795.8,474.8 796.1,474.9 796.3,475.4 796.5,475.2 796.7,475.4 797.0,475.1 797.2,474.8 797.4,474.7 797.7,475.1 797.9,474.6 798.1,474.5 798.3,475.0 798.6,474.2 798.8,473.0 799.0,471.7 799.2,469.7 799.5,469.2 799.7,467.9 799.9,468.5 800.1,469.3 800.4,471.3 800.6,472.4 800.8,474.3 801.0,474.9 801.3,475.1 801.5,474.6 801.7,474.6 802.0,474.3 802.2,472.9 802.4,470.8 802.6,470.9 802.9,468.8 803.1,468.4 803.3,468.9 803.5,469.6 803.8,471.6 804.0,472.8 804.2,474.6 804.4,474.7 804.7,474.5 804.9,475.1 805.1,476.4 805.4,475.0 805.6,475.2 805.8,476.0 806.0,474.5 806.3,475.1 806.5,475.6 806.7,475.3 806.9,474.7 807.2,475.0 807.4,475.0 807.6,475.5 807.8,475.5 808.1,473.9 808.3,474.9 808.5,474.2 808.7,474.2 809.0,472.9 809.2,471.9 809.4,469.1 809.7,468.1 809.9,466.8 810.1,466.6 810.3,467.3 810.6,468.0 810.8,469.6 811.0,472.3 811.2,473.3 811.5,474.2 811.7,474.9 811.9,474.1 812.1,474.5 812.4,474.5 812.6,474.4 812.8,475.8 813.1,474.1 813.3,474.9 813.5,475.0 813.7,474.6 814.0,475.2 814.2,474.6 814.4,474.3 814.6,474.4 814.9,475.7 815.1,474.8 815.3,475.1 815.5,475.3 815.8,475.2 816.0,474.6 816.2,475.4 816.4,475.5 816.7,474.3 816.9,475.4 817.1,475.3 817.4,475.5 817.6,475.3 817.8,474.9 818.0,474.6 818.3,475.3 818.5,475.2 818.7,475.2 818.9,474.7 819.2,475.4 819.4,475.1 819.6,474.7 819.8,473.0 820.1,472.4 820.3,470.9 820.5,468.1 820.8,467.1 821.0,467.1 821.2,466.8 821.4,468.7 821.7,470.5 821.9,471.3 822.1,473.6 822.3,474.2 822.6,475.3 822.8,474.8 823.0,474.7 823.2,475.0 823.5,475.2 823.7,474.1 823.9,474.9 824.2,475.4 824.4,475.4 824.6,475.2 824.8,474.4 825.1,474.8 825.3,474.8 825.5,474.1 825.7,473.2 826.0,472.6 826.2,470.8 826.4,467.8 826.6,466.1 826.9,466.0 827.1,467.2 827.3,467.5 827.5,469.4 827.8,471.1 828.0,473.7 828.2,473.8 828.5,474.6 828.7,475.6 828.9,475.3 829.1,474.8 829.4,474.4 829.6,475.6 829.8,475.1 830.0,474.8 830.3,475.1 830.5,474.7 830.7,475.1 830.9,475.1 831.2,474.5 831.4,475.1 831.6,475.3 831.9,475.7 832.1,475.4 832.3,476.0 832.5,475.4 832.8,474.8 833.0,474.8 833.2,474.1 833.4,472.7 833.7,471.6 833.9,470.0 834.1,467.5 834.3,466.5 834.6,466.3 834.8,467.4 835.0,467.9 835.2,469.7 835.5,471.4 835.7,472.3 835.9,474.3 836.2,474.3 836.4,474.5 836.6,474.4 836.8,475.7 837.1,475.7 837.3,475.2 837.5,474.8 837.7,474.4 838.0,473.9 838.2,474.6 838.4,474.6 838.6,475.7 838.9,474.9 839.1,474.2 839.3,475.7 839.6,475.3 839.8,474.8 840.0,475.2 840.2,475.3 840.5,474.8 840.7,474.6 840.9,475.1 841.1,475.3 841.4,475.3 841.6,474.5 841.8,474.5 842.0,475.0 842.3,474.7 842.5,474.9 842.7,475.9 842.9,474.2 843.2,474.9 843.4,474.5 843.6,475.1" fill="none" stroke="#2b95c3" stroke-width="0.9" stroke-linejoin="round" />
<path d="M695.3 372.5L693.8 370.9A0.75 0.75 0 0 1 695.3 370.3A0.75 0.75 0 0 1 696.8 370.9Z" fill="#777"/>
<path d="M699.1 345.5L697.6 343.9A0.75 0.75 0 0 1 699.1 343.3A0.75 0.75 0 0 1 700.6 343.9Z" fill="#777"/>
<path d="M703.0 354.5L701.5 352.9A0.75 0.75 0 0 1 703.0 352.3A0.75 0.75 0 0 1 704.5 352.9Z" fill="#777"/>
<path d="M722.0 411.5L720.5 409.9A0.75 0.75 0 0 1 722.0 409.3A0.75 0.75 0 0 1 723.5 409.9Z" fill="#777"/>
<path d="M738.1 345.5L736.6 343.9A0.75 0.75 0 0 1 738.1 343.3A0.75 0.75 0 0 1 739.6 343.9Z" fill="#777"/>
<path d="M747.4 393.5L745.9 391.9A0.75 0.75 0 0 1 747.4 391.3A0.75 0.75 0 0 1 748.9 391.9Z" fill="#777"/>
<path d="M756.4 359.5L754.9 357.9A0.75 0.75 0 0 1 756.4 357.3A0.75 0.75 0 0 1 757.9 357.9Z" fill="#777"/>
<path d="M771.1 421.5L769.6 419.9A0.75 0.75 0 0 1 771.1 419.3A0.75 0.75 0 0 1 772.6 419.9Z" fill="#777"/>
<path d="M790.4 414.5L788.9 412.9A0.75 0.75 0 0 1 790.4 412.3A0.75 0.75 0 0 1 791.9 412.9Z" fill="#777"/>
<path d="M799.7 418.5L798.2 416.9A0.75 0.75 0 0 1 799.7 416.3A0.75 0.75 0 0 1 801.2 416.9Z" fill="#777"/>
<path d="M803.1 418.5L801.6 416.9A0.75 0.75 0 0 1 803.1 416.3A0.75 0.75 0 0 1 804.6 416.9Z" fill="#777"/>
<path d="M810.1 418.5L808.6 416.9A0.75 0.75 0 0 1 810.1 416.3A0.75 0.75 0 0 1 811.6 416.9Z" fill="#777"/>
<path d="M821.0 418.5L819.5 416.9A0.75 0.75 0 0 1 821.0 416.3A0.75 0.75 0 0 1 822.5 416.9Z" fill="#777"/>
<path d="M826.9 416.5L825.4 414.9A0.75 0.75 0 0 1 826.9 414.3A0.75 0.75 0 0 1 828.4 414.9Z" fill="#777"/>
<path d="M834.6 417.5L833.1 415.9A0.75 0.75 0 0 1 834.6 415.3A0.75 0.75 0 0 1 836.1 415.9Z" fill="#777"/>
<line x1="794" y1="344.1" x2="811.3" y2="344.1" stroke="#2b95c3" stroke-width="1" />
<text x="813" y="346.5" font-size="7" text-anchor="start" font-weight="bold" fill="#111" >fresh</text>
<line x1="794" y1="353.6" x2="811.3" y2="353.6" stroke="#6cc04a" stroke-width="1" />
<text x="813" y="356" font-size="7" text-anchor="start" font-weight="bold" fill="#111" >recycled</text>
<path d="M789.5 368L787.4 365.8A1.05 1.05 0 0 1 789.5 365A1.05 1.05 0 0 1 791.6 365.8Z" fill="#777"/>
<text x="797.5" y="368.5" font-size="7" text-anchor="start" font-weight="bold" fill="#111" >PDF#77-2306</text>
<text x="764" y="514" font-size="8.5" text-anchor="middle" font-weight="bold" fill="#111" >2-theta (degree)</text>
<text transform="translate(675.5,417) rotate(-90)" font-size="8.5" text-anchor="middle" font-weight="bold" fill="#111">Intensity (a.u.)</text>
<text x="661" y="350" font-size="17" text-anchor="start" font-weight="bold" fill="#000" >(f)</text>
<rect x="874.8" y="337.2" width="161.8" height="159.5" fill="none" stroke="#333" stroke-width="1" />
<line x1="874.8" y1="496.7" x2="874.8" y2="493.7" stroke="#333" stroke-width="1" />
<text x="874.8" y="505.7" font-size="6.5" text-anchor="middle" font-weight="bold" fill="#111" >408</text>
<line x1="928.7" y1="496.7" x2="928.7" y2="493.7" stroke="#333" stroke-width="1" />
<text x="928.7" y="505.7" font-size="6.5" text-anchor="middle" font-weight="bold" fill="#111" >406</text>
<line x1="982.7" y1="496.7" x2="982.7" y2="493.7" stroke="#333" stroke-width="1" />
<text x="982.7" y="505.7" font-size="6.5" text-anchor="middle" font-weight="bold" fill="#111" >404</text>
<line x1="1036.6" y1="496.7" x2="1036.6" y2="493.7" stroke="#333" stroke-width="1" />
<text x="1036.6" y="505.7" font-size="6.5" text-anchor="middle" font-weight="bold" fill="#111" >402</text>
<line x1="901.8" y1="496.7" x2="901.8" y2="494.9" stroke="#333" stroke-width="1" />
<line x1="955.7" y1="496.7" x2="955.7" y2="494.9" stroke="#333" stroke-width="1" />
<line x1="1009.6" y1="496.7" x2="1009.6" y2="494.9" stroke="#333" stroke-width="1" />
<line x1="874.8" y1="417.3" x2="1036.6" y2="417.3" stroke="#333" stroke-width="1" />
<clipPath id="cxt"><rect x="875" y="337.7" width="161" height="79"/></clipPath><clipPath id="cxb"><rect x="875" y="417.8" width="161" height="78.5"/></clipPath>
<g clip-path="url(#cxt)">
<polyline points="874.8,390.4 875.9,390.3 877.0,390.2 878.1,390.1 879.1,389.9 880.2,389.7 881.3,389.5 882.4,389.2 883.5,388.9 884.6,388.5 885.7,388.0 886.7,387.5 887.8,386.9 888.9,386.2 890.0,385.5 891.1,384.7 892.2,383.8 893.3,382.9 894.3,381.9 895.4,380.9 896.5,379.9 897.6,378.9 898.7,377.9 899.8,377.1 900.9,376.3 902.0,375.6 903.0,375.2 904.1,374.9 905.2,374.8 906.3,374.9 907.4,375.3 908.5,375.8 909.6,376.5 910.6,377.4 911.7,378.3 912.8,379.4 913.9,380.5 915.0,381.6 916.1,382.7 917.2,383.7 918.2,384.8 919.3,385.8 920.4,386.7 921.5,387.6 922.6,388.4 923.7,389.1 924.8,389.8 925.8,390.4 926.9,390.9 928.0,391.4 929.1,391.9 930.2,392.3 931.3,392.7 932.4,393.0 933.4,393.3 934.5,393.6 935.6,393.9 936.7,394.2 937.8,394.5 938.9,394.7 940.0,395.0 941.0,395.2 942.1,395.5 943.2,395.8 944.3,396.0 945.4,396.3 946.5,396.5 947.6,396.8 948.7,397.1 949.7,397.3 950.8,397.6 951.9,397.8 953.0,398.1 954.1,398.3 955.2,398.6 956.3,398.8 957.3,399.1 958.4,399.3 959.5,399.5 960.6,399.8 961.7,400.0 962.8,400.2 963.9,400.4 964.9,400.6 966.0,400.8 967.1,401.0 968.2,401.2 969.3,401.3 970.4,401.5 971.5,401.7 972.5,401.8 973.6,402.0 974.7,402.1 975.8,402.2 976.9,402.4 978.0,402.5 979.1,402.6 980.1,402.7 981.2,402.8 982.3,402.9 983.4,403.0 984.5,403.1 985.6,403.2 986.7,403.2 987.7,403.3 988.8,403.4 989.9,403.4 991.0,403.5 992.1,403.6 993.2,403.6 994.3,403.7 995.4,403.7 996.4,403.7 997.5,403.8 998.6,403.8 999.7,403.9 1000.8,403.9 1001.9,403.9 1003.0,404.0 1004.0,404.0 1005.1,404.0 1006.2,404.0 1007.3,404.1 1008.4,404.1 1009.5,404.1 1010.6,404.1 1011.6,404.1 1012.7,404.1 1013.8,404.2 1014.9,404.2 1016.0,404.2 1017.1,404.2 1018.2,404.2 1019.2,404.2 1020.3,404.2 1021.4,404.2 1022.5,404.2 1023.6,404.3 1024.7,404.3 1025.8,404.3 1026.8,404.3 1027.9,404.3 1029.0,404.3 1030.1,404.3 1031.2,404.3 1032.3,404.3 1033.4,404.3 1034.4,404.3 1035.5,404.3 1036.6,404.3" fill="none" stroke="#a8c83a" stroke-width="0.9" stroke-linejoin="round" />
<polyline points="874.8,391.3 875.9,391.3 877.0,391.3 878.1,391.3 879.1,391.3 880.2,391.3 881.3,391.3 882.4,391.3 883.5,391.3 884.6,391.4 885.7,391.4 886.7,391.4 887.8,391.4 888.9,391.4 890.0,391.4 891.1,391.4 892.2,391.5 893.3,391.5 894.3,391.5 895.4,391.5 896.5,391.5 897.6,391.6 898.7,391.6 899.8,391.6 900.9,391.7 902.0,391.7 903.0,391.6 904.1,391.1 905.2,388.8 906.3,381.4 907.4,361.4 908.5,318.0 909.6,243.2 910.6,143.5 911.7,47.2 912.8,-5.3 913.9,11.9 915.0,90.1 916.1,192.9 917.2,283.1 918.2,342.8 919.3,373.8 920.4,386.8 921.5,391.3 922.6,392.6 923.7,393.0 924.8,393.2 925.8,393.3 926.9,393.5 928.0,393.6 929.1,393.7 930.2,393.9 931.3,394.1 932.4,394.2 933.4,394.4 934.5,394.6 935.6,394.8 936.7,395.0 937.8,395.2 938.9,395.4 940.0,395.6 941.0,395.8 942.1,396.0 943.2,396.3 944.3,396.5 945.4,396.7 946.5,397.0 947.6,397.2 948.7,397.4 949.7,397.7 950.8,397.9 951.9,398.2 953.0,398.4 954.1,398.6 955.2,398.9 956.3,399.1 957.3,399.3 958.4,399.6 959.5,399.8 960.6,400.0 961.7,400.2 962.8,400.4 963.9,400.6 964.9,400.8 966.0,401.0 967.1,401.2 968.2,401.4 969.3,401.5 970.4,401.7 971.5,401.8 972.5,402.0 973.6,402.1 974.7,402.3 975.8,402.4 976.9,402.5 978.0,402.6 979.1,402.7 980.1,402.8 981.2,402.9 982.3,403.0 983.4,403.1 984.5,403.2 985.6,403.3 986.7,403.4 987.7,403.4 988.8,403.5 989.9,403.5 991.0,403.6 992.1,403.7 993.2,403.7 994.3,403.8 995.4,403.8 996.4,403.8 997.5,403.9 998.6,403.9 999.7,403.9 1000.8,404.0 1001.9,404.0 1003.0,404.0 1004.0,404.1 1005.1,404.1 1006.2,404.1 1007.3,404.1 1008.4,404.1 1009.5,404.2 1010.6,404.2 1011.6,404.2 1012.7,404.2 1013.8,404.2 1014.9,404.2 1016.0,404.2 1017.1,404.3 1018.2,404.3 1019.2,404.3 1020.3,404.3 1021.4,404.3 1022.5,404.3 1023.6,404.3 1024.7,404.3 1025.8,404.3 1026.8,404.3 1027.9,404.3 1029.0,404.3 1030.1,404.3 1031.2,404.3 1032.3,404.3 1033.4,404.4 1034.4,404.4 1035.5,404.4 1036.6,404.4" fill="none" stroke="#f09030" stroke-width="0.9" stroke-linejoin="round" />
<polyline points="874.8,391.1 875.9,391.1 877.0,391.1 878.1,391.1 879.1,391.1 880.2,391.1 881.3,391.1 882.4,391.1 883.5,391.1 884.6,391.1 885.7,391.1 886.7,391.1 887.8,391.2 888.9,391.2 890.0,391.2 891.1,391.2 892.2,391.2 893.3,391.2 894.3,391.2 895.4,391.2 896.5,391.3 897.6,391.3 898.7,391.3 899.8,391.3 900.9,391.3 902.0,391.4 903.0,391.4 904.1,391.4 905.2,391.4 906.3,391.5 907.4,391.5 908.5,391.5 909.6,391.6 910.6,391.6 911.7,391.7 912.8,391.7 913.9,391.8 915.0,391.8 916.1,391.9 917.2,392.0 918.2,392.0 919.3,392.1 920.4,392.2 921.5,392.3 922.6,392.3 923.7,392.4 924.8,392.5 925.8,392.6 926.9,392.7 928.0,392.8 929.1,392.9 930.2,393.1 931.3,393.2 932.4,393.3 933.4,393.4 934.5,393.5 935.6,393.7 936.7,393.8 937.8,393.9 938.9,394.0 940.0,394.1 941.0,394.2 942.1,394.2 943.2,394.3 944.3,394.3 945.4,394.2 946.5,394.1 947.6,394.0 948.7,393.8 949.7,393.5 950.8,393.2 951.9,392.7 953.0,392.2 954.1,391.5 955.2,390.7 956.3,389.8 957.3,388.8 958.4,387.7 959.5,386.4 960.6,385.0 961.7,383.6 962.8,382.0 963.9,380.4 964.9,378.8 966.0,377.1 967.1,375.5 968.2,373.9 969.3,372.4 970.4,371.1 971.5,370.0 972.5,369.2 973.6,368.6 974.7,368.3 975.8,368.4 976.9,368.8 978.0,369.6 979.1,370.6 980.1,371.9 981.2,373.4 982.3,375.1 983.4,376.9 984.5,378.8 985.6,380.7 986.7,382.7 987.7,384.6 988.8,386.4 989.9,388.2 991.0,389.8 992.1,391.4 993.2,392.8 994.3,394.2 995.4,395.4 996.4,396.5 997.5,397.4 998.6,398.3 999.7,399.0 1000.8,399.7 1001.9,400.3 1003.0,400.7 1004.0,401.2 1005.1,401.5 1006.2,401.8 1007.3,402.1 1008.4,402.3 1009.5,402.5 1010.6,402.7 1011.6,402.8 1012.7,402.9 1013.8,403.0 1014.9,403.1 1016.0,403.2 1017.1,403.3 1018.2,403.3 1019.2,403.4 1020.3,403.4 1021.4,403.5 1022.5,403.5 1023.6,403.6 1024.7,403.6 1025.8,403.6 1026.8,403.7 1027.9,403.7 1029.0,403.7 1030.1,403.8 1031.2,403.8 1032.3,403.8 1033.4,403.8 1034.4,403.8 1035.5,403.9 1036.6,403.9" fill="none" stroke="#e0307a" stroke-width="0.9" stroke-linejoin="round" />
<polyline points="874.8,391.3 875.9,391.3 877.0,391.3 878.1,391.3 879.1,391.3 880.2,391.3 881.3,391.3 882.4,391.3 883.5,391.3 884.6,391.4 885.7,391.4 886.7,391.4 887.8,391.4 888.9,391.4 890.0,391.4 891.1,391.4 892.2,391.5 893.3,391.5 894.3,391.5 895.4,391.5 896.5,391.5 897.6,391.6 898.7,391.6 899.8,391.6 900.9,391.7 902.0,391.7 903.0,391.7 904.1,391.8 905.2,391.8 906.3,391.8 907.4,391.9 908.5,391.9 909.6,392.0 910.6,392.1 911.7,392.1 912.8,392.2 913.9,392.2 915.0,392.3 916.1,392.4 917.2,392.5 918.2,392.6 919.3,392.7 920.4,392.8 921.5,392.9 922.6,393.0 923.7,393.1 924.8,393.2 925.8,393.3 926.9,393.5 928.0,393.6 929.1,393.7 930.2,393.9 931.3,394.1 932.4,394.2 933.4,394.4 934.5,394.6 935.6,394.8 936.7,395.0 937.8,395.2 938.9,395.4 940.0,395.6 941.0,395.8 942.1,396.0 943.2,396.3 944.3,396.5 945.4,396.7 946.5,397.0 947.6,397.2 948.7,397.4 949.7,397.7 950.8,397.9 951.9,398.2 953.0,398.4 954.1,398.6 955.2,398.9 956.3,399.1 957.3,399.3 958.4,399.6 959.5,399.8 960.6,400.0 961.7,400.2 962.8,400.4 963.9,400.6 964.9,400.6 966.0,399.7 967.1,395.4 968.2,380.8 969.3,343.2 970.4,269.5 971.5,162.6 972.5,56.2 973.6,3.0 974.7,34.3 975.8,131.4 976.9,243.2 978.0,327.8 979.1,374.7 980.1,394.4 981.2,400.9 982.3,402.6 983.4,403.1 984.5,403.2 985.6,403.3 986.7,403.4 987.7,403.4 988.8,403.5 989.9,403.5 991.0,403.6 992.1,403.7 993.2,403.7 994.3,403.8 995.4,403.8 996.4,403.8 997.5,403.9 998.6,403.9 999.7,403.9 1000.8,404.0 1001.9,404.0 1003.0,404.0 1004.0,404.1 1005.1,404.1 1006.2,404.1 1007.3,404.1 1008.4,404.1 1009.5,404.2 1010.6,404.2 1011.6,404.2 1012.7,404.2 1013.8,404.2 1014.9,404.2 1016.0,404.2 1017.1,404.3 1018.2,404.3 1019.2,404.3 1020.3,404.3 1021.4,404.3 1022.5,404.3 1023.6,404.3 1024.7,404.3 1025.8,404.3 1026.8,404.3 1027.9,404.3 1029.0,404.3 1030.1,404.3 1031.2,404.3 1032.3,404.3 1033.4,404.4 1034.4,404.4 1035.5,404.4 1036.6,404.4" fill="none" stroke="#f09030" stroke-width="0.9" stroke-linejoin="round" />
<polyline points="874.8,391.3 875.9,391.3 877.0,391.3 878.1,391.3 879.1,391.3 880.2,391.3 881.3,391.3 882.4,391.3 883.5,391.3 884.6,391.4 885.7,391.4 886.7,391.4 887.8,391.4 888.9,391.4 890.0,391.4 891.1,391.4 892.2,391.5 893.3,391.5 894.3,391.5 895.4,391.5 896.5,391.5 897.6,391.6 898.7,391.6 899.8,391.6 900.9,391.7 902.0,391.7 903.0,391.7 904.1,391.8 905.2,391.8 906.3,391.8 907.4,391.9 908.5,391.9 909.6,392.0 910.6,392.1 911.7,392.1 912.8,392.2 913.9,392.2 915.0,392.3 916.1,392.4 917.2,392.5 918.2,392.6 919.3,392.7 920.4,392.8 921.5,392.9 922.6,393.0 923.7,393.1 924.8,393.2 925.8,393.3 926.9,393.5 928.0,393.6 929.1,393.7 930.2,393.9 931.3,394.1 932.4,394.2 933.4,394.4 934.5,394.6 935.6,394.8 936.7,395.0 937.8,395.2 938.9,395.4 940.0,395.6 941.0,395.8 942.1,396.0 943.2,396.3 944.3,396.5 945.4,396.7 946.5,397.0 947.6,397.2 948.7,397.4 949.7,397.7 950.8,397.9 951.9,398.2 953.0,398.4 954.1,398.6 955.2,398.9 956.3,399.1 957.3,399.3 958.4,399.6 959.5,399.8 960.6,400.0 961.7,400.2 962.8,400.4 963.9,400.6 964.9,400.8 966.0,401.0 967.1,401.2 968.2,401.4 969.3,401.5 970.4,401.7 971.5,401.8 972.5,402.0 973.6,402.1 974.7,402.3 975.8,402.4 976.9,402.5 978.0,402.6 979.1,402.7 980.1,402.8 981.2,402.9 982.3,403.0 983.4,403.1 984.5,403.2 985.6,403.3 986.7,403.4 987.7,403.4 988.8,403.5 989.9,403.5 991.0,403.6 992.1,403.7 993.2,403.7 994.3,403.8 995.4,403.8 996.4,403.8 997.5,403.9 998.6,403.9 999.7,403.9 1000.8,404.0 1001.9,404.0 1003.0,404.0 1004.0,404.1 1005.1,404.1 1006.2,404.1 1007.3,404.1 1008.4,404.1 1009.5,404.2 1010.6,404.2 1011.6,404.2 1012.7,404.2 1013.8,404.2 1014.9,404.2 1016.0,404.2 1017.1,404.3 1018.2,404.3 1019.2,404.3 1020.3,404.3 1021.4,404.3 1022.5,404.3 1023.6,404.3 1024.7,404.3 1025.8,404.3 1026.8,404.3 1027.9,404.3 1029.0,404.3 1030.1,404.3 1031.2,404.3 1032.3,404.3 1033.4,404.4 1034.4,404.4 1035.5,404.4 1036.6,404.4" fill="none" stroke="#777" stroke-width="0.9" stroke-linejoin="round" />
<polyline points="874.8,389.2 875.9,389.1 877.0,387.8 878.1,386.8 879.1,386.1 880.2,386.5 881.3,385.1 882.4,384.1 883.5,384.7 884.6,383.7 885.7,383.1 886.7,380.8 887.8,380.4 888.9,379.0 890.0,376.5 891.1,376.7 892.2,375.1 893.3,375.3 894.3,372.1 895.4,370.5 896.5,370.4 897.6,368.5 898.7,368.1 899.8,366.4 900.9,366.4 902.0,366.8 903.0,366.4 904.1,365.7 905.2,362.9 906.3,357.4 907.4,338.0 908.5,296.2 909.6,222.2 910.6,124.5 911.7,28.7 912.8,-22.2 913.9,-3.3 915.0,74.8 916.1,179.4 917.2,270.8 918.2,333.6 919.3,364.0 920.4,378.6 921.5,383.9 922.6,385.2 923.7,385.2 924.8,388.0 925.8,387.5 926.9,389.0 928.0,387.8 929.1,389.0 930.2,390.7 931.3,391.2 932.4,389.3 933.4,389.6 934.5,390.8 935.6,391.7 936.7,391.4 937.8,391.7 938.9,390.8 940.0,392.2 941.0,392.8 942.1,391.6 943.2,390.9 944.3,391.4 945.4,392.6 946.5,390.5 947.6,391.7 948.7,390.7 949.7,391.1 950.8,390.6 951.9,390.3 953.0,390.9 954.1,389.3 955.2,389.2 956.3,387.0 957.3,385.6 958.4,385.0 959.5,381.0 960.6,381.7 961.7,380.2 962.8,377.3 963.9,376.7 964.9,373.8 966.0,369.2 967.1,364.6 968.2,347.2 969.3,307.9 970.4,232.6 971.5,125.1 972.5,16.4 973.6,-38.2 974.7,-7.4 975.8,87.4 976.9,201.3 978.0,284.2 979.1,332.6 980.1,351.8 981.2,359.4 982.3,362.7 983.4,366.2 984.5,366.8 985.6,367.4 986.7,369.4 987.7,370.4 988.8,373.0 989.9,374.4 991.0,377.2 992.1,377.2 993.2,379.7 994.3,381.0 995.4,382.7 996.4,385.3 997.5,386.3 998.6,388.0 999.7,389.8 1000.8,390.9 1001.9,390.0 1003.0,392.6 1004.0,391.7 1005.1,393.9 1006.2,396.3 1007.3,395.4 1008.4,396.0 1009.5,397.0 1010.6,397.5 1011.6,398.0 1012.7,397.9 1013.8,399.8 1014.9,400.0 1016.0,399.5 1017.1,400.2 1018.2,400.8 1019.2,401.3 1020.3,401.0 1021.4,401.5 1022.5,400.9 1023.6,400.4 1024.7,401.0 1025.8,402.3 1026.8,402.4 1027.9,401.8 1029.0,401.4 1030.1,402.1 1031.2,403.3 1032.3,403.1 1033.4,401.5 1034.4,402.1 1035.5,401.0 1036.6,401.3" fill="none" stroke="#3a4450" stroke-width="0.9" stroke-linejoin="round" />
<polyline points="874.8,389.4 875.9,389.2 877.0,388.9 878.1,388.6 879.1,388.2 880.2,387.7 881.3,387.1 882.4,386.5 883.5,385.7 884.6,384.8 885.7,383.9 886.7,382.8 887.8,381.6 888.9,380.3 890.0,378.9 891.1,377.5 892.2,376.1 893.3,374.6 894.3,373.2 895.4,371.8 896.5,370.6 897.6,369.5 898.7,368.6 899.8,367.9 900.9,367.4 902.0,367.2 903.0,367.1 904.1,366.8 905.2,365.0 906.3,358.3 907.4,339.1 908.5,296.8 909.6,223.3 910.6,124.8 911.7,29.9 912.8,-21.2 913.9,-2.7 915.0,76.8 916.1,181.0 917.2,272.4 918.2,333.2 919.3,365.3 920.4,379.2 921.5,384.6 922.6,386.6 923.7,387.7 924.8,388.4 925.8,389.1 926.9,389.6 928.0,390.1 929.1,390.5 930.2,390.9 931.3,391.3 932.4,391.6 933.4,391.8 934.5,392.1 935.6,392.3 936.7,392.5 937.8,392.7 938.9,392.8 940.0,393.0 941.0,393.1 942.1,393.2 943.2,393.2 944.3,393.2 945.4,393.2 946.5,393.1 947.6,392.9 948.7,392.7 949.7,392.4 950.8,392.0 951.9,391.5 953.0,390.9 954.1,390.2 955.2,389.3 956.3,388.3 957.3,387.2 958.4,385.9 959.5,384.5 960.6,382.9 961.7,381.3 962.8,379.5 963.9,377.6 964.9,375.4 966.0,372.4 967.1,365.9 968.2,349.2 969.3,309.5 970.4,233.9 971.5,125.3 972.5,17.5 973.6,-36.9 974.7,-6.6 975.8,90.0 976.9,201.5 978.0,286.2 979.1,333.5 980.1,353.9 981.2,361.4 982.3,364.2 983.4,365.9 984.5,367.5 985.6,369.1 986.7,370.8 987.7,372.5 988.8,374.3 989.9,376.0 991.0,377.8 992.1,379.5 993.2,381.2 994.3,382.8 995.4,384.4 996.4,385.9 997.5,387.4 998.6,388.7 999.7,390.0 1000.8,391.2 1001.9,392.3 1003.0,393.3 1004.0,394.3 1005.1,395.2 1006.2,396.0 1007.3,396.8 1008.4,397.4 1009.5,398.1 1010.6,398.7 1011.6,399.2 1012.7,399.7 1013.8,400.1 1014.9,400.5 1016.0,400.8 1017.1,401.1 1018.2,401.4 1019.2,401.7 1020.3,401.9 1021.4,402.1 1022.5,402.3 1023.6,402.4 1024.7,402.6 1025.8,402.7 1026.8,402.8 1027.9,402.9 1029.0,403.0 1030.1,403.1 1031.2,403.2 1032.3,403.2 1033.4,403.3 1034.4,403.3 1035.5,403.4 1036.6,403.4" fill="none" stroke="#2ab0c8" stroke-width="0.9" stroke-linejoin="round" />
</g>
<g clip-path="url(#cxb)">
<polyline points="874.8,466.2 875.9,466.1 877.0,466.1 878.1,466.0 879.1,465.9 880.2,465.9 881.3,465.8 882.4,465.7 883.5,465.6 884.6,465.4 885.7,465.3 886.7,465.1 887.8,464.9 888.9,464.6 890.0,464.3 891.1,464.0 892.2,463.6 893.3,463.2 894.3,462.7 895.4,462.2 896.5,461.6 897.6,461.0 898.7,460.3 899.8,459.5 900.9,458.7 902.0,457.8 903.0,456.8 904.1,455.8 905.2,454.8 906.3,453.7 907.4,452.6 908.5,451.5 909.6,450.4 910.6,449.2 911.7,448.2 912.8,447.1 913.9,446.2 915.0,445.3 916.1,444.6 917.2,444.0 918.2,443.5 919.3,443.2 920.4,443.1 921.5,443.2 922.6,443.5 923.7,444.0 924.8,444.7 925.8,445.5 926.9,446.5 928.0,447.6 929.1,448.9 930.2,450.2 931.3,451.6 932.4,453.1 933.4,454.5 934.5,456.0 935.6,457.5 936.7,459.0 937.8,460.4 938.9,461.8 940.0,463.1 941.0,464.4 942.1,465.6 943.2,466.8 944.3,467.9 945.4,468.9 946.5,469.8 947.6,470.7 948.7,471.5 949.7,472.3 950.8,473.0 951.9,473.6 953.0,474.2 954.1,474.7 955.2,475.2 956.3,475.6 957.3,476.1 958.4,476.4 959.5,476.8 960.6,477.1 961.7,477.4 962.8,477.6 963.9,477.9 964.9,478.1 966.0,478.3 967.1,478.5 968.2,478.6 969.3,478.8 970.4,479.0 971.5,479.1 972.5,479.2 973.6,479.4 974.7,479.5 975.8,479.6 976.9,479.7 978.0,479.8 979.1,479.9 980.1,479.9 981.2,480.0 982.3,480.1 983.4,480.2 984.5,480.2 985.6,480.3 986.7,480.3 987.7,480.4 988.8,480.5 989.9,480.5 991.0,480.5 992.1,480.6 993.2,480.6 994.3,480.7 995.4,480.7 996.4,480.7 997.5,480.8 998.6,480.8 999.7,480.8 1000.8,480.8 1001.9,480.9 1003.0,480.9 1004.0,480.9 1005.1,480.9 1006.2,481.0 1007.3,481.0 1008.4,481.0 1009.5,481.0 1010.6,481.0 1011.6,481.0 1012.7,481.0 1013.8,481.1 1014.9,481.1 1016.0,481.1 1017.1,481.1 1018.2,481.1 1019.2,481.1 1020.3,481.1 1021.4,481.1 1022.5,481.1 1023.6,481.2 1024.7,481.2 1025.8,481.2 1026.8,481.2 1027.9,481.2 1029.0,481.2 1030.1,481.2 1031.2,481.2 1032.3,481.2 1033.4,481.2 1034.4,481.2 1035.5,481.2 1036.6,481.2" fill="none" stroke="#a8c83a" stroke-width="0.9" stroke-linejoin="round" />
<polyline points="874.8,467.1 875.9,467.1 877.0,467.1 878.1,467.1 879.1,467.1 880.2,467.2 881.3,467.2 882.4,467.2 883.5,467.2 884.6,467.2 885.7,467.3 886.7,467.3 887.8,467.3 888.9,467.4 890.0,467.4 891.1,467.4 892.2,467.5 893.3,467.5 894.3,467.6 895.4,467.6 896.5,467.7 897.6,467.7 898.7,467.8 899.8,467.8 900.9,467.9 902.0,468.0 903.0,468.0 904.1,468.1 905.2,468.2 906.3,468.3 907.4,468.4 908.5,468.5 909.6,468.6 910.6,468.7 911.7,468.8 912.8,468.9 913.9,468.7 915.0,467.6 916.1,463.2 917.2,450.0 918.2,418.3 919.3,357.7 920.4,266.8 921.5,164.4 922.6,88.2 923.7,73.9 924.8,128.9 925.8,226.3 926.9,325.8 928.0,399.7 929.1,442.3 930.2,461.9 931.3,469.4 932.4,471.8 933.4,472.6 934.5,472.9 935.6,473.2 936.7,473.5 937.8,473.7 938.9,474.0 940.0,474.3 941.0,474.5 942.1,474.8 943.2,475.0 944.3,475.3 945.4,475.6 946.5,475.8 947.6,476.1 948.7,476.3 949.7,476.6 950.8,476.8 951.9,477.0 953.0,477.2 954.1,477.4 955.2,477.7 956.3,477.9 957.3,478.0 958.4,478.2 959.5,478.4 960.6,478.6 961.7,478.7 962.8,478.9 963.9,479.0 964.9,479.2 966.0,479.3 967.1,479.4 968.2,479.6 969.3,479.7 970.4,479.8 971.5,479.9 972.5,480.0 973.6,480.1 974.7,480.2 975.8,480.2 976.9,480.3 978.0,480.4 979.1,480.5 980.1,480.5 981.2,480.6 982.3,480.6 983.4,480.7 984.5,480.7 985.6,480.8 986.7,480.8 987.7,480.9 988.8,480.9 989.9,480.9 991.0,481.0 992.1,481.0 993.2,481.0 994.3,481.0 995.4,481.1 996.4,481.1 997.5,481.1 998.6,481.1 999.7,481.2 1000.8,481.2 1001.9,481.2 1003.0,481.2 1004.0,481.2 1005.1,481.2 1006.2,481.2 1007.3,481.3 1008.4,481.3 1009.5,481.3 1010.6,481.3 1011.6,481.3 1012.7,481.3 1013.8,481.3 1014.9,481.3 1016.0,481.3 1017.1,481.3 1018.2,481.3 1019.2,481.3 1020.3,481.3 1021.4,481.3 1022.5,481.3 1023.6,481.4 1024.7,481.4 1025.8,481.4 1026.8,481.4 1027.9,481.4 1029.0,481.4 1030.1,481.4 1031.2,481.4 1032.3,481.4 1033.4,481.4 1034.4,481.4 1035.5,481.4 1036.6,481.4" fill="none" stroke="#f09030" stroke-width="0.9" stroke-linejoin="round" />
<polyline points="874.8,466.9 875.9,466.9 877.0,466.9 878.1,466.9 879.1,466.9 880.2,467.0 881.3,467.0 882.4,467.0 883.5,467.0 884.6,467.0 885.7,467.0 886.7,467.1 887.8,467.1 888.9,467.1 890.0,467.1 891.1,467.2 892.2,467.2 893.3,467.2 894.3,467.3 895.4,467.3 896.5,467.4 897.6,467.4 898.7,467.5 899.8,467.5 900.9,467.6 902.0,467.6 903.0,467.7 904.1,467.8 905.2,467.9 906.3,467.9 907.4,468.0 908.5,468.1 909.6,468.2 910.6,468.3 911.7,468.4 912.8,468.5 913.9,468.7 915.0,468.8 916.1,468.9 917.2,469.1 918.2,469.2 919.3,469.4 920.4,469.5 921.5,469.7 922.6,469.9 923.7,470.0 924.8,470.2 925.8,470.4 926.9,470.6 928.0,470.8 929.1,471.0 930.2,471.2 931.3,471.5 932.4,471.7 933.4,471.9 934.5,472.1 935.6,472.4 936.7,472.6 937.8,472.8 938.9,473.0 940.0,473.3 941.0,473.5 942.1,473.7 943.2,473.9 944.3,474.1 945.4,474.2 946.5,474.4 947.6,474.6 948.7,474.7 949.7,474.8 950.8,474.9 951.9,474.9 953.0,474.9 954.1,474.9 955.2,474.8 956.3,474.6 957.3,474.4 958.4,474.1 959.5,473.8 960.6,473.4 961.7,472.8 962.8,472.2 963.9,471.5 964.9,470.7 966.0,469.7 967.1,468.6 968.2,467.5 969.3,466.2 970.4,464.8 971.5,463.3 972.5,461.7 973.6,460.1 974.7,458.4 975.8,456.6 976.9,454.9 978.0,453.1 979.1,451.4 980.1,449.8 981.2,448.3 982.3,447.0 983.4,445.8 984.5,444.9 985.6,444.3 986.7,443.9 987.7,443.9 988.8,444.1 989.9,444.7 991.0,445.5 992.1,446.6 993.2,447.9 994.3,449.4 995.4,451.0 996.4,452.8 997.5,454.6 998.6,456.4 999.7,458.3 1000.8,460.1 1001.9,461.9 1003.0,463.6 1004.0,465.3 1005.1,466.8 1006.2,468.3 1007.3,469.7 1008.4,470.9 1009.5,472.1 1010.6,473.1 1011.6,474.1 1012.7,474.9 1013.8,475.7 1014.9,476.3 1016.0,476.9 1017.1,477.4 1018.2,477.9 1019.2,478.2 1020.3,478.6 1021.4,478.9 1022.5,479.1 1023.6,479.3 1024.7,479.5 1025.8,479.6 1026.8,479.8 1027.9,479.9 1029.0,480.0 1030.1,480.1 1031.2,480.2 1032.3,480.2 1033.4,480.3 1034.4,480.3 1035.5,480.4 1036.6,480.4" fill="none" stroke="#e0307a" stroke-width="0.9" stroke-linejoin="round" />
<polyline points="874.8,467.1 875.9,467.1 877.0,467.1 878.1,467.1 879.1,467.1 880.2,467.2 881.3,467.2 882.4,467.2 883.5,467.2 884.6,467.2 885.7,467.3 886.7,467.3 887.8,467.3 888.9,467.4 890.0,467.4 891.1,467.4 892.2,467.5 893.3,467.5 894.3,467.6 895.4,467.6 896.5,467.7 897.6,467.7 898.7,467.8 899.8,467.8 900.9,467.9 902.0,468.0 903.0,468.0 904.1,468.1 905.2,468.2 906.3,468.3 907.4,468.4 908.5,468.5 909.6,468.6 910.6,468.7 911.7,468.8 912.8,469.0 913.9,469.1 915.0,469.2 916.1,469.4 917.2,469.5 918.2,469.7 919.3,469.9 920.4,470.0 921.5,470.2 922.6,470.4 923.7,470.6 924.8,470.8 925.8,471.0 926.9,471.2 928.0,471.5 929.1,471.7 930.2,471.9 931.3,472.2 932.4,472.4 933.4,472.7 934.5,472.9 935.6,473.2 936.7,473.5 937.8,473.7 938.9,474.0 940.0,474.3 941.0,474.5 942.1,474.8 943.2,475.0 944.3,475.3 945.4,475.6 946.5,475.8 947.6,476.1 948.7,476.3 949.7,476.6 950.8,476.8 951.9,477.0 953.0,477.2 954.1,477.4 955.2,477.7 956.3,477.9 957.3,478.0 958.4,478.2 959.5,478.4 960.6,478.6 961.7,478.7 962.8,478.9 963.9,479.0 964.9,479.2 966.0,479.3 967.1,479.4 968.2,479.6 969.3,479.7 970.4,479.8 971.5,479.9 972.5,479.9 973.6,479.7 974.7,478.1 975.8,471.6 976.9,451.5 978.0,403.9 979.1,318.5 980.1,206.7 981.2,110.8 982.3,81.8 983.4,137.1 984.5,244.4 985.6,350.9 986.7,423.8 987.7,460.9 988.8,475.3 989.9,479.7 991.0,480.7 992.1,481.0 993.2,481.0 994.3,481.0 995.4,481.1 996.4,481.1 997.5,481.1 998.6,481.1 999.7,481.2 1000.8,481.2 1001.9,481.2 1003.0,481.2 1004.0,481.2 1005.1,481.2 1006.2,481.2 1007.3,481.3 1008.4,481.3 1009.5,481.3 1010.6,481.3 1011.6,481.3 1012.7,481.3 1013.8,481.3 1014.9,481.3 1016.0,481.3 1017.1,481.3 1018.2,481.3 1019.2,481.3 1020.3,481.3 1021.4,481.3 1022.5,481.3 1023.6,481.4 1024.7,481.4 1025.8,481.4 1026.8,481.4 1027.9,481.4 1029.0,481.4 1030.1,481.4 1031.2,481.4 1032.3,481.4 1033.4,481.4 1034.4,481.4 1035.5,481.4 1036.6,481.4" fill="none" stroke="#f09030" stroke-width="0.9" stroke-linejoin="round" />
<polyline points="874.8,467.1 875.9,467.1 877.0,467.1 878.1,467.1 879.1,467.1 880.2,467.2 881.3,467.2 882.4,467.2 883.5,467.2 884.6,467.2 885.7,467.3 886.7,467.3 887.8,467.3 888.9,467.4 890.0,467.4 891.1,467.4 892.2,467.5 893.3,467.5 894.3,467.6 895.4,467.6 896.5,467.7 897.6,467.7 898.7,467.8 899.8,467.8 900.9,467.9 902.0,468.0 903.0,468.0 904.1,468.1 905.2,468.2 906.3,468.3 907.4,468.4 908.5,468.5 909.6,468.6 910.6,468.7 911.7,468.8 912.8,469.0 913.9,469.1 915.0,469.2 916.1,469.4 917.2,469.5 918.2,469.7 919.3,469.9 920.4,470.0 921.5,470.2 922.6,470.4 923.7,470.6 924.8,470.8 925.8,471.0 926.9,471.2 928.0,471.5 929.1,471.7 930.2,471.9 931.3,472.2 932.4,472.4 933.4,472.7 934.5,472.9 935.6,473.2 936.7,473.5 937.8,473.7 938.9,474.0 940.0,474.3 941.0,474.5 942.1,474.8 943.2,475.0 944.3,475.3 945.4,475.6 946.5,475.8 947.6,476.1 948.7,476.3 949.7,476.6 950.8,476.8 951.9,477.0 953.0,477.2 954.1,477.4 955.2,477.7 956.3,477.9 957.3,478.0 958.4,478.2 959.5,478.4 960.6,478.6 961.7,478.7 962.8,478.9 963.9,479.0 964.9,479.2 966.0,479.3 967.1,479.4 968.2,479.6 969.3,479.7 970.4,479.8 971.5,479.9 972.5,480.0 973.6,480.1 974.7,480.2 975.8,480.2 976.9,480.3 978.0,480.4 979.1,480.5 980.1,480.5 981.2,480.6 982.3,480.6 983.4,480.7 984.5,480.7 985.6,480.8 986.7,480.8 987.7,480.9 988.8,480.9 989.9,480.9 991.0,481.0 992.1,481.0 993.2,481.0 994.3,481.0 995.4,481.1 996.4,481.1 997.5,481.1 998.6,481.1 999.7,481.2 1000.8,481.2 1001.9,481.2 1003.0,481.2 1004.0,481.2 1005.1,481.2 1006.2,481.2 1007.3,481.3 1008.4,481.3 1009.5,481.3 1010.6,481.3 1011.6,481.3 1012.7,481.3 1013.8,481.3 1014.9,481.3 1016.0,481.3 1017.1,481.3 1018.2,481.3 1019.2,481.3 1020.3,481.3 1021.4,481.3 1022.5,481.3 1023.6,481.4 1024.7,481.4 1025.8,481.4 1026.8,481.4 1027.9,481.4 1029.0,481.4 1030.1,481.4 1031.2,481.4 1032.3,481.4 1033.4,481.4 1034.4,481.4 1035.5,481.4 1036.6,481.4" fill="none" stroke="#777" stroke-width="0.9" stroke-linejoin="round" />
<polyline points="874.8,465.8 875.9,463.3 877.0,464.0 878.1,463.5 879.1,463.8 880.2,461.8 881.3,462.2 882.4,461.6 883.5,460.8 884.6,460.5 885.7,460.2 886.7,459.7 887.8,458.5 888.9,458.8 890.0,457.2 891.1,454.1 892.2,456.7 893.3,454.4 894.3,453.0 895.4,452.7 896.5,451.6 897.6,450.3 898.7,448.5 899.8,448.3 900.9,445.9 902.0,447.3 903.0,444.3 904.1,444.3 905.2,443.7 906.3,443.2 907.4,442.1 908.5,441.7 909.6,436.1 910.6,432.5 911.7,416.5 912.8,382.7 913.9,326.8 915.0,248.1 916.1,172.3 917.2,119.0 918.2,103.2 919.3,100.5 920.4,86.8 921.5,54.9 922.6,21.8 923.7,30.2 924.8,95.4 925.8,195.4 926.9,297.0 928.0,373.2 929.1,414.9 930.2,437.6 931.3,444.6 932.4,449.8 933.4,450.8 934.5,454.7 935.6,455.6 936.7,455.8 937.8,456.1 938.9,458.4 940.0,460.3 941.0,460.7 942.1,462.9 943.2,464.6 944.3,464.8 945.4,465.4 946.5,467.3 947.6,467.2 948.7,468.8 949.7,468.5 950.8,470.6 951.9,469.5 953.0,469.2 954.1,470.4 955.2,470.0 956.3,469.8 957.3,470.5 958.4,471.1 959.5,468.5 960.6,469.9 961.7,469.4 962.8,468.8 963.9,468.9 964.9,466.4 966.0,467.1 967.1,465.3 968.2,464.4 969.3,462.8 970.4,461.2 971.5,459.5 972.5,458.5 973.6,457.8 974.7,453.4 975.8,444.7 976.9,422.4 978.0,371.9 979.1,285.4 980.1,172.9 981.2,72.4 982.3,43.4 983.4,97.2 984.5,202.5 985.6,308.3 986.7,380.9 987.7,418.0 988.8,431.5 989.9,436.1 991.0,436.4 992.1,437.5 993.2,437.8 994.3,438.9 995.4,439.4 996.4,441.6 997.5,443.6 998.6,443.7 999.7,445.6 1000.8,447.4 1001.9,448.5 1003.0,450.8 1004.0,451.9 1005.1,452.4 1006.2,454.1 1007.3,457.0 1008.4,458.5 1009.5,460.4 1010.6,461.1 1011.6,462.5 1012.7,462.4 1013.8,466.0 1014.9,465.4 1016.0,468.1 1017.1,467.4 1018.2,468.7 1019.2,470.3 1020.3,470.7 1021.4,471.3 1022.5,473.3 1023.6,473.8 1024.7,474.2 1025.8,474.2 1026.8,474.3 1027.9,475.0 1029.0,475.4 1030.1,476.2 1031.2,477.2 1032.3,476.7 1033.4,476.5 1034.4,476.9 1035.5,478.6 1036.6,477.9" fill="none" stroke="#3a4450" stroke-width="0.9" stroke-linejoin="round" />
<polyline points="874.8,465.2 875.9,465.0 877.0,464.8 878.1,464.6 879.1,464.4 880.2,464.1 881.3,463.8 882.4,463.4 883.5,462.9 884.6,462.4 885.7,461.8 886.7,461.2 887.8,460.5 888.9,459.7 890.0,458.8 891.1,457.9 892.2,456.9 893.3,455.9 894.3,454.8 895.4,453.7 896.5,452.6 897.6,451.5 898.7,450.4 899.8,449.3 900.9,448.3 902.0,447.4 903.0,446.5 904.1,445.7 905.2,444.9 906.3,444.2 907.4,443.5 908.5,442.5 909.6,440.2 910.6,433.9 911.7,418.0 912.8,384.3 913.9,326.9 915.0,250.2 916.1,173.6 917.2,121.9 918.2,104.3 919.3,103.1 920.4,89.4 921.5,54.3 922.6,22.5 923.7,31.5 924.8,96.5 925.8,197.9 926.9,299.1 928.0,374.2 929.1,417.9 930.2,438.7 931.3,447.3 932.4,451.0 933.4,453.0 934.5,454.6 935.6,456.1 936.7,457.5 937.8,458.9 938.9,460.3 940.0,461.6 941.0,462.9 942.1,464.0 943.2,465.1 944.3,466.1 945.4,467.1 946.5,467.9 947.6,468.7 948.7,469.4 949.7,470.0 950.8,470.6 951.9,471.0 953.0,471.4 954.1,471.6 955.2,471.8 956.3,471.9 957.3,471.9 958.4,471.8 959.5,471.6 960.6,471.2 961.7,470.8 962.8,470.3 963.9,469.6 964.9,468.8 966.0,467.8 967.1,466.8 968.2,465.6 969.3,464.3 970.4,462.8 971.5,461.2 972.5,459.5 973.6,457.4 974.7,453.8 975.8,445.3 976.9,423.2 978.0,373.6 979.1,286.2 980.1,172.5 981.2,74.7 982.3,44.0 983.4,97.7 984.5,203.6 985.6,309.0 986.7,381.0 987.7,417.5 988.8,431.7 989.9,436.0 991.0,437.4 992.1,438.1 993.2,438.9 994.3,439.9 995.4,441.0 996.4,442.3 997.5,443.6 998.6,445.1 999.7,446.6 1000.8,448.1 1001.9,449.7 1003.0,451.3 1004.0,452.9 1005.1,454.5 1006.2,456.1 1007.3,457.7 1008.4,459.2 1009.5,460.7 1010.6,462.2 1011.6,463.5 1012.7,464.9 1013.8,466.1 1014.9,467.3 1016.0,468.5 1017.1,469.5 1018.2,470.5 1019.2,471.4 1020.3,472.3 1021.4,473.1 1022.5,473.8 1023.6,474.5 1024.7,475.1 1025.8,475.7 1026.8,476.2 1027.9,476.6 1029.0,477.1 1030.1,477.4 1031.2,477.8 1032.3,478.1 1033.4,478.4 1034.4,478.6 1035.5,478.8 1036.6,479.0" fill="none" stroke="#2ab0c8" stroke-width="0.9" stroke-linejoin="round" />
</g>
<line x1="905.6" y1="362" x2="905.6" y2="377" stroke="#222" stroke-width="0.8" stroke-dasharray="1.5,1.2"/>
<line x1="918.3" y1="431" x2="918.3" y2="446" stroke="#222" stroke-width="0.8" stroke-dasharray="1.5,1.2"/>
<line x1="975.4" y1="362" x2="975.4" y2="375" stroke="#222" stroke-width="0.8" stroke-dasharray="1.5,1.2"/>
<line x1="988.5" y1="444" x2="988.5" y2="452" stroke="#222" stroke-width="0.8" stroke-dasharray="1.5,1.2"/>
<text x="905" y="360" font-size="7.2" text-anchor="middle" font-weight="bold" fill="#111" >406.9 eV</text>
<text x="975.5" y="361.5" font-size="7.2" text-anchor="middle" font-weight="bold" fill="#111" >404.3 eV</text>
<text x="918" y="431" font-size="7.2" text-anchor="middle" font-weight="bold" fill="#111" >406.4 eV</text>
<text x="988" y="438.5" font-size="7.2" text-anchor="middle" font-weight="bold" fill="#111" >403.4 eV</text>
<text x="1032" y="349" font-size="9.5" text-anchor="end" font-weight="bold" fill="#111" >N 1s</text>
<text x="1034" y="413.7" font-size="7" text-anchor="end" font-weight="bold" fill="#111" >fresh</text>
<text x="1034" y="491.8" font-size="7" text-anchor="end" font-weight="bold" fill="#111" >recycled</text>
<text x="955.7" y="516" font-size="8.5" text-anchor="middle" font-weight="bold" fill="#111" >Binding energy (eV)</text>
<text transform="translate(866,417) rotate(-90)" font-size="8.5" text-anchor="middle" font-weight="bold" fill="#111">Intensity (eV)</text>
<text x="850" y="350" font-size="17" text-anchor="start" font-weight="bold" fill="#000" >(g)</text>
<clipPath id="cph2"><rect x="1072.1" y="337.6" width="159.7" height="159.4"/></clipPath>
<g clip-path="url(#cph2)">
<rect x="1072.1" y="337.6" width="159.7" height="159.4" fill="#767676" stroke="none" stroke-width="1" />
<rect x="1072.1" y="337.6" width="159.7" height="159.4" fill="url(#stripeH)" stroke="none" stroke-width="1" opacity="0.85"/>
<polygon points="1180.0,337.0 1232.0,337.0 1232.0,430.0 1215.0,415.0 1200.0,395.0 1185.0,370.0" fill="#a0a0a0" opacity="0.55" filter="url(#fblur2)"/>
<polygon points="1072.0,430.0 1110.0,470.0 1130.0,497.0 1072.0,497.0" fill="#222" opacity="0.3" filter="url(#fblur2)"/>
<rect x="1072.1" y="337.6" width="159.7" height="159.4" fill="#000" stroke="none" stroke-width="1" filter="url(#fnoise)" opacity="0.38"/>
<rect x="1072.1" y="337.6" width="159.7" height="159.4" fill="#fff" stroke="none" stroke-width="1" filter="url(#fnoise2)" opacity="0.28"/>
<clipPath id="cph2a4"><polygon points="1180.0,337.0 1232.0,337.0 1232.0,430.0 1215.0,415.0 1200.0,395.0 1185.0,370.0"/></clipPath>
<g clip-path="url(#cph2a4)"><rect x="1072.1" y="337.6" width="159.70000000000005" height="159.39999999999998" fill="#000" filter="url(#fnoise)" opacity="0.28"/><rect x="1072.1" y="337.6" width="159.70000000000005" height="159.39999999999998" fill="#fff" filter="url(#fnoise2)" opacity="0.30"/></g>
</g>
<text x="1128.5" y="399.5" font-size="15" text-anchor="middle" font-weight="bold" fill="#f2b51a" >d = 0.349 nm</text>
<text x="1128.5" y="418.4" font-size="15" text-anchor="middle" font-weight="bold" fill="#f2b51a" >h-CdS (002)</text>
<line x1="1160.9" y1="454.5" x2="1179" y2="418.4" stroke="#f2b51a" stroke-width="1.1" />
<line x1="1164.5" y1="456.3" x2="1182.6" y2="419.3" stroke="#f2b51a" stroke-width="1.1" />
<line x1="1153.7" y1="427.5" x2="1163.5" y2="433" stroke="#f2b51a" stroke-width="1" />
<polygon points="1166.3,434.7 1161.5,435 1163.6,431" fill="#f2b51a"/>
<line x1="1189.8" y1="447.3" x2="1179" y2="441.8" stroke="#f2b51a" stroke-width="1" />
<polygon points="1176.3,440.5 1181,440.2 1179,444.3" fill="#f2b51a"/>
<text x="1109.5" y="483" font-size="10" text-anchor="middle" font-weight="bold" fill="#fff" >5 nm</text>
<rect x="1081.1" y="488" width="62.7" height="1.7" fill="#fff" stroke="none" stroke-width="1" />
<text x="1044" y="353" font-size="19" text-anchor="start" font-weight="bold" fill="#000" >(h)</text>
<g transform="translate(640,520) scale(0.24426)">
<line x1="492" y1="250" x2="537.5" y2="250" stroke="#6a78d8" stroke-width="6" />
<line x1="537.5" y1="250" x2="583" y2="250" stroke="#e8702e" stroke-width="6" />
<line x1="492" y1="380" x2="537.5" y2="380" stroke="#6a78d8" stroke-width="6" />
<line x1="537.5" y1="380" x2="583" y2="380" stroke="#e8702e" stroke-width="6" />
<line x1="492" y1="250" x2="477" y2="229" stroke="#6a78d8" stroke-width="6" />
<line x1="477" y1="229" x2="462" y2="208" stroke="#e8702e" stroke-width="6" />
<line x1="492" y1="250" x2="477" y2="294" stroke="#6a78d8" stroke-width="6" />
<line x1="477" y1="294" x2="462" y2="338" stroke="#e8702e" stroke-width="6" />
<line x1="492" y1="380" x2="477" y2="359" stroke="#6a78d8" stroke-width="6" />
<line x1="477" y1="359" x2="462" y2="338" stroke="#e8702e" stroke-width="6" />
<line x1="613" y1="208" x2="598" y2="229" stroke="#6a78d8" stroke-width="6" />
<line x1="598" y1="229" x2="583" y2="250" stroke="#e8702e" stroke-width="6" />
<line x1="613" y1="208" x2="659" y2="208" stroke="#6a78d8" stroke-width="6" />
<line x1="659" y1="208" x2="705" y2="208" stroke="#e8702e" stroke-width="6" />
<line x1="613" y1="338" x2="598" y2="294" stroke="#6a78d8" stroke-width="6" />
<line x1="598" y1="294" x2="583" y2="250" stroke="#e8702e" stroke-width="6" />
<line x1="613" y1="338" x2="659" y2="338" stroke="#6a78d8" stroke-width="6" />
<line x1="659" y1="338" x2="705" y2="338" stroke="#e8702e" stroke-width="6" />
<line x1="613" y1="338" x2="598" y2="359" stroke="#6a78d8" stroke-width="6" />
<line x1="598" y1="359" x2="583" y2="380" stroke="#e8702e" stroke-width="6" />
<line x1="613" y1="208" x2="599" y2="165" stroke="#6a78d8" stroke-width="6" />
<line x1="599" y1="165" x2="585" y2="122" stroke="#e8702e" stroke-width="6" />
<line x1="628" y1="97" x2="606.5" y2="109.5" stroke="#6a78d8" stroke-width="6" />
<line x1="606.5" y1="109.5" x2="585" y2="122" stroke="#e8702e" stroke-width="6" />
<line x1="628" y1="97" x2="669" y2="84.5" stroke="#6a78d8" stroke-width="6" />
<line x1="669" y1="84.5" x2="710" y2="72" stroke="#e8702e" stroke-width="6" />
<line x1="735" y1="250" x2="780.5" y2="250" stroke="#6a78d8" stroke-width="6" />
<line x1="780.5" y1="250" x2="826" y2="250" stroke="#e8702e" stroke-width="6" />
<line x1="735" y1="380" x2="780.5" y2="380" stroke="#6a78d8" stroke-width="6" />
<line x1="780.5" y1="380" x2="826" y2="380" stroke="#e8702e" stroke-width="6" />
<line x1="735" y1="250" x2="720" y2="229" stroke="#6a78d8" stroke-width="6" />
<line x1="720" y1="229" x2="705" y2="208" stroke="#e8702e" stroke-width="6" />
<line x1="735" y1="250" x2="720" y2="294" stroke="#6a78d8" stroke-width="6" />
<line x1="720" y1="294" x2="705" y2="338" stroke="#e8702e" stroke-width="6" />
<line x1="735" y1="380" x2="720" y2="359" stroke="#6a78d8" stroke-width="6" />
<line x1="720" y1="359" x2="705" y2="338" stroke="#e8702e" stroke-width="6" />
<line x1="735" y1="120" x2="780.5" y2="121" stroke="#6a78d8" stroke-width="6" />
<line x1="780.5" y1="121" x2="826" y2="122" stroke="#e8702e" stroke-width="6" />
<line x1="735" y1="120" x2="720" y2="164" stroke="#6a78d8" stroke-width="6" />
<line x1="720" y1="164" x2="705" y2="208" stroke="#e8702e" stroke-width="6" />
<line x1="735" y1="120" x2="722.5" y2="96" stroke="#6a78d8" stroke-width="6" />
<line x1="722.5" y1="96" x2="710" y2="72" stroke="#e8702e" stroke-width="6" />
<line x1="856" y1="208" x2="841" y2="229" stroke="#6a78d8" stroke-width="6" />
<line x1="841" y1="229" x2="826" y2="250" stroke="#e8702e" stroke-width="6" />
<line x1="856" y1="208" x2="902" y2="208" stroke="#6a78d8" stroke-width="6" />
<line x1="902" y1="208" x2="948" y2="208" stroke="#e8702e" stroke-width="6" />
<line x1="856" y1="338" x2="841" y2="294" stroke="#6a78d8" stroke-width="6" />
<line x1="841" y1="294" x2="826" y2="250" stroke="#e8702e" stroke-width="6" />
<line x1="856" y1="338" x2="902" y2="338" stroke="#6a78d8" stroke-width="6" />
<line x1="902" y1="338" x2="948" y2="338" stroke="#e8702e" stroke-width="6" />
<line x1="856" y1="338" x2="841" y2="359" stroke="#6a78d8" stroke-width="6" />
<line x1="841" y1="359" x2="826" y2="380" stroke="#e8702e" stroke-width="6" />
<line x1="856" y1="208" x2="842" y2="165" stroke="#6a78d8" stroke-width="6" />
<line x1="842" y1="165" x2="828" y2="122" stroke="#e8702e" stroke-width="6" />
<line x1="871" y1="97" x2="849.5" y2="109.5" stroke="#6a78d8" stroke-width="6" />
<line x1="849.5" y1="109.5" x2="828" y2="122" stroke="#e8702e" stroke-width="6" />
<line x1="871" y1="97" x2="912" y2="84.5" stroke="#6a78d8" stroke-width="6" />
<line x1="912" y1="84.5" x2="953" y2="72" stroke="#e8702e" stroke-width="6" />
<line x1="978" y1="250" x2="1023.5" y2="250" stroke="#6a78d8" stroke-width="6" />
<line x1="1023.5" y1="250" x2="1069" y2="250" stroke="#e8702e" stroke-width="6" />
<line x1="978" y1="380" x2="1023.5" y2="380" stroke="#6a78d8" stroke-width="6" />
<line x1="1023.5" y1="380" x2="1069" y2="380" stroke="#e8702e" stroke-width="6" />
<line x1="978" y1="250" x2="963" y2="229" stroke="#6a78d8" stroke-width="6" />
<line x1="963" y1="229" x2="948" y2="208" stroke="#e8702e" stroke-width="6" />
<line x1="978" y1="250" x2="963" y2="294" stroke="#6a78d8" stroke-width="6" />
<line x1="963" y1="294" x2="948" y2="338" stroke="#e8702e" stroke-width="6" />
<line x1="978" y1="380" x2="963" y2="359" stroke="#6a78d8" stroke-width="6" />
<line x1="963" y1="359" x2="948" y2="338" stroke="#e8702e" stroke-width="6" />
<line x1="978" y1="120" x2="1023.5" y2="121" stroke="#6a78d8" stroke-width="6" />
<line x1="1023.5" y1="121" x2="1069" y2="122" stroke="#e8702e" stroke-width="6" />
<line x1="978" y1="120" x2="963" y2="164" stroke="#6a78d8" stroke-width="6" />
<line x1="963" y1="164" x2="948" y2="208" stroke="#e8702e" stroke-width="6" />
<line x1="978" y1="120" x2="965.5" y2="96" stroke="#6a78d8" stroke-width="6" />
<line x1="965.5" y1="96" x2="953" y2="72" stroke="#e8702e" stroke-width="6" />
<circle cx="583.0" cy="250.0" r="12.5" fill="#e0602a"/>
<circle cx="579.9" cy="246.9" r="5.6" fill="#fff" fill-opacity="0.35"/>
<circle cx="583.0" cy="380.0" r="12.5" fill="#e0602a"/>
<circle cx="579.9" cy="376.9" r="5.6" fill="#fff" fill-opacity="0.35"/>
<circle cx="705.0" cy="208.0" r="12.5" fill="#e0602a"/>
<circle cx="701.9" cy="204.9" r="5.6" fill="#fff" fill-opacity="0.35"/>
<circle cx="705.0" cy="338.0" r="12.5" fill="#e0602a"/>
<circle cx="701.9" cy="334.9" r="5.6" fill="#fff" fill-opacity="0.35"/>
<circle cx="585.0" cy="122.0" r="12.5" fill="#e0602a"/>
<circle cx="581.9" cy="118.9" r="5.6" fill="#fff" fill-opacity="0.35"/>
<circle cx="710.0" cy="72.0" r="12.5" fill="#e0602a"/>
<circle cx="706.9" cy="68.9" r="5.6" fill="#fff" fill-opacity="0.35"/>
<circle cx="826.0" cy="250.0" r="12.5" fill="#e0602a"/>
<circle cx="822.9" cy="246.9" r="5.6" fill="#fff" fill-opacity="0.35"/>
<circle cx="826.0" cy="380.0" r="12.5" fill="#e0602a"/>
<circle cx="822.9" cy="376.9" r="5.6" fill="#fff" fill-opacity="0.35"/>
<circle cx="948.0" cy="208.0" r="12.5" fill="#e0602a"/>
<circle cx="944.9" cy="204.9" r="5.6" fill="#fff" fill-opacity="0.35"/>
<circle cx="948.0" cy="338.0" r="12.5" fill="#e0602a"/>
<circle cx="944.9" cy="334.9" r="5.6" fill="#fff" fill-opacity="0.35"/>
<circle cx="828.0" cy="122.0" r="12.5" fill="#e0602a"/>
<circle cx="824.9" cy="118.9" r="5.6" fill="#fff" fill-opacity="0.35"/>
<circle cx="953.0" cy="72.0" r="12.5" fill="#e0602a"/>
<circle cx="949.9" cy="68.9" r="5.6" fill="#fff" fill-opacity="0.35"/>
<circle cx="1069.0" cy="250.0" r="12.5" fill="#e0602a"/>
<circle cx="1065.9" cy="246.9" r="5.6" fill="#fff" fill-opacity="0.35"/>
<circle cx="1069.0" cy="380.0" r="12.5" fill="#e0602a"/>
<circle cx="1065.9" cy="376.9" r="5.6" fill="#fff" fill-opacity="0.35"/>
<circle cx="462.0" cy="208.0" r="12.5" fill="#e0602a"/>
<circle cx="458.9" cy="204.9" r="5.6" fill="#fff" fill-opacity="0.35"/>
<circle cx="462.0" cy="338.0" r="12.5" fill="#e0602a"/>
<circle cx="458.9" cy="334.9" r="5.6" fill="#fff" fill-opacity="0.35"/>
<circle cx="1069.0" cy="122.0" r="12.5" fill="#e0602a"/>
<circle cx="1065.9" cy="118.9" r="5.6" fill="#fff" fill-opacity="0.35"/>
<circle cx="492.0" cy="250.0" r="19" fill="#5560c8"/>
<circle cx="487.2" cy="245.2" r="8.6" fill="#fff" fill-opacity="0.35"/>
<circle cx="492.0" cy="380.0" r="19" fill="#5560c8"/>
<circle cx="487.2" cy="375.2" r="8.6" fill="#fff" fill-opacity="0.35"/>
<circle cx="613.0" cy="208.0" r="19" fill="#5560c8"/>
<circle cx="608.2" cy="203.2" r="8.6" fill="#fff" fill-opacity="0.35"/>
<circle cx="613.0" cy="338.0" r="19" fill="#5560c8"/>
<circle cx="608.2" cy="333.2" r="8.6" fill="#fff" fill-opacity="0.35"/>
<circle cx="628.0" cy="97.0" r="19" fill="#5560c8"/>
<circle cx="623.2" cy="92.2" r="8.6" fill="#fff" fill-opacity="0.35"/>
<circle cx="735.0" cy="250.0" r="19" fill="#5560c8"/>
<circle cx="730.2" cy="245.2" r="8.6" fill="#fff" fill-opacity="0.35"/>
<circle cx="735.0" cy="380.0" r="19" fill="#5560c8"/>
<circle cx="730.2" cy="375.2" r="8.6" fill="#fff" fill-opacity="0.35"/>
<circle cx="735.0" cy="120.0" r="19" fill="#5560c8"/>
<circle cx="730.2" cy="115.2" r="8.6" fill="#fff" fill-opacity="0.35"/>
<circle cx="856.0" cy="208.0" r="19" fill="#5560c8"/>
<circle cx="851.2" cy="203.2" r="8.6" fill="#fff" fill-opacity="0.35"/>
<circle cx="856.0" cy="338.0" r="19" fill="#5560c8"/>
<circle cx="851.2" cy="333.2" r="8.6" fill="#fff" fill-opacity="0.35"/>
<circle cx="871.0" cy="97.0" r="19" fill="#5560c8"/>
<circle cx="866.2" cy="92.2" r="8.6" fill="#fff" fill-opacity="0.35"/>
<circle cx="978.0" cy="250.0" r="19" fill="#5560c8"/>
<circle cx="973.2" cy="245.2" r="8.6" fill="#fff" fill-opacity="0.35"/>
<circle cx="978.0" cy="380.0" r="19" fill="#5560c8"/>
<circle cx="973.2" cy="375.2" r="8.6" fill="#fff" fill-opacity="0.35"/>
<circle cx="978.0" cy="120.0" r="19" fill="#5560c8"/>
<circle cx="973.2" cy="115.2" r="8.6" fill="#fff" fill-opacity="0.35"/>
<line x1="480" y1="668" x2="525.5" y2="668" stroke="#6a78d8" stroke-width="6" />
<line x1="525.5" y1="668" x2="571" y2="668" stroke="#e8702e" stroke-width="6" />
<line x1="480" y1="798" x2="525.5" y2="798" stroke="#6a78d8" stroke-width="6" />
<line x1="525.5" y1="798" x2="571" y2="798" stroke="#e8702e" stroke-width="6" />
<line x1="480" y1="668" x2="465" y2="647" stroke="#6a78d8" stroke-width="6" />
<line x1="465" y1="647" x2="450" y2="626" stroke="#e8702e" stroke-width="6" />
<line x1="480" y1="668" x2="465" y2="712" stroke="#6a78d8" stroke-width="6" />
<line x1="465" y1="712" x2="450" y2="756" stroke="#e8702e" stroke-width="6" />
<line x1="480" y1="798" x2="465" y2="777" stroke="#6a78d8" stroke-width="6" />
<line x1="465" y1="777" x2="450" y2="756" stroke="#e8702e" stroke-width="6" />
<line x1="601" y1="626" x2="586" y2="647" stroke="#6a78d8" stroke-width="6" />
<line x1="586" y1="647" x2="571" y2="668" stroke="#e8702e" stroke-width="6" />
<line x1="601" y1="626" x2="647" y2="626" stroke="#6a78d8" stroke-width="6" />
<line x1="647" y1="626" x2="693" y2="626" stroke="#e8702e" stroke-width="6" />
<line x1="601" y1="756" x2="586" y2="712" stroke="#6a78d8" stroke-width="6" />
<line x1="586" y1="712" x2="571" y2="668" stroke="#e8702e" stroke-width="6" />
<line x1="601" y1="756" x2="647" y2="756" stroke="#6a78d8" stroke-width="6" />
<line x1="647" y1="756" x2="693" y2="756" stroke="#e8702e" stroke-width="6" />
<line x1="601" y1="756" x2="586" y2="777" stroke="#6a78d8" stroke-width="6" />
<line x1="586" y1="777" x2="571" y2="798" stroke="#e8702e" stroke-width="6" />
<line x1="601" y1="626" x2="587" y2="583" stroke="#6a78d8" stroke-width="6" />
<line x1="587" y1="583" x2="573" y2="540" stroke="#e8702e" stroke-width="6" />
<line x1="616" y1="515" x2="594.5" y2="527.5" stroke="#6a78d8" stroke-width="6" />
<line x1="594.5" y1="527.5" x2="573" y2="540" stroke="#e8702e" stroke-width="6" />
<line x1="616" y1="515" x2="657" y2="502.5" stroke="#6a78d8" stroke-width="6" />
<line x1="657" y1="502.5" x2="698" y2="490" stroke="#e8702e" stroke-width="6" />
<line x1="725" y1="668" x2="770.5" y2="668" stroke="#6a78d8" stroke-width="6" />
<line x1="770.5" y1="668" x2="816" y2="668" stroke="#e8702e" stroke-width="6" />
<line x1="725" y1="798" x2="770.5" y2="798" stroke="#6a78d8" stroke-width="6" />
<line x1="770.5" y1="798" x2="816" y2="798" stroke="#e8702e" stroke-width="6" />
<line x1="725" y1="668" x2="710" y2="647" stroke="#6a78d8" stroke-width="6" />
<line x1="710" y1="647" x2="695" y2="626" stroke="#e8702e" stroke-width="6" />
<line x1="725" y1="668" x2="710" y2="712" stroke="#6a78d8" stroke-width="6" />
<line x1="710" y1="712" x2="695" y2="756" stroke="#e8702e" stroke-width="6" />
<line x1="725" y1="798" x2="710" y2="777" stroke="#6a78d8" stroke-width="6" />
<line x1="710" y1="777" x2="695" y2="756" stroke="#e8702e" stroke-width="6" />
<line x1="725" y1="538" x2="770.5" y2="539" stroke="#6a78d8" stroke-width="6" />
<line x1="770.5" y1="539" x2="816" y2="540" stroke="#e8702e" stroke-width="6" />
<line x1="725" y1="538" x2="710" y2="582" stroke="#6a78d8" stroke-width="6" />
<line x1="710" y1="582" x2="695" y2="626" stroke="#e8702e" stroke-width="6" />
<line x1="725" y1="538" x2="712.5" y2="514" stroke="#6a78d8" stroke-width="6" />
<line x1="712.5" y1="514" x2="700" y2="490" stroke="#e8702e" stroke-width="6" />
<line x1="846" y1="626" x2="831" y2="647" stroke="#6a78d8" stroke-width="6" />
<line x1="831" y1="647" x2="816" y2="668" stroke="#e8702e" stroke-width="6" />
<line x1="846" y1="626" x2="892" y2="626" stroke="#6a78d8" stroke-width="6" />
<line x1="892" y1="626" x2="938" y2="626" stroke="#e8702e" stroke-width="6" />
<line x1="846" y1="756" x2="831" y2="712" stroke="#6a78d8" stroke-width="6" />
<line x1="831" y1="712" x2="816" y2="668" stroke="#e8702e" stroke-width="6" />
<line x1="846" y1="756" x2="892" y2="756" stroke="#6a78d8" stroke-width="6" />
<line x1="892" y1="756" x2="938" y2="756" stroke="#e8702e" stroke-width="6" />
<line x1="846" y1="756" x2="831" y2="777" stroke="#6a78d8" stroke-width="6" />
<line x1="831" y1="777" x2="816" y2="798" stroke="#e8702e" stroke-width="6" />
<line x1="846" y1="626" x2="832" y2="583" stroke="#6a78d8" stroke-width="6" />
<line x1="832" y1="583" x2="818" y2="540" stroke="#e8702e" stroke-width="6" />
<line x1="861" y1="515" x2="839.5" y2="527.5" stroke="#6a78d8" stroke-width="6" />
<line x1="839.5" y1="527.5" x2="818" y2="540" stroke="#e8702e" stroke-width="6" />
<line x1="861" y1="515" x2="902" y2="502.5" stroke="#6a78d8" stroke-width="6" />
<line x1="902" y1="502.5" x2="943" y2="490" stroke="#e8702e" stroke-width="6" />
<line x1="970" y1="668" x2="1015.5" y2="668" stroke="#6a78d8" stroke-width="6" />
<line x1="1015.5" y1="668" x2="1061" y2="668" stroke="#e8702e" stroke-width="6" />
<line x1="970" y1="798" x2="1015.5" y2="798" stroke="#6a78d8" stroke-width="6" />
<line x1="1015.5" y1="798" x2="1061" y2="798" stroke="#e8702e" stroke-width="6" />
<line x1="970" y1="668" x2="955" y2="647" stroke="#6a78d8" stroke-width="6" />
<line x1="955" y1="647" x2="940" y2="626" stroke="#e8702e" stroke-width="6" />
<line x1="970" y1="668" x2="955" y2="712" stroke="#6a78d8" stroke-width="6" />
<line x1="955" y1="712" x2="940" y2="756" stroke="#e8702e" stroke-width="6" />
<line x1="970" y1="798" x2="955" y2="777" stroke="#6a78d8" stroke-width="6" />
<line x1="955" y1="777" x2="940" y2="756" stroke="#e8702e" stroke-width="6" />
<line x1="970" y1="538" x2="1015.5" y2="539" stroke="#6a78d8" stroke-width="6" />
<line x1="1015.5" y1="539" x2="1061" y2="540" stroke="#e8702e" stroke-width="6" />
<line x1="970" y1="538" x2="955" y2="582" stroke="#6a78d8" stroke-width="6" />
<line x1="955" y1="582" x2="940" y2="626" stroke="#e8702e" stroke-width="6" />
<line x1="970" y1="538" x2="957.5" y2="514" stroke="#6a78d8" stroke-width="6" />
<line x1="957.5" y1="514" x2="945" y2="490" stroke="#e8702e" stroke-width="6" />
<circle cx="571.0" cy="668.0" r="12.5" fill="#e0602a"/>
<circle cx="567.9" cy="664.9" r="5.6" fill="#fff" fill-opacity="0.35"/>
<circle cx="571.0" cy="798.0" r="12.5" fill="#e0602a"/>
<circle cx="567.9" cy="794.9" r="5.6" fill="#fff" fill-opacity="0.35"/>
<circle cx="693.0" cy="626.0" r="12.5" fill="#e0602a"/>
<circle cx="689.9" cy="622.9" r="5.6" fill="#fff" fill-opacity="0.35"/>
<circle cx="693.0" cy="756.0" r="12.5" fill="#e0602a"/>
<circle cx="689.9" cy="752.9" r="5.6" fill="#fff" fill-opacity="0.35"/>
<circle cx="573.0" cy="540.0" r="12.5" fill="#e0602a"/>
<circle cx="569.9" cy="536.9" r="5.6" fill="#fff" fill-opacity="0.35"/>
<circle cx="698.0" cy="490.0" r="12.5" fill="#e0602a"/>
<circle cx="694.9" cy="486.9" r="5.6" fill="#fff" fill-opacity="0.35"/>
<circle cx="816.0" cy="668.0" r="12.5" fill="#e0602a"/>
<circle cx="812.9" cy="664.9" r="5.6" fill="#fff" fill-opacity="0.35"/>
<circle cx="816.0" cy="798.0" r="12.5" fill="#e0602a"/>
<circle cx="812.9" cy="794.9" r="5.6" fill="#fff" fill-opacity="0.35"/>
<circle cx="938.0" cy="626.0" r="12.5" fill="#e0602a"/>
<circle cx="934.9" cy="622.9" r="5.6" fill="#fff" fill-opacity="0.35"/>
<circle cx="938.0" cy="756.0" r="12.5" fill="#e0602a"/>
<circle cx="934.9" cy="752.9" r="5.6" fill="#fff" fill-opacity="0.35"/>
<circle cx="818.0" cy="540.0" r="12.5" fill="#e0602a"/>
<circle cx="814.9" cy="536.9" r="5.6" fill="#fff" fill-opacity="0.35"/>
<circle cx="943.0" cy="490.0" r="12.5" fill="#e0602a"/>
<circle cx="939.9" cy="486.9" r="5.6" fill="#fff" fill-opacity="0.35"/>
<circle cx="1061.0" cy="668.0" r="12.5" fill="#e0602a"/>
<circle cx="1057.9" cy="664.9" r="5.6" fill="#fff" fill-opacity="0.35"/>
<circle cx="1061.0" cy="798.0" r="12.5" fill="#e0602a"/>
<circle cx="1057.9" cy="794.9" r="5.6" fill="#fff" fill-opacity="0.35"/>
<circle cx="450.0" cy="626.0" r="12.5" fill="#e0602a"/>
<circle cx="446.9" cy="622.9" r="5.6" fill="#fff" fill-opacity="0.35"/>
<circle cx="450.0" cy="756.0" r="12.5" fill="#e0602a"/>
<circle cx="446.9" cy="752.9" r="5.6" fill="#fff" fill-opacity="0.35"/>
<circle cx="1061.0" cy="540.0" r="12.5" fill="#e0602a"/>
<circle cx="1057.9" cy="536.9" r="5.6" fill="#fff" fill-opacity="0.35"/>
<circle cx="480.0" cy="668.0" r="19" fill="#5560c8"/>
<circle cx="475.2" cy="663.2" r="8.6" fill="#fff" fill-opacity="0.35"/>
<circle cx="480.0" cy="798.0" r="19" fill="#5560c8"/>
<circle cx="475.2" cy="793.2" r="8.6" fill="#fff" fill-opacity="0.35"/>
<circle cx="601.0" cy="626.0" r="19" fill="#5560c8"/>
<circle cx="596.2" cy="621.2" r="8.6" fill="#fff" fill-opacity="0.35"/>
<circle cx="601.0" cy="756.0" r="19" fill="#5560c8"/>
<circle cx="596.2" cy="751.2" r="8.6" fill="#fff" fill-opacity="0.35"/>
<circle cx="616.0" cy="515.0" r="19" fill="#5560c8"/>
<circle cx="611.2" cy="510.2" r="8.6" fill="#fff" fill-opacity="0.35"/>
<circle cx="725.0" cy="668.0" r="19" fill="#5560c8"/>
<circle cx="720.2" cy="663.2" r="8.6" fill="#fff" fill-opacity="0.35"/>
<circle cx="725.0" cy="798.0" r="19" fill="#5560c8"/>
<circle cx="720.2" cy="793.2" r="8.6" fill="#fff" fill-opacity="0.35"/>
<circle cx="725.0" cy="538.0" r="19" fill="#5560c8"/>
<circle cx="720.2" cy="533.2" r="8.6" fill="#fff" fill-opacity="0.35"/>
<circle cx="846.0" cy="626.0" r="19" fill="#5560c8"/>
<circle cx="841.2" cy="621.2" r="8.6" fill="#fff" fill-opacity="0.35"/>
<circle cx="846.0" cy="756.0" r="19" fill="#5560c8"/>
<circle cx="841.2" cy="751.2" r="8.6" fill="#fff" fill-opacity="0.35"/>
<circle cx="861.0" cy="515.0" r="19" fill="#5560c8"/>
<circle cx="856.2" cy="510.2" r="8.6" fill="#fff" fill-opacity="0.35"/>
<circle cx="970.0" cy="668.0" r="19" fill="#5560c8"/>
<circle cx="965.2" cy="663.2" r="8.6" fill="#fff" fill-opacity="0.35"/>
<circle cx="970.0" cy="798.0" r="19" fill="#5560c8"/>
<circle cx="965.2" cy="793.2" r="8.6" fill="#fff" fill-opacity="0.35"/>
<circle cx="970.0" cy="538.0" r="19" fill="#5560c8"/>
<circle cx="965.2" cy="533.2" r="8.6" fill="#fff" fill-opacity="0.35"/>
<circle cx="697.0" cy="517.0" r="6" fill="#40c040"/>
<line x1="625" y1="515" x2="692" y2="517" stroke="#40c040" stroke-width="5" />
<line x1="360" y1="390" x2="360" y2="335" stroke="#1a2ad0" stroke-width="5" />
<polygon points="352,340 368,340 360,322" fill="#1a2ad0"/>
<line x1="360" y1="390" x2="415" y2="390" stroke="#30c030" stroke-width="5" />
<polygon points="410,382 410,398 428,390" fill="#30c030"/>
<circle cx="360.0" cy="390.0" r="6" fill="#a02020" stroke="none" stroke-width="1" />
<line x1="345" y1="810" x2="345" y2="755" stroke="#1a2ad0" stroke-width="5" />
<polygon points="337,760 353,760 345,742" fill="#1a2ad0"/>
<line x1="345" y1="810" x2="400" y2="810" stroke="#30c030" stroke-width="5" />
<polygon points="395,802 395,818 413,810" fill="#30c030"/>
<circle cx="345.0" cy="810.0" r="6" fill="#a02020" stroke="none" stroke-width="1" />
</g>
<rect x="692" y="532.2" width="240.6" height="88.4" fill="none" stroke="#6aa84f" stroke-width="1.3" stroke-dasharray="5,3.5"/>
<path d="M692 624V727.1H932.6V620.6" fill="none" stroke="#6aa84f" stroke-width="1.3" stroke-dasharray="5,3.5"/>
<text x="697.9" y="545.6" font-size="11" text-anchor="start" font-weight="bold" fill="#111" >CdS</text>
<text x="696.2" y="637.2" font-size="11" text-anchor="start" font-weight="bold" fill="#111" >N-CdS</text>
<text x="657" y="547" font-size="21" text-anchor="start" font-weight="bold" fill="#000" >(a)</text>
<rect x="989.3" y="533" width="259.2" height="193.1" fill="none" stroke="#333" stroke-width="1" />
<line x1="1015.2" y1="726.1" x2="1015.2" y2="723.1" stroke="#333" stroke-width="1" />
<text x="1015.2" y="737.1" font-size="9.5" text-anchor="middle" font-weight="bold" fill="#111" >-4</text>
<line x1="1067" y1="726.1" x2="1067" y2="723.1" stroke="#333" stroke-width="1" />
<text x="1067" y="737.1" font-size="9.5" text-anchor="middle" font-weight="bold" fill="#111" >-2</text>
<line x1="1118.9" y1="726.1" x2="1118.9" y2="723.1" stroke="#333" stroke-width="1" />
<text x="1118.9" y="737.1" font-size="9.5" text-anchor="middle" font-weight="bold" fill="#111" >0</text>
<line x1="1170.8" y1="726.1" x2="1170.8" y2="723.1" stroke="#333" stroke-width="1" />
<text x="1170.8" y="737.1" font-size="9.5" text-anchor="middle" font-weight="bold" fill="#111" >2</text>
<line x1="1222.6" y1="726.1" x2="1222.6" y2="723.1" stroke="#333" stroke-width="1" />
<text x="1222.6" y="737.1" font-size="9.5" text-anchor="middle" font-weight="bold" fill="#111" >4</text>
<line x1="1041.1" y1="726.1" x2="1041.1" y2="724.3" stroke="#333" stroke-width="1" />
<line x1="1093" y1="726.1" x2="1093" y2="724.3" stroke="#333" stroke-width="1" />
<line x1="1144.8" y1="726.1" x2="1144.8" y2="724.3" stroke="#333" stroke-width="1" />
<line x1="1196.7" y1="726.1" x2="1196.7" y2="724.3" stroke="#333" stroke-width="1" />
<line x1="989.3" y1="718.3" x2="992.3" y2="718.3" stroke="#333" stroke-width="1" />
<text x="986.3" y="721.4" font-size="9.5" text-anchor="end" font-weight="bold" fill="#111" >0</text>
<line x1="989.3" y1="677.9" x2="992.3" y2="677.9" stroke="#333" stroke-width="1" />
<text x="986.3" y="681.1" font-size="9.5" text-anchor="end" font-weight="bold" fill="#111" >50</text>
<line x1="989.3" y1="637.5" x2="992.3" y2="637.5" stroke="#333" stroke-width="1" />
<text x="986.3" y="640.7" font-size="9.5" text-anchor="end" font-weight="bold" fill="#111" >100</text>
<line x1="989.3" y1="597.2" x2="992.3" y2="597.2" stroke="#333" stroke-width="1" />
<text x="986.3" y="600.3" font-size="9.5" text-anchor="end" font-weight="bold" fill="#111" >150</text>
<line x1="989.3" y1="556.8" x2="992.3" y2="556.8" stroke="#333" stroke-width="1" />
<text x="986.3" y="559.9" font-size="9.5" text-anchor="end" font-weight="bold" fill="#111" >200</text>
<line x1="989.3" y1="698.1" x2="991.1" y2="698.1" stroke="#333" stroke-width="1" />
<line x1="989.3" y1="657.7" x2="991.1" y2="657.7" stroke="#333" stroke-width="1" />
<line x1="989.3" y1="617.4" x2="991.1" y2="617.4" stroke="#333" stroke-width="1" />
<line x1="989.3" y1="577" x2="991.1" y2="577" stroke="#333" stroke-width="1" />
<path d="M989.3,718.3 990.0,718.3 990.7,718.3 991.5,718.3 992.2,718.3 993.0,718.3 993.7,718.3 994.4,717.9 995.2,715.8 995.9,709.6 996.7,709.3 997.4,709.3 998.2,709.6 998.9,715.8 999.6,717.9 1000.4,718.3 1001.1,718.3 1001.9,718.3 1002.6,718.2 1003.3,717.4 1004.1,711.5 1004.8,690.6 1005.6,683.0 1006.3,682.7 1007.1,683.7 1007.8,684.5 1008.5,683.8 1009.3,685.4 1010.0,673.8 1010.8,672.9 1011.5,673.7 1012.2,680.6 1013.0,679.6 1013.7,679.6 1014.5,681.0 1015.2,683.8 1016.0,687.1 1016.7,691.3 1017.4,695.8 1018.2,700.2 1018.9,698.1 1019.7,695.6 1020.4,693.7 1021.2,692.6 1021.9,692.4 1022.6,693.2 1023.4,696.0 1024.1,708.6 1024.9,713.2 1025.6,706.7 1026.3,701.8 1027.1,699.4 1027.8,697.5 1028.6,696.2 1029.3,695.6 1030.1,695.9 1030.8,697.0 1031.5,698.7 1032.3,700.9 1033.0,703.4 1033.8,706.3 1034.5,707.1 1035.2,699.6 1036.0,696.0 1036.7,695.6 1037.5,696.1 1038.2,697.3 1039.0,699.1 1039.7,701.4 1040.4,707.1 1041.2,706.7 1041.9,705.0 1042.7,704.7 1043.4,704.9 1044.2,704.1 1044.9,687.4 1045.6,686.6 1046.4,686.9 1047.1,695.6 1047.9,707.8 1048.6,705.8 1049.3,692.4 1050.1,691.8 1050.8,692.1 1051.6,694.1 1052.3,698.2 1053.1,707.4 1053.8,714.5 1054.5,716.8 1055.3,714.4 1056.0,700.2 1056.8,689.6 1057.5,689.2 1058.2,689.8 1059.0,691.4 1059.7,693.8 1060.5,696.8 1061.2,700.1 1062.0,703.4 1062.7,706.6 1063.4,709.4 1064.2,708.1 1064.9,706.0 1065.7,704.0 1066.4,702.3 1067.2,702.1 1067.9,692.9 1068.6,687.4 1069.4,695.0 1070.1,694.8 1070.9,685.9 1071.6,661.2 1072.3,652.7 1073.1,656.4 1073.8,640.5 1074.6,638.1 1075.3,638.6 1076.1,651.3 1076.8,700.8 1077.5,700.6 1078.3,702.5 1079.0,698.3 1079.8,687.5 1080.5,680.9 1081.2,672.1 1082.0,671.0 1082.7,671.7 1083.5,687.3 1084.2,703.2 1085.0,698.6 1085.7,693.1 1086.4,688.4 1087.2,687.3 1087.9,688.0 1088.7,675.8 1089.4,670.7 1090.2,670.5 1090.9,672.0 1091.6,677.8 1092.4,680.9 1093.1,684.6 1093.9,684.7 1094.6,682.5 1095.3,681.4 1096.1,681.7 1096.8,684.5 1097.6,686.0 1098.3,689.5 1099.1,693.6 1099.8,691.4 1100.5,688.9 1101.3,687.2 1102.0,686.6 1102.8,687.1 1103.5,699.7 1104.2,709.8 1105.0,701.7 1105.7,698.1 1106.5,700.6 1107.2,700.4 1108.0,694.6 1108.7,694.4 1109.4,695.0 1110.2,696.4 1110.9,698.5 1111.7,702.3 1112.4,711.0 1113.2,716.4 1113.9,718.0 1114.6,718.3 1115.4,718.3 1116.1,718.3 1116.9,718.3 1117.6,718.3 1118.3,718.3 1119.1,718.3 1119.8,718.3 1120.6,718.3 1121.3,718.3 1122.1,718.3 1122.8,718.3 1123.5,718.3 1124.3,718.3 1125.0,718.3 1125.8,718.3 1126.5,718.3 1127.2,718.3 1128.0,718.3 1128.7,718.3 1129.5,718.3 1130.2,718.3 1131.0,718.3 1131.7,718.3 1132.4,718.3 1133.2,718.3 1133.9,718.3 1134.7,718.3 1135.4,718.2 1136.1,717.1 1136.9,712.9 1137.6,709.4 1138.4,709.2 1139.1,709.4 1139.9,713.5 1140.6,717.3 1141.3,718.2 1142.1,718.3 1142.8,718.3 1143.6,718.3 1144.3,718.3 1145.1,718.3 1145.8,718.3 1146.5,718.3 1147.3,718.3 1148.0,718.3 1148.8,718.3 1149.5,718.3 1150.2,718.3 1151.0,718.3 1151.7,718.3 1152.5,718.3 1153.2,718.3 1154.0,718.3 1154.7,718.3 1155.4,718.3 1156.2,718.3 1156.9,718.3 1157.7,718.2 1158.4,717.3 1159.1,712.2 1159.9,701.1 1160.6,700.6 1161.4,700.7 1162.1,703.2 1162.9,714.4 1163.6,717.8 1164.3,718.2 1165.1,717.5 1165.8,713.0 1166.6,701.5 1167.3,700.9 1168.1,700.9 1168.8,702.1 1169.5,713.9 1170.3,717.7 1171.0,718.3 1171.8,718.3 1172.5,718.3 1173.2,718.3 1174.0,718.3 1174.7,718.3 1175.5,718.3 1176.2,718.3 1177.0,718.3 1177.7,718.3 1178.4,718.3 1179.2,718.3 1179.9,718.3 1180.7,718.2 1181.4,717.4 1182.1,713.9 1182.9,709.4 1183.6,709.2 1184.4,709.4 1185.1,712.5 1185.9,717.0 1186.6,718.1 1187.3,718.3 1188.1,718.3 1188.8,718.1 1189.6,717.0 1190.3,714.0 1191.1,709.6 1191.8,703.8 1192.5,691.4 1193.3,690.5 1194.0,690.6 1194.8,691.7 1195.5,693.7 1196.2,696.3 1197.0,699.4 1197.7,703.2 1198.5,712.0 1199.2,712.3 1200.0,705.0 1200.7,695.1 1201.4,688.7 1202.2,664.3 1202.9,662.7 1203.7,663.0 1204.4,672.7 1205.1,688.8 1205.9,691.2 1206.6,693.0 1207.4,690.4 1208.1,693.6 1208.9,699.3 1209.6,704.2 1210.3,701.0 1211.1,697.1 1211.8,693.3 1212.6,702.1 1213.3,700.3 1214.1,685.3 1214.8,684.6 1215.5,685.2 1216.3,698.2 1217.0,704.5 1217.8,685.6 1218.5,684.7 1219.2,684.9 1220.0,691.7 1220.7,711.7 1221.5,715.5 1222.2,712.3 1223.0,710.6 1223.7,699.4 1224.4,684.6 1225.2,684.0 1225.9,684.6 1226.7,698.4 1227.4,712.2 1228.1,703.7 1228.9,697.0 1229.6,700.4 1230.4,708.4 1231.1,712.8 1231.9,699.0 1232.6,698.3 1233.3,698.3 1234.1,699.0 1234.8,700.4 1235.6,702.2 1236.3,701.5 1237.1,700.3 1237.8,699.6 1238.5,699.6 1239.3,700.3 1240.0,701.5 1240.8,699.0 1241.5,696.2 1242.2,693.9 1243.0,692.4 1243.7,691.8 1244.5,692.1 1245.2,693.3 1246.0,695.3 1246.7,697.9 1247.4,700.9 1248.2,704.0 L1248.6,718.3 L989.3,718.3Z" fill="#f0a8bc" fill-opacity="0.3"/>
<polyline points="989.3,718.3 989.6,718.3 990.0,718.3 990.4,718.3 990.7,718.3 991.1,718.3 991.5,718.3 991.8,718.3 992.2,718.3 992.6,718.3 993.0,718.3 993.3,718.3 993.7,718.3 994.1,718.2 994.4,717.9 994.8,717.2 995.2,715.8 995.6,713.2 995.9,709.4 996.3,705.1 996.7,701.6 997.0,700.2 997.4,701.6 997.8,705.1 998.2,709.4 998.5,713.2 998.9,715.8 999.3,717.2 999.6,717.9 1000.0,718.2 1000.4,718.3 1000.7,718.3 1001.1,718.3 1001.5,718.3 1001.9,718.3 1002.2,718.3 1002.6,718.2 1003.0,718.0 1003.3,717.4 1003.7,715.7 1004.1,711.5 1004.5,703.5 1004.8,690.6 1005.2,674.1 1005.6,658.1 1005.9,648.2 1006.3,648.7 1006.7,659.2 1007.1,670.8 1007.4,674.8 1007.8,679.0 1008.2,682.1 1008.5,683.8 1008.9,684.5 1009.3,685.4 1009.7,674.6 1010.0,653.0 1010.4,635.0 1010.8,627.6 1011.1,634.0 1011.5,651.3 1011.9,672.9 1012.2,680.6 1012.6,662.1 1013.0,646.8 1013.4,640.6 1013.7,646.1 1014.1,661.1 1014.5,679.6 1014.8,687.8 1015.2,683.8 1015.6,682.4 1016.0,683.5 1016.3,686.4 1016.7,689.4 1017.1,691.6 1017.4,692.4 1017.8,692.1 1018.2,691.1 1018.6,690.1 1018.9,688.9 1019.3,687.4 1019.7,685.2 1020.0,682.2 1020.4,678.7 1020.8,675.4 1021.2,672.9 1021.5,667.1 1021.9,668.0 1022.3,676.0 1022.6,681.6 1023.0,688.5 1023.4,696.0 1023.7,703.0 1024.1,708.6 1024.5,712.1 1024.9,713.2 1025.2,711.5 1025.6,706.7 1026.0,698.4 1026.3,687.0 1026.7,674.1 1027.1,662.2 1027.5,654.0 1027.8,651.4 1028.2,655.0 1028.6,663.3 1028.9,673.9 1029.3,673.4 1029.7,674.4 1030.1,681.6 1030.4,692.1 1030.8,694.7 1031.2,693.2 1031.5,692.6 1031.9,693.4 1032.3,695.3 1032.7,698.0 1033.0,701.0 1033.4,703.9 1033.8,706.3 1034.1,707.5 1034.5,707.1 1034.9,704.5 1035.2,699.6 1035.6,692.6 1036.0,684.2 1036.4,675.8 1036.7,669.0 1037.1,665.3 1037.5,665.1 1037.8,668.0 1038.2,673.3 1038.6,680.1 1039.0,687.6 1039.3,694.9 1039.7,700.9 1040.1,705.0 1040.4,707.1 1040.8,707.4 1041.2,706.7 1041.6,705.8 1041.9,705.0 1042.3,704.7 1042.7,704.7 1043.0,704.9 1043.4,704.9 1043.8,704.6 1044.2,704.1 1044.5,692.7 1044.9,677.9 1045.3,663.8 1045.6,655.6 1046.0,656.6 1046.4,666.5 1046.7,681.2 1047.1,695.6 1047.5,704.9 1047.9,707.8 1048.2,709.5 1048.6,705.8 1049.0,695.5 1049.3,683.0 1049.7,671.6 1050.1,665.5 1050.5,667.3 1050.8,676.3 1051.2,688.7 1051.6,694.1 1051.9,695.1 1052.3,698.2 1052.7,702.7 1053.1,707.4 1053.4,711.5 1053.8,714.5 1054.2,716.2 1054.5,716.8 1054.9,716.4 1055.3,714.4 1055.7,709.2 1056.0,700.2 1056.4,687.5 1056.8,673.7 1057.1,663.2 1057.5,660.1 1057.9,649.8 1058.2,639.8 1058.6,635.1 1059.0,637.0 1059.4,644.8 1059.7,656.5 1060.1,669.4 1060.5,681.2 1060.8,690.2 1061.2,696.0 1061.6,699.4 1062.0,701.3 1062.3,702.8 1062.7,704.2 1063.1,705.2 1063.4,705.1 1063.8,703.5 1064.2,700.3 1064.6,696.3 1064.9,692.5 1065.3,689.9 1065.7,689.2 1066.0,690.7 1066.4,694.2 1066.8,698.7 1067.2,702.1 1067.5,693.6 1067.9,685.9 1068.3,682.2 1068.6,683.8 1069.0,690.2 1069.4,695.0 1069.7,693.6 1070.1,694.8 1070.5,698.3 1070.9,685.9 1071.2,664.7 1071.6,642.7 1072.0,627.1 1072.3,624.5 1072.7,635.8 1073.1,656.4 1073.5,662.9 1073.8,626.9 1074.2,589.4 1074.6,563.2 1074.9,559.0 1075.3,578.5 1075.7,613.5 1076.1,651.3 1076.4,681.7 1076.8,700.8 1077.2,700.1 1077.5,700.6 1077.9,701.8 1078.3,702.5 1078.7,701.5 1079.0,698.3 1079.4,693.1 1079.8,687.5 1080.1,683.1 1080.5,680.9 1080.9,677.0 1081.2,654.7 1081.6,634.6 1082.0,624.1 1082.4,627.9 1082.7,644.2 1083.1,666.4 1083.5,687.3 1083.8,702.5 1084.2,703.2 1084.6,701.1 1085.0,698.6 1085.3,695.9 1085.7,693.1 1086.1,690.5 1086.4,688.4 1086.8,687.4 1087.2,687.3 1087.6,687.8 1087.9,688.0 1088.3,687.3 1088.7,675.8 1089.0,653.1 1089.4,632.9 1089.8,622.7 1090.2,627.0 1090.5,643.9 1090.9,666.5 1091.3,674.3 1091.6,677.8 1092.0,680.1 1092.4,680.9 1092.7,680.4 1093.1,679.0 1093.5,677.5 1093.9,676.7 1094.2,677.6 1094.6,674.7 1095.0,657.7 1095.3,646.4 1095.7,645.4 1096.1,655.2 1096.5,671.7 1096.8,684.5 1097.2,679.2 1097.6,675.4 1097.9,673.6 1098.3,673.3 1098.7,673.7 1099.1,674.2 1099.4,675.3 1099.8,678.0 1100.2,682.5 1100.5,688.6 1100.9,688.0 1101.3,672.9 1101.7,660.2 1102.0,654.8 1102.4,659.1 1102.8,671.2 1103.1,686.2 1103.5,699.7 1103.9,709.1 1104.2,709.8 1104.6,705.8 1105.0,701.7 1105.4,698.7 1105.7,697.7 1106.1,698.5 1106.5,700.6 1106.8,702.6 1107.2,700.4 1107.6,689.4 1108.0,678.5 1108.3,671.4 1108.7,671.2 1109.1,677.9 1109.4,688.7 1109.8,695.3 1110.2,695.1 1110.6,695.3 1110.9,696.3 1111.3,698.6 1111.7,702.3 1112.0,706.8 1112.4,711.0 1112.8,714.3 1113.2,716.4 1113.5,717.5 1113.9,718.0 1114.3,718.2 1114.6,718.3 1115.0,718.3 1115.4,718.3 1115.7,718.3 1116.1,718.3 1116.5,718.3 1116.9,718.3 1117.2,718.3 1117.6,718.3 1118.0,718.3 1118.3,718.3 1118.7,718.3 1119.1,718.3 1119.5,718.3 1119.8,718.3 1120.2,718.3 1120.6,718.3 1120.9,718.3 1121.3,718.3 1121.7,718.3 1122.1,718.3 1122.4,718.3 1122.8,718.3 1123.2,718.3 1123.5,718.3 1123.9,718.3 1124.3,718.3 1124.6,718.3 1125.0,718.3 1125.4,718.3 1125.8,718.3 1126.1,718.3 1126.5,718.3 1126.9,718.3 1127.2,718.3 1127.6,718.3 1128.0,718.3 1128.4,718.3 1128.7,718.3 1129.1,718.3 1129.5,718.3 1129.8,718.3 1130.2,718.3 1130.6,718.3 1131.0,718.3 1131.3,718.3 1131.7,718.3 1132.1,718.3 1132.4,718.3 1132.8,718.3 1133.2,718.3 1133.6,718.3 1133.9,718.3 1134.3,718.3 1134.7,718.3 1135.0,718.3 1135.4,718.2 1135.8,717.9 1136.1,717.1 1136.5,715.6 1136.9,712.9 1137.3,709.0 1137.6,704.7 1138.0,701.3 1138.4,700.2 1138.7,701.8 1139.1,705.5 1139.5,709.8 1139.9,713.5 1140.2,716.0 1140.6,717.3 1141.0,718.0 1141.3,718.2 1141.7,718.3 1142.1,718.3 1142.5,718.3 1142.8,718.3 1143.2,718.3 1143.6,718.3 1143.9,718.3 1144.3,718.3 1144.7,718.3 1145.1,718.3 1145.4,718.3 1145.8,718.3 1146.2,718.3 1146.5,718.3 1146.9,718.3 1147.3,718.3 1147.6,718.3 1148.0,718.3 1148.4,718.3 1148.8,718.3 1149.1,718.3 1149.5,718.3 1149.9,718.3 1150.2,718.3 1150.6,718.3 1151.0,718.3 1151.4,718.3 1151.7,718.3 1152.1,718.3 1152.5,718.3 1152.8,718.3 1153.2,718.3 1153.6,718.3 1154.0,718.3 1154.3,718.3 1154.7,718.3 1155.1,718.3 1155.4,718.3 1155.8,718.3 1156.2,718.3 1156.6,718.3 1156.9,718.3 1157.3,718.3 1157.7,718.2 1158.0,718.0 1158.4,717.3 1158.8,715.6 1159.1,712.2 1159.5,706.3 1159.9,698.5 1160.3,690.2 1160.6,684.2 1161.0,683.1 1161.4,687.2 1161.7,694.8 1162.1,703.2 1162.5,710.0 1162.9,714.4 1163.2,716.7 1163.6,717.8 1164.0,718.1 1164.3,718.2 1164.7,718.0 1165.1,717.5 1165.5,716.0 1165.8,713.0 1166.2,707.7 1166.6,700.2 1166.9,691.9 1167.3,685.4 1167.7,683.4 1168.1,686.6 1168.4,693.7 1168.8,702.1 1169.2,709.1 1169.5,713.9 1169.9,716.5 1170.3,717.7 1170.6,718.1 1171.0,718.3 1171.4,718.3 1171.8,718.3 1172.1,718.3 1172.5,718.3 1172.9,718.3 1173.2,718.3 1173.6,718.3 1174.0,718.3 1174.4,718.3 1174.7,718.3 1175.1,718.3 1175.5,718.3 1175.8,718.3 1176.2,718.3 1176.6,718.3 1177.0,718.3 1177.3,718.3 1177.7,718.3 1178.1,718.3 1178.4,718.3 1178.8,718.3 1179.2,718.3 1179.6,718.3 1179.9,718.3 1180.3,718.3 1180.7,718.2 1181.0,718.0 1181.4,717.4 1181.8,716.2 1182.1,713.9 1182.5,710.3 1182.9,706.0 1183.3,702.2 1183.6,700.3 1184.0,701.0 1184.4,704.2 1184.7,708.5 1185.1,712.5 1185.5,715.3 1185.9,717.0 1186.2,717.8 1186.6,718.1 1187.0,718.3 1187.3,718.3 1187.7,718.3 1188.1,718.3 1188.5,718.2 1188.8,718.1 1189.2,717.7 1189.6,717.0 1189.9,715.8 1190.3,714.0 1190.7,712.0 1191.1,709.6 1191.4,707.1 1191.8,703.8 1192.2,699.3 1192.5,688.0 1192.9,674.9 1193.3,665.2 1193.6,662.8 1194.0,655.2 1194.4,646.2 1194.8,639.9 1195.1,638.2 1195.5,641.8 1195.9,650.3 1196.2,661.9 1196.6,674.3 1197.0,685.9 1197.4,695.6 1197.7,703.2 1198.1,708.6 1198.5,712.0 1198.8,713.2 1199.2,712.3 1199.6,709.4 1200.0,705.0 1200.3,699.9 1200.7,695.1 1201.1,691.3 1201.4,688.7 1201.8,679.1 1202.2,653.9 1202.6,628.1 1202.9,610.4 1203.3,608.0 1203.7,622.1 1204.0,646.6 1204.4,672.7 1204.8,686.9 1205.1,688.8 1205.5,690.1 1205.9,691.2 1206.3,692.3 1206.6,693.0 1207.0,692.6 1207.4,690.4 1207.7,686.4 1208.1,681.3 1208.5,676.9 1208.9,674.7 1209.2,675.4 1209.6,678.4 1210.0,682.2 1210.3,685.2 1210.7,686.6 1211.1,687.2 1211.5,688.6 1211.8,691.8 1212.2,696.6 1212.6,702.1 1212.9,706.9 1213.3,700.3 1213.7,686.6 1214.1,670.5 1214.4,656.9 1214.8,651.0 1215.2,655.2 1215.5,667.8 1215.9,683.8 1216.3,698.2 1216.6,707.5 1217.0,704.5 1217.4,693.7 1217.8,678.3 1218.1,662.9 1218.5,652.6 1218.9,651.9 1219.2,661.0 1219.6,676.0 1220.0,691.7 1220.4,704.0 1220.7,711.7 1221.1,715.7 1221.5,715.5 1221.8,713.9 1222.2,712.3 1222.6,711.0 1223.0,710.6 1223.3,709.1 1223.7,699.4 1224.1,685.3 1224.4,668.9 1224.8,655.3 1225.2,649.6 1225.6,654.4 1225.9,667.5 1226.3,683.9 1226.7,698.4 1227.0,708.4 1227.4,712.2 1227.8,708.3 1228.1,703.7 1228.5,699.5 1228.9,697.0 1229.3,697.1 1229.6,699.6 1230.0,703.8 1230.4,708.4 1230.7,712.3 1231.1,712.8 1231.5,707.0 1231.9,698.7 1232.2,689.1 1232.6,681.3 1233.0,678.2 1233.3,681.1 1233.7,688.9 1234.1,698.5 1234.5,694.7 1234.8,691.3 1235.2,689.0 1235.6,688.5 1235.9,690.2 1236.3,693.8 1236.7,698.2 1237.1,699.8 1237.4,690.8 1237.8,683.5 1238.2,680.7 1238.5,683.7 1238.9,691.0 1239.3,698.6 1239.6,696.3 1240.0,693.2 1240.4,689.2 1240.8,684.6 1241.1,680.0 1241.5,676.3 1241.9,673.9 1242.2,672.9 1242.6,672.9 1243.0,673.8 1243.4,672.5 1243.7,665.7 1244.1,666.9 1244.5,675.3 1244.8,685.0 1245.2,687.4 1245.6,689.4 1246.0,690.9 1246.3,691.4 1246.7,691.1 1247.1,690.1 1247.4,689.5 1247.8,690.4 1248.2,693.4 1248.6,698.3" fill="none" stroke="#d5376a" stroke-width="1.0" stroke-linejoin="round" />
<path d="M989.3,718.3 990.0,718.3 990.7,718.3 991.5,718.3 992.2,718.3 993.0,718.3 993.7,718.3 994.4,718.3 995.2,718.3 995.9,718.3 996.7,718.3 997.4,718.3 998.2,718.3 998.9,718.3 999.6,717.9 1000.4,715.7 1001.1,709.6 1001.9,709.3 1002.6,709.3 1003.3,709.6 1004.1,710.2 1004.8,709.2 1005.6,706.0 1006.3,702.3 1007.1,698.3 1007.8,694.1 1008.5,696.3 1009.3,707.0 1010.0,689.8 1010.8,682.4 1011.5,682.1 1012.2,683.1 1013.0,686.4 1013.7,683.1 1014.5,679.8 1015.2,677.6 1016.0,676.8 1016.7,677.6 1017.4,678.9 1018.2,677.4 1018.9,677.4 1019.7,678.9 1020.4,706.8 1021.2,709.0 1021.9,701.4 1022.6,696.2 1023.4,698.8 1024.1,701.8 1024.9,702.5 1025.6,692.5 1026.3,689.4 1027.1,689.2 1027.8,690.1 1028.6,691.9 1029.3,694.4 1030.1,697.5 1030.8,700.6 1031.5,698.7 1032.3,698.0 1033.0,698.1 1033.8,700.6 1034.5,713.7 1035.2,715.5 1036.0,709.1 1036.7,706.2 1037.5,703.0 1038.2,699.7 1039.0,705.2 1039.7,709.2 1040.4,700.9 1041.2,689.6 1041.9,689.2 1042.7,689.7 1043.4,697.5 1044.2,699.0 1044.9,696.7 1045.6,700.0 1046.4,701.2 1047.1,698.4 1047.9,698.3 1048.6,698.9 1049.3,700.2 1050.1,701.9 1050.8,700.9 1051.6,698.3 1052.3,697.6 1053.1,694.5 1053.8,693.8 1054.5,693.9 1055.3,696.1 1056.0,696.6 1056.8,698.9 1057.5,701.6 1058.2,704.2 1059.0,701.8 1059.7,699.7 1060.5,698.0 1061.2,697.0 1062.0,696.7 1062.7,697.2 1063.4,708.1 1064.2,708.8 1064.9,702.5 1065.7,704.9 1066.4,707.4 1067.2,708.4 1067.9,706.7 1068.6,705.0 1069.4,703.7 1070.1,702.7 1070.9,697.8 1071.6,692.2 1072.3,697.7 1073.1,702.7 1073.8,697.1 1074.6,689.0 1075.3,668.2 1076.1,667.1 1076.8,667.9 1077.5,686.2 1078.3,709.7 1079.0,695.8 1079.8,653.8 1080.5,651.7 1081.2,652.0 1082.0,660.4 1082.7,669.1 1083.5,677.3 1084.2,686.3 1085.0,687.4 1085.7,672.7 1086.4,671.1 1087.2,671.3 1087.9,675.7 1088.7,706.9 1089.4,716.7 1090.2,716.5 1090.9,712.4 1091.6,704.6 1092.4,697.2 1093.1,694.4 1093.9,680.5 1094.6,676.5 1095.3,676.3 1096.1,677.7 1096.8,696.6 1097.6,696.1 1098.3,699.9 1099.1,702.7 1099.8,698.3 1100.5,702.8 1101.3,702.9 1102.0,698.6 1102.8,693.9 1103.5,692.7 1104.2,699.1 1105.0,696.0 1105.7,678.8 1106.5,677.6 1107.2,677.8 1108.0,679.5 1108.7,682.5 1109.4,694.6 1110.2,692.4 1110.9,695.6 1111.7,697.1 1112.4,701.9 1113.2,714.3 1113.9,717.8 1114.6,718.3 1115.4,717.9 1116.1,715.3 1116.9,706.3 1117.6,703.5 1118.3,703.4 1119.1,703.9 1119.8,712.7 1120.6,717.4 1121.3,718.2 1122.1,718.3 1122.8,718.3 1123.5,718.3 1124.3,718.3 1125.0,718.3 1125.8,718.3 1126.5,718.3 1127.2,718.3 1128.0,718.3 1128.7,718.3 1129.5,718.3 1130.2,718.3 1131.0,718.3 1131.7,718.3 1132.4,718.3 1133.2,718.3 1133.9,718.3 1134.7,718.3 1135.4,718.3 1136.1,718.3 1136.9,718.3 1137.6,718.3 1138.4,718.3 1139.1,718.3 1139.9,718.3 1140.6,718.2 1141.3,717.1 1142.1,712.8 1142.8,709.4 1143.6,709.2 1144.3,709.4 1145.1,713.5 1145.8,717.4 1146.5,718.2 1147.3,718.3 1148.0,718.3 1148.8,718.3 1149.5,718.3 1150.2,718.3 1151.0,718.3 1151.7,718.3 1152.5,718.3 1153.2,718.3 1154.0,718.3 1154.7,718.3 1155.4,718.3 1156.2,718.3 1156.9,718.3 1157.7,718.3 1158.4,718.3 1159.1,718.3 1159.9,718.3 1160.6,718.3 1161.4,718.3 1162.1,718.3 1162.9,717.8 1163.6,714.3 1164.3,702.9 1165.1,700.3 1165.8,700.2 1166.6,700.8 1167.3,712.0 1168.1,716.0 1168.8,707.4 1169.5,700.8 1170.3,700.6 1171.0,700.9 1171.8,709.1 1172.5,715.6 1173.2,706.4 1174.0,700.4 1174.7,700.2 1175.5,700.6 1176.2,709.6 1177.0,716.6 1177.7,718.1 1178.4,718.3 1179.2,718.3 1179.9,718.3 1180.7,718.3 1181.4,718.3 1182.1,718.3 1182.9,718.3 1183.6,718.3 1184.4,718.3 1185.1,718.3 1185.9,718.3 1186.6,718.3 1187.3,718.1 1188.1,716.8 1188.8,711.9 1189.6,709.4 1190.3,709.2 1191.1,709.5 1191.8,710.0 1192.5,710.7 1193.3,711.7 1194.0,711.5 1194.8,709.3 1195.5,706.8 1196.2,704.2 1197.0,701.7 1197.7,702.9 1198.5,704.6 1199.2,696.1 1200.0,695.6 1200.7,695.9 1201.4,697.1 1202.2,706.3 1202.9,713.8 1203.7,716.9 1204.4,716.5 1205.1,712.4 1205.9,705.9 1206.6,702.5 1207.4,701.2 1208.1,670.7 1208.9,669.2 1209.6,669.4 1210.3,675.6 1211.1,675.0 1211.8,680.7 1212.6,685.0 1213.3,690.7 1214.1,696.2 1214.8,701.3 1215.5,705.7 1216.3,708.3 1217.0,710.2 1217.8,707.3 1218.5,701.3 1219.2,693.5 1220.0,689.6 1220.7,695.8 1221.5,682.3 1222.2,680.9 1223.0,680.9 1223.7,682.2 1224.4,707.4 1225.2,704.6 1225.9,698.6 1226.7,696.5 1227.4,700.8 1228.1,704.7 1228.9,707.1 1229.6,704.9 1230.4,703.1 1231.1,705.2 1231.9,699.7 1232.6,699.0 1233.3,699.0 1234.1,699.2 1234.8,707.7 1235.6,699.5 1236.3,693.9 1237.1,693.7 1237.8,694.4 1238.5,698.3 1239.3,702.2 1240.0,707.5 1240.8,708.8 1241.5,705.2 1242.2,703.3 1243.0,701.7 1243.7,700.7 1244.5,700.2 1245.2,700.4 1246.0,701.2 1246.7,702.5 1247.4,704.3 1248.2,708.3 L1248.6,718.3 L989.3,718.3Z" fill="#a8cce8" fill-opacity="0.3"/>
<polyline points="989.3,718.3 989.6,718.3 990.0,718.3 990.4,718.3 990.7,718.3 991.1,718.3 991.5,718.3 991.8,718.3 992.2,718.3 992.6,718.3 993.0,718.3 993.3,718.3 993.7,718.3 994.1,718.3 994.4,718.3 994.8,718.3 995.2,718.3 995.6,718.3 995.9,718.3 996.3,718.3 996.7,718.3 997.0,718.3 997.4,718.3 997.8,718.3 998.2,718.3 998.5,718.3 998.9,718.3 999.3,718.2 999.6,717.9 1000.0,717.2 1000.4,715.7 1000.7,713.1 1001.1,709.3 1001.5,705.0 1001.9,701.5 1002.2,700.2 1002.6,701.6 1003.0,705.2 1003.3,709.5 1003.7,712.9 1004.1,709.1 1004.5,703.6 1004.8,696.2 1005.2,687.1 1005.6,677.2 1005.9,668.1 1006.3,661.5 1006.7,658.9 1007.1,661.0 1007.4,667.6 1007.8,677.1 1008.2,687.3 1008.5,696.3 1008.9,702.8 1009.3,707.0 1009.7,703.0 1010.0,689.8 1010.4,672.9 1010.8,656.7 1011.1,646.8 1011.5,647.5 1011.9,658.5 1012.2,675.1 1012.6,691.2 1013.0,686.4 1013.4,681.7 1013.7,677.2 1014.1,673.8 1014.5,672.4 1014.8,673.8 1015.2,658.2 1015.6,641.9 1016.0,635.4 1016.3,641.5 1016.7,657.5 1017.1,677.2 1017.4,678.1 1017.8,658.5 1018.2,642.5 1018.6,636.2 1018.9,642.3 1019.3,658.3 1019.7,677.8 1020.0,695.0 1020.4,706.8 1020.8,711.8 1021.2,709.0 1021.5,705.2 1021.9,701.4 1022.3,698.1 1022.6,696.2 1023.0,695.8 1023.4,697.0 1023.7,699.3 1024.1,701.8 1024.5,703.3 1024.9,702.5 1025.2,698.8 1025.6,692.5 1026.0,680.9 1026.3,668.1 1026.7,660.6 1027.1,661.8 1027.5,665.4 1027.8,664.7 1028.2,665.8 1028.6,668.9 1028.9,673.9 1029.3,680.3 1029.7,686.8 1030.1,692.5 1030.4,696.9 1030.8,700.6 1031.2,704.0 1031.5,695.9 1031.9,686.4 1032.3,679.4 1032.7,677.8 1033.0,682.4 1033.4,691.0 1033.8,700.6 1034.1,708.5 1034.5,713.7 1034.9,716.4 1035.2,715.5 1035.6,712.9 1036.0,709.1 1036.4,704.6 1036.7,700.1 1037.1,696.8 1037.5,695.5 1037.8,696.3 1038.2,698.7 1038.6,702.0 1039.0,705.2 1039.3,707.8 1039.7,709.2 1040.1,708.6 1040.4,700.9 1040.8,688.4 1041.2,674.6 1041.6,663.7 1041.9,660.0 1042.3,665.2 1042.7,677.0 1043.0,690.9 1043.4,697.5 1043.8,699.4 1044.2,699.0 1044.5,697.5 1044.9,696.5 1045.3,697.2 1045.6,699.7 1046.0,703.2 1046.4,701.2 1046.7,691.7 1047.1,683.1 1047.5,678.4 1047.9,679.7 1048.2,686.5 1048.6,692.7 1049.0,685.8 1049.3,679.6 1049.7,675.4 1050.1,674.2 1050.5,676.0 1050.8,680.3 1051.2,685.7 1051.6,691.1 1051.9,695.3 1052.3,697.6 1052.7,697.8 1053.1,691.3 1053.4,679.7 1053.8,671.3 1054.2,669.3 1054.5,674.7 1054.9,685.2 1055.3,696.1 1055.7,696.6 1056.0,694.9 1056.4,690.7 1056.8,684.0 1057.1,675.0 1057.5,664.0 1057.9,652.1 1058.2,641.1 1058.6,633.2 1059.0,630.5 1059.4,634.0 1059.7,642.7 1060.1,654.7 1060.5,667.9 1060.8,680.6 1061.2,684.1 1061.6,676.8 1062.0,675.3 1062.3,680.2 1062.7,689.5 1063.1,699.7 1063.4,708.1 1063.8,712.3 1064.2,708.8 1064.6,704.7 1064.9,700.6 1065.3,697.4 1065.7,695.3 1066.0,694.5 1066.4,694.5 1066.8,695.2 1067.2,696.4 1067.5,697.6 1067.9,698.0 1068.3,696.7 1068.6,693.4 1069.0,688.6 1069.4,683.4 1069.7,678.9 1070.1,676.2 1070.5,675.5 1070.9,677.0 1071.2,680.5 1071.6,685.8 1072.0,691.9 1072.3,697.7 1072.7,701.6 1073.1,702.7 1073.5,700.9 1073.8,697.1 1074.2,692.6 1074.6,689.0 1074.9,671.9 1075.3,647.6 1075.7,626.4 1076.1,616.2 1076.4,621.4 1076.8,639.8 1077.2,664.0 1077.5,686.2 1077.9,702.1 1078.3,709.7 1078.7,708.5 1079.0,695.8 1079.4,674.3 1079.8,644.7 1080.1,613.4 1080.5,590.6 1080.9,585.5 1081.2,600.4 1081.6,628.9 1082.0,660.4 1082.4,669.0 1082.7,669.1 1083.1,672.3 1083.5,677.3 1083.8,682.4 1084.2,686.3 1084.6,688.0 1085.0,687.4 1085.3,684.9 1085.7,667.9 1086.1,645.5 1086.4,628.6 1086.8,623.9 1087.2,633.5 1087.6,653.3 1087.9,675.7 1088.3,694.5 1088.7,706.9 1089.0,713.7 1089.4,716.7 1089.8,717.1 1090.2,716.5 1090.5,714.9 1090.9,712.4 1091.3,708.8 1091.6,704.6 1092.0,700.5 1092.4,697.2 1092.7,695.1 1093.1,694.4 1093.5,694.7 1093.9,680.5 1094.2,660.6 1094.6,643.0 1095.0,634.3 1095.3,638.4 1095.7,653.3 1096.1,673.2 1096.5,691.6 1096.8,696.6 1097.2,695.7 1097.6,696.1 1097.9,697.7 1098.3,699.9 1098.7,701.9 1099.1,702.7 1099.4,701.5 1099.8,697.8 1100.2,691.5 1100.5,683.4 1100.9,675.1 1101.3,668.3 1101.7,664.7 1102.0,665.1 1102.4,669.7 1102.8,677.1 1103.1,685.4 1103.5,692.7 1103.9,697.4 1104.2,699.1 1104.6,698.3 1105.0,696.0 1105.4,689.6 1105.7,671.2 1106.1,652.3 1106.5,639.3 1106.8,637.5 1107.2,647.8 1107.6,653.6 1108.0,653.6 1108.3,659.7 1108.7,670.5 1109.1,683.1 1109.4,694.6 1109.8,702.2 1110.2,692.4 1110.6,682.7 1110.9,676.5 1111.3,676.3 1111.7,682.3 1112.0,692.0 1112.4,701.9 1112.8,709.5 1113.2,714.3 1113.5,716.7 1113.9,717.8 1114.3,718.2 1114.6,718.3 1115.0,718.2 1115.4,717.9 1115.7,717.1 1116.1,715.3 1116.5,711.8 1116.9,706.3 1117.2,699.3 1117.6,692.7 1118.0,688.9 1118.3,689.4 1118.7,694.0 1119.1,700.9 1119.5,707.7 1119.8,712.7 1120.2,715.8 1120.6,717.4 1120.9,718.0 1121.3,718.2 1121.7,718.3 1122.1,718.3 1122.4,718.3 1122.8,718.3 1123.2,718.3 1123.5,718.3 1123.9,718.3 1124.3,718.3 1124.6,718.3 1125.0,718.3 1125.4,718.3 1125.8,718.3 1126.1,718.3 1126.5,718.3 1126.9,718.3 1127.2,718.3 1127.6,718.3 1128.0,718.3 1128.4,718.3 1128.7,718.3 1129.1,718.3 1129.5,718.3 1129.8,718.3 1130.2,718.3 1130.6,718.3 1131.0,718.3 1131.3,718.3 1131.7,718.3 1132.1,718.3 1132.4,718.3 1132.8,718.3 1133.2,718.3 1133.6,718.3 1133.9,718.3 1134.3,718.3 1134.7,718.3 1135.0,718.3 1135.4,718.3 1135.8,718.3 1136.1,718.3 1136.5,718.3 1136.9,718.3 1137.3,718.3 1137.6,718.3 1138.0,718.3 1138.4,718.3 1138.7,718.3 1139.1,718.3 1139.5,718.3 1139.9,718.3 1140.2,718.3 1140.6,718.2 1141.0,717.9 1141.3,717.1 1141.7,715.5 1142.1,712.8 1142.5,708.9 1142.8,704.6 1143.2,701.3 1143.6,700.2 1143.9,701.9 1144.3,705.6 1144.7,709.9 1145.1,713.5 1145.4,716.0 1145.8,717.4 1146.2,718.0 1146.5,718.2 1146.9,718.3 1147.3,718.3 1147.6,718.3 1148.0,718.3 1148.4,718.3 1148.8,718.3 1149.1,718.3 1149.5,718.3 1149.9,718.3 1150.2,718.3 1150.6,718.3 1151.0,718.3 1151.4,718.3 1151.7,718.3 1152.1,718.3 1152.5,718.3 1152.8,718.3 1153.2,718.3 1153.6,718.3 1154.0,718.3 1154.3,718.3 1154.7,718.3 1155.1,718.3 1155.4,718.3 1155.8,718.3 1156.2,718.3 1156.6,718.3 1156.9,718.3 1157.3,718.3 1157.7,718.3 1158.0,718.3 1158.4,718.3 1158.8,718.3 1159.1,718.3 1159.5,718.3 1159.9,718.3 1160.3,718.3 1160.6,718.3 1161.0,718.3 1161.4,718.3 1161.7,718.3 1162.1,718.3 1162.5,718.1 1162.9,717.8 1163.2,716.7 1163.6,714.3 1164.0,709.8 1164.3,702.9 1164.7,694.4 1165.1,686.5 1165.5,682.3 1165.8,683.4 1166.2,689.5 1166.6,698.0 1166.9,706.1 1167.3,712.0 1167.7,715.5 1168.1,716.0 1168.4,712.9 1168.8,707.4 1169.2,699.8 1169.5,691.4 1169.9,684.9 1170.3,682.9 1170.6,686.2 1171.0,693.5 1171.4,701.9 1171.8,709.1 1172.1,713.8 1172.5,715.6 1172.9,712.2 1173.2,706.4 1173.6,698.4 1174.0,689.9 1174.4,683.6 1174.7,682.2 1175.1,686.2 1175.5,693.9 1175.8,702.5 1176.2,709.6 1176.6,714.2 1177.0,716.6 1177.3,717.7 1177.7,718.1 1178.1,718.3 1178.4,718.3 1178.8,718.3 1179.2,718.3 1179.6,718.3 1179.9,718.3 1180.3,718.3 1180.7,718.3 1181.0,718.3 1181.4,718.3 1181.8,718.3 1182.1,718.3 1182.5,718.3 1182.9,718.3 1183.3,718.3 1183.6,718.3 1184.0,718.3 1184.4,718.3 1184.7,718.3 1185.1,718.3 1185.5,718.3 1185.9,718.3 1186.2,718.3 1186.6,718.3 1187.0,718.2 1187.3,718.1 1187.7,717.7 1188.1,716.8 1188.5,715.0 1188.8,711.9 1189.2,707.7 1189.6,703.5 1189.9,700.5 1190.3,699.6 1190.7,700.8 1191.1,702.7 1191.4,703.3 1191.8,701.0 1192.2,695.4 1192.5,687.3 1192.9,678.9 1193.3,672.4 1193.6,669.5 1194.0,670.3 1194.4,673.6 1194.8,677.8 1195.1,681.9 1195.5,685.6 1195.9,689.2 1196.2,692.7 1196.6,695.9 1197.0,698.8 1197.4,701.1 1197.7,702.9 1198.1,704.2 1198.5,704.6 1198.8,698.6 1199.2,687.9 1199.6,678.2 1200.0,673.2 1200.3,674.9 1200.7,682.7 1201.1,693.4 1201.4,697.1 1201.8,701.6 1202.2,706.3 1202.6,710.5 1202.9,713.8 1203.3,715.9 1203.7,716.9 1204.0,717.1 1204.4,716.5 1204.8,714.9 1205.1,712.4 1205.5,709.2 1205.9,705.9 1206.3,703.4 1206.6,702.5 1207.0,703.5 1207.4,701.2 1207.7,685.1 1208.1,663.2 1208.5,640.1 1208.9,623.7 1209.2,620.5 1209.6,631.9 1210.0,653.2 1210.3,675.6 1210.7,673.8 1211.1,675.0 1211.5,677.8 1211.8,680.7 1212.2,682.4 1212.6,682.3 1212.9,680.5 1213.3,677.8 1213.7,675.5 1214.1,675.0 1214.4,677.0 1214.8,681.6 1215.2,688.0 1215.5,695.2 1215.9,701.8 1216.3,706.7 1216.6,709.5 1217.0,710.2 1217.4,709.3 1217.8,707.3 1218.1,704.6 1218.5,701.3 1218.9,697.5 1219.2,693.5 1219.6,690.5 1220.0,689.6 1220.4,691.5 1220.7,695.8 1221.1,697.8 1221.5,682.3 1221.8,664.4 1222.2,649.5 1222.6,643.2 1223.0,648.3 1223.3,662.6 1223.7,680.4 1224.1,696.3 1224.4,707.4 1224.8,706.4 1225.2,704.6 1225.6,702.1 1225.9,698.6 1226.3,694.0 1226.7,688.4 1227.0,682.8 1227.4,678.2 1227.8,675.8 1228.1,675.8 1228.5,678.5 1228.9,683.1 1229.3,688.9 1229.6,694.7 1230.0,699.6 1230.4,703.1 1230.7,704.9 1231.1,705.2 1231.5,704.7 1231.9,699.3 1232.2,690.1 1232.6,682.5 1233.0,679.5 1233.3,682.3 1233.7,689.9 1234.1,699.1 1234.5,707.2 1234.8,707.7 1235.2,707.0 1235.6,699.5 1235.9,688.2 1236.3,677.0 1236.7,670.0 1237.1,670.1 1237.4,677.1 1237.8,688.3 1238.2,697.0 1238.5,698.3 1238.9,700.0 1239.3,702.2 1239.6,704.9 1240.0,707.5 1240.4,709.0 1240.8,708.8 1241.1,706.7 1241.5,703.0 1241.9,698.6 1242.2,694.3 1242.6,690.7 1243.0,687.7 1243.4,684.9 1243.7,682.1 1244.1,679.1 1244.5,676.4 1244.8,674.6 1245.2,674.2 1245.6,675.9 1246.0,679.6 1246.3,684.9 1246.7,690.7 1247.1,696.1 1247.4,700.8 1247.8,704.8 1248.2,708.3 1248.6,711.4" fill="none" stroke="#2b95c3" stroke-width="1.0" stroke-linejoin="round" />
<line x1="1192.8" y1="542" x2="1214.8" y2="542" stroke="#d5376a" stroke-width="1.3" />
<text x="1215.8" y="545.3" font-size="9.5" text-anchor="start" font-weight="bold" fill="#111" >CdS</text>
<line x1="1192.8" y1="555" x2="1214.8" y2="555" stroke="#2b95c3" stroke-width="1.3" />
<text x="1215.8" y="558.3" font-size="9.5" text-anchor="start" font-weight="bold" fill="#111" >N-CdS</text>
<text x="1118.9" y="744" font-size="10" text-anchor="middle" font-weight="bold" fill="#111" >Energy (eV)</text>
<text transform="translate(966,628) rotate(-90)" font-size="10" text-anchor="middle" font-weight="bold" fill="#111">TDOS (a.u.)</text>
<text x="949" y="548" font-size="21" text-anchor="start" font-weight="bold" fill="#000" >(b)</text>
<rect x="691.7" y="752.1" width="258.4" height="193.4" fill="none" stroke="#333" stroke-width="1" />
<line x1="691.7" y1="778.4" x2="694.7" y2="778.4" stroke="#333" stroke-width="1" />
<text x="688.7" y="781.5" font-size="9.5" text-anchor="end" font-weight="bold" fill="#111" >0.5</text>
<line x1="691.7" y1="822.5" x2="694.7" y2="822.5" stroke="#333" stroke-width="1" />
<text x="688.7" y="825.6" font-size="9.5" text-anchor="end" font-weight="bold" fill="#111" >0.0</text>
<line x1="691.7" y1="866.6" x2="694.7" y2="866.6" stroke="#333" stroke-width="1" />
<text x="688.7" y="869.7" font-size="9.5" text-anchor="end" font-weight="bold" fill="#111" >-0.5</text>
<line x1="691.7" y1="910.7" x2="694.7" y2="910.7" stroke="#333" stroke-width="1" />
<text x="688.7" y="913.8" font-size="9.5" text-anchor="end" font-weight="bold" fill="#111" >-1.0</text>
<line x1="691.7" y1="800.5" x2="693.5" y2="800.5" stroke="#333" stroke-width="1" />
<line x1="691.7" y1="844.5" x2="693.5" y2="844.5" stroke="#333" stroke-width="1" />
<line x1="691.7" y1="888.6" x2="693.5" y2="888.6" stroke="#333" stroke-width="1" />
<line x1="691.7" y1="932.8" x2="693.5" y2="932.8" stroke="#333" stroke-width="1" />
<line x1="697.5" y1="822.5" x2="729.5" y2="822.5" stroke="#d5376a" stroke-width="1.6" />
<line x1="729.5" y1="822.5" x2="768.6" y2="879.8" stroke="#d5376a" stroke-width="1.1" stroke-dasharray="4,3"/>
<line x1="768.6" y1="879.8" x2="803.9" y2="879.8" stroke="#d5376a" stroke-width="1.6" />
<line x1="803.9" y1="879.8" x2="839.2" y2="764.3" stroke="#d5376a" stroke-width="1.1" stroke-dasharray="4,3"/>
<line x1="839.2" y1="764.3" x2="874.5" y2="764.3" stroke="#d5376a" stroke-width="1.6" />
<line x1="874.5" y1="764.3" x2="909.8" y2="806.6" stroke="#d5376a" stroke-width="1.1" stroke-dasharray="4,3"/>
<line x1="909.8" y1="806.6" x2="945.1" y2="806.6" stroke="#d5376a" stroke-width="1.6" />
<line x1="697.5" y1="822.5" x2="729.5" y2="822.5" stroke="#2b95c3" stroke-width="1.6" />
<line x1="729.5" y1="822.5" x2="768.6" y2="884.2" stroke="#2b95c3" stroke-width="1.1" stroke-dasharray="4,3"/>
<line x1="768.6" y1="884.2" x2="803.9" y2="884.2" stroke="#2b95c3" stroke-width="1.6" />
<line x1="803.9" y1="884.2" x2="839.2" y2="858.7" stroke="#2b95c3" stroke-width="1.1" stroke-dasharray="4,3"/>
<line x1="839.2" y1="858.7" x2="874.5" y2="858.7" stroke="#2b95c3" stroke-width="1.6" />
<line x1="874.5" y1="858.7" x2="909.8" y2="898.4" stroke="#2b95c3" stroke-width="1.1" stroke-dasharray="4,3"/>
<line x1="909.8" y1="898.4" x2="945.1" y2="898.4" stroke="#2b95c3" stroke-width="1.6" />
<text x="855.5" y="761" font-size="11" text-anchor="middle" font-weight="bold" fill="#111" >0.66</text>
<text x="925" y="802.5" font-size="11" text-anchor="middle" font-weight="bold" fill="#111" >0.18</text>
<text x="855.6" y="853.5" font-size="11" text-anchor="middle" font-weight="bold" fill="#111" >-0.41</text>
<text x="785.7" y="874.9" font-size="11" text-anchor="middle" font-weight="bold" fill="#111" >-0.65</text>
<text x="785.7" y="892.5" font-size="11" text-anchor="middle" font-weight="bold" fill="#111" >-0.70</text>
<text x="925" y="892.5" font-size="11" text-anchor="middle" font-weight="bold" fill="#111" >-0.86</text>
<line x1="695.5" y1="763.2" x2="728.5" y2="763.2" stroke="#d5376a" stroke-width="1.3" />
<text x="729.5" y="766.7" font-size="10" text-anchor="start" font-weight="bold" fill="#111" >CdS</text>
<line x1="695.5" y1="777.1" x2="728.5" y2="777.1" stroke="#2b95c3" stroke-width="1.3" />
<text x="729.5" y="780.6" font-size="10" text-anchor="start" font-weight="bold" fill="#111" >N-CdS</text>
<line x1="704.3" y1="837.1" x2="705.9" y2="833.3" stroke="#6a78d8" stroke-width="1.1" />
<line x1="705.9" y1="833.3" x2="707.6" y2="829.5" stroke="#e8702e" stroke-width="1.1" />
<line x1="707.6" y1="829.5" x2="713.9" y2="831.7" stroke="#e8702e" stroke-width="1.1" />
<line x1="713.9" y1="831.7" x2="720.2" y2="833.8" stroke="#6a78d8" stroke-width="1.1" />
<line x1="720.2" y1="833.8" x2="724.2" y2="835.8" stroke="#6a78d8" stroke-width="1.1" />
<line x1="724.2" y1="835.8" x2="728.3" y2="837.8" stroke="#e8702e" stroke-width="1.1" />
<line x1="728.3" y1="837.8" x2="726" y2="845" stroke="#e8702e" stroke-width="1.1" />
<line x1="726" y1="845" x2="723.7" y2="852.2" stroke="#6a78d8" stroke-width="1.1" />
<line x1="723.7" y1="852.2" x2="715.9" y2="852.2" stroke="#6a78d8" stroke-width="1.1" />
<line x1="715.9" y1="852.2" x2="708.1" y2="852.2" stroke="#e8702e" stroke-width="1.1" />
<line x1="708.1" y1="852.2" x2="706.2" y2="844.6" stroke="#e8702e" stroke-width="1.1" />
<line x1="706.2" y1="844.6" x2="704.3" y2="837.1" stroke="#6a78d8" stroke-width="1.1" />
<circle cx="704.3" cy="837.1" r="3.2" fill="#5560c8"/>
<circle cx="703.5" cy="836.3" r="1.4" fill="#fff" fill-opacity="0.35"/>
<circle cx="707.6" cy="829.5" r="1.9" fill="#e05a20"/>
<circle cx="707.1" cy="829.0" r="0.9" fill="#fff" fill-opacity="0.35"/>
<circle cx="720.2" cy="833.8" r="3.2" fill="#5560c8"/>
<circle cx="719.4" cy="833.0" r="1.4" fill="#fff" fill-opacity="0.35"/>
<circle cx="728.3" cy="837.8" r="1.9" fill="#e05a20"/>
<circle cx="727.8" cy="837.4" r="0.9" fill="#fff" fill-opacity="0.35"/>
<circle cx="723.7" cy="852.2" r="3.2" fill="#5560c8"/>
<circle cx="722.9" cy="851.4" r="1.4" fill="#fff" fill-opacity="0.35"/>
<circle cx="708.1" cy="852.2" r="1.9" fill="#e05a20"/>
<circle cx="707.6" cy="851.7" r="0.9" fill="#fff" fill-opacity="0.35"/>
<circle cx="715.1" cy="833.8" r="1.6" fill="#40c040"/>
<line x1="785.7" y1="898.9" x2="778.7" y2="912.2" stroke="#e8702e" stroke-width="1" />
<line x1="785.7" y1="898.9" x2="792" y2="908.4" stroke="#e8702e" stroke-width="1" />
<line x1="778.7" y1="912.2" x2="785.4" y2="910.3" stroke="#6a78d8" stroke-width="1.1" />
<line x1="785.4" y1="910.3" x2="792" y2="908.4" stroke="#e8702e" stroke-width="1.1" />
<line x1="792" y1="908.4" x2="793.9" y2="912.1" stroke="#e8702e" stroke-width="1.1" />
<line x1="793.9" y1="912.1" x2="795.8" y2="915.7" stroke="#6a78d8" stroke-width="1.1" />
<line x1="795.8" y1="915.7" x2="793.6" y2="923.1" stroke="#6a78d8" stroke-width="1.1" />
<line x1="793.6" y1="923.1" x2="791.3" y2="930.4" stroke="#e8702e" stroke-width="1.1" />
<line x1="791.3" y1="930.4" x2="783.7" y2="930.4" stroke="#e8702e" stroke-width="1.1" />
<line x1="783.7" y1="930.4" x2="776.2" y2="930.4" stroke="#6a78d8" stroke-width="1.1" />
<line x1="776.2" y1="930.4" x2="773.6" y2="923.2" stroke="#6a78d8" stroke-width="1.1" />
<line x1="773.6" y1="923.2" x2="771.1" y2="916" stroke="#e8702e" stroke-width="1.1" />
<line x1="771.1" y1="916" x2="774.9" y2="914.1" stroke="#e8702e" stroke-width="1.1" />
<line x1="774.9" y1="914.1" x2="778.7" y2="912.2" stroke="#6a78d8" stroke-width="1.1" />
<circle cx="778.7" cy="912.2" r="3.2" fill="#5560c8"/>
<circle cx="777.9" cy="911.4" r="1.4" fill="#fff" fill-opacity="0.35"/>
<circle cx="792.0" cy="908.4" r="1.9" fill="#e05a20"/>
<circle cx="791.6" cy="908.0" r="0.9" fill="#fff" fill-opacity="0.35"/>
<circle cx="795.8" cy="915.7" r="3.2" fill="#5560c8"/>
<circle cx="795.0" cy="914.9" r="1.4" fill="#fff" fill-opacity="0.35"/>
<circle cx="791.3" cy="930.4" r="1.9" fill="#e05a20"/>
<circle cx="790.8" cy="929.9" r="0.9" fill="#fff" fill-opacity="0.35"/>
<circle cx="776.2" cy="930.4" r="3.2" fill="#5560c8"/>
<circle cx="775.4" cy="929.6" r="1.4" fill="#fff" fill-opacity="0.35"/>
<circle cx="771.1" cy="916.0" r="1.9" fill="#e05a20"/>
<circle cx="770.6" cy="915.5" r="0.9" fill="#fff" fill-opacity="0.35"/>
<circle cx="785.7" cy="898.9" r="1.8" fill="#d83030"/>
<circle cx="785.3" cy="898.4" r="0.8" fill="#fff" fill-opacity="0.35"/>
<circle cx="788.8" cy="914.0" r="1.5" fill="#40c040"/>
<line x1="855.6" y1="864.1" x2="848.8" y2="876.9" stroke="#e8702e" stroke-width="1" />
<line x1="855.6" y1="864.1" x2="861.9" y2="873.1" stroke="#e8702e" stroke-width="1" />
<line x1="848.8" y1="876.9" x2="855.3" y2="875" stroke="#6a78d8" stroke-width="1.1" />
<line x1="855.3" y1="875" x2="861.9" y2="873.1" stroke="#e8702e" stroke-width="1.1" />
<line x1="861.9" y1="873.1" x2="864" y2="876.8" stroke="#e8702e" stroke-width="1.1" />
<line x1="864" y1="876.8" x2="866.2" y2="880.4" stroke="#6a78d8" stroke-width="1.1" />
<line x1="866.2" y1="880.4" x2="864" y2="887.8" stroke="#6a78d8" stroke-width="1.1" />
<line x1="864" y1="887.8" x2="861.9" y2="895.1" stroke="#e8702e" stroke-width="1.1" />
<line x1="861.9" y1="895.1" x2="854.3" y2="895.1" stroke="#e8702e" stroke-width="1.1" />
<line x1="854.3" y1="895.1" x2="846.8" y2="895.1" stroke="#6a78d8" stroke-width="1.1" />
<line x1="846.8" y1="895.1" x2="844.2" y2="888.1" stroke="#6a78d8" stroke-width="1.1" />
<line x1="844.2" y1="888.1" x2="841.7" y2="881.2" stroke="#e8702e" stroke-width="1.1" />
<line x1="841.7" y1="881.2" x2="845.2" y2="879.1" stroke="#e8702e" stroke-width="1.1" />
<line x1="845.2" y1="879.1" x2="848.8" y2="876.9" stroke="#6a78d8" stroke-width="1.1" />
<circle cx="848.8" cy="876.9" r="3.2" fill="#5560c8"/>
<circle cx="848.0" cy="876.1" r="1.4" fill="#fff" fill-opacity="0.35"/>
<circle cx="861.9" cy="873.1" r="1.9" fill="#e05a20"/>
<circle cx="861.4" cy="872.7" r="0.9" fill="#fff" fill-opacity="0.35"/>
<circle cx="866.2" cy="880.4" r="3.2" fill="#5560c8"/>
<circle cx="865.4" cy="879.6" r="1.4" fill="#fff" fill-opacity="0.35"/>
<circle cx="861.9" cy="895.1" r="1.9" fill="#e05a20"/>
<circle cx="861.4" cy="894.6" r="0.9" fill="#fff" fill-opacity="0.35"/>
<circle cx="846.8" cy="895.1" r="3.2" fill="#5560c8"/>
<circle cx="846.0" cy="894.3" r="1.4" fill="#fff" fill-opacity="0.35"/>
<circle cx="841.7" cy="881.2" r="1.9" fill="#e05a20"/>
<circle cx="841.2" cy="880.7" r="0.9" fill="#fff" fill-opacity="0.35"/>
<circle cx="855.6" cy="864.1" r="1.8" fill="#d83030"/>
<circle cx="855.1" cy="863.6" r="0.8" fill="#fff" fill-opacity="0.35"/>
<line x1="861.9" y1="868.6" x2="869.5" y2="868.6" stroke="#999" stroke-width="1" />
<circle cx="868.2" cy="868.6" r="1.8" fill="#aaa"/>
<circle cx="867.7" cy="868.1" r="0.8" fill="#fff" fill-opacity="0.35"/>
<circle cx="859.4" cy="877.4" r="1.5" fill="#40c040"/>
<line x1="917.4" y1="905.2" x2="918.6" y2="911.5" stroke="#e8702e" stroke-width="1" />
<line x1="914.8" y1="918.3" x2="916.7" y2="914.9" stroke="#6a78d8" stroke-width="1.1" />
<line x1="916.7" y1="914.9" x2="918.6" y2="911.5" stroke="#e8702e" stroke-width="1.1" />
<line x1="918.6" y1="911.5" x2="925.2" y2="913" stroke="#e8702e" stroke-width="1.1" />
<line x1="925.2" y1="913" x2="931.7" y2="914.5" stroke="#6a78d8" stroke-width="1.1" />
<line x1="931.7" y1="914.5" x2="935.3" y2="916.5" stroke="#6a78d8" stroke-width="1.1" />
<line x1="935.3" y1="916.5" x2="938.8" y2="918.5" stroke="#e8702e" stroke-width="1.1" />
<line x1="938.8" y1="918.5" x2="936.5" y2="925.7" stroke="#e8702e" stroke-width="1.1" />
<line x1="936.5" y1="925.7" x2="934.3" y2="932.9" stroke="#6a78d8" stroke-width="1.1" />
<line x1="934.3" y1="932.9" x2="926.8" y2="932.9" stroke="#6a78d8" stroke-width="1.1" />
<line x1="926.8" y1="932.9" x2="919.4" y2="932.9" stroke="#e8702e" stroke-width="1.1" />
<line x1="919.4" y1="932.9" x2="917.1" y2="925.6" stroke="#e8702e" stroke-width="1.1" />
<line x1="917.1" y1="925.6" x2="914.8" y2="918.3" stroke="#6a78d8" stroke-width="1.1" />
<circle cx="914.8" cy="918.3" r="3.2" fill="#5560c8"/>
<circle cx="914.0" cy="917.5" r="1.4" fill="#fff" fill-opacity="0.35"/>
<circle cx="918.6" cy="911.5" r="1.9" fill="#e05a20"/>
<circle cx="918.1" cy="911.0" r="0.9" fill="#fff" fill-opacity="0.35"/>
<circle cx="931.7" cy="914.5" r="3.2" fill="#5560c8"/>
<circle cx="930.9" cy="913.7" r="1.4" fill="#fff" fill-opacity="0.35"/>
<circle cx="938.8" cy="918.5" r="1.9" fill="#e05a20"/>
<circle cx="938.3" cy="918.0" r="0.9" fill="#fff" fill-opacity="0.35"/>
<circle cx="934.3" cy="932.9" r="3.2" fill="#5560c8"/>
<circle cx="933.5" cy="932.1" r="1.4" fill="#fff" fill-opacity="0.35"/>
<circle cx="919.4" cy="932.9" r="1.9" fill="#e05a20"/>
<circle cx="918.9" cy="932.4" r="0.9" fill="#fff" fill-opacity="0.35"/>
<circle cx="917.4" cy="905.2" r="1.6" fill="#d83030"/>
<circle cx="917.0" cy="904.8" r="0.7" fill="#fff" fill-opacity="0.35"/>
<circle cx="922.4" cy="914.0" r="1.5" fill="#40c040"/>
<line x1="924.9" y1="877.4" x2="915.6" y2="879.4" stroke="#8a5070" stroke-width="1.1" />
<line x1="924.9" y1="877.4" x2="933.7" y2="879.4" stroke="#8a5070" stroke-width="1.1" />
<circle cx="915.6" cy="879.4" r="2" fill="#b04050"/>
<circle cx="915.1" cy="878.9" r="0.9" fill="#fff" fill-opacity="0.35"/>
<circle cx="933.7" cy="879.4" r="2" fill="#b04050"/>
<circle cx="933.2" cy="878.9" r="0.9" fill="#fff" fill-opacity="0.35"/>
<circle cx="924.9" cy="877.4" r="2.6" fill="#5560c8"/>
<circle cx="924.3" cy="876.8" r="1.2" fill="#fff" fill-opacity="0.35"/>
<circle cx="924.9" cy="874.1" r="1.4" fill="#e09090"/>
<circle cx="924.6" cy="873.8" r="0.6" fill="#fff" fill-opacity="0.35"/>
<text x="714.4" y="956" font-size="7.5" text-anchor="middle" font-weight="bold" fill="#111" >*</text>
<text x="780" y="956" font-size="7.5" text-anchor="middle" font-weight="bold" fill="#111" >H<tspan font-size="5.5" dy="1.5">2</tspan><tspan dy="-1.5">O*</tspan></text>
<text x="855" y="956" font-size="7.5" text-anchor="middle" font-weight="bold" fill="#111" >TS</text>
<text x="919.9" y="956" font-size="7.5" text-anchor="middle" font-weight="bold" fill="#111" >(OH+H)*</text>
<text x="820.9" y="965" font-size="10.5" text-anchor="middle" font-weight="bold" fill="#111" >Reaction coordition</text>
<text transform="translate(668,849) rotate(-90)" font-size="10" text-anchor="middle" font-weight="bold" fill="#111">Energy (eV)</text>
<text x="660" y="767" font-size="22" text-anchor="start" font-weight="bold" fill="#000" >(c)</text>
<rect x="989.5" y="752.1" width="259.6" height="194" fill="none" stroke="#333" stroke-width="1" />
<line x1="989.5" y1="775.1" x2="992.5" y2="775.1" stroke="#333" stroke-width="1" />
<text x="986.5" y="778.2" font-size="9.5" text-anchor="end" font-weight="bold" fill="#111" >2</text>
<line x1="989.5" y1="840.6" x2="992.5" y2="840.6" stroke="#333" stroke-width="1" />
<text x="986.5" y="843.7" font-size="9.5" text-anchor="end" font-weight="bold" fill="#111" >0</text>
<line x1="989.5" y1="906.1" x2="992.5" y2="906.1" stroke="#333" stroke-width="1" />
<text x="986.5" y="909.2" font-size="9.5" text-anchor="end" font-weight="bold" fill="#111" >-2</text>
<line x1="989.5" y1="807.9" x2="991.3" y2="807.9" stroke="#333" stroke-width="1" />
<line x1="989.5" y1="873.4" x2="991.3" y2="873.4" stroke="#333" stroke-width="1" />
<line x1="989.5" y1="938.9" x2="991.3" y2="938.9" stroke="#333" stroke-width="1" />
<line x1="999" y1="840.6" x2="1045.5" y2="840.6" stroke="#2b95c3" stroke-width="1.6" />
<line x1="1190" y1="840.6" x2="1237.8" y2="840.6" stroke="#2b95c3" stroke-width="1.6" />
<line x1="1095.8" y1="777.1" x2="1142.3" y2="777.1" stroke="#d8306a" stroke-width="1.6" />
<line x1="1045.5" y1="840.6" x2="1095.8" y2="777.1" stroke="#d8306a" stroke-width="0.9" stroke-dasharray="3,2"/>
<line x1="1142.3" y1="777.1" x2="1190" y2="840.6" stroke="#d8306a" stroke-width="0.9" stroke-dasharray="3,2"/>
<line x1="1095.8" y1="821.3" x2="1142.3" y2="821.3" stroke="#f0a050" stroke-width="1.6" />
<line x1="1045.5" y1="840.6" x2="1095.8" y2="821.3" stroke="#f0a050" stroke-width="0.9" stroke-dasharray="3,2"/>
<line x1="1142.3" y1="821.3" x2="1190" y2="840.6" stroke="#f0a050" stroke-width="0.9" stroke-dasharray="3,2"/>
<line x1="1095.8" y1="849.1" x2="1142.3" y2="849.1" stroke="#60c050" stroke-width="1.6" />
<line x1="1045.5" y1="840.6" x2="1095.8" y2="849.1" stroke="#60c050" stroke-width="0.9" stroke-dasharray="3,2"/>
<line x1="1142.3" y1="849.1" x2="1190" y2="840.6" stroke="#60c050" stroke-width="0.9" stroke-dasharray="3,2"/>
<line x1="1095.8" y1="927.4" x2="1142.3" y2="927.4" stroke="#2b95c3" stroke-width="1.6" />
<line x1="1045.5" y1="840.6" x2="1095.8" y2="927.4" stroke="#2b95c3" stroke-width="0.9" stroke-dasharray="3,2"/>
<line x1="1142.3" y1="927.4" x2="1190" y2="840.6" stroke="#2b95c3" stroke-width="0.9" stroke-dasharray="3,2"/>
<text x="1119" y="772.7" font-size="8.2" text-anchor="middle" font-weight="bold" fill="#111" >CdS atop Cd (1.94)</text>
<text x="1119" y="815.9" font-size="8.2" text-anchor="middle" font-weight="bold" fill="#111" >CdS atop S (0.59)</text>
<text x="1119" y="843" font-size="8.2" text-anchor="middle" font-weight="bold" fill="#111" >N-CdS  atop S (-0.26)</text>
<text x="1119" y="938" font-size="8.2" text-anchor="middle" font-weight="bold" fill="#111" >N-CdS  atop N (-2.65)</text>
<text x="1022.9" y="836.8" font-size="8.5" text-anchor="middle" font-weight="bold" fill="#111" >H<tspan font-size="5" dy="-3">+</tspan><tspan dy="3"> + e</tspan><tspan font-size="5" dy="-3">-</tspan></text>
<text x="1214" y="836.8" font-size="8.5" text-anchor="middle" font-weight="bold" fill="#111" >1/2 H<tspan font-size="5" dy="2">2</tspan></text>
<text x="1119" y="958" font-size="10.5" text-anchor="middle" font-weight="bold" fill="#111" >Reaction coordition</text>
<text transform="translate(971,849) rotate(-90)" font-size="10" text-anchor="middle" font-weight="bold" fill="#111">ΔG<tspan font-size="6" dy="2">H*</tspan><tspan dy="-2"> (eV)</tspan></text>
<text x="955" y="769.5" font-size="22" text-anchor="start" font-weight="bold" fill="#000" >(d)</text>
<rect x="692.4" y="967.6" width="554.8" height="228" fill="none" stroke="#6aa84f" stroke-width="1.4" stroke-dasharray="6,4"/>
<text x="659" y="986" font-size="24" text-anchor="start" font-weight="bold" fill="#000" >(e)</text>
<circle cx="849.3" cy="1084.1" r="63" fill="#fdd364" stroke="none" stroke-width="1" />
<polyline points="700.5,1079.1 701.0,1077.4 701.4,1075.7 701.9,1074.0 702.4,1072.4 702.9,1070.8 703.3,1069.3 703.8,1067.9 704.3,1066.7 704.7,1065.6 705.2,1064.7 705.7,1064.1 706.1,1063.6 706.6,1063.4 707.1,1063.4 707.5,1063.7 708.0,1064.2 708.5,1064.9 709.0,1065.8 709.4,1066.9 709.9,1068.1 710.4,1069.6 710.8,1071.1 711.3,1072.7 711.8,1074.4 712.2,1076.1 712.7,1077.8 713.2,1079.4 713.7,1081.0 714.1,1082.5 714.6,1083.9 715.1,1085.1 715.5,1086.1 716.0,1087.0 716.5,1087.6 717.0,1088.0 717.4,1088.2 717.9,1088.1 718.4,1087.9 718.8,1087.3 719.3,1086.6 719.8,1085.7 720.2,1084.6 720.7,1083.3 721.2,1081.9 721.6,1080.3 722.1,1078.7 722.6,1077.0 723.1,1075.3 723.5,1073.6 724.0,1072.0 724.5,1070.4 724.9,1068.9 725.4,1067.6 725.9,1066.4 726.4,1065.4 726.8,1064.5 727.3,1063.9 727.8,1063.6 728.2,1063.4 728.7,1063.5 729.2,1063.8 729.6,1064.3 730.1,1065.1 730.6,1066.1 731.0,1067.2 731.5,1068.5 732.0,1069.9 732.5,1071.5 732.9,1073.1 733.4,1074.8 733.9,1076.5 734.3,1078.2 734.8,1079.8 735.3,1081.4 735.8,1082.9 736.2,1084.2 736.7,1085.4 737.2,1086.4 737.6,1087.1 738.1,1087.7 738.6,1088.1 739.0,1088.2 739.5,1088.1 740.0,1087.7 740.5,1087.2 740.9,1086.4 741.4,1085.4 741.9,1084.2 742.3,1082.9 742.8,1081.5 743.3,1079.9 743.7,1078.3 744.2,1076.6 744.7,1074.9 745.1,1073.2 745.6,1071.6 746.1,1070.0 746.6,1068.6 747.0,1067.2 747.5,1066.1 748.0,1065.1 748.4,1064.4 748.9,1063.8 749.4,1063.5 749.9,1063.4 750.3,1063.5 750.8,1063.9 751.3,1064.5 751.7,1065.3 752.2,1066.3 752.7,1067.5 753.1,1068.9 753.6,1070.3 754.1,1071.9 754.5,1073.5 755.0,1075.2 755.5,1076.9 756.0,1078.6 756.4,1080.2 756.9,1081.8 757.4,1083.2 757.8,1084.5 758.3,1085.6 758.8,1086.6 759.2,1087.3 759.7,1087.8 760.2,1088.1 760.7,1088.2 761.1,1088.0 761.6,1087.6" fill="none" stroke="#f2c232" stroke-width="2.0" stroke-linejoin="round" />
<path d="M761.7 1088 Q763 1077 766 1076.5 L782 1076.5" fill="none" stroke="#f2c232" stroke-width="1.6"/>
<polygon points="780.5,1073.5 786.5,1076.5 780.5,1079.5" fill="#f2c232"/>
<text x="772" y="1071.5" font-size="12" text-anchor="middle" font-weight="bold" fill="#333" >SSL</text>
<circle cx="859.9" cy="1058.4" r="9.5" fill="none" stroke="#e8401a" stroke-width="1.6"/>
<polygon points="862,1050.5 854.5,1060 859.5,1060 857.5,1066.5 865.5,1056.5 860.5,1056.5" fill="#e8401a"/>
<circle cx="860.6" cy="1080.3" r="9.5" fill="#48c050" stroke="none" stroke-width="1" />
<text x="860.6" y="1099.5" font-size="11.5" text-anchor="middle" font-weight="bold" fill="#111" >N</text>
<defs><linearGradient id="gbeam" x1="0" x2="1"><stop offset="0" stop-color="#c040c0" stop-opacity="0.5"/><stop offset="1" stop-color="#e070e0" stop-opacity="0.95"/></linearGradient><radialGradient id="gE" cx="0.4" cy="0.35"><stop offset="0" stop-color="#f0a0f0"/><stop offset="1" stop-color="#a030b0"/></radialGradient><radialGradient id="gH" cx="0.4" cy="0.35"><stop offset="0" stop-color="#a0d0f0"/><stop offset="1" stop-color="#3070b0"/></radialGradient><linearGradient id="garrow" x1="0" x2="1"><stop offset="0" stop-color="#e0f0d8"/><stop offset="1" stop-color="#5aa840"/></linearGradient><radialGradient id="gbub" cx="0.5" cy="0.5"><stop offset="0.7" stop-color="#fff"/><stop offset="1" stop-color="#cfe6f5"/></radialGradient></defs>
<polygon points="848,1080.3 912,1074 912,1085" fill="url(#gbeam)"/>
<circle cx="833.6" cy="1080.3" r="5.2" fill="url(#gE)"/>
<text x="833.6" y="1083.1" font-size="8.5" text-anchor="middle" font-weight="bold" fill="#222" >e<tspan font-size="5" dy="-3">-</tspan></text>
<circle cx="868.7" cy="1080.3" r="5.2" fill="url(#gE)"/>
<text x="868.7" y="1083.1" font-size="8.5" text-anchor="middle" font-weight="bold" fill="#222" >e<tspan font-size="5" dy="-3">-</tspan></text>
<circle cx="912.3" cy="1079.3" r="5.2" fill="url(#gE)"/>
<text x="912.3" y="1082.1" font-size="8.5" text-anchor="middle" font-weight="bold" fill="#222" >e<tspan font-size="5" dy="-3">-</tspan></text>
<circle cx="927.4" cy="1052.8" r="12" fill="url(#gbub)" stroke="#c8e0f0" stroke-width="0.8"/>
<text x="927.4" y="1055.8" font-size="9" text-anchor="middle" font-weight="bold" fill="#333" >H<tspan font-size="4.5" dy="1.5">2</tspan><tspan dy="-1.5">O</tspan></text>
<circle cx="952.7" cy="1100" r="12" fill="url(#gbub)" stroke="#c8e0f0" stroke-width="0.8"/>
<text x="952.7" y="1103" font-size="9" text-anchor="middle" font-weight="bold" fill="#333" >H<tspan font-size="4.5" dy="1.5">2</tspan></text>
<path d="M919 1063 Q921 1092 941 1099" fill="none" stroke="#6aa84f" stroke-width="1.3"/>
<polygon points="937,1095 943,1099.5 936.5,1102" fill="#6aa84f"/>
<text x="771.5" y="1135.3" font-size="10" text-anchor="middle" font-weight="bold" fill="#333" >TEOA</text>
<text x="793.3" y="1164.3" font-size="10" font-weight="bold" fill="#333">TEOA<tspan font-size="6" dy="-4">+</tspan></text>
<path d="M777 1125 Q802 1124 810 1151" fill="none" stroke="#6aa84f" stroke-width="1.3"/>
<polygon points="806.5,1148 813,1148 810.5,1155" fill="#6aa84f"/>
<circle cx="802.6" cy="1127.7" r="4.8" fill="url(#gH)"/>
<text x="802.6" y="1130" font-size="6.5" text-anchor="middle" font-weight="bold" fill="#222" >h<tspan font-size="4" dy="-3">+</tspan></text>
<polygon points="953,1061.3 978,1061.3 978,1049.6 995.7,1073 978,1096.3 978,1084.6 953,1084.6" fill="url(#garrow)"/>
<path d="M1067 1002.5 Q1090 993 1118.2 994.6" fill="none" stroke="#6ab04a" stroke-width="3"/>
<path d="M1179.3 1015.3 Q1197 1026 1203.9 1052.7" fill="none" stroke="#6ab04a" stroke-width="3"/>
<path d="M1201 1119.7 Q1193 1142 1171.4 1155.2" fill="none" stroke="#6ab04a" stroke-width="3"/>
<path d="M1110.3 1172.9 Q1080 1170 1059.1 1154.2" fill="none" stroke="#6ab04a" stroke-width="3"/>
<path d="M1034.5 1092.1 Q1030 1102 1008 1100.5" fill="none" stroke="#6ab04a" stroke-width="2.6"/>
<polygon points="1089,991 1098,995.6 1089,1000" fill="#6ab04a"/>
<polygon points="1192,1030 1198.5,1039 1202,1028.5" fill="#6ab04a"/>
<polygon points="1184,1133 1187,1143 1194,1136" fill="#6ab04a"/>
<polygon points="1085,1162 1076,1166 1083,1171.5" fill="#6ab04a"/>
<polygon points="1013,1096 1004,1100.5 1012,1105" fill="#6ab04a"/>
<defs><radialGradient id="gSB" cx="0.4" cy="0.38" r="0.62"><stop offset="0" stop-color="#d8dcff"/><stop offset="0.3" stop-color="#7c82e0"/><stop offset="1" stop-color="#3c42a8"/></radialGradient><radialGradient id="gSO" cx="0.4" cy="0.38" r="0.62"><stop offset="0" stop-color="#ffc8a0"/><stop offset="0.35" stop-color="#e8742e"/><stop offset="1" stop-color="#a8400e"/></radialGradient><radialGradient id="gSR" cx="0.4" cy="0.38" r="0.62"><stop offset="0" stop-color="#ff9090"/><stop offset="0.4" stop-color="#e02020"/><stop offset="1" stop-color="#900808"/></radialGradient><radialGradient id="gSH" cx="0.4" cy="0.38" r="0.62"><stop offset="0" stop-color="#fff"/><stop offset="1" stop-color="#c8a8b0"/></radialGradient><radialGradient id="gSN" cx="0.4" cy="0.38" r="0.62"><stop offset="0" stop-color="#b0ffb0"/><stop offset="0.4" stop-color="#30c040"/><stop offset="1" stop-color="#108020"/></radialGradient></defs>
<path d="M1024.9 1030.4l2.2 9.5M1037.5 1044.2l3.7 15.3M1032.8 1036.9l-6.0 11.6M1035.1 1031.5l-9.4 4.4M1050.6 1018.9l-8.3 7.8M1027.5 1036.7l11.7 0.5M1057.1 1027.8l4.7 6.8M1044.1 1031.7l7.9 10.9M1020.3 1027.1l-5.6 13.9M1035.4 1010.4l8.7 0.3" stroke="#e0702e" stroke-width="2" stroke-linecap="round" opacity="0.9"/>
<path d="M1034.9 1023.0l15.0 -3.3M1048.9 1030.2l12.0 7.5M1057.5 1040.0l-5.7 -12.1M1031.2 1024.5l13.5 1.9M1040.3 1015.7l-6.8 -9.7M1052.5 1029.1l14.2 -5.0" stroke="#6a70d0" stroke-width="2" stroke-linecap="round" opacity="0.9"/>
<circle cx="1048.9" cy="1015.5" r="3.6" fill="url(#gSO)"/>
<circle cx="1036.0" cy="1006.4" r="3.6" fill="url(#gSO)"/>
<circle cx="1049.6" cy="1006.8" r="3.6" fill="url(#gSO)"/>
<path d="M1023.6,1006.4 L1036.0,988.0" fill="none" stroke="#e0702e" stroke-width="2.0" stroke-linecap="round"/>
<path d="M1023.6,1006.4 L1049.0,1031.0" fill="none" stroke="#e0702e" stroke-width="2.0" stroke-linecap="round"/>
<path d="M1062.0,1045.0 L1074.0,1052.0" fill="none" stroke="#e0702e" stroke-width="2.0" stroke-linecap="round"/>
<path d="M1045.0,1052.0 L1072.0,1046.0" fill="none" stroke="#e0702e" stroke-width="2.0" stroke-linecap="round"/>
<path d="M1065.0,1022.0 L1073.0,1036.0" fill="none" stroke="#e0702e" stroke-width="2.0" stroke-linecap="round"/>
<path d="M1030.0,1050.0 L1050.0,1058.0" fill="none" stroke="#e0702e" stroke-width="2.0" stroke-linecap="round"/>
<path d="M1040.0,990.0 L1044.0,1010.0" fill="none" stroke="#6a70d0" stroke-width="2.0" stroke-linecap="round"/>
<path d="M1052.0,992.0 L1060.0,1000.0" fill="none" stroke="#6a70d0" stroke-width="2.0" stroke-linecap="round"/>
<circle cx="1023.6" cy="1006.4" r="5" fill="url(#gSO)"/>
<circle cx="1065.0" cy="1022.2" r="4.5" fill="url(#gSO)"/>
<circle cx="1062.0" cy="1045.0" r="4" fill="url(#gSO)"/>
<path d="M1038.4,1022.2 L1017.7,1023.2" fill="none" stroke="#6a70d0" stroke-width="2.2" stroke-linecap="round"/>
<path d="M1038.4,1022.2 L1064.0,1007.4" fill="none" stroke="#6a70d0" stroke-width="2.2" stroke-linecap="round"/>
<path d="M1038.4,1022.2 L1049.2,1031.1" fill="none" stroke="#6a70d0" stroke-width="2.2" stroke-linecap="round"/>
<path d="M1038.4,1022.2 L1036.4,1045.8" fill="none" stroke="#6a70d0" stroke-width="2.2" stroke-linecap="round"/>
<path d="M1038.4,1022.2 L1028.1,1022.7" fill="none" stroke="#3cd048" stroke-width="2.0" stroke-linecap="round"/>
<path d="M1038.4,1022.2 L1051.2,1014.8" fill="none" stroke="#3cd048" stroke-width="2.0" stroke-linecap="round"/>
<path d="M1038.4,1022.2 L1043.8,1026.7" fill="none" stroke="#3cd048" stroke-width="2.0" stroke-linecap="round"/>
<circle cx="1017.7" cy="1023.2" r="8.3" fill="url(#gSB)"/>
<circle cx="1064.0" cy="1007.4" r="7.5" fill="url(#gSB)"/>
<circle cx="1049.2" cy="1031.1" r="8.8" fill="url(#gSB)"/>
<circle cx="1036.4" cy="1045.8" r="8.3" fill="url(#gSB)"/>
<circle cx="1038.4" cy="1022.2" r="3.6" fill="url(#gSN)"/>
<path d="M1147.9 1010.9l-9.3 -8.4M1171.0 1022.2l-8.9 -8.3M1171.0 1032.8l-4.8 -12.0M1143.9 1023.3l2.1 12.1M1157.1 1024.1l-6.7 11.7M1138.1 1017.1l-10.2 4.7M1148.4 1009.0l-10.8 -4.1M1146.3 999.3l6.0 -11.7M1168.9 1005.3l-10.8 8.8M1138.9 1005.1l-8.8 -8.6" stroke="#e0702e" stroke-width="2" stroke-linecap="round" opacity="0.9"/>
<path d="M1166.7 1031.4l6.6 12.0M1170.6 1005.4l-7.0 6.8M1167.0 1031.3l-9.1 -9.8M1163.1 1014.2l3.4 12.3M1134.4 1022.5l-12.3 4.2M1171.3 1015.9l-12.5 9.2" stroke="#6a70d0" stroke-width="2" stroke-linecap="round" opacity="0.9"/>
<circle cx="1170.2" cy="1013.4" r="3.6" fill="url(#gSO)"/>
<circle cx="1177.0" cy="1028.1" r="3.6" fill="url(#gSO)"/>
<circle cx="1169.3" cy="1007.1" r="3.6" fill="url(#gSO)"/>
<path d="M1146.8,993.6 L1160.0,978.0" fill="none" stroke="#e0702e" stroke-width="2.0" stroke-linecap="round"/>
<path d="M1150.0,980.0 L1166.0,975.0" fill="none" stroke="#e0702e" stroke-width="2.0" stroke-linecap="round"/>
<path d="M1128.0,1016.0 L1124.0,1030.0" fill="none" stroke="#e0702e" stroke-width="2.0" stroke-linecap="round"/>
<path d="M1132.0,1036.0 L1160.0,1040.0" fill="none" stroke="#e0702e" stroke-width="2.0" stroke-linecap="round"/>
<path d="M1173.0,996.0 L1184.0,1004.0" fill="none" stroke="#e0702e" stroke-width="2.0" stroke-linecap="round"/>
<path d="M1170.0,1030.0 L1184.0,1028.0" fill="none" stroke="#e0702e" stroke-width="2.0" stroke-linecap="round"/>
<path d="M1161.5,1006.4 L1161.0,980.0" fill="none" stroke="#6a70d0" stroke-width="2.0" stroke-linecap="round"/>
<path d="M1180.0,1000.0 L1186.0,990.0" fill="none" stroke="#6a70d0" stroke-width="2.0" stroke-linecap="round"/>
<circle cx="1146.8" cy="993.6" r="4.5" fill="url(#gSO)"/>
<circle cx="1128.0" cy="1016.0" r="4" fill="url(#gSO)"/>
<circle cx="1173.0" cy="996.0" r="3.5" fill="url(#gSO)"/>
<path d="M1161.5,1006.4 L1140.9,1007.4" fill="none" stroke="#6a70d0" stroke-width="2.2" stroke-linecap="round"/>
<path d="M1161.5,1006.4 L1171.4,1016.3" fill="none" stroke="#6a70d0" stroke-width="2.2" stroke-linecap="round"/>
<path d="M1161.5,1006.4 L1158.6,1031.1" fill="none" stroke="#6a70d0" stroke-width="2.2" stroke-linecap="round"/>
<path d="M1161.5,1006.4 L1151.2,1006.9" fill="none" stroke="#3cd048" stroke-width="2.0" stroke-linecap="round"/>
<path d="M1161.5,1006.4 L1166.5,1011.3" fill="none" stroke="#3cd048" stroke-width="2.0" stroke-linecap="round"/>
<path d="M1161.5,1006.4 L1160.0,1018.8" fill="none" stroke="#3cd048" stroke-width="2.0" stroke-linecap="round"/>
<circle cx="1140.9" cy="1007.4" r="8.5" fill="url(#gSB)"/>
<circle cx="1171.4" cy="1016.3" r="8.5" fill="url(#gSB)"/>
<circle cx="1158.6" cy="1031.1" r="7.5" fill="url(#gSB)"/>
<circle cx="1161.5" cy="1006.4" r="3.6" fill="url(#gSN)"/>
<circle cx="1130.0" cy="987.7" r="3.6" fill="url(#gSR)"/>
<circle cx="1123.0" cy="993.6" r="2.1" fill="url(#gSH)"/>
<circle cx="1139.0" cy="989.7" r="2.1" fill="url(#gSH)"/>
<path d="M1210.8 1096.1l-7.2 -5.4M1193.5 1105.3l6.2 -6.4M1210.5 1096.7l8.5 8.8M1214.5 1101.8l-1.5 -13.7M1209.7 1102.0l-13.6 -7.5M1199.6 1081.5l-0.1 10.3M1191.7 1087.4l-3.4 11.4M1217.1 1100.5l-0.1 8.8M1221.1 1098.0l15.9 -0.4M1191.7 1083.1l-2.7 -10.0" stroke="#e0702e" stroke-width="2" stroke-linecap="round" opacity="0.9"/>
<path d="M1222.6 1088.9l-2.7 -13.6M1216.9 1094.8l3.9 -7.2M1192.6 1100.7l-13.1 -6.4M1214.6 1113.8l11.5 -9.9M1214.8 1087.8l5.2 -12.5M1194.4 1085.7l-11.4 9.0" stroke="#6a70d0" stroke-width="2" stroke-linecap="round" opacity="0.9"/>
<circle cx="1189.9" cy="1097.9" r="3.6" fill="url(#gSO)"/>
<circle cx="1225.5" cy="1097.5" r="3.6" fill="url(#gSO)"/>
<circle cx="1228.6" cy="1096.1" r="3.6" fill="url(#gSO)"/>
<path d="M1177.0,1096.0 L1172.0,1108.0" fill="none" stroke="#e0702e" stroke-width="2.0" stroke-linecap="round"/>
<path d="M1194.0,1068.0 L1206.0,1060.0" fill="none" stroke="#e0702e" stroke-width="2.0" stroke-linecap="round"/>
<path d="M1215.0,1112.0 L1238.0,1108.0" fill="none" stroke="#e0702e" stroke-width="2.0" stroke-linecap="round"/>
<path d="M1230.5,1088.2 L1240.0,1098.0" fill="none" stroke="#e0702e" stroke-width="2.0" stroke-linecap="round"/>
<path d="M1185.0,1112.0 L1200.0,1118.0" fill="none" stroke="#e0702e" stroke-width="2.0" stroke-linecap="round"/>
<path d="M1206.9,1085.2 L1207.0,1062.0" fill="none" stroke="#6a70d0" stroke-width="2.0" stroke-linecap="round"/>
<circle cx="1230.5" cy="1088.2" r="4.5" fill="url(#gSO)"/>
<circle cx="1177.0" cy="1096.0" r="4" fill="url(#gSO)"/>
<circle cx="1194.0" cy="1068.0" r="3.5" fill="url(#gSO)"/>
<path d="M1206.9,1085.2 L1186.2,1085.2" fill="none" stroke="#6a70d0" stroke-width="2.2" stroke-linecap="round"/>
<path d="M1206.9,1085.2 L1217.7,1095.1" fill="none" stroke="#6a70d0" stroke-width="2.2" stroke-linecap="round"/>
<path d="M1206.9,1085.2 L1204.9,1109.9" fill="none" stroke="#6a70d0" stroke-width="2.2" stroke-linecap="round"/>
<path d="M1206.9,1085.2 L1229.5,1072.4" fill="none" stroke="#6a70d0" stroke-width="2.2" stroke-linecap="round"/>
<path d="M1206.9,1085.2 L1196.6,1085.2" fill="none" stroke="#3cd048" stroke-width="2.0" stroke-linecap="round"/>
<path d="M1206.9,1085.2 L1212.3,1090.2" fill="none" stroke="#3cd048" stroke-width="2.0" stroke-linecap="round"/>
<path d="M1206.9,1085.2 L1205.9,1097.6" fill="none" stroke="#3cd048" stroke-width="2.0" stroke-linecap="round"/>
<circle cx="1186.2" cy="1085.2" r="8.3" fill="url(#gSB)"/>
<circle cx="1217.7" cy="1095.1" r="8.3" fill="url(#gSB)"/>
<circle cx="1204.9" cy="1109.9" r="7.8" fill="url(#gSB)"/>
<circle cx="1229.5" cy="1072.4" r="7" fill="url(#gSB)"/>
<circle cx="1206.9" cy="1085.2" r="3.6" fill="url(#gSN)"/>
<circle cx="1182.2" cy="1066.5" r="3.6" fill="url(#gSR)"/>
<circle cx="1174.3" cy="1072.4" r="2.1" fill="url(#gSH)"/>
<g stroke="#555" stroke-width="0.9" fill="none"><circle cx="1212" cy="1056" r="2.6"/><circle cx="1215" cy="1062" r="2.6"/><path d="M1210 1058 L1200 1072 M1213 1063 L1198 1068"/></g>
<path d="M1135.9 1180.0l2.8 -7.6M1155.8 1183.0l9.8 9.0M1136.7 1170.7l-9.4 -9.0M1133.6 1171.2l-9.8 -2.3M1151.4 1144.6l-0.2 11.3M1154.5 1159.0l9.6 -0.5M1128.9 1159.1l13.7 -8.2M1151.0 1177.1l10.7 2.7M1147.2 1167.5l3.9 -9.2M1159.6 1171.3l-2.6 -12.8" stroke="#e0702e" stroke-width="2" stroke-linecap="round" opacity="0.9"/>
<path d="M1165.6 1158.7l-1.1 -9.8M1136.7 1178.9l8.2 -9.6M1151.4 1177.9l10.3 7.5M1147.4 1160.0l-7.2 -12.6M1149.2 1169.7l-6.1 -6.1M1130.8 1159.7l-2.0 -10.3" stroke="#6a70d0" stroke-width="2" stroke-linecap="round" opacity="0.9"/>
<circle cx="1156.0" cy="1147.1" r="3.6" fill="url(#gSO)"/>
<circle cx="1159.1" cy="1146.4" r="3.6" fill="url(#gSO)"/>
<circle cx="1154.5" cy="1148.6" r="3.6" fill="url(#gSO)"/>
<path d="M1126.1,1145.3 L1134.0,1130.0" fill="none" stroke="#e0702e" stroke-width="2.0" stroke-linecap="round"/>
<path d="M1112.0,1175.0 L1108.0,1165.0" fill="none" stroke="#e0702e" stroke-width="2.0" stroke-linecap="round"/>
<path d="M1160.0,1180.0 L1170.0,1188.0" fill="none" stroke="#e0702e" stroke-width="2.0" stroke-linecap="round"/>
<path d="M1150.0,1134.0 L1160.0,1128.0" fill="none" stroke="#e0702e" stroke-width="2.0" stroke-linecap="round"/>
<path d="M1140.9,1157.2 L1142.0,1130.0" fill="none" stroke="#6a70d0" stroke-width="2.0" stroke-linecap="round"/>
<circle cx="1126.1" cy="1145.3" r="4.5" fill="url(#gSO)"/>
<circle cx="1165.5" cy="1160.1" r="4.5" fill="url(#gSO)"/>
<circle cx="1112.0" cy="1175.0" r="3.5" fill="url(#gSO)"/>
<path d="M1140.9,1157.2 L1122.1,1160.1" fill="none" stroke="#6a70d0" stroke-width="2.2" stroke-linecap="round"/>
<path d="M1140.9,1157.2 L1151.7,1168.0" fill="none" stroke="#6a70d0" stroke-width="2.2" stroke-linecap="round"/>
<path d="M1140.9,1157.2 L1139.9,1182.8" fill="none" stroke="#6a70d0" stroke-width="2.2" stroke-linecap="round"/>
<path d="M1140.9,1157.2 L1165.5,1145.3" fill="none" stroke="#6a70d0" stroke-width="2.2" stroke-linecap="round"/>
<path d="M1140.9,1157.2 L1131.5,1158.7" fill="none" stroke="#3cd048" stroke-width="2.0" stroke-linecap="round"/>
<path d="M1140.9,1157.2 L1146.3,1162.6" fill="none" stroke="#3cd048" stroke-width="2.0" stroke-linecap="round"/>
<path d="M1140.9,1157.2 L1140.4,1170.0" fill="none" stroke="#3cd048" stroke-width="2.0" stroke-linecap="round"/>
<circle cx="1122.1" cy="1160.1" r="8.3" fill="url(#gSB)"/>
<circle cx="1151.7" cy="1168.0" r="8.3" fill="url(#gSB)"/>
<circle cx="1139.9" cy="1182.8" r="7.8" fill="url(#gSB)"/>
<circle cx="1165.5" cy="1145.3" r="7" fill="url(#gSB)"/>
<circle cx="1140.9" cy="1157.2" r="3.6" fill="url(#gSN)"/>
<circle cx="1132.0" cy="1143.4" r="3.4" fill="url(#gSR)"/>
<circle cx="1140.0" cy="1142.4" r="2" fill="url(#gSH)"/>
<circle cx="1125.0" cy="1132.5" r="2" fill="url(#gSH)"/>
<path d="M1030.3 1151.9l-4.7 8.0M1026.6 1149.5l8.0 10.6M1016.7 1139.3l8.6 -4.7M1053.8 1132.8l14.1 -3.6M1033.2 1129.5l6.3 -12.7M1054.8 1117.9l13.7 -2.1M1023.3 1119.4l-12.7 -1.2M1057.0 1129.5l12.3 -5.7M1042.0 1138.4l-14.2 1.7M1053.4 1116.7l-7.1 -4.0" stroke="#e0702e" stroke-width="2" stroke-linecap="round" opacity="0.9"/>
<path d="M1045.6 1126.4l4.0 -15.1M1033.3 1139.9l-10.0 4.7M1028.8 1132.5l14.4 -6.9M1026.2 1143.2l-14.1 -0.4M1046.4 1142.7l-2.6 9.8M1039.5 1138.8l7.1 -7.8" stroke="#6a70d0" stroke-width="2" stroke-linecap="round" opacity="0.9"/>
<circle cx="1034.8" cy="1116.8" r="3.6" fill="url(#gSO)"/>
<circle cx="1018.4" cy="1122.8" r="3.6" fill="url(#gSO)"/>
<circle cx="1030.5" cy="1123.2" r="3.6" fill="url(#gSO)"/>
<path d="M1026.6,1108.9 L1040.0,1098.0" fill="none" stroke="#e0702e" stroke-width="2.0" stroke-linecap="round"/>
<path d="M1040.0,1098.0 L1045.0,1104.0" fill="none" stroke="#e0702e" stroke-width="2.0" stroke-linecap="round"/>
<path d="M1058.0,1155.0 L1070.0,1150.0" fill="none" stroke="#e0702e" stroke-width="2.0" stroke-linecap="round"/>
<path d="M1040.0,1160.0 L1060.0,1162.0" fill="none" stroke="#e0702e" stroke-width="2.0" stroke-linecap="round"/>
<path d="M1036.4,1127.6 L1040.0,1100.0" fill="none" stroke="#6a70d0" stroke-width="2.0" stroke-linecap="round"/>
<circle cx="1026.6" cy="1108.9" r="5" fill="url(#gSO)"/>
<circle cx="1060.1" cy="1137.5" r="4.5" fill="url(#gSO)"/>
<circle cx="1058.0" cy="1155.0" r="3.8" fill="url(#gSO)"/>
<path d="M1036.4,1127.6 L1016.7,1121.7" fill="none" stroke="#6a70d0" stroke-width="2.2" stroke-linecap="round"/>
<path d="M1036.4,1127.6 L1066.0,1122.7" fill="none" stroke="#6a70d0" stroke-width="2.2" stroke-linecap="round"/>
<path d="M1036.4,1127.6 L1043.3,1140.4" fill="none" stroke="#6a70d0" stroke-width="2.2" stroke-linecap="round"/>
<path d="M1036.4,1127.6 L1024.6,1151.2" fill="none" stroke="#6a70d0" stroke-width="2.2" stroke-linecap="round"/>
<path d="M1036.4,1127.6 L1026.6,1124.7" fill="none" stroke="#3cd048" stroke-width="2.0" stroke-linecap="round"/>
<path d="M1036.4,1127.6 L1051.2,1125.2" fill="none" stroke="#3cd048" stroke-width="2.0" stroke-linecap="round"/>
<path d="M1036.4,1127.6 L1039.8,1134.0" fill="none" stroke="#3cd048" stroke-width="2.0" stroke-linecap="round"/>
<circle cx="1016.7" cy="1121.7" r="8.3" fill="url(#gSB)"/>
<circle cx="1066.0" cy="1122.7" r="7.5" fill="url(#gSB)"/>
<circle cx="1043.3" cy="1140.4" r="8.8" fill="url(#gSB)"/>
<circle cx="1024.6" cy="1151.2" r="8.3" fill="url(#gSB)"/>
<circle cx="1036.4" cy="1127.6" r="3.6" fill="url(#gSN)"/>
<circle cx="1034.5" cy="1085.0" r="2.2" fill="url(#gSH)"/>
<circle cx="1003.0" cy="1094.0" r="2" fill="url(#gSH)"/>
<circle cx="1001.0" cy="1099.0" r="2" fill="url(#gSH)"/>
<circle cx="1084.0" cy="1040.5" r="3.3" fill="#d82020"/>
<circle cx="1083.2" cy="1039.7" r="1.5" fill="#fff" fill-opacity="0.35"/>
<circle cx="1079.0" cy="1044.0" r="1.8" fill="#e8c8d0"/>
<circle cx="1078.5" cy="1043.5" r="0.8" fill="#fff" fill-opacity="0.35"/>
<circle cx="1089.0" cy="1044.0" r="1.8" fill="#e8c8d0"/>
<circle cx="1088.5" cy="1043.5" r="0.8" fill="#fff" fill-opacity="0.35"/>
<circle cx="1081.0" cy="1060.5" r="3.2" fill="#e8c0c8"/>
<circle cx="1080.2" cy="1059.7" r="1.4" fill="#fff" fill-opacity="0.35"/>
<circle cx="1087.5" cy="1060.5" r="3.2" fill="#e8c0c8"/>
<circle cx="1086.7" cy="1059.7" r="1.4" fill="#fff" fill-opacity="0.35"/>
<circle cx="1084.0" cy="1077.0" r="2.8" fill="#e8c0c8"/>
<circle cx="1083.3" cy="1076.3" r="1.3" fill="#fff" fill-opacity="0.35"/>
<circle cx="1084.0" cy="1091.6" r="3.2" fill="#3040b0"/>
<circle cx="1083.2" cy="1090.8" r="1.4" fill="#fff" fill-opacity="0.35"/>
<circle cx="1084.0" cy="1105.9" r="3.2" fill="#d04018"/>
<circle cx="1083.2" cy="1105.1" r="1.4" fill="#fff" fill-opacity="0.35"/>
<circle cx="1084.0" cy="1120.2" r="3.2" fill="#20b030"/>
<circle cx="1083.2" cy="1119.4" r="1.4" fill="#fff" fill-opacity="0.35"/>
<text x="1115" y="1045.3" font-size="10.8" text-anchor="middle" font-weight="bold" fill="#222" >H<tspan font-size="6" dy="2">2</tspan><tspan dy="-2">O</tspan></text>
<text x="1115" y="1064" font-size="10.8" text-anchor="middle" font-weight="bold" fill="#222" >H<tspan font-size="6" dy="2">2</tspan></text>
<text x="1115" y="1080.3" font-size="10.8" text-anchor="middle" font-weight="bold" fill="#222" >H</text>
<text x="1115" y="1095" font-size="10.8" text-anchor="middle" font-weight="bold" fill="#222" >Cd</text>
<text x="1115" y="1109.3" font-size="10.8" text-anchor="middle" font-weight="bold" fill="#222" >S</text>
<text x="1115" y="1123.6" font-size="10.8" text-anchor="middle" font-weight="bold" fill="#222" >N</text>
<text transform="translate(1073,989) rotate(-5)" font-size="10.5" font-weight="bold" fill="#222">Step 1</text>
<text transform="translate(1199,1014) rotate(62)" font-size="10.5" font-weight="bold" fill="#222">Step 2</text>
<text transform="translate(1192,1161) rotate(-57)" font-size="10.5" font-weight="bold" fill="#222">Step 3</text>
<text transform="translate(1058.5,1170) rotate(22)" font-size="10.5" font-weight="bold" fill="#222">Step 4</text>
</svg></body></html>
